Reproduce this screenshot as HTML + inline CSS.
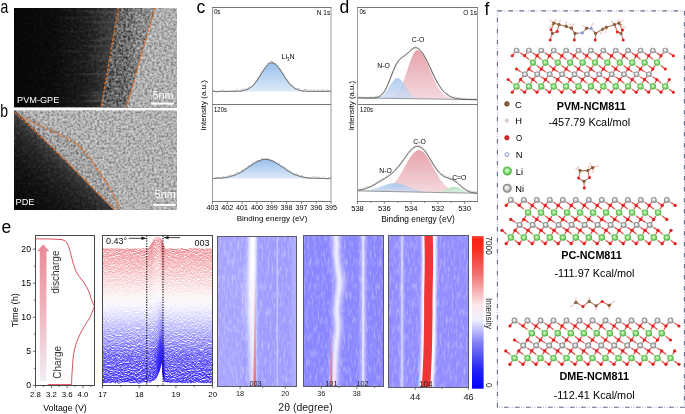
<!DOCTYPE html>
<html><head><meta charset="utf-8"><style>
html,body{margin:0;padding:0;background:#fff;width:685px;height:414px;overflow:hidden;}
svg{display:block;filter:grayscale(0.001);}
text{font-family:"Liberation Sans",sans-serif;}
</style></head><body>
<svg width="685" height="414" viewBox="0 0 685 414">
<defs>
<filter id="noiseA" x="0" y="0" width="100%" height="100%">
 <feTurbulence type="fractalNoise" baseFrequency="0.55" numOctaves="2" seed="4" result="t"/>
 <feColorMatrix type="matrix" values="0 0 0 0 0  0 0 0 0 0  0 0 0 0 0  1.6 0 0 0 -0.55" />
</filter>
<filter id="noiseB" x="0" y="0" width="100%" height="100%">
 <feTurbulence type="fractalNoise" baseFrequency="0.6" numOctaves="2" seed="9" result="t"/>
 <feColorMatrix type="matrix" values="0 0 0 0 1  0 0 0 0 1  0 0 0 0 1  1.6 0 0 0 -0.6" />
</filter>
<linearGradient id="gA" x1="0" x2="1" y1="0" y2="0">
 <stop offset="0" stop-color="#070707"/><stop offset="0.45" stop-color="#101010"/>
 <stop offset="0.8" stop-color="#222"/><stop offset="1" stop-color="#383838"/>
</linearGradient>
<linearGradient id="gB" x1="0" x2="1" y1="0" y2="1">
 <stop offset="0" stop-color="#151515"/><stop offset="0.6" stop-color="#202020"/>
 <stop offset="1" stop-color="#3a3a3a"/>
</linearGradient>
<clipPath id="cpA"><rect x="14" y="8" width="163" height="99.5"/></clipPath>
<clipPath id="cpB"><rect x="14" y="110.5" width="163" height="99"/></clipPath>
<linearGradient id="gN" x1="0" x2="0" y1="0" y2="1">
 <stop offset="0" stop-color="#98c0ec"/><stop offset="1" stop-color="#dde9f8"/>
</linearGradient>
<linearGradient id="gR" x1="0" x2="0" y1="0" y2="1">
 <stop offset="0" stop-color="#e3939e"/><stop offset="1" stop-color="#f2d3d9"/>
</linearGradient>
<linearGradient id="gBl" x1="0" x2="0" y1="0" y2="1">
 <stop offset="0" stop-color="#a0c4ee"/><stop offset="1" stop-color="#cfdaf2"/>
</linearGradient>
<linearGradient id="gG" x1="0" x2="0" y1="0" y2="1">
 <stop offset="0" stop-color="#a8e0b8"/><stop offset="1" stop-color="#d8f0e0"/>
</linearGradient>
<linearGradient id="gArrow" x1="0" x2="0" y1="0" y2="1">
 <stop offset="0" stop-color="#e98a95"/><stop offset="0.5" stop-color="#efb6be"/><stop offset="1" stop-color="#f1eef6"/>
</linearGradient>
<linearGradient id="gCB" x1="0" x2="0" y1="0" y2="1">
 <stop offset="0" stop-color="#f25050"/><stop offset="0.02" stop-color="#fa2414"/><stop offset="0.08" stop-color="#f82a1c"/><stop offset="0.25" stop-color="#f07070"/>
 <stop offset="0.45" stop-color="#fbe8e8"/><stop offset="0.55" stop-color="#f0f0ff"/><stop offset="0.7" stop-color="#8080f4"/>
 <stop offset="0.88" stop-color="#2020f4"/><stop offset="1" stop-color="#0000ff"/>
</linearGradient>
<linearGradient id="gWB" x1="0" x2="1" y1="0" y2="0">
 <stop offset="0" stop-color="#fff" stop-opacity="0"/><stop offset="0.5" stop-color="#fff" stop-opacity="1"/><stop offset="1" stop-color="#fff" stop-opacity="0"/>
</linearGradient>
</defs>
<text x="196.5" y="12.5" font-size="17.5" text-anchor="start" font-weight="normal" fill="#000" >c</text>
<text x="339.5" y="12.5" font-size="17.5" text-anchor="start" font-weight="normal" fill="#000" >d</text>
<text x="1.5" y="233" font-size="17.5" text-anchor="start" font-weight="normal" fill="#000" >e</text>
<text x="484.5" y="14.5" font-size="17.5" text-anchor="start" font-weight="normal" fill="#000" >f</text>
<text transform="translate(0.4,12.5) scale(0.8,1)" font-size="17.5">a</text>
<text transform="translate(0.2,116.5) scale(0.8,1)" font-size="17.5">b</text>
<filter id="grainA" x="0" y="0" width="1" height="1" color-interpolation-filters="sRGB">
 <feTurbulence type="fractalNoise" baseFrequency="0.42" numOctaves="2" seed="3" result="n0"/>
 <feGaussianBlur in="n0" stdDeviation="0.6" result="n"/>
 <feColorMatrix in="n" type="matrix" values="1.7 0 0 0 -0.35  1.7 0 0 0 -0.35  1.7 0 0 0 -0.35  0 0 0 0 1" result="g"/>
 <feBlend in="g" in2="SourceGraphic" mode="soft-light" result="b"/>
 <feComposite in="b" in2="SourceGraphic" operator="in"/>
</filter>
<filter id="grainDark" x="0" y="0" width="1" height="1" color-interpolation-filters="sRGB">
 <feTurbulence type="fractalNoise" baseFrequency="0.35" numOctaves="2" seed="5" result="n"/>
 <feColorMatrix in="n" type="matrix" values="0.5 0 0 0 0.25  0.5 0 0 0 0.25  0.5 0 0 0 0.25  0 0 0 0 1" result="g"/>
 <feBlend in="g" in2="SourceGraphic" mode="soft-light" result="b"/>
 <feComposite in="b" in2="SourceGraphic" operator="in"/>
</filter>
<filter id="grainB" x="0" y="0" width="1" height="1" color-interpolation-filters="sRGB">
 <feTurbulence type="fractalNoise" baseFrequency="0.42" numOctaves="2" seed="8" result="n0"/>
 <feGaussianBlur in="n0" stdDeviation="0.6" result="n"/>
 <feColorMatrix in="n" type="matrix" values="1.7 0 0 0 -0.35  1.7 0 0 0 -0.35  1.7 0 0 0 -0.35  0 0 0 0 1" result="g"/>
 <feBlend in="g" in2="SourceGraphic" mode="soft-light" result="b"/>
 <feComposite in="b" in2="SourceGraphic" operator="in"/>
</filter>
<linearGradient id="gA2" gradientUnits="userSpaceOnUse" x1="14" y1="0" x2="118" y2="0">
 <stop offset="0" stop-color="#060606"/><stop offset="0.4" stop-color="#0c0c0c"/>
 <stop offset="0.7" stop-color="#1c1c1c"/><stop offset="1" stop-color="#464646"/>
</linearGradient>
<linearGradient id="gB2" gradientUnits="userSpaceOnUse" x1="14" y1="209" x2="61.7" y2="158.8">
 <stop offset="0" stop-color="#060606"/><stop offset="0.5" stop-color="#131313"/>
 <stop offset="0.8" stop-color="#252525"/><stop offset="0.95" stop-color="#363636"/><stop offset="1" stop-color="#444"/>
</linearGradient>

<rect x="14" y="8" width="163" height="99.5" fill="url(#gA2)" filter="url(#grainDark)"/>
<filter id="streak" x="0" y="0" width="1" height="1" color-interpolation-filters="sRGB"><feTurbulence type="fractalNoise" baseFrequency="0.025 0.3" numOctaves="2" seed="2"/><feColorMatrix type="matrix" values="0 0 0 0 1  0 0 0 0 1  0 0 0 0 1  2.2 0 0 0 -1.05"/></filter>
<linearGradient id="streakFade" gradientUnits="userSpaceOnUse" x1="45" y1="0" x2="112" y2="0"><stop offset="0" stop-color="#fff" stop-opacity="0"/><stop offset="1" stop-color="#fff" stop-opacity="1"/></linearGradient>
<mask id="streakMask"><rect x="14" y="8" width="110" height="100" fill="url(#streakFade)"/></mask>
<filter id="cloud" x="0" y="0" width="1" height="1" color-interpolation-filters="sRGB"><feTurbulence type="fractalNoise" baseFrequency="0.12" numOctaves="2" seed="6"/><feColorMatrix type="matrix" values="0 0 0 0 1  0 0 0 0 1  0 0 0 0 1  1.6 0 0 0 -0.75"/></filter>
<clipPath id="cpMid"><polygon points="118.4,8 154.8,8 126.3,107.5 101.1,107.5"/></clipPath>
<clipPath id="cpLeftA"><polygon points="14,8 118.4,8 101.1,107.5 14,107.5"/></clipPath>
<g clip-path="url(#cpLeftA)"><rect x="14" y="8" width="110" height="99.5" filter="url(#streak)" mask="url(#streakMask)" opacity="0.18"/></g>
<g filter="url(#grainA)">
<linearGradient id="gMid" gradientUnits="userSpaceOnUse" x1="110" y1="0" x2="142" y2="0"><stop offset="0" stop-color="#5a5a5a"/><stop offset="0.6" stop-color="#6c6c6c"/><stop offset="1" stop-color="#8a8a8a"/></linearGradient>
<polygon points="118.4,8 154.8,8 126.3,107.5 101.1,107.5" fill="url(#gMid)"/>
<polygon points="154.8,8 177,8 177,107.5 126.3,107.5" fill="#b0b0b0"/>
</g>
<g clip-path="url(#cpMid)"><rect x="100" y="8" width="56" height="99.5" filter="url(#cloud)" opacity="0.3"/></g>
<g fill="none" stroke="#e06c1e" stroke-width="1.3" stroke-dasharray="2.8 1.6"><line x1="118.4" y1="8" x2="101.1" y2="107.5"/><line x1="154.8" y1="8" x2="126.3" y2="107.5"/></g>
<text x="17" y="102.5" font-size="9.2" text-anchor="start" font-weight="normal" fill="#fff" >PVM-GPE</text>
<text x="152.4" y="98.9" font-size="10.9" text-anchor="start" font-weight="normal" fill="#fff" >5nm</text>
<rect x="150.9" y="102.6" width="22.9" height="2" fill="#fff"/>
<g filter="url(#grainB)">
<rect x="14" y="110.5" width="163" height="99.5" fill="#b2b2b2"/>
<path d="M14,110.5 L20,110.5 C35,121 60,132 74,140 C88,150 96,166 108,183 C114,194 117,202 119,210 L14,210 Z" fill="#a4a4a4"/>
</g>
<path d="M14,110.5 L15.5,110.5 C40,135 70,165 114,210 L14,210 Z" fill="url(#gB2)" filter="url(#grainDark)"/>
<g fill="none" stroke="#e06c1e" stroke-width="1.3" stroke-dasharray="2.8 1.6"><path d="M14.8,112.4 C40,135 70,165 114,209"/><path d="M22,117 C35,124 60,134 74,142 C88,152 96,168 108,185 C114,195 117,202 119,209"/></g>
<text x="15.5" y="205.4" font-size="9.2" text-anchor="start" font-weight="normal" fill="#fff" >PDE</text>
<text x="154.6" y="198.1" font-size="10.9" text-anchor="start" font-weight="normal" fill="#fff" >5nm</text>
<rect x="153.1" y="204" width="22.7" height="1.9" fill="#fff"/>
<rect x="212.5" y="7.5" width="118.5" height="194.0" fill="#fff"/>
<path d="M240.5,91.5 L240.5,91.1 L241,91 L241.5,91 L242,90.9 L242.5,90.8 L243,90.7 L243.5,90.6 L244,90.5 L244.5,90.4 L245,90.2 L245.5,90.1 L246,89.9 L246.5,89.7 L247,89.5 L247.5,89.3 L248,89.1 L248.5,88.8 L249,88.5 L249.5,88.2 L250,87.9 L250.5,87.5 L251,87.2 L251.5,86.7 L252,86.3 L252.5,85.9 L253,85.4 L253.5,84.9 L254,84.3 L254.5,83.8 L255,83.2 L255.5,82.5 L256,81.9 L256.5,81.2 L257,80.5 L257.5,79.8 L258,79.1 L258.5,78.3 L259,77.5 L259.5,76.8 L260,76 L260.5,75.2 L261,74.4 L261.5,73.5 L262,72.7 L262.5,71.9 L263,71.1 L263.5,70.4 L264,69.6 L264.5,68.9 L265,68.2 L265.5,67.5 L266,66.8 L266.5,66.2 L267,65.6 L267.5,65.1 L268,64.6 L268.5,64.2 L269,63.8 L269.5,63.5 L270,63.2 L270.5,63 L271,62.8 L271.5,62.7 L272,62.7 L272.5,62.7 L273,62.8 L273.5,63 L274,63.2 L274.5,63.5 L275,63.8 L275.5,64.2 L276,64.6 L276.5,65.1 L277,65.6 L277.5,66.2 L278,66.8 L278.5,67.5 L279,68.2 L279.5,68.9 L280,69.6 L280.5,70.4 L281,71.1 L281.5,71.9 L282,72.7 L282.5,73.5 L283,74.4 L283.5,75.2 L284,76 L284.5,76.8 L285,77.5 L285.5,78.3 L286,79.1 L286.5,79.8 L287,80.5 L287.5,81.2 L288,81.9 L288.5,82.5 L289,83.2 L289.5,83.8 L290,84.3 L290.5,84.9 L291,85.4 L291.5,85.9 L292,86.3 L292.5,86.7 L293,87.2 L293.5,87.5 L294,87.9 L294.5,88.2 L295,88.5 L295.5,88.8 L296,89.1 L296.5,89.3 L297,89.5 L297.5,89.7 L298,89.9 L298.5,90.1 L299,90.2 L299.5,90.4 L300,90.5 L300.5,90.6 L301,90.7 L301.5,90.8 L302,90.9 L302.5,91 L303,91 L303.5,91.1 L303.5,91.5 Z" fill="url(#gN)"/>
<path d="M212.5,91.2 L213.5,90.4 L214.5,90.7 L215.5,91.9 L216.5,91.9 L217.5,91.8 L218.5,91 L219.5,91.7 L220.5,90.5 L221.5,90.6 L222.5,89.7 L223.5,89.9 L224.5,91.7 L225.5,91.3 L226.5,91.6 L227.5,90.5 L228.5,90.7 L229.5,91.8 L230.5,90.3 L231.5,91.2 L232.5,90.9 L233.5,90 L234.5,91.3 L235.5,90.6 L236.5,90.1 L237.5,89.5 L238.5,90.8 L239.5,91.3 L240.5,91.5 L241.5,89.6 L242.5,89.2 L243.5,89.4 L244.5,89.5 L245.5,88.6 L246.5,89.1 L247.5,89.7 L248.5,87.7 L249.5,86.7 L250.5,87.1 L251.5,87.2 L252.5,86 L253.5,85.2 L254.5,83.9 L255.5,82.1 L256.5,81.5 L257.5,79 L258.5,76.8 L259.5,76.6 L260.5,74.8 L261.5,71.7 L262.5,72 L263.5,70.3 L264.5,68 L265.5,68 L266.5,65.8 L267.5,63.3 L268.5,63.4 L269.5,62.3 L270.5,61.3 L271.5,61.1 L272.5,62.3 L273.5,63.2 L274.5,63.8 L275.5,64.2 L276.5,64.8 L277.5,66.7 L278.5,67.7 L279.5,69.3 L280.5,69.4 L281.5,71.8 L282.5,73.2 L283.5,73.6 L284.5,76.1 L285.5,78.6 L286.5,79.5 L287.5,79.7 L288.5,83 L289.5,83 L290.5,84.1 L291.5,85.1 L292.5,85.2 L293.5,87.4 L294.5,88.3 L295.5,88 L296.5,89 L297.5,88.3 L298.5,88.5 L299.5,88.9 L300.5,90.6 L301.5,90.5 L302.5,91.4 L303.5,91 L304.5,89.4 L305.5,89.5 L306.5,89.5 L307.5,91.3 L308.5,91.4 L309.5,90.4 L310.5,89.9 L311.5,90.4 L312.5,91.8 L313.5,89.8 L314.5,90.2 L315.5,91.6 L316.5,91.2 L317.5,89.7 L318.5,91 L319.5,90.3 L320.5,91.7 L321.5,89.8 L322.5,91.6 L323.5,89.6 L324.5,91.2 L325.5,91.7 L326.5,89.7 L327.5,90.7 L328.5,91 L329.5,90 L330.5,91.4" fill="none" stroke="#8c8c8c" stroke-width="0.6"/>
<path d="M212.5,91.5 L213,91.5 L213.5,91.5 L214,91.5 L214.5,91.5 L215,91.5 L215.5,91.5 L216,91.5 L216.5,91.5 L217,91.5 L217.5,91.5 L218,91.5 L218.5,91.5 L219,91.5 L219.5,91.5 L220,91.5 L220.5,91.5 L221,91.5 L221.5,91.5 L222,91.5 L222.5,91.5 L223,91.5 L223.5,91.5 L224,91.5 L224.5,91.5 L225,91.5 L225.5,91.5 L226,91.5 L226.5,91.5 L227,91.5 L227.5,91.5 L228,91.5 L228.5,91.5 L229,91.5 L229.5,91.5 L230,91.5 L230.5,91.5 L231,91.5 L231.5,91.5 L232,91.5 L232.5,91.5 L233,91.5 L233.5,91.4 L234,91.4 L234.5,91.4 L235,91.4 L235.5,91.4 L236,91.4 L236.5,91.4 L237,91.3 L237.5,91.3 L238,91.3 L238.5,91.3 L239,91.2 L239.5,91.2 L240,91.1 L240.5,91.1 L241,91 L241.5,91 L242,90.9 L242.5,90.8 L243,90.7 L243.5,90.6 L244,90.5 L244.5,90.4 L245,90.2 L245.5,90.1 L246,89.9 L246.5,89.7 L247,89.5 L247.5,89.3 L248,89.1 L248.5,88.8 L249,88.5 L249.5,88.2 L250,87.9 L250.5,87.5 L251,87.2 L251.5,86.7 L252,86.3 L252.5,85.9 L253,85.4 L253.5,84.9 L254,84.3 L254.5,83.8 L255,83.2 L255.5,82.5 L256,81.9 L256.5,81.2 L257,80.5 L257.5,79.8 L258,79.1 L258.5,78.3 L259,77.5 L259.5,76.8 L260,76 L260.5,75.2 L261,74.4 L261.5,73.5 L262,72.7 L262.5,71.9 L263,71.1 L263.5,70.4 L264,69.6 L264.5,68.9 L265,68.2 L265.5,67.5 L266,66.8 L266.5,66.2 L267,65.6 L267.5,65.1 L268,64.6 L268.5,64.2 L269,63.8 L269.5,63.5 L270,63.2 L270.5,63 L271,62.8 L271.5,62.7 L272,62.7 L272.5,62.7 L273,62.8 L273.5,63 L274,63.2 L274.5,63.5 L275,63.8 L275.5,64.2 L276,64.6 L276.5,65.1 L277,65.6 L277.5,66.2 L278,66.8 L278.5,67.5 L279,68.2 L279.5,68.9 L280,69.6 L280.5,70.4 L281,71.1 L281.5,71.9 L282,72.7 L282.5,73.5 L283,74.4 L283.5,75.2 L284,76 L284.5,76.8 L285,77.5 L285.5,78.3 L286,79.1 L286.5,79.8 L287,80.5 L287.5,81.2 L288,81.9 L288.5,82.5 L289,83.2 L289.5,83.8 L290,84.3 L290.5,84.9 L291,85.4 L291.5,85.9 L292,86.3 L292.5,86.7 L293,87.2 L293.5,87.5 L294,87.9 L294.5,88.2 L295,88.5 L295.5,88.8 L296,89.1 L296.5,89.3 L297,89.5 L297.5,89.7 L298,89.9 L298.5,90.1 L299,90.2 L299.5,90.4 L300,90.5 L300.5,90.6 L301,90.7 L301.5,90.8 L302,90.9 L302.5,91 L303,91 L303.5,91.1 L304,91.1 L304.5,91.2 L305,91.2 L305.5,91.3 L306,91.3 L306.5,91.3 L307,91.3 L307.5,91.4 L308,91.4 L308.5,91.4 L309,91.4 L309.5,91.4 L310,91.4 L310.5,91.4 L311,91.5 L311.5,91.5 L312,91.5 L312.5,91.5 L313,91.5 L313.5,91.5 L314,91.5 L314.5,91.5 L315,91.5 L315.5,91.5 L316,91.5 L316.5,91.5 L317,91.5 L317.5,91.5 L318,91.5 L318.5,91.5 L319,91.5 L319.5,91.5 L320,91.5 L320.5,91.5 L321,91.5 L321.5,91.5 L322,91.5 L322.5,91.5 L323,91.5 L323.5,91.5 L324,91.5 L324.5,91.5 L325,91.5 L325.5,91.5 L326,91.5 L326.5,91.5 L327,91.5 L327.5,91.5 L328,91.5 L328.5,91.5 L329,91.5 L329.5,91.5 L330,91.5 L330.5,91.5 L331,91.5" fill="none" stroke="#4a4a4a" stroke-width="0.8"/>
<path d="M219.5,178.6 L219.5,178.2 L220,178.2 L220.5,178.1 L221,178.1 L221.5,178 L222,178 L222.5,177.9 L223,177.9 L223.5,177.8 L224,177.8 L224.5,177.7 L225,177.6 L225.5,177.5 L226,177.5 L226.5,177.4 L227,177.3 L227.5,177.2 L228,177.1 L228.5,177 L229,176.9 L229.5,176.8 L230,176.6 L230.5,176.5 L231,176.4 L231.5,176.2 L232,176.1 L232.5,175.9 L233,175.8 L233.5,175.6 L234,175.4 L234.5,175.2 L235,175 L235.5,174.8 L236,174.6 L236.5,174.4 L237,174.2 L237.5,174 L238,173.7 L238.5,173.5 L239,173.2 L239.5,173 L240,172.7 L240.5,172.4 L241,172.1 L241.5,171.8 L242,171.6 L242.5,171.2 L243,170.9 L243.5,170.6 L244,170.3 L244.5,170 L245,169.6 L245.5,169.3 L246,169 L246.5,168.6 L247,168.3 L247.5,167.9 L248,167.6 L248.5,167.2 L249,166.9 L249.5,166.5 L250,166.2 L250.5,165.8 L251,165.5 L251.5,165.1 L252,164.8 L252.5,164.5 L253,164.1 L253.5,163.8 L254,163.5 L254.5,163.2 L255,162.9 L255.5,162.6 L256,162.3 L256.5,162 L257,161.8 L257.5,161.5 L258,161.3 L258.5,161 L259,160.8 L259.5,160.6 L260,160.4 L260.5,160.3 L261,160.1 L261.5,159.9 L262,159.8 L262.5,159.7 L263,159.6 L263.5,159.5 L264,159.5 L264.5,159.4 L265,159.4 L265.5,159.4 L266,159.4 L266.5,159.4 L267,159.5 L267.5,159.5 L268,159.6 L268.5,159.7 L269,159.8 L269.5,159.9 L270,160.1 L270.5,160.3 L271,160.4 L271.5,160.6 L272,160.8 L272.5,161 L273,161.3 L273.5,161.5 L274,161.8 L274.5,162 L275,162.3 L275.5,162.6 L276,162.9 L276.5,163.2 L277,163.5 L277.5,163.8 L278,164.1 L278.5,164.5 L279,164.8 L279.5,165.1 L280,165.5 L280.5,165.8 L281,166.2 L281.5,166.5 L282,166.9 L282.5,167.2 L283,167.6 L283.5,167.9 L284,168.3 L284.5,168.6 L285,169 L285.5,169.3 L286,169.6 L286.5,170 L287,170.3 L287.5,170.6 L288,170.9 L288.5,171.2 L289,171.6 L289.5,171.8 L290,172.1 L290.5,172.4 L291,172.7 L291.5,173 L292,173.2 L292.5,173.5 L293,173.7 L293.5,174 L294,174.2 L294.5,174.4 L295,174.6 L295.5,174.8 L296,175 L296.5,175.2 L297,175.4 L297.5,175.6 L298,175.8 L298.5,175.9 L299,176.1 L299.5,176.2 L300,176.4 L300.5,176.5 L301,176.6 L301.5,176.8 L302,176.9 L302.5,177 L303,177.1 L303.5,177.2 L304,177.3 L304.5,177.4 L305,177.5 L305.5,177.5 L306,177.6 L306.5,177.7 L307,177.8 L307.5,177.8 L308,177.9 L308.5,177.9 L309,178 L309.5,178 L310,178.1 L310.5,178.1 L311,178.2 L311.5,178.2 L311.5,178.6 Z" fill="url(#gN)"/>
<path d="M212.5,178.4 L213.5,178.3 L214.5,178.6 L215.5,178 L216.5,177.5 L217.5,177.8 L218.5,177.5 L219.5,177.4 L220.5,177.6 L221.5,178.5 L222.5,178 L223.5,176.6 L224.5,177.4 L225.5,176.7 L226.5,177.6 L227.5,177.1 L228.5,175.6 L229.5,175.9 L230.5,174.8 L231.5,175.3 L232.5,175.2 L233.5,175 L234.5,174.6 L235.5,173.7 L236.5,172.7 L237.5,173.1 L238.5,172 L239.5,173.2 L240.5,172.7 L241.5,172.2 L242.5,169.9 L243.5,170.8 L244.5,168.9 L245.5,167.7 L246.5,168.6 L247.5,167.5 L248.5,165.4 L249.5,166.6 L250.5,165.1 L251.5,165.2 L252.5,163.2 L253.5,163 L254.5,163.6 L255.5,161.6 L256.5,162.4 L257.5,160.1 L258.5,161.3 L259.5,161 L260.5,160.1 L261.5,159.4 L262.5,158.2 L263.5,159.7 L264.5,158.6 L265.5,159.7 L266.5,158.3 L267.5,159.9 L268.5,158.7 L269.5,160.2 L270.5,160.6 L271.5,160 L272.5,160.2 L273.5,161.4 L274.5,161.3 L275.5,162.8 L276.5,163.6 L277.5,163.6 L278.5,163.1 L279.5,164.4 L280.5,165.5 L281.5,166.4 L282.5,166 L283.5,168 L284.5,166.9 L285.5,167.8 L286.5,169.3 L287.5,170.2 L288.5,170.1 L289.5,171.5 L290.5,171.2 L291.5,172.5 L292.5,173.9 L293.5,174.3 L294.5,174.3 L295.5,175.1 L296.5,173.7 L297.5,175.4 L298.5,175.7 L299.5,176.4 L300.5,176.4 L301.5,174.9 L302.5,176.9 L303.5,177 L304.5,177.9 L305.5,176.9 L306.5,177.7 L307.5,178.3 L308.5,178.2 L309.5,178.4 L310.5,177.9 L311.5,177.3 L312.5,176.9 L313.5,177.1 L314.5,177.9 L315.5,176.5 L316.5,177.2 L317.5,178.9 L318.5,176.8 L319.5,177.2 L320.5,178.7 L321.5,177.8 L322.5,177.1 L323.5,177.7 L324.5,177.4 L325.5,178.5 L326.5,178.8 L327.5,178.8 L328.5,177.7 L329.5,177.6 L330.5,177.9" fill="none" stroke="#8c8c8c" stroke-width="0.6"/>
<path d="M212.5,178.5 L213,178.5 L213.5,178.5 L214,178.4 L214.5,178.4 L215,178.4 L215.5,178.4 L216,178.4 L216.5,178.4 L217,178.3 L217.5,178.3 L218,178.3 L218.5,178.3 L219,178.2 L219.5,178.2 L220,178.2 L220.5,178.1 L221,178.1 L221.5,178 L222,178 L222.5,177.9 L223,177.9 L223.5,177.8 L224,177.8 L224.5,177.7 L225,177.6 L225.5,177.5 L226,177.5 L226.5,177.4 L227,177.3 L227.5,177.2 L228,177.1 L228.5,177 L229,176.9 L229.5,176.8 L230,176.6 L230.5,176.5 L231,176.4 L231.5,176.2 L232,176.1 L232.5,175.9 L233,175.8 L233.5,175.6 L234,175.4 L234.5,175.2 L235,175 L235.5,174.8 L236,174.6 L236.5,174.4 L237,174.2 L237.5,174 L238,173.7 L238.5,173.5 L239,173.2 L239.5,173 L240,172.7 L240.5,172.4 L241,172.1 L241.5,171.8 L242,171.6 L242.5,171.2 L243,170.9 L243.5,170.6 L244,170.3 L244.5,170 L245,169.6 L245.5,169.3 L246,169 L246.5,168.6 L247,168.3 L247.5,167.9 L248,167.6 L248.5,167.2 L249,166.9 L249.5,166.5 L250,166.2 L250.5,165.8 L251,165.5 L251.5,165.1 L252,164.8 L252.5,164.5 L253,164.1 L253.5,163.8 L254,163.5 L254.5,163.2 L255,162.9 L255.5,162.6 L256,162.3 L256.5,162 L257,161.8 L257.5,161.5 L258,161.3 L258.5,161 L259,160.8 L259.5,160.6 L260,160.4 L260.5,160.3 L261,160.1 L261.5,159.9 L262,159.8 L262.5,159.7 L263,159.6 L263.5,159.5 L264,159.5 L264.5,159.4 L265,159.4 L265.5,159.4 L266,159.4 L266.5,159.4 L267,159.5 L267.5,159.5 L268,159.6 L268.5,159.7 L269,159.8 L269.5,159.9 L270,160.1 L270.5,160.3 L271,160.4 L271.5,160.6 L272,160.8 L272.5,161 L273,161.3 L273.5,161.5 L274,161.8 L274.5,162 L275,162.3 L275.5,162.6 L276,162.9 L276.5,163.2 L277,163.5 L277.5,163.8 L278,164.1 L278.5,164.5 L279,164.8 L279.5,165.1 L280,165.5 L280.5,165.8 L281,166.2 L281.5,166.5 L282,166.9 L282.5,167.2 L283,167.6 L283.5,167.9 L284,168.3 L284.5,168.6 L285,169 L285.5,169.3 L286,169.6 L286.5,170 L287,170.3 L287.5,170.6 L288,170.9 L288.5,171.2 L289,171.6 L289.5,171.8 L290,172.1 L290.5,172.4 L291,172.7 L291.5,173 L292,173.2 L292.5,173.5 L293,173.7 L293.5,174 L294,174.2 L294.5,174.4 L295,174.6 L295.5,174.8 L296,175 L296.5,175.2 L297,175.4 L297.5,175.6 L298,175.8 L298.5,175.9 L299,176.1 L299.5,176.2 L300,176.4 L300.5,176.5 L301,176.6 L301.5,176.8 L302,176.9 L302.5,177 L303,177.1 L303.5,177.2 L304,177.3 L304.5,177.4 L305,177.5 L305.5,177.5 L306,177.6 L306.5,177.7 L307,177.8 L307.5,177.8 L308,177.9 L308.5,177.9 L309,178 L309.5,178 L310,178.1 L310.5,178.1 L311,178.2 L311.5,178.2 L312,178.2 L312.5,178.3 L313,178.3 L313.5,178.3 L314,178.3 L314.5,178.4 L315,178.4 L315.5,178.4 L316,178.4 L316.5,178.4 L317,178.4 L317.5,178.5 L318,178.5 L318.5,178.5 L319,178.5 L319.5,178.5 L320,178.5 L320.5,178.5 L321,178.5 L321.5,178.5 L322,178.5 L322.5,178.5 L323,178.6 L323.5,178.6 L324,178.6 L324.5,178.6 L325,178.6 L325.5,178.6 L326,178.6 L326.5,178.6 L327,178.6 L327.5,178.6 L328,178.6 L328.5,178.6 L329,178.6 L329.5,178.6 L330,178.6 L330.5,178.6 L331,178.6" fill="none" stroke="#4a4a4a" stroke-width="0.8"/>
<path d="M212.5,7.5 V201.5 M331,7.5 V201.5" stroke="#9a9a9a" stroke-width="1" fill="none"/>
<path d="M212.0,7.5 H331.5 M212.0,201.5 H331.5 M212.5,104.5 H331" stroke="#767676" stroke-width="1" fill="none"/>
<text transform="translate(213.9,13.9) scale(0.93,1)" font-size="6.7" text-anchor="start" fill="#000">0s</text>
<text transform="translate(330.2,14.6) scale(0.93,1)" font-size="7.0" text-anchor="end" fill="#000">N 1s</text>
<text x="281.6" y="59" font-size="7" text-anchor="start" font-weight="normal" fill="#000" >Li<tspan font-size="4.5" dy="1.5">3</tspan><tspan dy="-1.5">N</tspan></text>
<text transform="translate(214,111.5) scale(0.88,1)" font-size="6.8" text-anchor="start" fill="#000">120s</text>
<line x1="212.5" y1="201.5" x2="212.5" y2="204.0" stroke="#707070" stroke-width="0.8"/>
<text x="212.5" y="210" font-size="7.2" text-anchor="middle" font-weight="normal" fill="#000" >403</text>
<line x1="227.3" y1="201.5" x2="227.3" y2="204.0" stroke="#707070" stroke-width="0.8"/>
<text x="227.3" y="210" font-size="7.2" text-anchor="middle" font-weight="normal" fill="#000" >402</text>
<line x1="242.1" y1="201.5" x2="242.1" y2="204.0" stroke="#707070" stroke-width="0.8"/>
<text x="242.1" y="210" font-size="7.2" text-anchor="middle" font-weight="normal" fill="#000" >401</text>
<line x1="256.9" y1="201.5" x2="256.9" y2="204.0" stroke="#707070" stroke-width="0.8"/>
<text x="256.9" y="210" font-size="7.2" text-anchor="middle" font-weight="normal" fill="#000" >400</text>
<line x1="271.8" y1="201.5" x2="271.8" y2="204.0" stroke="#707070" stroke-width="0.8"/>
<text x="271.8" y="210" font-size="7.2" text-anchor="middle" font-weight="normal" fill="#000" >399</text>
<line x1="286.6" y1="201.5" x2="286.6" y2="204.0" stroke="#707070" stroke-width="0.8"/>
<text x="286.6" y="210" font-size="7.2" text-anchor="middle" font-weight="normal" fill="#000" >398</text>
<line x1="301.4" y1="201.5" x2="301.4" y2="204.0" stroke="#707070" stroke-width="0.8"/>
<text x="301.4" y="210" font-size="7.2" text-anchor="middle" font-weight="normal" fill="#000" >397</text>
<line x1="316.2" y1="201.5" x2="316.2" y2="204.0" stroke="#707070" stroke-width="0.8"/>
<text x="316.2" y="210" font-size="7.2" text-anchor="middle" font-weight="normal" fill="#000" >396</text>
<line x1="331" y1="201.5" x2="331" y2="204.0" stroke="#707070" stroke-width="0.8"/>
<text x="331" y="210" font-size="7.2" text-anchor="middle" font-weight="normal" fill="#000" >395</text>
<text x="272" y="221.2" font-size="8" text-anchor="middle" font-weight="normal" fill="#000" >Binding energy (eV)</text>
<text transform="translate(205.6,105.4) rotate(-90)" font-size="8" text-anchor="middle">Intensity (a.u.)</text>
<path d="M386.5,98.3 L386.5,98 L387,97.9 L387.5,97.9 L388,97.8 L388.5,97.7 L389,97.6 L389.5,97.5 L390,97.4 L390.5,97.3 L391,97.1 L391.5,96.9 L392,96.7 L392.5,96.5 L393,96.2 L393.5,95.9 L394,95.6 L394.5,95.3 L395,94.9 L395.5,94.5 L396,94 L396.5,93.5 L397,92.9 L397.5,92.3 L398,91.6 L398.5,90.9 L399,90.1 L399.5,89.3 L400,88.4 L400.5,87.5 L401,86.5 L401.5,85.5 L402,84.4 L402.5,83.2 L403,82 L403.5,80.7 L404,79.4 L404.5,78.1 L405,76.7 L405.5,75.3 L406,73.8 L406.5,72.3 L407,70.9 L407.5,69.4 L408,67.9 L408.5,66.4 L409,64.9 L409.5,63.4 L410,62 L410.5,60.6 L411,59.3 L411.5,58 L412,56.8 L412.5,55.7 L413,54.6 L413.5,53.7 L414,52.8 L414.5,52 L415,51.4 L415.5,50.9 L416,50.5 L416.5,50.2 L417,50 L417.5,50 L418,50.1 L418.5,50.2 L419,50.4 L419.5,50.7 L420,51.1 L420.5,51.6 L421,52.1 L421.5,52.7 L422,53.4 L422.5,54.1 L423,54.9 L423.5,55.7 L424,56.6 L424.5,57.6 L425,58.6 L425.5,59.6 L426,60.7 L426.5,61.8 L427,63 L427.5,64.1 L428,65.3 L428.5,66.5 L429,67.7 L429.5,68.9 L430,70.1 L430.5,71.3 L431,72.5 L431.5,73.7 L432,74.9 L432.5,76.1 L433,77.2 L433.5,78.3 L434,79.4 L434.5,80.5 L435,81.5 L435.5,82.5 L436,83.5 L436.5,84.5 L437,85.4 L437.5,86.3 L438,87.1 L438.5,87.9 L439,88.7 L439.5,89.4 L440,90.1 L440.5,90.8 L441,91.4 L441.5,92 L442,92.6 L442.5,93.1 L443,93.6 L443.5,94.1 L444,94.5 L444.5,94.9 L445,95.3 L445.5,95.6 L446,96 L446.5,96.3 L447,96.5 L447.5,96.8 L448,97 L448.5,97.3 L449,97.5 L449.5,97.7 L450,97.8 L450.5,98 L451,98.1 L451.5,98.3 L452,98.4 L452.5,98.5 L453,98.6 L453.5,98.7 L454,98.8 L454.5,98.8 L455,98.9 L455.5,99 L456,99 L456.5,99.1 L456.5,99.4 Z" fill="url(#gR)" opacity="0.85"/>
<path d="M375.5,98.2 L375.5,97.8 L376,97.8 L376.5,97.7 L377,97.6 L377.5,97.5 L378,97.4 L378.5,97.3 L379,97.1 L379.5,96.9 L380,96.7 L380.5,96.5 L381,96.2 L381.5,96 L382,95.6 L382.5,95.3 L383,94.9 L383.5,94.4 L384,93.9 L384.5,93.4 L385,92.9 L385.5,92.3 L386,91.6 L386.5,91 L387,90.3 L387.5,89.5 L388,88.8 L388.5,88 L389,87.2 L389.5,86.4 L390,85.6 L390.5,84.8 L391,84 L391.5,83.2 L392,82.4 L392.5,81.7 L393,81 L393.5,80.4 L394,79.8 L394.5,79.3 L395,78.9 L395.5,78.5 L396,78.2 L396.5,78 L397,77.9 L397.5,77.9 L398,78 L398.5,78.1 L399,78.4 L399.5,78.7 L400,79.1 L400.5,79.6 L401,80.1 L401.5,80.7 L402,81.4 L402.5,82.1 L403,82.9 L403.5,83.7 L404,84.5 L404.5,85.3 L405,86.1 L405.5,86.9 L406,87.8 L406.5,88.6 L407,89.4 L407.5,90.1 L408,90.9 L408.5,91.6 L409,92.2 L409.5,92.9 L410,93.5 L410.5,94 L411,94.5 L411.5,95 L412,95.5 L412.5,95.9 L413,96.2 L413.5,96.6 L414,96.9 L414.5,97.1 L415,97.4 L415.5,97.6 L416,97.7 L416.5,97.9 L417,98.1 L417.5,98.2 L418,98.3 L418.5,98.4 L419,98.5 L419.5,98.5 L419.5,98.8 Z" fill="url(#gBl)" opacity="0.8"/>
<line x1="357.5" y1="97.9" x2="477.5" y2="99.7" stroke="#777" stroke-width="0.7"/>
<path d="M357.5,96.8 L358.5,96.9 L359.5,97.2 L360.5,97.2 L361.5,97.1 L362.5,97.8 L363.5,97 L364.5,97.6 L365.5,97.8 L366.5,97.6 L367.5,97.1 L368.5,97.7 L369.5,97.1 L370.5,96.8 L371.5,97.3 L372.5,97.4 L373.5,97.3 L374.5,96.9 L375.5,96.7 L376.5,96.7 L377.5,96.4 L378.5,96.7 L379.5,96.1 L380.5,95.4 L381.5,94 L382.5,93.5 L383.5,92 L384.5,91.2 L385.5,89.5 L386.5,87.3 L387.5,84.7 L388.5,82.3 L389.5,79.8 L390.5,77.7 L391.5,74.8 L392.5,72.3 L393.5,69.7 L394.5,67.8 L395.5,64.7 L396.5,63.6 L397.5,61 L398.5,59.7 L399.5,59.6 L400.5,58.1 L401.5,56.9 L402.5,56 L403.5,55.9 L404.5,55.4 L405.5,54.8 L406.5,53.1 L407.5,53.1 L408.5,51.8 L409.5,51.3 L410.5,49.9 L411.5,48.5 L412.5,48.7 L413.5,47.3 L414.5,47.2 L415.5,46.6 L416.5,47 L417.5,48 L418.5,47.7 L419.5,49 L420.5,50.5 L421.5,51.7 L422.5,52.5 L423.5,54.1 L424.5,55.9 L425.5,58 L426.5,59.7 L427.5,61.7 L428.5,63.2 L429.5,66.4 L430.5,67.7 L431.5,69.7 L432.5,72.8 L433.5,73.9 L434.5,76.2 L435.5,78 L436.5,80.6 L437.5,82.3 L438.5,84 L439.5,84.9 L440.5,86.8 L441.5,88.5 L442.5,89.6 L443.5,91 L444.5,92.3 L445.5,93.1 L446.5,93.1 L447.5,94.5 L448.5,94.4 L449.5,95.8 L450.5,96.3 L451.5,96.4 L452.5,97.2 L453.5,97.3 L454.5,96.9 L455.5,97.2 L456.5,97.5 L457.5,97.9 L458.5,97.7 L459.5,97.8 L460.5,98.3 L461.5,98.2 L462.5,99.1 L463.5,98.3 L464.5,98.7 L465.5,98.4 L466.5,98.6 L467.5,99 L468.5,99.4 L469.5,98.3 L470.5,99.3 L471.5,98.9 L472.5,99.1 L473.5,99.2 L474.5,98.7 L475.5,98.4 L476.5,99.3 L477.5,98.8" fill="none" stroke="#aaa" stroke-width="0.6"/>
<path d="M357.5,97.9 L358,97.9 L358.5,97.9 L359,97.9 L359.5,97.9 L360,97.9 L360.5,97.9 L361,98 L361.5,98 L362,98 L362.5,98 L363,98 L363.5,98 L364,98 L364.5,98 L365,98 L365.5,98 L366,98 L366.5,98 L367,98 L367.5,98 L368,98 L368.5,98 L369,98 L369.5,98 L370,98 L370.5,98 L371,98 L371.5,98 L372,98 L372.5,98 L373,98 L373.5,97.9 L374,97.9 L374.5,97.8 L375,97.8 L375.5,97.7 L376,97.6 L376.5,97.5 L377,97.4 L377.5,97.3 L378,97.1 L378.5,96.9 L379,96.7 L379.5,96.4 L380,96.1 L380.5,95.8 L381,95.4 L381.5,95 L382,94.5 L382.5,94 L383,93.4 L383.5,92.8 L384,92.1 L384.5,91.3 L385,90.5 L385.5,89.7 L386,88.7 L386.5,87.7 L387,86.7 L387.5,85.6 L388,84.4 L388.5,83.3 L389,82 L389.5,80.8 L390,79.5 L390.5,78.2 L391,76.8 L391.5,75.5 L392,74.2 L392.5,72.9 L393,71.6 L393.5,70.4 L394,69.2 L394.5,68 L395,66.9 L395.5,65.9 L396,64.9 L396.5,64 L397,63.1 L397.5,62.3 L398,61.6 L398.5,60.9 L399,60.3 L399.5,59.7 L400,59.2 L400.5,58.8 L401,58.3 L401.5,57.9 L402,57.6 L402.5,57.2 L403,56.9 L403.5,56.5 L404,56.2 L404.5,55.9 L405,55.5 L405.5,55.1 L406,54.8 L406.5,54.4 L407,53.9 L407.5,53.5 L408,53 L408.5,52.6 L409,52.1 L409.5,51.6 L410,51.1 L410.5,50.7 L411,50.2 L411.5,49.8 L412,49.3 L412.5,49 L413,48.6 L413.5,48.3 L414,48.1 L414.5,47.9 L415,47.8 L415.5,47.8 L416,47.8 L416.5,47.9 L417,48.1 L417.5,48.3 L418,48.6 L418.5,48.9 L419,49.3 L419.5,49.7 L420,50.1 L420.5,50.7 L421,51.2 L421.5,51.8 L422,52.5 L422.5,53.2 L423,53.9 L423.5,54.7 L424,55.5 L424.5,56.4 L425,57.3 L425.5,58.2 L426,59.2 L426.5,60.2 L427,61.2 L427.5,62.2 L428,63.3 L428.5,64.3 L429,65.4 L429.5,66.5 L430,67.6 L430.5,68.7 L431,69.8 L431.5,70.8 L432,71.9 L432.5,73 L433,74.1 L433.5,75.1 L434,76.2 L434.5,77.2 L435,78.2 L435.5,79.2 L436,80.1 L436.5,81.1 L437,82 L437.5,82.9 L438,83.7 L438.5,84.6 L439,85.4 L439.5,86.2 L440,86.9 L440.5,87.6 L441,88.3 L441.5,89 L442,89.6 L442.5,90.3 L443,90.8 L443.5,91.4 L444,91.9 L444.5,92.4 L445,92.9 L445.5,93.4 L446,93.8 L446.5,94.2 L447,94.6 L447.5,94.9 L448,95.3 L448.5,95.6 L449,95.9 L449.5,96.2 L450,96.4 L450.5,96.7 L451,96.9 L451.5,97.1 L452,97.3 L452.5,97.5 L453,97.7 L453.5,97.8 L454,98 L454.5,98.1 L455,98.2 L455.5,98.3 L456,98.4 L456.5,98.5 L457,98.6 L457.5,98.7 L458,98.8 L458.5,98.9 L459,98.9 L459.5,99 L460,99 L460.5,99.1 L461,99.1 L461.5,99.2 L462,99.2 L462.5,99.2 L463,99.3 L463.5,99.3 L464,99.3 L464.5,99.4 L465,99.4 L465.5,99.4 L466,99.4 L466.5,99.5 L467,99.5 L467.5,99.5 L468,99.5 L468.5,99.5 L469,99.5 L469.5,99.5 L470,99.6 L470.5,99.6 L471,99.6 L471.5,99.6 L472,99.6 L472.5,99.6 L473,99.6 L473.5,99.6 L474,99.6 L474.5,99.6 L475,99.7 L475.5,99.7 L476,99.7 L476.5,99.7 L477,99.7 L477.5,99.7" fill="none" stroke="#3a3a3a" stroke-width="0.8"/>
<path d="M375,191.2 L375,190.9 L375.5,190.9 L376,190.9 L376.5,190.9 L377,190.8 L377.5,190.8 L378,190.7 L378.5,190.7 L379,190.6 L379.5,190.6 L380,190.5 L380.5,190.4 L381,190.3 L381.5,190.2 L382,190.1 L382.5,190 L383,189.9 L383.5,189.7 L384,189.6 L384.5,189.4 L385,189.2 L385.5,189.1 L386,188.9 L386.5,188.6 L387,188.4 L387.5,188.2 L388,187.9 L388.5,187.6 L389,187.3 L389.5,187 L390,186.6 L390.5,186.3 L391,185.9 L391.5,185.5 L392,185 L392.5,184.6 L393,184.1 L393.5,183.6 L394,183.1 L394.5,182.6 L395,182 L395.5,181.4 L396,180.8 L396.5,180.1 L397,179.5 L397.5,178.8 L398,178.1 L398.5,177.3 L399,176.6 L399.5,175.8 L400,175 L400.5,174.2 L401,173.4 L401.5,172.6 L402,171.7 L402.5,170.8 L403,170 L403.5,169.1 L404,168.2 L404.5,167.3 L405,166.4 L405.5,165.5 L406,164.6 L406.5,163.7 L407,162.8 L407.5,161.9 L408,161.1 L408.5,160.2 L409,159.4 L409.5,158.6 L410,157.8 L410.5,157 L411,156.3 L411.5,155.6 L412,154.9 L412.5,154.3 L413,153.7 L413.5,153.1 L414,152.6 L414.5,152.2 L415,151.7 L415.5,151.4 L416,151 L416.5,150.7 L417,150.5 L417.5,150.3 L418,150.2 L418.5,150.1 L419,150.1 L419.5,150.2 L420,150.3 L420.5,150.4 L421,150.6 L421.5,150.8 L422,151.1 L422.5,151.5 L423,151.9 L423.5,152.3 L424,152.8 L424.5,153.4 L425,153.9 L425.5,154.6 L426,155.2 L426.5,155.9 L427,156.6 L427.5,157.4 L428,158.2 L428.5,159 L429,159.8 L429.5,160.6 L430,161.5 L430.5,162.4 L431,163.3 L431.5,164.2 L432,165.1 L432.5,166 L433,166.9 L433.5,167.9 L434,168.8 L434.5,169.7 L435,170.6 L435.5,171.5 L436,172.4 L436.5,173.3 L437,174.1 L437.5,175 L438,175.8 L438.5,176.6 L439,177.4 L439.5,178.2 L440,178.9 L440.5,179.6 L441,180.4 L441.5,181 L442,181.7 L442.5,182.3 L443,182.9 L443.5,183.5 L444,184.1 L444.5,184.6 L445,185.2 L445.5,185.7 L446,186.1 L446.5,186.6 L447,187 L447.5,187.4 L448,187.8 L448.5,188.2 L449,188.5 L449.5,188.8 L450,189.1 L450.5,189.4 L451,189.7 L451.5,189.9 L452,190.2 L452.5,190.4 L453,190.6 L453.5,190.8 L454,191 L454.5,191.2 L455,191.3 L455.5,191.5 L456,191.6 L456.5,191.7 L457,191.8 L457.5,191.9 L458,192 L458.5,192.1 L459,192.2 L459.5,192.3 L460,192.4 L460.5,192.4 L461,192.5 L461.5,192.6 L462,192.6 L462.5,192.7 L463,192.7 L463,193 Z" fill="url(#gR)" opacity="0.85"/>
<path d="M361.5,191 L361.5,190.7 L362,190.7 L362.5,190.6 L363,190.6 L363.5,190.6 L364,190.5 L364.5,190.5 L365,190.5 L365.5,190.4 L366,190.4 L366.5,190.3 L367,190.3 L367.5,190.2 L368,190.1 L368.5,190.1 L369,190 L369.5,189.9 L370,189.8 L370.5,189.7 L371,189.6 L371.5,189.5 L372,189.4 L372.5,189.3 L373,189.2 L373.5,189.1 L374,188.9 L374.5,188.8 L375,188.6 L375.5,188.5 L376,188.3 L376.5,188.2 L377,188 L377.5,187.9 L378,187.7 L378.5,187.5 L379,187.3 L379.5,187.2 L380,187 L380.5,186.8 L381,186.6 L381.5,186.4 L382,186.2 L382.5,186 L383,185.9 L383.5,185.7 L384,185.5 L384.5,185.3 L385,185.1 L385.5,185 L386,184.8 L386.5,184.6 L387,184.5 L387.5,184.3 L388,184.2 L388.5,184 L389,183.9 L389.5,183.8 L390,183.7 L390.5,183.6 L391,183.5 L391.5,183.4 L392,183.3 L392.5,183.3 L393,183.2 L393.5,183.2 L394,183.2 L394.5,183.1 L395,183.2 L395.5,183.2 L396,183.2 L396.5,183.2 L397,183.3 L397.5,183.4 L398,183.4 L398.5,183.5 L399,183.6 L399.5,183.7 L400,183.9 L400.5,184 L401,184.1 L401.5,184.3 L402,184.4 L402.5,184.6 L403,184.8 L403.5,185 L404,185.1 L404.5,185.3 L405,185.5 L405.5,185.7 L406,185.9 L406.5,186.1 L407,186.3 L407.5,186.5 L408,186.8 L408.5,187 L409,187.2 L409.5,187.4 L410,187.6 L410.5,187.8 L411,188 L411.5,188.2 L412,188.4 L412.5,188.6 L413,188.8 L413.5,188.9 L414,189.1 L414.5,189.3 L415,189.4 L415.5,189.6 L416,189.8 L416.5,189.9 L417,190.1 L417.5,190.2 L418,190.3 L418.5,190.5 L419,190.6 L419.5,190.7 L420,190.8 L420.5,190.9 L421,191 L421.5,191.1 L422,191.2 L422.5,191.3 L423,191.4 L423.5,191.5 L424,191.5 L424.5,191.6 L425,191.7 L425.5,191.7 L426,191.8 L426.5,191.8 L427,191.9 L427.5,191.9 L428,192 L428.5,192 L428.5,192.3 Z" fill="url(#gBl)" opacity="0.85"/>
<path d="M436,192.5 L436,192.1 L436.5,192.1 L437,192 L437.5,192 L438,191.9 L438.5,191.8 L439,191.7 L439.5,191.6 L440,191.5 L440.5,191.4 L441,191.2 L441.5,191.1 L442,190.9 L442.5,190.7 L443,190.6 L443.5,190.4 L444,190.2 L444.5,190 L445,189.7 L445.5,189.5 L446,189.3 L446.5,189 L447,188.8 L447.5,188.6 L448,188.4 L448.5,188.1 L449,187.9 L449.5,187.7 L450,187.5 L450.5,187.4 L451,187.2 L451.5,187.1 L452,187 L452.5,186.9 L453,186.9 L453.5,186.8 L454,186.8 L454.5,186.9 L455,186.9 L455.5,187 L456,187.1 L456.5,187.2 L457,187.4 L457.5,187.5 L458,187.7 L458.5,187.9 L459,188.1 L459.5,188.4 L460,188.6 L460.5,188.8 L461,189.1 L461.5,189.3 L462,189.6 L462.5,189.8 L463,190.1 L463.5,190.3 L464,190.6 L464.5,190.8 L465,191 L465.5,191.2 L466,191.4 L466.5,191.6 L467,191.8 L467.5,191.9 L468,192.1 L468.5,192.2 L469,192.3 L469.5,192.4 L470,192.5 L470.5,192.6 L471,192.7 L471.5,192.8 L472,192.9 L472,193.2 Z" fill="url(#gG)" opacity="0.85"/>
<line x1="357.5" y1="190.9" x2="477.5" y2="193.3" stroke="#777" stroke-width="0.7"/>
<path d="M357.5,189.6 L358.5,189.2 L359.5,189.3 L360.5,189.4 L361.5,189.2 L362.5,189 L363.5,187.9 L364.5,188.1 L365.5,188.2 L366.5,187 L367.5,186.5 L368.5,186.8 L369.5,186.7 L370.5,186.2 L371.5,185.8 L372.5,185 L373.5,184.7 L374.5,184 L375.5,183.4 L376.5,182.4 L377.5,181.5 L378.5,181 L379.5,180.9 L380.5,180.3 L381.5,179.6 L382.5,179.1 L383.5,178.6 L384.5,178.3 L385.5,177.4 L386.5,176 L387.5,176.3 L388.5,175.2 L389.5,174.3 L390.5,173.3 L391.5,173.3 L392.5,172.3 L393.5,171.5 L394.5,170.3 L395.5,169.2 L396.5,167.5 L397.5,166.5 L398.5,165.3 L399.5,165 L400.5,163.7 L401.5,161.6 L402.5,160 L403.5,159.1 L404.5,157.5 L405.5,156.8 L406.5,155 L407.5,153 L408.5,151.8 L409.5,150.5 L410.5,149.2 L411.5,149.1 L412.5,148.3 L413.5,147.5 L414.5,146.4 L415.5,145.7 L416.5,145.1 L417.5,145.3 L418.5,145.4 L419.5,145.5 L420.5,146.4 L421.5,146.9 L422.5,148.3 L423.5,148.4 L424.5,150.2 L425.5,150.6 L426.5,152.3 L427.5,154.2 L428.5,156 L429.5,157.5 L430.5,158.7 L431.5,160.3 L432.5,162.7 L433.5,164.4 L434.5,165.4 L435.5,166.9 L436.5,168.5 L437.5,170.1 L438.5,170.8 L439.5,172.6 L440.5,173.3 L441.5,173.9 L442.5,174.1 L443.5,175.1 L444.5,175.3 L445.5,176.3 L446.5,176.9 L447.5,177.3 L448.5,176.7 L449.5,177.3 L450.5,178.2 L451.5,178.9 L452.5,178.8 L453.5,179.1 L454.5,180 L455.5,180.9 L456.5,181.2 L457.5,181.7 L458.5,183.5 L459.5,184.6 L460.5,185.1 L461.5,185.9 L462.5,186.5 L463.5,187.9 L464.5,187.9 L465.5,188.6 L466.5,189.5 L467.5,190.4 L468.5,189.9 L469.5,191.1 L470.5,190.8 L471.5,191.7 L472.5,192 L473.5,191.5 L474.5,192.2 L475.5,191.5 L476.5,192.1 L477.5,192.6" fill="none" stroke="#999" stroke-width="0.6"/>
<path d="M357.5,190.4 L358,190.3 L358.5,190.3 L359,190.2 L359.5,190.2 L360,190.1 L360.5,190 L361,189.9 L361.5,189.8 L362,189.7 L362.5,189.6 L363,189.5 L363.5,189.4 L364,189.3 L364.5,189.1 L365,189 L365.5,188.8 L366,188.7 L366.5,188.5 L367,188.3 L367.5,188.1 L368,187.9 L368.5,187.7 L369,187.5 L369.5,187.3 L370,187 L370.5,186.8 L371,186.5 L371.5,186.3 L372,186 L372.5,185.8 L373,185.5 L373.5,185.2 L374,184.9 L374.5,184.7 L375,184.4 L375.5,184.1 L376,183.8 L376.5,183.5 L377,183.2 L377.5,182.9 L378,182.6 L378.5,182.3 L379,182.1 L379.5,181.8 L380,181.5 L380.5,181.2 L381,180.9 L381.5,180.6 L382,180.3 L382.5,180 L383,179.7 L383.5,179.4 L384,179.1 L384.5,178.8 L385,178.5 L385.5,178.2 L386,177.9 L386.5,177.5 L387,177.2 L387.5,176.9 L388,176.5 L388.5,176.2 L389,175.8 L389.5,175.5 L390,175.1 L390.5,174.7 L391,174.3 L391.5,173.9 L392,173.5 L392.5,173.1 L393,172.6 L393.5,172.1 L394,171.7 L394.5,171.2 L395,170.7 L395.5,170.2 L396,169.6 L396.5,169.1 L397,168.5 L397.5,167.9 L398,167.3 L398.5,166.7 L399,166.1 L399.5,165.5 L400,164.8 L400.5,164.2 L401,163.5 L401.5,162.8 L402,162.1 L402.5,161.4 L403,160.8 L403.5,160.1 L404,159.3 L404.5,158.6 L405,157.9 L405.5,157.2 L406,156.5 L406.5,155.8 L407,155.2 L407.5,154.5 L408,153.8 L408.5,153.2 L409,152.6 L409.5,152 L410,151.4 L410.5,150.8 L411,150.3 L411.5,149.8 L412,149.3 L412.5,148.8 L413,148.4 L413.5,148.1 L414,147.7 L414.5,147.4 L415,147.2 L415.5,146.9 L416,146.8 L416.5,146.6 L417,146.6 L417.5,146.5 L418,146.5 L418.5,146.6 L419,146.7 L419.5,146.9 L420,147.1 L420.5,147.3 L421,147.6 L421.5,147.9 L422,148.3 L422.5,148.7 L423,149.2 L423.5,149.7 L424,150.3 L424.5,150.9 L425,151.5 L425.5,152.1 L426,152.8 L426.5,153.5 L427,154.3 L427.5,155 L428,155.8 L428.5,156.6 L429,157.4 L429.5,158.2 L430,159 L430.5,159.9 L431,160.7 L431.5,161.6 L432,162.4 L432.5,163.2 L433,164 L433.5,164.9 L434,165.7 L434.5,166.4 L435,167.2 L435.5,168 L436,168.7 L436.5,169.4 L437,170.1 L437.5,170.7 L438,171.4 L438.5,171.9 L439,172.5 L439.5,173.1 L440,173.6 L440.5,174 L441,174.5 L441.5,174.9 L442,175.3 L442.5,175.6 L443,176 L443.5,176.3 L444,176.5 L444.5,176.8 L445,177 L445.5,177.2 L446,177.4 L446.5,177.6 L447,177.8 L447.5,177.9 L448,178.1 L448.5,178.3 L449,178.4 L449.5,178.6 L450,178.8 L450.5,178.9 L451,179.1 L451.5,179.3 L452,179.6 L452.5,179.8 L453,180.1 L453.5,180.3 L454,180.6 L454.5,181 L455,181.3 L455.5,181.7 L456,182 L456.5,182.4 L457,182.8 L457.5,183.3 L458,183.7 L458.5,184.1 L459,184.6 L459.5,185 L460,185.5 L460.5,185.9 L461,186.4 L461.5,186.8 L462,187.3 L462.5,187.7 L463,188.1 L463.5,188.5 L464,188.9 L464.5,189.2 L465,189.6 L465.5,189.9 L466,190.2 L466.5,190.5 L467,190.8 L467.5,191 L468,191.3 L468.5,191.5 L469,191.7 L469.5,191.8 L470,192 L470.5,192.2 L471,192.3 L471.5,192.4 L472,192.5 L472.5,192.6 L473,192.7 L473.5,192.8 L474,192.9 L474.5,192.9 L475,193 L475.5,193 L476,193.1 L476.5,193.1 L477,193.1 L477.5,193.2" fill="none" stroke="#3a3a3a" stroke-width="0.8"/>
<path d="M357.5,7.5 V201.5 M477.5,7.5 V201.5" stroke="#9a9a9a" stroke-width="1" fill="none"/>
<path d="M357.0,7.5 H478.0 M357.0,201.5 H478.0 M357.5,104.5 H477.5" stroke="#767676" stroke-width="1" fill="none"/>
<text transform="translate(359.4,13.9) scale(0.93,1)" font-size="6.7" text-anchor="start" fill="#000">0s</text>
<text transform="translate(476.9,14.6) scale(0.93,1)" font-size="7.0" text-anchor="end" fill="#000">O 1s</text>
<text x="418" y="42" font-size="6.8" text-anchor="middle" font-weight="normal" fill="#000" >C-O</text>
<text x="383.5" y="68" font-size="6.8" text-anchor="middle" font-weight="normal" fill="#000" >N-O</text>
<text transform="translate(360.1,111.5) scale(0.88,1)" font-size="6.8" text-anchor="start" fill="#000">120s</text>
<text x="419.5" y="144.3" font-size="6.8" text-anchor="middle" font-weight="normal" fill="#000" >C-O</text>
<text x="385.5" y="173.2" font-size="6.8" text-anchor="middle" font-weight="normal" fill="#000" >N-O</text>
<text x="459.3" y="180" font-size="6.8" text-anchor="middle" font-weight="normal" fill="#000" >C=O</text>
<line x1="357.5" y1="201.5" x2="357.5" y2="204" stroke="#707070" stroke-width="0.8"/>
<text x="357.5" y="210.8" font-size="7.6" text-anchor="middle" font-weight="normal" fill="#000" >538</text>
<line x1="370.9" y1="201.5" x2="370.9" y2="203" stroke="#707070" stroke-width="0.8"/>
<line x1="384.3" y1="201.5" x2="384.3" y2="204" stroke="#707070" stroke-width="0.8"/>
<text x="384.3" y="210.8" font-size="7.6" text-anchor="middle" font-weight="normal" fill="#000" >536</text>
<line x1="397.7" y1="201.5" x2="397.7" y2="203" stroke="#707070" stroke-width="0.8"/>
<line x1="411.1" y1="201.5" x2="411.1" y2="204" stroke="#707070" stroke-width="0.8"/>
<text x="411.1" y="210.8" font-size="7.6" text-anchor="middle" font-weight="normal" fill="#000" >534</text>
<line x1="424.5" y1="201.5" x2="424.5" y2="203" stroke="#707070" stroke-width="0.8"/>
<line x1="437.9" y1="201.5" x2="437.9" y2="204" stroke="#707070" stroke-width="0.8"/>
<text x="437.9" y="210.8" font-size="7.6" text-anchor="middle" font-weight="normal" fill="#000" >532</text>
<line x1="451.3" y1="201.5" x2="451.3" y2="203" stroke="#707070" stroke-width="0.8"/>
<line x1="464.7" y1="201.5" x2="464.7" y2="204" stroke="#707070" stroke-width="0.8"/>
<text x="464.7" y="210.8" font-size="7.6" text-anchor="middle" font-weight="normal" fill="#000" >530</text>
<text x="418" y="222.2" font-size="8.35" text-anchor="middle" font-weight="normal" fill="#000" >Binding energy (eV)</text>
<text transform="translate(353.6,105.6) rotate(-90)" font-size="7.8" text-anchor="middle">Intensity (a.u.)</text>
<path d="M39.8,381.3 L39.8,251.3 L36.9,251.3 L43.2,244.6 L49.5,251.3 L46.5,251.3 L46.5,381.3 Z" fill="url(#gArrow)"/>
<path d="M35.6,238.8 L50,239 L62,239.6 L65.5,241 L67.5,244 L69.5,249 L71.5,257 L73.5,264.5 L76,271.5 L79.4,276.8 L83.5,282 L87.2,288 L89.5,293 L91,298.5 L92.8,303 L94.4,306.2 L93.2,309.5 L91.5,313.5 L89.8,317.8 L87,322 L84.2,326.7 L80.5,333 L77.5,340.1 L75.5,345.5 L74.2,351.2 L73.2,357 L72.6,364.6 L72.1,372 L71.7,379 L71.6,384.6 L47.8,384.6" fill="none" stroke="#e0505e" stroke-width="1" stroke-linejoin="round"/>
<rect x="35.5" y="235.5" width="59.0" height="150.0" fill="none" stroke="#484848" stroke-width="1"/>
<line x1="32.9" y1="385.3" x2="35.5" y2="385.3" stroke="#484848" stroke-width="0.8"/>
<text x="31" y="388.3" font-size="8.7" text-anchor="end" font-weight="normal" fill="#000" >0</text>
<line x1="33.9" y1="368.29" x2="35.5" y2="368.29" stroke="#484848" stroke-width="0.8"/>
<line x1="32.9" y1="351.28" x2="35.5" y2="351.28" stroke="#484848" stroke-width="0.8"/>
<text x="31" y="354.28" font-size="8.7" text-anchor="end" font-weight="normal" fill="#000" >5</text>
<line x1="33.9" y1="334.26" x2="35.5" y2="334.26" stroke="#484848" stroke-width="0.8"/>
<line x1="32.9" y1="317.25" x2="35.5" y2="317.25" stroke="#484848" stroke-width="0.8"/>
<text x="31" y="320.25" font-size="8.7" text-anchor="end" font-weight="normal" fill="#000" >10</text>
<line x1="33.9" y1="300.24" x2="35.5" y2="300.24" stroke="#484848" stroke-width="0.8"/>
<line x1="32.9" y1="283.23" x2="35.5" y2="283.23" stroke="#484848" stroke-width="0.8"/>
<text x="31" y="286.23" font-size="8.7" text-anchor="end" font-weight="normal" fill="#000" >15</text>
<line x1="33.9" y1="266.21" x2="35.5" y2="266.21" stroke="#484848" stroke-width="0.8"/>
<line x1="32.9" y1="249.2" x2="35.5" y2="249.2" stroke="#484848" stroke-width="0.8"/>
<text x="31" y="252.2" font-size="8.7" text-anchor="end" font-weight="normal" fill="#000" >20</text>
<line x1="35.5" y1="385.5" x2="35.5" y2="388.1" stroke="#484848" stroke-width="0.8"/>
<text x="35.5" y="396.6" font-size="7.8" text-anchor="middle" font-weight="normal" fill="#000" >2.8</text>
<line x1="43.42" y1="385.5" x2="43.42" y2="387.1" stroke="#484848" stroke-width="0.8"/>
<line x1="51.33" y1="385.5" x2="51.33" y2="388.1" stroke="#484848" stroke-width="0.8"/>
<text x="51.33" y="396.6" font-size="7.8" text-anchor="middle" font-weight="normal" fill="#000" >3.2</text>
<line x1="59.25" y1="385.5" x2="59.25" y2="387.1" stroke="#484848" stroke-width="0.8"/>
<line x1="67.16" y1="385.5" x2="67.16" y2="388.1" stroke="#484848" stroke-width="0.8"/>
<text x="67.16" y="396.6" font-size="7.8" text-anchor="middle" font-weight="normal" fill="#000" >3.6</text>
<line x1="75.08" y1="385.5" x2="75.08" y2="387.1" stroke="#484848" stroke-width="0.8"/>
<line x1="82.99" y1="385.5" x2="82.99" y2="388.1" stroke="#484848" stroke-width="0.8"/>
<text x="82.99" y="396.6" font-size="7.8" text-anchor="middle" font-weight="normal" fill="#000" >4.0</text>
<line x1="90.91" y1="385.5" x2="90.91" y2="387.1" stroke="#484848" stroke-width="0.8"/>
<text x="65" y="411.2" font-size="8.8" text-anchor="middle" font-weight="normal" fill="#000" >Voltage (V)</text>
<text transform="translate(17.9,310.2) rotate(-90)" font-size="9.3" text-anchor="middle">Time (h)</text>
<text transform="translate(58.6,272.2) rotate(-90)" font-size="10" text-anchor="middle" fill="#333">discharge</text>
<text transform="translate(61.3,362.3) rotate(-90)" font-size="10" text-anchor="middle" fill="#333">Charge</text>
<clipPath id="cpW"><rect x="102.5" y="235.5" width="110.0" height="150.0"/></clipPath>
<g clip-path="url(#cpW)" fill="none" stroke-width="0.65">
<path d="M102,382.2 L103,382.4 L104,383.1 L105,382.2 L106,382.3 L107,382.5 L108,381.7 L109,382.3 L110,382.5 L111,382.8 L112,381.6 L113,381.9 L114,381.6 L115,382.9 L116,382.6 L117,381.5 L118,383.2 L119,383.1 L120,382.6 L121,382.5 L122,381.7 L123,381.4 L124,382.4 L125,381.5 L126,381.7 L127,381.8 L128,381.5 L129,382.2 L130,382.2 L131,382.9 L132,382.3 L133,382.5 L134,382.3 L135,382.6 L136,382.2 L137,381.9 L138,383.2 L139,383.2 L140,382.9 L141,382.6 L142,381.9 L143,381.7 L144,381.8 L145,381.3 L146,382.5 L147,381.8 L148,382.5 L149,381.5 L150,382.3 L151,381.8 L152,379.9 L153,379.8 L154,380.4 L155,378.8 L156,378.5 L157,376.0 L158,373.3 L159,371.6 L160,368.3 L161,362.6 L162,359.2 L163,374.6 L164,380.7 L165,382.0 L166,381.3 L167,381.8 L168,381.6 L169,381.5 L170,382.8 L171,381.7 L172,382.4 L173,382.2 L174,381.7 L175,382.7 L176,381.6 L177,382.6 L178,381.6 L179,382.2 L180,381.8 L181,381.9 L182,383.1 L183,382.8 L184,381.9 L185,383.0 L186,381.8 L187,382.1 L188,382.9 L189,382.6 L190,381.6 L191,383.2 L192,381.8 L193,381.9 L194,382.8 L195,382.0 L196,381.9 L197,381.5 L198,381.6 L199,382.4 L200,381.8 L201,382.5 L202,382.1 L203,382.2 L204,383.1 L205,382.3 L206,382.4 L207,383.0 L208,381.7 L209,381.7 L210,383.0 L211,382.9 L212,381.8 L213,381.7" stroke="#2816ff" stroke-width="0.85"/>
<path d="M102,381.7 L103,382.1 L104,380.7 L105,382.1 L106,382.0 L107,381.5 L108,381.1 L109,380.6 L110,380.4 L111,382.1 L112,380.8 L113,381.6 L114,380.8 L115,381.8 L116,381.4 L117,380.9 L118,380.7 L119,381.7 L120,380.5 L121,380.8 L122,381.4 L123,381.9 L124,381.5 L125,380.9 L126,382.0 L127,380.7 L128,380.4 L129,380.8 L130,381.2 L131,380.5 L132,380.7 L133,381.0 L134,381.4 L135,380.6 L136,381.0 L137,382.0 L138,382.1 L139,381.5 L140,381.6 L141,381.4 L142,380.5 L143,380.3 L144,380.3 L145,381.8 L146,381.4 L147,381.8 L148,379.9 L149,380.9 L150,380.4 L151,380.6 L152,379.5 L153,380.2 L154,377.9 L155,377.9 L156,377.1 L157,375.9 L158,373.6 L159,370.8 L160,367.4 L161,362.9 L162,359.2 L163,374.4 L164,379.6 L165,381.2 L166,380.9 L167,381.7 L168,381.9 L169,381.4 L170,381.5 L171,381.1 L172,381.4 L173,381.5 L174,380.5 L175,381.5 L176,382.2 L177,382.0 L178,381.7 L179,381.1 L180,381.7 L181,381.4 L182,381.2 L183,381.9 L184,380.5 L185,381.7 L186,380.4 L187,381.4 L188,381.2 L189,380.8 L190,381.6 L191,381.3 L192,381.5 L193,382.0 L194,380.8 L195,380.4 L196,380.9 L197,381.6 L198,380.7 L199,380.7 L200,382.0 L201,381.6 L202,381.2 L203,382.0 L204,381.0 L205,381.6 L206,380.7 L207,381.1 L208,381.8 L209,382.0 L210,382.0 L211,381.1 L212,381.4 L213,380.9" stroke="#2817fe" stroke-width="0.85"/>
<path d="M102,379.6 L103,380.2 L104,380.8 L105,380.9 L106,380.6 L107,381.0 L108,379.8 L109,379.6 L110,380.1 L111,379.8 L112,379.7 L113,380.1 L114,380.5 L115,380.2 L116,379.9 L117,380.8 L118,381.1 L119,380.1 L120,379.5 L121,379.4 L122,380.9 L123,379.4 L124,380.6 L125,380.4 L126,379.9 L127,380.8 L128,379.4 L129,379.6 L130,380.1 L131,379.4 L132,380.8 L133,379.8 L134,379.6 L135,379.4 L136,380.5 L137,380.1 L138,380.4 L139,380.5 L140,380.7 L141,381.0 L142,380.5 L143,379.6 L144,380.0 L145,379.5 L146,379.1 L147,379.8 L148,380.2 L149,379.1 L150,379.0 L151,378.9 L152,379.2 L153,378.4 L154,377.9 L155,377.3 L156,375.5 L157,374.7 L158,372.9 L159,368.8 L160,366.7 L161,361.7 L162,358.3 L163,373.0 L164,378.1 L165,380.2 L166,379.8 L167,380.3 L168,380.9 L169,380.8 L170,381.0 L171,380.2 L172,380.5 L173,379.7 L174,380.6 L175,380.8 L176,380.5 L177,380.6 L178,379.7 L179,381.0 L180,381.1 L181,381.1 L182,380.3 L183,380.8 L184,379.9 L185,381.0 L186,380.9 L187,380.0 L188,379.5 L189,380.1 L190,380.3 L191,380.7 L192,380.2 L193,379.4 L194,380.8 L195,379.4 L196,380.8 L197,379.6 L198,379.9 L199,380.8 L200,379.6 L201,379.6 L202,380.3 L203,380.6 L204,380.8 L205,380.6 L206,381.0 L207,380.2 L208,381.0 L209,379.5 L210,379.7 L211,380.3 L212,379.9 L213,380.6" stroke="#2918fe" stroke-width="0.84"/>
<path d="M102,379.4 L103,379.2 L104,379.8 L105,379.3 L106,378.9 L107,379.0 L108,379.8 L109,379.9 L110,378.7 L111,379.8 L112,380.0 L113,379.2 L114,379.3 L115,378.7 L116,379.3 L117,379.2 L118,379.4 L119,378.3 L120,380.0 L121,379.2 L122,379.0 L123,379.7 L124,379.3 L125,379.2 L126,379.5 L127,378.4 L128,379.3 L129,379.0 L130,380.0 L131,380.0 L132,378.8 L133,379.1 L134,378.5 L135,379.1 L136,379.8 L137,379.9 L138,379.1 L139,378.8 L140,378.6 L141,379.4 L142,379.9 L143,378.4 L144,379.6 L145,378.2 L146,378.4 L147,378.4 L148,379.1 L149,378.3 L150,378.2 L151,378.4 L152,377.1 L153,377.7 L154,376.0 L155,375.9 L156,374.3 L157,372.7 L158,371.3 L159,368.5 L160,364.8 L161,360.3 L162,358.5 L163,371.6 L164,376.4 L165,378.7 L166,379.2 L167,379.2 L168,379.8 L169,379.4 L170,379.8 L171,378.7 L172,379.6 L173,379.8 L174,379.9 L175,378.9 L176,378.9 L177,380.0 L178,378.7 L179,380.1 L180,379.9 L181,378.5 L182,378.7 L183,379.6 L184,378.8 L185,378.5 L186,379.8 L187,379.1 L188,379.7 L189,378.5 L190,379.0 L191,379.5 L192,378.3 L193,378.7 L194,379.5 L195,379.9 L196,380.0 L197,378.5 L198,379.2 L199,379.7 L200,379.2 L201,379.5 L202,378.6 L203,378.4 L204,378.5 L205,378.4 L206,379.3 L207,379.2 L208,379.3 L209,378.6 L210,378.6 L211,378.7 L212,379.8 L213,380.1" stroke="#2a19fe" stroke-width="0.84"/>
<path d="M102,378.9 L103,377.4 L104,377.4 L105,379.0 L106,378.1 L107,378.6 L108,377.9 L109,378.1 L110,378.2 L111,378.0 L112,378.3 L113,377.3 L114,378.5 L115,378.8 L116,377.6 L117,378.1 L118,378.6 L119,378.0 L120,377.6 L121,377.6 L122,378.2 L123,377.3 L124,378.9 L125,378.7 L126,378.5 L127,378.8 L128,378.4 L129,378.0 L130,378.3 L131,378.2 L132,379.0 L133,378.7 L134,377.7 L135,378.9 L136,378.6 L137,378.7 L138,378.7 L139,378.0 L140,378.8 L141,378.8 L142,378.4 L143,378.6 L144,378.5 L145,377.8 L146,378.3 L147,377.1 L148,377.5 L149,377.5 L150,376.5 L151,376.9 L152,377.0 L153,376.5 L154,375.2 L155,375.7 L156,374.0 L157,372.0 L158,370.6 L159,367.8 L160,364.2 L161,359.4 L162,358.8 L163,371.6 L164,376.3 L165,377.9 L166,378.8 L167,377.2 L168,378.3 L169,378.6 L170,377.7 L171,378.0 L172,377.4 L173,377.6 L174,377.9 L175,377.4 L176,377.7 L177,378.9 L178,378.3 L179,378.2 L180,379.0 L181,378.3 L182,379.1 L183,378.4 L184,378.7 L185,377.4 L186,378.3 L187,378.6 L188,377.3 L189,378.9 L190,377.6 L191,378.1 L192,377.6 L193,378.2 L194,378.4 L195,377.4 L196,379.0 L197,378.0 L198,378.2 L199,378.3 L200,377.9 L201,377.8 L202,378.4 L203,378.3 L204,377.8 L205,378.6 L206,377.8 L207,377.3 L208,377.7 L209,377.3 L210,377.5 L211,378.6 L212,378.0 L213,378.9" stroke="#2b1afe" stroke-width="0.83"/>
<path d="M102,377.6 L103,376.3 L104,378.0 L105,377.9 L106,376.4 L107,377.9 L108,377.0 L109,377.1 L110,378.0 L111,376.7 L112,377.2 L113,377.9 L114,377.5 L115,377.1 L116,378.0 L117,377.7 L118,377.3 L119,376.4 L120,377.4 L121,377.1 L122,376.6 L123,376.3 L124,377.2 L125,376.5 L126,377.0 L127,377.4 L128,377.1 L129,376.7 L130,377.3 L131,377.0 L132,377.6 L133,377.2 L134,378.0 L135,377.9 L136,377.5 L137,376.6 L138,376.4 L139,377.8 L140,377.6 L141,377.3 L142,376.8 L143,376.6 L144,377.3 L145,377.1 L146,377.1 L147,377.1 L148,377.2 L149,376.0 L150,375.9 L151,377.0 L152,376.5 L153,376.0 L154,373.9 L155,373.1 L156,372.3 L157,371.1 L158,369.5 L159,366.0 L160,363.4 L161,358.0 L162,356.6 L163,370.7 L164,375.0 L165,376.6 L166,376.7 L167,377.0 L168,376.6 L169,376.8 L170,377.6 L171,377.7 L172,376.4 L173,376.4 L174,377.7 L175,377.4 L176,377.6 L177,376.6 L178,377.0 L179,376.7 L180,377.7 L181,376.9 L182,377.4 L183,378.0 L184,376.8 L185,377.2 L186,377.6 L187,377.9 L188,377.0 L189,376.9 L190,376.4 L191,377.8 L192,376.4 L193,376.4 L194,377.2 L195,377.1 L196,377.5 L197,376.8 L198,377.6 L199,376.4 L200,376.6 L201,377.4 L202,376.4 L203,376.8 L204,377.5 L205,377.5 L206,376.7 L207,376.5 L208,376.9 L209,377.5 L210,376.9 L211,376.4 L212,377.5 L213,377.3" stroke="#2c1bfe" stroke-width="0.83"/>
<path d="M102,376.9 L103,376.9 L104,376.8 L105,376.0 L106,376.6 L107,375.7 L108,375.8 L109,375.9 L110,376.9 L111,376.8 L112,375.6 L113,375.9 L114,375.9 L115,375.9 L116,375.9 L117,375.9 L118,375.6 L119,376.2 L120,376.6 L121,376.2 L122,376.7 L123,376.2 L124,375.5 L125,376.6 L126,376.8 L127,375.7 L128,375.2 L129,376.1 L130,376.2 L131,376.2 L132,376.9 L133,376.4 L134,376.6 L135,375.3 L136,376.2 L137,376.6 L138,375.3 L139,375.3 L140,376.5 L141,376.8 L142,375.3 L143,376.3 L144,375.3 L145,376.4 L146,376.1 L147,375.3 L148,375.2 L149,376.0 L150,375.4 L151,375.6 L152,374.6 L153,374.0 L154,374.5 L155,373.2 L156,371.8 L157,370.4 L158,368.8 L159,366.2 L160,363.1 L161,357.8 L162,357.4 L163,369.8 L164,374.6 L165,375.9 L166,376.5 L167,376.7 L168,376.9 L169,376.3 L170,376.1 L171,376.5 L172,376.6 L173,376.0 L174,376.0 L175,375.5 L176,376.5 L177,377.0 L178,375.9 L179,375.5 L180,375.6 L181,376.0 L182,375.7 L183,376.9 L184,375.3 L185,375.8 L186,375.4 L187,376.4 L188,376.6 L189,375.5 L190,375.3 L191,376.0 L192,376.3 L193,376.8 L194,375.3 L195,375.4 L196,375.5 L197,375.6 L198,375.6 L199,376.5 L200,376.3 L201,375.6 L202,375.5 L203,375.7 L204,375.5 L205,376.6 L206,375.8 L207,376.2 L208,376.7 L209,376.1 L210,375.7 L211,376.8 L212,376.8 L213,375.8" stroke="#2d1cfe" stroke-width="0.83"/>
<path d="M102,375.2 L103,375.9 L104,375.0 L105,374.6 L106,374.3 L107,375.9 L108,375.6 L109,374.9 L110,375.1 L111,375.1 L112,374.7 L113,375.9 L114,375.4 L115,374.6 L116,374.2 L117,375.0 L118,374.8 L119,375.6 L120,375.5 L121,375.3 L122,374.4 L123,374.4 L124,374.7 L125,374.6 L126,375.7 L127,375.1 L128,375.3 L129,376.0 L130,374.6 L131,375.1 L132,374.4 L133,375.5 L134,374.2 L135,375.6 L136,375.7 L137,375.6 L138,374.3 L139,374.6 L140,375.4 L141,374.3 L142,375.0 L143,374.9 L144,375.8 L145,375.1 L146,375.5 L147,374.4 L148,375.2 L149,374.4 L150,375.1 L151,373.4 L152,374.4 L153,372.8 L154,372.8 L155,371.9 L156,370.2 L157,369.9 L158,367.1 L159,364.5 L160,360.7 L161,356.8 L162,356.2 L163,369.0 L164,372.7 L165,374.7 L166,374.1 L167,374.8 L168,375.0 L169,375.9 L170,375.7 L171,375.3 L172,374.2 L173,374.8 L174,375.4 L175,374.6 L176,375.2 L177,375.0 L178,374.2 L179,376.0 L180,375.6 L181,374.5 L182,375.3 L183,374.7 L184,374.8 L185,375.1 L186,374.7 L187,374.8 L188,374.9 L189,375.4 L190,374.6 L191,374.5 L192,375.5 L193,374.8 L194,375.9 L195,375.2 L196,375.5 L197,374.8 L198,375.7 L199,374.3 L200,374.4 L201,374.3 L202,375.4 L203,375.4 L204,374.5 L205,374.9 L206,375.7 L207,375.2 L208,374.3 L209,374.6 L210,374.4 L211,374.4 L212,374.9 L213,374.3" stroke="#2d1dfe" stroke-width="0.82"/>
<path d="M102,374.8 L103,373.9 L104,374.1 L105,374.3 L106,374.5 L107,374.6 L108,373.8 L109,373.7 L110,373.9 L111,373.2 L112,373.9 L113,374.4 L114,374.9 L115,374.6 L116,374.3 L117,374.2 L118,373.2 L119,373.7 L120,373.7 L121,374.3 L122,373.3 L123,373.8 L124,374.0 L125,374.6 L126,374.6 L127,374.2 L128,373.4 L129,374.5 L130,374.8 L131,374.1 L132,373.8 L133,374.0 L134,373.4 L135,374.4 L136,374.9 L137,374.0 L138,374.4 L139,374.6 L140,373.5 L141,374.8 L142,374.2 L143,373.4 L144,373.2 L145,373.4 L146,374.0 L147,374.1 L148,373.3 L149,374.3 L150,373.1 L151,373.0 L152,372.1 L153,373.2 L154,371.0 L155,371.6 L156,369.9 L157,368.5 L158,366.6 L159,363.5 L160,361.4 L161,357.2 L162,356.3 L163,367.9 L164,371.3 L165,373.9 L166,373.4 L167,374.7 L168,373.5 L169,374.2 L170,374.6 L171,373.5 L172,374.1 L173,373.3 L174,373.2 L175,373.5 L176,374.9 L177,374.8 L178,374.3 L179,373.7 L180,374.3 L181,374.5 L182,373.8 L183,374.2 L184,374.6 L185,373.2 L186,373.5 L187,374.0 L188,373.4 L189,373.8 L190,374.2 L191,373.4 L192,374.1 L193,373.6 L194,374.2 L195,373.7 L196,374.3 L197,373.2 L198,374.3 L199,373.4 L200,374.9 L201,374.2 L202,374.0 L203,373.9 L204,374.3 L205,374.4 L206,374.5 L207,374.5 L208,374.0 L209,374.9 L210,374.6 L211,374.7 L212,373.9 L213,373.9" stroke="#2e1efe" stroke-width="0.82"/>
<path d="M102,373.1 L103,373.7 L104,373.0 L105,373.0 L106,372.9 L107,373.7 L108,372.7 L109,372.2 L110,373.4 L111,373.7 L112,373.4 L113,373.2 L114,373.5 L115,372.6 L116,373.2 L117,372.2 L118,372.3 L119,372.9 L120,373.0 L121,372.8 L122,372.2 L123,373.4 L124,373.0 L125,372.5 L126,372.7 L127,372.8 L128,372.5 L129,372.2 L130,373.7 L131,373.8 L132,373.3 L133,373.7 L134,372.9 L135,373.5 L136,372.5 L137,373.4 L138,373.1 L139,373.7 L140,372.2 L141,373.5 L142,372.3 L143,373.0 L144,373.7 L145,372.0 L146,372.3 L147,372.4 L148,372.3 L149,371.7 L150,373.0 L151,372.6 L152,371.6 L153,371.0 L154,370.9 L155,369.1 L156,368.0 L157,368.1 L158,365.2 L159,363.0 L160,360.5 L161,356.4 L162,355.1 L163,366.3 L164,370.6 L165,373.1 L166,373.5 L167,372.4 L168,373.6 L169,372.7 L170,372.9 L171,372.4 L172,373.7 L173,373.9 L174,372.5 L175,373.2 L176,372.4 L177,373.7 L178,372.2 L179,372.3 L180,373.4 L181,372.7 L182,373.7 L183,373.7 L184,373.4 L185,372.3 L186,373.4 L187,373.8 L188,372.9 L189,372.2 L190,372.5 L191,372.7 L192,373.4 L193,372.5 L194,372.4 L195,372.5 L196,373.3 L197,373.5 L198,372.8 L199,373.3 L200,373.7 L201,373.2 L202,372.5 L203,372.6 L204,373.8 L205,373.3 L206,372.6 L207,373.3 L208,372.3 L209,373.9 L210,372.9 L211,373.1 L212,373.1 L213,372.2" stroke="#2f1ffd" stroke-width="0.82"/>
<path d="M102,372.1 L103,371.6 L104,371.5 L105,372.5 L106,371.2 L107,371.6 L108,372.4 L109,371.5 L110,371.6 L111,372.1 L112,371.4 L113,372.7 L114,372.8 L115,371.1 L116,371.9 L117,372.4 L118,371.8 L119,372.7 L120,372.0 L121,371.4 L122,372.1 L123,372.2 L124,371.7 L125,372.3 L126,372.5 L127,372.0 L128,372.0 L129,372.6 L130,372.3 L131,372.0 L132,372.8 L133,371.4 L134,372.5 L135,371.4 L136,372.2 L137,371.5 L138,371.8 L139,372.4 L140,372.5 L141,372.5 L142,371.4 L143,371.9 L144,371.4 L145,372.0 L146,371.8 L147,370.9 L148,371.8 L149,371.9 L150,371.4 L151,371.7 L152,370.2 L153,369.7 L154,368.8 L155,368.9 L156,367.7 L157,366.3 L158,364.1 L159,362.6 L160,358.1 L161,355.5 L162,354.7 L163,366.0 L164,370.5 L165,370.8 L166,371.1 L167,371.6 L168,371.1 L169,371.6 L170,372.2 L171,372.0 L172,371.5 L173,372.1 L174,371.2 L175,372.5 L176,371.4 L177,371.5 L178,371.4 L179,372.3 L180,372.6 L181,372.5 L182,371.2 L183,371.8 L184,371.7 L185,371.5 L186,372.8 L187,371.1 L188,371.9 L189,372.4 L190,372.8 L191,371.3 L192,371.9 L193,372.4 L194,371.1 L195,371.5 L196,372.7 L197,371.3 L198,371.8 L199,371.6 L200,371.8 L201,371.2 L202,371.1 L203,372.9 L204,372.4 L205,372.4 L206,371.5 L207,371.5 L208,372.1 L209,371.5 L210,371.9 L211,372.7 L212,371.7 L213,371.7" stroke="#3020fd" stroke-width="0.81"/>
<path d="M102,371.8 L103,371.1 L104,370.1 L105,370.8 L106,371.2 L107,370.1 L108,370.7 L109,371.3 L110,371.6 L111,371.1 L112,371.6 L113,370.9 L114,370.7 L115,371.6 L116,370.7 L117,371.4 L118,370.4 L119,370.7 L120,370.4 L121,371.0 L122,370.3 L123,370.4 L124,370.4 L125,370.9 L126,370.6 L127,370.8 L128,371.8 L129,371.3 L130,371.6 L131,370.4 L132,370.7 L133,370.2 L134,371.3 L135,370.7 L136,370.5 L137,370.1 L138,370.3 L139,370.5 L140,370.7 L141,371.7 L142,371.3 L143,370.4 L144,370.6 L145,370.2 L146,371.5 L147,370.4 L148,371.1 L149,370.9 L150,371.0 L151,369.2 L152,369.4 L153,369.1 L154,368.0 L155,368.6 L156,366.6 L157,366.0 L158,363.7 L159,360.4 L160,357.8 L161,353.4 L162,353.1 L163,364.3 L164,369.1 L165,369.5 L166,370.4 L167,370.7 L168,371.0 L169,370.3 L170,371.3 L171,370.5 L172,371.3 L173,371.2 L174,370.3 L175,370.4 L176,370.5 L177,371.3 L178,370.8 L179,370.7 L180,371.6 L181,370.4 L182,370.6 L183,370.7 L184,370.4 L185,370.1 L186,370.1 L187,371.2 L188,371.1 L189,371.5 L190,371.8 L191,370.6 L192,371.2 L193,371.7 L194,370.4 L195,371.3 L196,371.2 L197,371.8 L198,371.6 L199,370.5 L200,371.2 L201,370.2 L202,370.8 L203,370.7 L204,370.1 L205,370.7 L206,370.6 L207,370.9 L208,370.5 L209,370.3 L210,370.8 L211,370.9 L212,370.3 L213,371.2" stroke="#3121fd" stroke-width="0.81"/>
<path d="M102,369.4 L103,369.2 L104,369.6 L105,369.8 L106,369.3 L107,370.0 L108,370.3 L109,370.0 L110,370.3 L111,369.0 L112,369.7 L113,369.7 L114,369.1 L115,369.7 L116,369.1 L117,369.9 L118,370.1 L119,369.8 L120,369.6 L121,369.5 L122,369.0 L123,369.6 L124,370.6 L125,370.0 L126,369.5 L127,370.2 L128,369.3 L129,369.8 L130,370.1 L131,370.7 L132,369.7 L133,370.0 L134,370.7 L135,370.4 L136,370.1 L137,370.1 L138,369.7 L139,369.7 L140,369.5 L141,370.5 L142,370.5 L143,369.6 L144,370.5 L145,368.9 L146,369.1 L147,369.7 L148,369.2 L149,369.2 L150,370.1 L151,368.4 L152,368.2 L153,367.8 L154,368.0 L155,366.5 L156,365.0 L157,364.6 L158,362.5 L159,359.8 L160,357.1 L161,353.4 L162,353.4 L163,364.3 L164,368.1 L165,369.9 L166,370.5 L167,369.5 L168,369.6 L169,370.6 L170,369.6 L171,370.3 L172,370.3 L173,370.2 L174,370.7 L175,370.5 L176,369.3 L177,370.1 L178,369.9 L179,370.0 L180,369.7 L181,369.5 L182,370.3 L183,370.0 L184,369.4 L185,369.4 L186,369.6 L187,369.3 L188,369.9 L189,369.2 L190,369.1 L191,369.1 L192,369.2 L193,370.3 L194,369.2 L195,369.8 L196,370.4 L197,369.9 L198,369.3 L199,370.6 L200,370.6 L201,369.1 L202,369.5 L203,369.9 L204,370.4 L205,369.7 L206,370.3 L207,369.5 L208,370.3 L209,369.6 L210,369.6 L211,370.4 L212,370.5 L213,370.5" stroke="#3222fd" stroke-width="0.80"/>
<path d="M102,369.0 L103,368.7 L104,369.2 L105,369.1 L106,369.5 L107,369.4 L108,368.2 L109,368.6 L110,369.2 L111,368.4 L112,368.3 L113,368.0 L114,369.0 L115,369.7 L116,369.7 L117,368.2 L118,369.2 L119,368.7 L120,369.1 L121,368.7 L122,369.6 L123,369.7 L124,368.1 L125,369.3 L126,368.2 L127,368.0 L128,368.5 L129,369.3 L130,369.8 L131,368.2 L132,368.6 L133,368.0 L134,368.9 L135,368.8 L136,368.6 L137,368.5 L138,369.4 L139,369.5 L140,368.5 L141,368.6 L142,369.0 L143,369.3 L144,369.6 L145,368.5 L146,369.0 L147,368.7 L148,369.1 L149,367.8 L150,367.7 L151,367.3 L152,368.5 L153,366.8 L154,366.7 L155,365.3 L156,364.6 L157,362.7 L158,361.8 L159,358.7 L160,356.5 L161,351.9 L162,352.2 L163,363.1 L164,366.7 L165,367.8 L166,367.9 L167,368.0 L168,369.6 L169,368.5 L170,368.1 L171,368.3 L172,368.8 L173,369.8 L174,368.3 L175,369.5 L176,368.8 L177,368.7 L178,369.4 L179,368.7 L180,368.1 L181,369.0 L182,369.1 L183,369.1 L184,368.5 L185,369.7 L186,369.5 L187,369.8 L188,368.8 L189,369.5 L190,369.3 L191,368.3 L192,368.0 L193,368.3 L194,368.2 L195,368.1 L196,368.6 L197,369.3 L198,368.5 L199,368.9 L200,368.0 L201,368.3 L202,369.7 L203,368.0 L204,368.9 L205,369.4 L206,369.4 L207,369.3 L208,368.7 L209,369.4 L210,369.5 L211,369.3 L212,369.7 L213,368.1" stroke="#3323fd" stroke-width="0.80"/>
<path d="M102,368.6 L103,367.7 L104,368.2 L105,367.4 L106,368.6 L107,367.0 L108,368.0 L109,367.3 L110,367.6 L111,367.6 L112,368.1 L113,368.4 L114,367.6 L115,368.1 L116,367.6 L117,367.4 L118,368.6 L119,367.5 L120,367.1 L121,367.5 L122,368.3 L123,367.3 L124,368.3 L125,367.9 L126,368.2 L127,367.3 L128,367.1 L129,367.2 L130,367.6 L131,367.7 L132,366.9 L133,367.8 L134,367.7 L135,367.5 L136,367.9 L137,368.6 L138,367.3 L139,368.5 L140,367.5 L141,368.3 L142,367.1 L143,368.6 L144,367.6 L145,368.5 L146,367.2 L147,367.4 L148,367.9 L149,366.8 L150,366.8 L151,367.3 L152,367.5 L153,366.0 L154,365.1 L155,364.7 L156,364.8 L157,362.0 L158,361.0 L159,358.2 L160,355.6 L161,351.0 L162,352.3 L163,362.9 L164,366.6 L165,367.5 L166,367.7 L167,367.9 L168,367.1 L169,368.4 L170,368.2 L171,367.7 L172,368.1 L173,367.7 L174,367.6 L175,367.3 L176,368.0 L177,368.0 L178,367.9 L179,367.0 L180,368.1 L181,367.7 L182,368.0 L183,368.0 L184,368.6 L185,367.2 L186,367.8 L187,368.7 L188,368.3 L189,367.5 L190,368.3 L191,368.7 L192,367.7 L193,368.5 L194,367.2 L195,368.7 L196,367.8 L197,367.4 L198,368.4 L199,368.1 L200,368.6 L201,368.4 L202,368.4 L203,367.9 L204,368.7 L205,367.1 L206,368.5 L207,368.2 L208,367.4 L209,368.4 L210,367.8 L211,367.9 L212,368.5 L213,367.3" stroke="#3324fd" stroke-width="0.80"/>
<path d="M102,366.4 L103,367.1 L104,366.0 L105,366.9 L106,367.3 L107,366.8 L108,366.3 L109,367.3 L110,367.4 L111,367.3 L112,366.9 L113,367.5 L114,367.3 L115,366.2 L116,366.6 L117,366.1 L118,366.0 L119,366.5 L120,367.5 L121,367.4 L122,366.1 L123,366.2 L124,366.6 L125,367.4 L126,367.0 L127,367.5 L128,366.0 L129,367.7 L130,366.3 L131,367.0 L132,367.5 L133,367.2 L134,366.3 L135,367.1 L136,366.7 L137,365.9 L138,366.5 L139,366.5 L140,367.0 L141,366.4 L142,366.9 L143,367.1 L144,366.1 L145,366.0 L146,367.0 L147,366.5 L148,365.8 L149,365.7 L150,367.0 L151,366.2 L152,365.4 L153,364.7 L154,365.6 L155,364.3 L156,363.4 L157,361.4 L158,359.5 L159,357.4 L160,353.9 L161,351.0 L162,351.4 L163,361.9 L164,364.8 L165,366.1 L166,366.6 L167,367.5 L168,366.5 L169,367.2 L170,366.3 L171,366.9 L172,366.4 L173,367.5 L174,366.4 L175,367.4 L176,367.1 L177,366.7 L178,367.6 L179,366.6 L180,367.2 L181,367.0 L182,366.7 L183,366.0 L184,366.7 L185,366.4 L186,366.7 L187,367.6 L188,366.4 L189,367.2 L190,367.1 L191,366.3 L192,366.6 L193,366.1 L194,367.5 L195,366.4 L196,366.7 L197,366.5 L198,367.4 L199,367.4 L200,367.0 L201,366.9 L202,366.1 L203,367.5 L204,366.1 L205,366.6 L206,366.6 L207,367.2 L208,367.1 L209,366.5 L210,367.5 L211,367.6 L212,365.9 L213,367.0" stroke="#3425fd" stroke-width="0.79"/>
<path d="M102,365.7 L103,365.5 L104,365.7 L105,365.4 L106,366.1 L107,366.0 L108,366.6 L109,366.6 L110,366.7 L111,365.6 L112,366.4 L113,366.0 L114,366.1 L115,366.7 L116,365.0 L117,365.7 L118,365.6 L119,366.0 L120,365.3 L121,366.6 L122,365.2 L123,365.5 L124,365.1 L125,365.6 L126,366.2 L127,365.0 L128,365.2 L129,366.0 L130,366.0 L131,366.2 L132,365.3 L133,366.3 L134,366.2 L135,366.3 L136,365.1 L137,365.7 L138,364.9 L139,366.4 L140,366.5 L141,366.4 L142,364.9 L143,365.4 L144,365.8 L145,365.7 L146,364.9 L147,366.1 L148,365.1 L149,365.4 L150,364.5 L151,365.1 L152,364.0 L153,363.5 L154,363.7 L155,362.6 L156,362.5 L157,360.2 L158,358.8 L159,355.8 L160,353.1 L161,349.9 L162,351.0 L163,360.3 L164,364.6 L165,364.5 L166,366.2 L167,365.1 L168,366.6 L169,365.8 L170,365.6 L171,366.0 L172,366.4 L173,366.6 L174,365.6 L175,364.9 L176,365.1 L177,366.3 L178,366.2 L179,366.1 L180,365.1 L181,365.8 L182,364.9 L183,365.1 L184,365.4 L185,366.6 L186,366.0 L187,366.4 L188,364.9 L189,365.6 L190,365.0 L191,365.3 L192,365.1 L193,366.5 L194,365.5 L195,365.7 L196,366.0 L197,366.5 L198,366.6 L199,365.9 L200,365.8 L201,366.5 L202,365.6 L203,365.4 L204,366.2 L205,365.3 L206,365.5 L207,365.6 L208,365.7 L209,365.5 L210,365.6 L211,365.7 L212,365.0 L213,366.4" stroke="#3526fd" stroke-width="0.79"/>
<path d="M102,363.9 L103,364.8 L104,364.8 L105,364.6 L106,364.2 L107,364.0 L108,364.5 L109,364.4 L110,364.7 L111,364.2 L112,365.2 L113,364.7 L114,363.8 L115,364.6 L116,365.6 L117,363.8 L118,364.9 L119,365.6 L120,364.5 L121,364.9 L122,364.5 L123,364.4 L124,364.9 L125,364.9 L126,364.4 L127,364.7 L128,364.8 L129,365.2 L130,363.9 L131,364.0 L132,364.3 L133,364.3 L134,365.3 L135,364.6 L136,365.4 L137,364.6 L138,364.3 L139,365.0 L140,364.0 L141,365.6 L142,365.3 L143,364.4 L144,364.3 L145,365.2 L146,365.1 L147,364.8 L148,363.6 L149,364.8 L150,363.4 L151,364.2 L152,363.8 L153,364.0 L154,363.0 L155,361.1 L156,361.8 L157,360.2 L158,358.1 L159,354.8 L160,353.2 L161,349.0 L162,350.5 L163,360.4 L164,363.8 L165,363.4 L166,365.1 L167,364.6 L168,365.2 L169,364.5 L170,364.6 L171,364.6 L172,364.0 L173,364.4 L174,365.2 L175,364.0 L176,364.0 L177,365.3 L178,365.0 L179,364.8 L180,364.0 L181,364.0 L182,364.4 L183,365.6 L184,364.8 L185,365.5 L186,364.2 L187,364.6 L188,364.8 L189,365.3 L190,364.1 L191,365.4 L192,364.7 L193,363.9 L194,364.6 L195,364.5 L196,365.0 L197,365.5 L198,364.7 L199,365.1 L200,364.5 L201,365.2 L202,364.0 L203,365.2 L204,364.1 L205,364.9 L206,364.2 L207,364.5 L208,364.1 L209,364.5 L210,364.9 L211,364.8 L212,364.5 L213,364.9" stroke="#3627fd" stroke-width="0.78"/>
<path d="M102,364.3 L103,363.4 L104,363.9 L105,363.7 L106,364.6 L107,363.4 L108,364.1 L109,363.2 L110,363.3 L111,364.1 L112,363.8 L113,363.3 L114,362.9 L115,364.3 L116,363.5 L117,364.1 L118,363.6 L119,363.9 L120,363.8 L121,364.6 L122,364.4 L123,363.6 L124,363.7 L125,363.2 L126,364.2 L127,363.0 L128,363.4 L129,364.3 L130,362.9 L131,364.1 L132,363.8 L133,363.8 L134,363.4 L135,363.1 L136,364.5 L137,364.2 L138,364.2 L139,363.0 L140,364.2 L141,363.2 L142,363.1 L143,363.7 L144,363.8 L145,362.9 L146,364.0 L147,363.6 L148,364.1 L149,364.1 L150,363.5 L151,362.7 L152,363.5 L153,362.7 L154,361.3 L155,361.6 L156,360.4 L157,358.3 L158,356.6 L159,353.9 L160,352.0 L161,348.0 L162,349.2 L163,358.2 L164,361.3 L165,363.1 L166,363.1 L167,363.3 L168,363.3 L169,363.7 L170,364.4 L171,363.1 L172,364.3 L173,364.3 L174,363.9 L175,363.8 L176,364.1 L177,363.8 L178,364.0 L179,364.5 L180,364.2 L181,363.3 L182,362.9 L183,364.5 L184,363.5 L185,364.2 L186,363.2 L187,363.6 L188,363.5 L189,364.1 L190,364.5 L191,363.7 L192,363.8 L193,363.4 L194,363.2 L195,364.5 L196,363.0 L197,364.5 L198,364.0 L199,362.9 L200,364.4 L201,363.0 L202,363.8 L203,363.0 L204,364.6 L205,363.4 L206,364.4 L207,362.9 L208,364.0 L209,362.9 L210,362.9 L211,363.8 L212,364.6 L213,364.0" stroke="#3728fc" stroke-width="0.78"/>
<path d="M102,363.3 L103,363.2 L104,362.7 L105,361.9 L106,362.7 L107,362.1 L108,362.7 L109,362.4 L110,362.7 L111,362.1 L112,363.0 L113,362.5 L114,362.6 L115,361.9 L116,362.6 L117,362.8 L118,363.5 L119,362.8 L120,362.0 L121,362.3 L122,362.4 L123,363.0 L124,363.5 L125,363.5 L126,363.5 L127,363.4 L128,363.3 L129,363.4 L130,361.8 L131,362.6 L132,362.8 L133,363.0 L134,362.9 L135,362.9 L136,363.4 L137,361.9 L138,362.7 L139,363.5 L140,361.8 L141,361.9 L142,363.3 L143,363.4 L144,361.7 L145,361.7 L146,363.1 L147,362.8 L148,362.4 L149,362.4 L150,362.6 L151,362.5 L152,360.7 L153,360.5 L154,361.3 L155,360.9 L156,359.7 L157,357.6 L158,355.8 L159,353.6 L160,350.2 L161,348.1 L162,348.5 L163,357.8 L164,361.1 L165,361.8 L166,362.8 L167,362.5 L168,362.2 L169,363.4 L170,362.1 L171,362.0 L172,362.2 L173,362.6 L174,363.2 L175,362.4 L176,362.2 L177,362.9 L178,362.2 L179,362.7 L180,362.2 L181,363.3 L182,362.1 L183,362.2 L184,362.3 L185,362.4 L186,363.1 L187,363.0 L188,363.2 L189,362.7 L190,361.9 L191,363.1 L192,362.2 L193,362.2 L194,362.5 L195,363.5 L196,362.4 L197,362.4 L198,363.4 L199,363.5 L200,362.5 L201,362.0 L202,363.2 L203,363.2 L204,362.4 L205,363.2 L206,362.4 L207,362.3 L208,362.8 L209,363.1 L210,362.6 L211,363.2 L212,361.8 L213,362.7" stroke="#3829fc" stroke-width="0.78"/>
<path d="M102,361.4 L103,360.9 L104,362.4 L105,361.0 L106,361.1 L107,362.3 L108,362.5 L109,362.4 L110,361.3 L111,362.4 L112,361.0 L113,362.0 L114,362.4 L115,361.1 L116,361.0 L117,362.0 L118,362.3 L119,362.0 L120,362.4 L121,361.6 L122,361.4 L123,360.9 L124,361.2 L125,362.4 L126,360.9 L127,361.1 L128,361.4 L129,360.8 L130,361.3 L131,361.1 L132,361.0 L133,361.7 L134,361.7 L135,361.8 L136,362.1 L137,361.7 L138,362.4 L139,360.9 L140,361.1 L141,360.8 L142,361.3 L143,362.1 L144,362.3 L145,361.5 L146,360.9 L147,361.1 L148,361.5 L149,360.9 L150,361.6 L151,361.8 L152,360.6 L153,360.4 L154,360.4 L155,359.0 L156,357.5 L157,357.6 L158,356.0 L159,352.1 L160,350.7 L161,346.7 L162,347.5 L163,356.2 L164,359.4 L165,361.6 L166,361.0 L167,360.7 L168,361.1 L169,362.2 L170,361.6 L171,361.9 L172,361.6 L173,361.1 L174,360.8 L175,361.3 L176,360.8 L177,361.2 L178,361.8 L179,361.4 L180,361.6 L181,361.9 L182,361.3 L183,361.4 L184,362.3 L185,361.8 L186,361.5 L187,361.7 L188,361.6 L189,361.3 L190,362.4 L191,361.2 L192,362.4 L193,362.3 L194,362.3 L195,361.0 L196,361.6 L197,362.5 L198,361.3 L199,361.0 L200,362.0 L201,361.2 L202,361.8 L203,361.0 L204,362.4 L205,361.2 L206,360.9 L207,362.0 L208,361.4 L209,361.7 L210,361.6 L211,362.4 L212,361.7 L213,361.4" stroke="#392afc" stroke-width="0.77"/>
<path d="M102,359.7 L103,360.6 L104,360.2 L105,360.7 L106,360.8 L107,360.5 L108,359.9 L109,360.6 L110,360.6 L111,360.9 L112,361.4 L113,360.2 L114,360.5 L115,359.9 L116,361.1 L117,360.1 L118,361.2 L119,361.1 L120,360.2 L121,361.3 L122,360.6 L123,360.5 L124,360.7 L125,361.4 L126,360.6 L127,360.6 L128,360.2 L129,361.2 L130,360.6 L131,360.3 L132,360.1 L133,360.1 L134,361.2 L135,361.1 L136,361.5 L137,361.3 L138,360.9 L139,361.1 L140,361.0 L141,361.1 L142,361.1 L143,360.0 L144,361.1 L145,360.2 L146,360.0 L147,361.2 L148,359.5 L149,360.3 L150,359.8 L151,360.4 L152,359.8 L153,360.0 L154,359.5 L155,358.3 L156,356.3 L157,356.2 L158,353.5 L159,353.0 L160,350.1 L161,345.8 L162,347.1 L163,356.2 L164,359.5 L165,361.0 L166,360.7 L167,359.9 L168,361.0 L169,359.8 L170,361.3 L171,361.1 L172,361.1 L173,361.3 L174,360.7 L175,361.4 L176,360.9 L177,360.6 L178,360.4 L179,360.3 L180,359.7 L181,360.0 L182,361.1 L183,360.1 L184,360.9 L185,361.1 L186,361.0 L187,360.6 L188,360.3 L189,360.2 L190,360.0 L191,360.9 L192,360.9 L193,361.4 L194,360.3 L195,361.4 L196,361.3 L197,360.2 L198,361.4 L199,360.8 L200,361.4 L201,361.1 L202,360.3 L203,360.2 L204,360.6 L205,360.6 L206,359.8 L207,361.3 L208,360.7 L209,360.6 L210,361.0 L211,360.1 L212,360.1 L213,360.7" stroke="#392bfc" stroke-width="0.77"/>
<path d="M102,359.1 L103,359.3 L104,358.8 L105,358.8 L106,359.3 L107,359.6 L108,360.4 L109,359.8 L110,359.4 L111,359.4 L112,359.1 L113,359.5 L114,360.4 L115,358.9 L116,359.4 L117,359.9 L118,360.0 L119,359.7 L120,359.8 L121,360.4 L122,360.3 L123,359.1 L124,359.6 L125,360.5 L126,359.6 L127,359.0 L128,360.0 L129,358.8 L130,358.9 L131,359.7 L132,359.2 L133,360.0 L134,360.0 L135,359.2 L136,360.0 L137,359.8 L138,359.9 L139,359.5 L140,359.4 L141,358.8 L142,359.5 L143,360.3 L144,360.2 L145,358.7 L146,358.7 L147,359.0 L148,359.7 L149,359.1 L150,358.4 L151,358.7 L152,358.7 L153,358.7 L154,357.6 L155,357.3 L156,356.5 L157,355.1 L158,352.5 L159,351.6 L160,347.9 L161,344.5 L162,346.9 L163,354.1 L164,357.3 L165,358.9 L166,359.4 L167,358.8 L168,360.4 L169,360.2 L170,359.5 L171,359.7 L172,359.2 L173,360.4 L174,358.9 L175,359.2 L176,359.1 L177,360.2 L178,359.6 L179,359.4 L180,359.4 L181,360.3 L182,359.1 L183,360.1 L184,359.9 L185,359.5 L186,359.3 L187,359.5 L188,359.5 L189,359.2 L190,359.8 L191,359.4 L192,359.2 L193,360.1 L194,359.5 L195,359.5 L196,360.2 L197,359.5 L198,359.3 L199,360.3 L200,360.4 L201,360.1 L202,359.4 L203,359.9 L204,360.0 L205,359.2 L206,360.0 L207,360.4 L208,359.8 L209,359.9 L210,359.4 L211,359.8 L212,359.1 L213,360.1" stroke="#3a2cfc" stroke-width="0.76"/>
<path d="M102,358.6 L103,359.4 L104,358.2 L105,358.9 L106,357.7 L107,358.4 L108,359.0 L109,358.1 L110,358.7 L111,358.0 L112,358.4 L113,359.4 L114,358.0 L115,359.3 L116,357.7 L117,358.7 L118,359.1 L119,359.1 L120,358.3 L121,358.7 L122,358.9 L123,359.0 L124,359.0 L125,358.7 L126,358.1 L127,358.9 L128,358.6 L129,358.6 L130,359.4 L131,357.9 L132,359.0 L133,358.2 L134,358.9 L135,359.3 L136,358.1 L137,358.6 L138,358.6 L139,358.5 L140,357.9 L141,358.7 L142,359.2 L143,358.8 L144,358.1 L145,359.0 L146,358.3 L147,357.7 L148,358.5 L149,358.1 L150,358.1 L151,358.7 L152,357.7 L153,358.1 L154,356.5 L155,356.5 L156,354.4 L157,353.6 L158,352.7 L159,350.7 L160,348.3 L161,344.4 L162,345.9 L163,353.8 L164,357.1 L165,357.2 L166,358.2 L167,358.8 L168,357.9 L169,358.2 L170,359.2 L171,359.3 L172,358.1 L173,358.0 L174,357.8 L175,357.8 L176,359.1 L177,359.0 L178,358.1 L179,358.5 L180,358.9 L181,357.7 L182,359.1 L183,359.2 L184,358.0 L185,358.9 L186,358.9 L187,358.2 L188,359.2 L189,358.0 L190,358.5 L191,358.2 L192,358.4 L193,359.1 L194,358.7 L195,358.7 L196,359.4 L197,358.0 L198,358.0 L199,358.7 L200,357.9 L201,359.4 L202,358.2 L203,358.4 L204,358.4 L205,359.1 L206,359.3 L207,358.9 L208,357.9 L209,358.3 L210,358.9 L211,358.0 L212,359.2 L213,359.2" stroke="#3b2dfc" stroke-width="0.76"/>
<path d="M102,357.0 L103,357.3 L104,357.0 L105,357.9 L106,356.7 L107,357.9 L108,356.7 L109,358.1 L110,357.6 L111,357.6 L112,356.8 L113,356.7 L114,357.2 L115,358.4 L116,357.7 L117,358.2 L118,356.7 L119,356.8 L120,356.6 L121,357.9 L122,356.9 L123,357.1 L124,357.8 L125,357.9 L126,357.2 L127,357.4 L128,357.1 L129,357.6 L130,357.2 L131,357.2 L132,357.0 L133,357.1 L134,357.1 L135,356.6 L136,357.2 L137,357.7 L138,357.1 L139,356.8 L140,358.1 L141,357.4 L142,357.5 L143,357.1 L144,358.1 L145,357.9 L146,357.6 L147,357.6 L148,357.6 L149,357.2 L150,356.9 L151,356.6 L152,356.6 L153,356.2 L154,355.8 L155,355.1 L156,354.7 L157,353.7 L158,351.0 L159,348.6 L160,346.5 L161,343.0 L162,346.1 L163,353.3 L164,355.7 L165,356.5 L166,358.0 L167,358.1 L168,357.8 L169,357.8 L170,357.9 L171,357.4 L172,357.3 L173,357.6 L174,358.2 L175,358.4 L176,358.3 L177,358.1 L178,356.7 L179,357.0 L180,358.3 L181,357.6 L182,357.5 L183,357.2 L184,358.2 L185,357.5 L186,358.4 L187,356.7 L188,358.4 L189,356.6 L190,356.9 L191,357.3 L192,357.8 L193,356.8 L194,357.6 L195,358.3 L196,357.4 L197,358.0 L198,357.7 L199,357.6 L200,356.9 L201,357.4 L202,358.2 L203,357.8 L204,357.0 L205,357.4 L206,357.6 L207,357.2 L208,357.6 L209,357.7 L210,356.6 L211,357.0 L212,357.8 L213,357.0" stroke="#3c2efc" stroke-width="0.76"/>
<path d="M102,355.7 L103,356.9 L104,356.2 L105,357.3 L106,356.6 L107,355.7 L108,356.7 L109,356.0 L110,357.0 L111,356.9 L112,356.9 L113,355.7 L114,355.6 L115,357.0 L116,355.8 L117,355.9 L118,355.6 L119,355.9 L120,356.4 L121,357.3 L122,356.1 L123,356.0 L124,357.1 L125,355.9 L126,356.7 L127,356.7 L128,357.3 L129,355.6 L130,356.6 L131,356.3 L132,357.0 L133,356.0 L134,356.9 L135,355.9 L136,356.5 L137,357.3 L138,356.0 L139,356.1 L140,357.2 L141,356.8 L142,355.7 L143,355.9 L144,355.9 L145,356.0 L146,357.0 L147,356.7 L148,357.1 L149,356.4 L150,356.2 L151,355.6 L152,356.0 L153,355.2 L154,354.0 L155,354.1 L156,353.0 L157,352.1 L158,349.7 L159,347.7 L160,346.9 L161,342.8 L162,344.6 L163,351.6 L164,355.2 L165,356.8 L166,355.8 L167,356.4 L168,356.5 L169,356.9 L170,356.6 L171,356.0 L172,355.9 L173,356.9 L174,355.7 L175,357.1 L176,355.6 L177,355.9 L178,356.4 L179,357.1 L180,356.7 L181,356.9 L182,356.9 L183,356.9 L184,355.7 L185,357.1 L186,355.8 L187,355.9 L188,355.6 L189,355.6 L190,357.1 L191,356.3 L192,355.7 L193,355.7 L194,357.1 L195,356.6 L196,357.2 L197,355.6 L198,355.8 L199,356.1 L200,355.9 L201,355.8 L202,355.9 L203,356.7 L204,355.9 L205,355.9 L206,356.5 L207,356.2 L208,355.8 L209,356.6 L210,356.5 L211,356.3 L212,356.4 L213,355.6" stroke="#3d2ffc" stroke-width="0.75"/>
<path d="M102,355.6 L103,354.9 L104,355.1 L105,354.6 L106,356.1 L107,355.6 L108,355.2 L109,355.5 L110,356.2 L111,354.8 L112,355.2 L113,355.8 L114,355.2 L115,355.8 L116,356.2 L117,354.6 L118,355.0 L119,355.1 L120,355.9 L121,355.9 L122,355.8 L123,356.2 L124,354.9 L125,355.2 L126,356.1 L127,355.9 L128,354.7 L129,356.3 L130,355.9 L131,356.1 L132,355.2 L133,355.6 L134,356.3 L135,356.1 L136,355.6 L137,356.1 L138,356.3 L139,356.0 L140,355.7 L141,356.2 L142,354.8 L143,355.2 L144,355.5 L145,354.7 L146,355.8 L147,354.5 L148,355.4 L149,354.7 L150,354.7 L151,355.0 L152,354.0 L153,354.1 L154,354.4 L155,354.0 L156,351.8 L157,350.9 L158,350.0 L159,347.1 L160,345.8 L161,341.8 L162,344.4 L163,351.0 L164,353.2 L165,354.1 L166,354.4 L167,355.1 L168,355.0 L169,356.3 L170,355.7 L171,354.7 L172,355.8 L173,355.0 L174,355.4 L175,355.8 L176,356.1 L177,356.2 L178,355.3 L179,355.1 L180,355.2 L181,355.1 L182,355.9 L183,355.4 L184,355.8 L185,354.8 L186,355.9 L187,356.3 L188,354.9 L189,355.6 L190,354.8 L191,354.6 L192,355.3 L193,354.9 L194,355.8 L195,355.6 L196,355.7 L197,356.3 L198,354.6 L199,354.7 L200,354.6 L201,355.4 L202,356.0 L203,355.8 L204,355.5 L205,356.1 L206,355.2 L207,354.7 L208,355.7 L209,354.6 L210,354.9 L211,354.6 L212,354.8 L213,354.6" stroke="#3e30fb" stroke-width="0.75"/>
<path d="M102,354.5 L103,353.7 L104,354.6 L105,355.0 L106,354.1 L107,353.7 L108,354.7 L109,354.8 L110,355.1 L111,354.5 L112,354.5 L113,355.1 L114,354.7 L115,355.3 L116,354.0 L117,354.9 L118,354.6 L119,354.3 L120,353.5 L121,354.4 L122,354.0 L123,354.6 L124,354.4 L125,354.4 L126,353.6 L127,353.7 L128,354.6 L129,354.7 L130,355.3 L131,354.9 L132,354.0 L133,354.3 L134,354.4 L135,354.9 L136,354.2 L137,355.2 L138,354.4 L139,354.2 L140,354.4 L141,354.1 L142,355.3 L143,353.5 L144,354.2 L145,353.6 L146,354.6 L147,353.6 L148,353.6 L149,354.0 L150,354.2 L151,354.3 L152,353.5 L153,352.8 L154,352.5 L155,352.8 L156,350.8 L157,349.3 L158,349.4 L159,346.7 L160,343.7 L161,340.9 L162,344.3 L163,350.8 L164,352.3 L165,354.3 L166,353.8 L167,354.3 L168,354.6 L169,353.6 L170,355.2 L171,354.1 L172,353.8 L173,354.9 L174,353.7 L175,353.6 L176,354.7 L177,354.3 L178,355.1 L179,354.9 L180,353.9 L181,353.6 L182,354.6 L183,354.3 L184,354.0 L185,355.2 L186,353.9 L187,354.7 L188,353.6 L189,355.2 L190,355.2 L191,354.6 L192,354.1 L193,354.8 L194,355.1 L195,354.9 L196,353.6 L197,354.4 L198,353.8 L199,354.5 L200,355.2 L201,355.1 L202,353.9 L203,354.5 L204,354.1 L205,353.8 L206,354.8 L207,354.9 L208,354.1 L209,354.3 L210,354.8 L211,354.8 L212,354.3 L213,353.7" stroke="#4234fb" stroke-width="0.75"/>
<path d="M102,352.6 L103,352.8 L104,354.0 L105,353.4 L106,353.6 L107,353.1 L108,353.1 L109,352.8 L110,354.2 L111,353.6 L112,352.7 L113,353.7 L114,353.5 L115,353.6 L116,353.9 L117,353.6 L118,354.0 L119,354.2 L120,353.2 L121,353.6 L122,353.1 L123,353.2 L124,353.1 L125,353.6 L126,353.1 L127,353.1 L128,354.0 L129,353.9 L130,353.7 L131,354.0 L132,353.2 L133,353.6 L134,352.9 L135,353.0 L136,352.6 L137,353.9 L138,354.1 L139,353.0 L140,353.1 L141,352.7 L142,352.7 L143,353.6 L144,354.0 L145,352.5 L146,352.8 L147,353.7 L148,352.7 L149,353.8 L150,352.7 L151,352.7 L152,352.0 L153,351.8 L154,351.6 L155,350.7 L156,350.7 L157,348.4 L158,348.0 L159,346.4 L160,343.3 L161,340.3 L162,342.2 L163,348.7 L164,352.6 L165,353.2 L166,352.4 L167,353.2 L168,353.5 L169,353.0 L170,352.5 L171,353.2 L172,353.1 L173,354.2 L174,353.1 L175,354.1 L176,354.0 L177,353.5 L178,352.7 L179,353.9 L180,352.6 L181,353.5 L182,352.6 L183,352.6 L184,353.2 L185,352.7 L186,354.3 L187,353.5 L188,354.1 L189,354.2 L190,353.8 L191,353.6 L192,353.3 L193,353.9 L194,353.7 L195,352.8 L196,353.4 L197,353.2 L198,353.4 L199,353.8 L200,353.7 L201,353.5 L202,353.9 L203,354.0 L204,352.6 L205,352.7 L206,352.6 L207,352.8 L208,354.2 L209,353.0 L210,353.3 L211,353.3 L212,353.5 L213,353.0" stroke="#4538fb" stroke-width="0.74"/>
<path d="M102,352.8 L103,352.0 L104,353.0 L105,352.9 L106,351.4 L107,352.4 L108,351.6 L109,353.0 L110,351.6 L111,351.9 L112,352.8 L113,352.5 L114,352.6 L115,352.2 L116,352.4 L117,351.8 L118,352.3 L119,351.9 L120,352.6 L121,351.6 L122,351.7 L123,351.8 L124,352.4 L125,352.5 L126,351.4 L127,353.2 L128,352.9 L129,352.1 L130,351.7 L131,352.9 L132,353.2 L133,351.8 L134,352.8 L135,352.9 L136,353.1 L137,351.8 L138,351.6 L139,351.7 L140,351.8 L141,353.0 L142,353.0 L143,352.3 L144,351.6 L145,352.0 L146,351.8 L147,352.5 L148,352.5 L149,352.5 L150,351.8 L151,351.7 L152,351.5 L153,351.0 L154,350.7 L155,350.5 L156,349.7 L157,348.0 L158,347.0 L159,344.4 L160,341.9 L161,339.9 L162,341.9 L163,347.7 L164,350.3 L165,351.8 L166,353.0 L167,352.9 L168,351.5 L169,352.0 L170,352.1 L171,352.0 L172,351.7 L173,352.5 L174,352.9 L175,352.1 L176,351.8 L177,351.6 L178,351.5 L179,352.8 L180,351.8 L181,352.7 L182,352.9 L183,351.6 L184,351.8 L185,352.0 L186,352.8 L187,352.8 L188,352.0 L189,352.2 L190,352.1 L191,352.3 L192,352.9 L193,351.9 L194,352.9 L195,353.1 L196,352.5 L197,353.2 L198,353.1 L199,351.7 L200,353.2 L201,351.8 L202,352.9 L203,351.7 L204,352.0 L205,352.2 L206,352.9 L207,352.7 L208,351.8 L209,353.0 L210,353.0 L211,352.4 L212,351.5 L213,351.9" stroke="#483cfb" stroke-width="0.74"/>
<path d="M102,350.9 L103,351.2 L104,352.1 L105,351.5 L106,351.9 L107,350.5 L108,350.8 L109,351.7 L110,351.0 L111,350.8 L112,350.5 L113,350.5 L114,351.1 L115,351.4 L116,351.1 L117,351.4 L118,350.9 L119,350.4 L120,351.6 L121,351.0 L122,351.3 L123,351.1 L124,350.9 L125,350.5 L126,350.9 L127,350.9 L128,350.6 L129,350.5 L130,351.3 L131,350.4 L132,352.0 L133,351.0 L134,351.2 L135,351.3 L136,350.4 L137,350.6 L138,351.8 L139,351.4 L140,351.3 L141,351.0 L142,351.7 L143,351.3 L144,351.8 L145,351.8 L146,351.9 L147,351.6 L148,351.4 L149,351.0 L150,351.0 L151,350.9 L152,350.6 L153,350.8 L154,350.4 L155,348.4 L156,348.8 L157,347.5 L158,346.1 L159,344.9 L160,341.1 L161,339.3 L162,341.3 L163,348.4 L164,349.5 L165,351.0 L166,350.6 L167,351.7 L168,351.3 L169,351.7 L170,351.0 L171,352.0 L172,350.4 L173,350.8 L174,351.7 L175,352.0 L176,351.8 L177,350.9 L178,350.5 L179,351.7 L180,351.7 L181,350.5 L182,352.1 L183,351.4 L184,350.5 L185,351.3 L186,351.0 L187,350.6 L188,352.0 L189,352.1 L190,350.6 L191,351.2 L192,350.9 L193,351.6 L194,350.6 L195,351.0 L196,351.1 L197,351.3 L198,351.2 L199,351.5 L200,352.1 L201,352.1 L202,352.0 L203,351.9 L204,350.8 L205,350.8 L206,351.2 L207,351.6 L208,351.5 L209,351.0 L210,352.2 L211,351.0 L212,350.4 L213,350.6" stroke="#4c3ffb" stroke-width="0.73"/>
<path d="M102,349.7 L103,350.7 L104,350.9 L105,349.4 L106,349.8 L107,349.8 L108,350.8 L109,351.0 L110,349.8 L111,349.6 L112,351.1 L113,351.1 L114,350.7 L115,350.2 L116,350.7 L117,350.7 L118,350.3 L119,349.9 L120,350.3 L121,350.6 L122,350.0 L123,350.5 L124,349.6 L125,351.1 L126,349.7 L127,349.8 L128,351.1 L129,351.1 L130,351.0 L131,350.9 L132,350.9 L133,350.8 L134,350.4 L135,349.5 L136,350.7 L137,350.9 L138,350.9 L139,349.4 L140,349.5 L141,350.7 L142,350.2 L143,350.9 L144,351.1 L145,350.1 L146,350.5 L147,350.4 L148,350.4 L149,349.8 L150,350.1 L151,349.0 L152,350.2 L153,349.6 L154,349.3 L155,348.1 L156,346.9 L157,346.3 L158,345.3 L159,343.4 L160,340.4 L161,337.7 L162,340.6 L163,346.2 L164,348.6 L165,349.4 L166,350.0 L167,350.6 L168,351.0 L169,350.6 L170,349.4 L171,350.9 L172,350.5 L173,350.7 L174,350.5 L175,350.0 L176,350.0 L177,349.5 L178,350.6 L179,349.5 L180,350.6 L181,351.0 L182,350.6 L183,350.5 L184,350.8 L185,351.1 L186,350.8 L187,351.1 L188,350.2 L189,349.4 L190,350.5 L191,350.5 L192,350.9 L193,350.5 L194,350.0 L195,349.4 L196,350.9 L197,350.5 L198,351.1 L199,350.4 L200,350.9 L201,350.8 L202,351.2 L203,350.2 L204,351.0 L205,350.1 L206,349.4 L207,350.0 L208,350.0 L209,351.2 L210,350.1 L211,349.9 L212,350.6 L213,349.5" stroke="#4f43fb" stroke-width="0.73"/>
<path d="M102,348.9 L103,349.0 L104,348.6 L105,349.4 L106,349.1 L107,349.8 L108,348.9 L109,350.1 L110,348.7 L111,349.3 L112,348.7 L113,348.4 L114,348.9 L115,349.9 L116,348.9 L117,349.2 L118,349.3 L119,348.8 L120,349.3 L121,348.5 L122,349.0 L123,348.8 L124,349.8 L125,349.7 L126,349.6 L127,349.4 L128,349.9 L129,349.7 L130,348.4 L131,348.6 L132,349.7 L133,349.8 L134,350.1 L135,349.7 L136,348.6 L137,349.4 L138,349.5 L139,349.4 L140,348.6 L141,350.1 L142,349.2 L143,348.8 L144,350.1 L145,349.0 L146,348.4 L147,349.4 L148,348.6 L149,348.5 L150,348.5 L151,348.9 L152,348.2 L153,348.5 L154,348.5 L155,348.1 L156,347.1 L157,346.2 L158,343.7 L159,343.0 L160,339.6 L161,338.0 L162,339.3 L163,345.1 L164,348.9 L165,348.2 L166,349.5 L167,349.3 L168,348.3 L169,349.8 L170,348.4 L171,349.9 L172,349.8 L173,349.2 L174,349.1 L175,348.4 L176,349.6 L177,348.4 L178,349.3 L179,350.0 L180,349.6 L181,348.5 L182,349.6 L183,349.6 L184,348.9 L185,349.7 L186,349.4 L187,349.1 L188,349.3 L189,348.8 L190,348.9 L191,349.9 L192,349.0 L193,349.7 L194,349.0 L195,348.7 L196,348.3 L197,350.1 L198,349.7 L199,350.1 L200,349.4 L201,348.4 L202,348.6 L203,348.4 L204,349.4 L205,349.5 L206,350.1 L207,348.9 L208,348.8 L209,348.7 L210,348.6 L211,348.4 L212,349.2 L213,349.1" stroke="#5347fb" stroke-width="0.73"/>
<path d="M102,348.0 L103,349.0 L104,347.9 L105,348.8 L106,348.3 L107,347.5 L108,347.4 L109,348.4 L110,348.9 L111,347.4 L112,348.6 L113,347.7 L114,348.5 L115,348.8 L116,348.6 L117,347.7 L118,347.6 L119,349.0 L120,348.9 L121,349.0 L122,348.3 L123,347.4 L124,348.0 L125,348.9 L126,347.4 L127,347.8 L128,347.4 L129,348.9 L130,347.9 L131,347.4 L132,347.9 L133,347.7 L134,348.1 L135,348.4 L136,348.5 L137,347.5 L138,348.3 L139,347.4 L140,348.1 L141,348.7 L142,347.8 L143,348.8 L144,347.7 L145,348.0 L146,348.6 L147,347.2 L148,348.1 L149,348.0 L150,348.2 L151,348.5 L152,347.8 L153,346.7 L154,346.2 L155,346.2 L156,345.1 L157,344.6 L158,342.5 L159,341.9 L160,339.4 L161,336.4 L162,338.7 L163,345.6 L164,347.7 L165,348.5 L166,347.9 L167,349.0 L168,347.6 L169,348.6 L170,349.0 L171,347.7 L172,347.3 L173,347.5 L174,347.5 L175,348.7 L176,348.4 L177,348.2 L178,347.5 L179,348.5 L180,347.5 L181,347.5 L182,348.4 L183,348.5 L184,348.7 L185,348.8 L186,347.5 L187,347.8 L188,347.6 L189,348.2 L190,347.4 L191,348.9 L192,348.5 L193,348.8 L194,348.2 L195,348.9 L196,348.8 L197,348.8 L198,348.8 L199,347.7 L200,347.9 L201,347.4 L202,348.7 L203,348.2 L204,349.1 L205,347.8 L206,348.1 L207,348.9 L208,349.0 L209,348.7 L210,348.9 L211,349.0 L212,347.8 L213,348.4" stroke="#564bfb" stroke-width="0.72"/>
<path d="M102,346.4 L103,347.5 L104,348.0 L105,347.2 L106,346.5 L107,347.3 L108,346.4 L109,347.1 L110,346.4 L111,347.0 L112,347.7 L113,347.6 L114,347.8 L115,347.1 L116,347.1 L117,346.4 L118,347.7 L119,347.3 L120,347.0 L121,346.5 L122,347.1 L123,346.4 L124,346.5 L125,346.4 L126,347.0 L127,346.5 L128,347.8 L129,347.4 L130,347.8 L131,347.3 L132,346.6 L133,346.8 L134,347.8 L135,347.3 L136,347.4 L137,347.4 L138,346.3 L139,346.6 L140,347.0 L141,347.8 L142,347.9 L143,347.3 L144,346.7 L145,346.3 L146,347.2 L147,346.9 L148,347.8 L149,346.4 L150,346.3 L151,345.8 L152,345.6 L153,346.7 L154,346.5 L155,344.6 L156,343.6 L157,343.7 L158,341.8 L159,340.9 L160,339.4 L161,336.9 L162,338.3 L163,344.1 L164,345.7 L165,347.3 L166,346.6 L167,347.8 L168,347.5 L169,347.9 L170,346.9 L171,348.0 L172,347.3 L173,346.7 L174,347.4 L175,346.8 L176,346.5 L177,346.3 L178,347.4 L179,346.7 L180,346.4 L181,347.7 L182,346.5 L183,347.6 L184,346.8 L185,346.9 L186,347.9 L187,347.8 L188,347.8 L189,348.0 L190,347.4 L191,348.0 L192,347.4 L193,347.3 L194,346.8 L195,346.9 L196,347.3 L197,346.7 L198,347.4 L199,347.8 L200,347.6 L201,346.7 L202,346.3 L203,346.9 L204,347.0 L205,347.8 L206,347.3 L207,347.2 L208,347.4 L209,347.3 L210,347.5 L211,347.3 L212,347.3 L213,346.7" stroke="#594efb" stroke-width="0.72"/>
<path d="M102,345.5 L103,346.0 L104,346.8 L105,346.9 L106,345.8 L107,346.3 L108,346.2 L109,346.1 L110,345.6 L111,346.7 L112,345.4 L113,345.6 L114,345.7 L115,345.6 L116,345.6 L117,345.4 L118,346.2 L119,345.5 L120,346.4 L121,346.3 L122,346.4 L123,346.1 L124,346.3 L125,345.8 L126,346.1 L127,346.5 L128,345.6 L129,346.6 L130,346.3 L131,347.0 L132,346.3 L133,346.2 L134,346.6 L135,345.8 L136,345.9 L137,346.0 L138,346.6 L139,346.5 L140,345.6 L141,346.9 L142,347.0 L143,346.1 L144,347.0 L145,346.3 L146,345.9 L147,345.3 L148,345.1 L149,346.1 L150,346.2 L151,345.9 L152,346.0 L153,345.1 L154,345.2 L155,344.5 L156,343.8 L157,342.7 L158,341.7 L159,339.9 L160,337.2 L161,336.0 L162,338.3 L163,342.9 L164,345.9 L165,345.8 L166,345.4 L167,346.1 L168,345.9 L169,345.5 L170,346.8 L171,345.6 L172,346.5 L173,345.5 L174,346.2 L175,347.0 L176,345.4 L177,346.8 L178,345.2 L179,347.0 L180,346.9 L181,346.0 L182,346.4 L183,346.1 L184,345.5 L185,345.9 L186,346.0 L187,346.8 L188,345.4 L189,346.2 L190,346.1 L191,346.2 L192,346.7 L193,346.3 L194,345.8 L195,347.0 L196,346.3 L197,345.7 L198,346.2 L199,346.8 L200,345.3 L201,346.4 L202,346.1 L203,345.8 L204,345.5 L205,345.7 L206,346.0 L207,346.0 L208,346.3 L209,345.7 L210,346.3 L211,346.1 L212,346.7 L213,346.7" stroke="#5d52fb" stroke-width="0.71"/>
<path d="M102,344.6 L103,346.0 L104,345.2 L105,344.8 L106,344.7 L107,345.5 L108,345.0 L109,345.4 L110,344.7 L111,345.7 L112,344.7 L113,345.8 L114,345.0 L115,344.9 L116,345.2 L117,345.1 L118,345.2 L119,345.2 L120,345.9 L121,345.5 L122,344.4 L123,346.0 L124,344.2 L125,344.3 L126,345.7 L127,344.7 L128,344.3 L129,344.5 L130,345.1 L131,345.7 L132,344.2 L133,344.5 L134,344.2 L135,344.3 L136,344.8 L137,345.1 L138,345.9 L139,345.4 L140,345.7 L141,345.3 L142,345.8 L143,345.4 L144,344.6 L145,344.8 L146,345.0 L147,344.3 L148,345.7 L149,344.8 L150,344.2 L151,344.6 L152,345.0 L153,343.8 L154,344.0 L155,342.6 L156,342.1 L157,341.1 L158,340.5 L159,339.3 L160,336.6 L161,335.4 L162,337.4 L163,342.5 L164,345.0 L165,344.5 L166,345.9 L167,345.0 L168,345.1 L169,344.5 L170,344.4 L171,345.4 L172,344.4 L173,344.3 L174,344.4 L175,345.2 L176,344.6 L177,344.7 L178,345.6 L179,345.0 L180,344.5 L181,345.4 L182,346.0 L183,345.3 L184,345.0 L185,345.2 L186,345.5 L187,345.7 L188,345.6 L189,344.6 L190,345.6 L191,344.4 L192,344.4 L193,345.1 L194,344.5 L195,345.2 L196,344.7 L197,345.9 L198,345.0 L199,345.7 L200,345.9 L201,345.0 L202,345.6 L203,345.1 L204,344.9 L205,344.4 L206,345.4 L207,345.9 L208,345.4 L209,344.8 L210,345.1 L211,344.8 L212,344.9 L213,345.6" stroke="#6056fb" stroke-width="0.71"/>
<path d="M102,343.2 L103,344.0 L104,344.1 L105,343.4 L106,344.5 L107,343.6 L108,343.9 L109,343.6 L110,344.2 L111,343.9 L112,344.4 L113,343.9 L114,344.6 L115,344.2 L116,343.4 L117,344.1 L118,343.6 L119,343.7 L120,344.9 L121,344.0 L122,344.5 L123,343.4 L124,344.3 L125,343.4 L126,343.6 L127,343.4 L128,343.2 L129,344.8 L130,344.9 L131,343.8 L132,343.2 L133,344.5 L134,344.4 L135,343.2 L136,344.5 L137,343.3 L138,343.6 L139,344.6 L140,344.5 L141,343.6 L142,344.1 L143,344.6 L144,344.2 L145,344.1 L146,343.4 L147,343.2 L148,343.4 L149,343.9 L150,343.9 L151,343.6 L152,343.7 L153,343.3 L154,343.1 L155,342.1 L156,342.2 L157,340.8 L158,340.3 L159,339.0 L160,336.9 L161,334.8 L162,336.8 L163,341.3 L164,342.7 L165,343.1 L166,344.3 L167,343.6 L168,344.3 L169,344.2 L170,344.3 L171,343.9 L172,343.6 L173,343.7 L174,344.4 L175,344.8 L176,343.7 L177,343.7 L178,344.0 L179,343.9 L180,344.3 L181,344.5 L182,344.5 L183,344.6 L184,344.5 L185,344.9 L186,344.0 L187,344.0 L188,344.3 L189,343.7 L190,344.7 L191,343.9 L192,344.2 L193,344.1 L194,343.8 L195,343.2 L196,343.7 L197,344.0 L198,344.9 L199,343.4 L200,344.8 L201,344.9 L202,344.6 L203,343.7 L204,343.2 L205,344.8 L206,343.3 L207,343.7 L208,344.9 L209,344.4 L210,344.6 L211,344.7 L212,343.5 L213,344.1" stroke="#645afb" stroke-width="0.71"/>
<path d="M102,342.3 L103,342.8 L104,343.0 L105,343.6 L106,342.7 L107,343.3 L108,342.4 L109,342.6 L110,342.2 L111,343.2 L112,343.2 L113,343.4 L114,342.9 L115,343.8 L116,343.4 L117,343.2 L118,343.7 L119,342.5 L120,342.7 L121,343.1 L122,343.2 L123,343.9 L124,343.4 L125,342.2 L126,343.8 L127,343.0 L128,342.5 L129,343.5 L130,343.3 L131,343.7 L132,343.1 L133,342.6 L134,343.0 L135,343.0 L136,342.8 L137,343.2 L138,342.4 L139,342.6 L140,342.3 L141,342.2 L142,343.1 L143,343.4 L144,342.8 L145,343.7 L146,343.2 L147,343.2 L148,342.5 L149,343.5 L150,342.5 L151,343.2 L152,342.0 L153,343.0 L154,342.1 L155,340.7 L156,341.1 L157,339.2 L158,338.5 L159,337.0 L160,335.2 L161,333.3 L162,335.2 L163,340.1 L164,341.4 L165,343.3 L166,342.7 L167,343.4 L168,342.9 L169,343.9 L170,343.7 L171,343.4 L172,343.6 L173,343.8 L174,343.8 L175,342.9 L176,343.2 L177,342.3 L178,342.8 L179,342.7 L180,343.3 L181,342.1 L182,343.5 L183,342.3 L184,342.9 L185,343.0 L186,343.6 L187,343.3 L188,342.4 L189,343.3 L190,342.6 L191,343.2 L192,342.9 L193,343.9 L194,342.9 L195,342.6 L196,342.7 L197,343.9 L198,342.8 L199,342.6 L200,343.1 L201,343.3 L202,343.8 L203,342.3 L204,342.7 L205,343.4 L206,343.0 L207,343.4 L208,343.3 L209,342.3 L210,342.2 L211,342.5 L212,342.7 L213,342.5" stroke="#675dfb" stroke-width="0.70"/>
<path d="M102,341.6 L103,341.3 L104,341.1 L105,342.0 L106,342.5 L107,341.4 L108,341.3 L109,342.4 L110,341.2 L111,341.4 L112,342.0 L113,341.6 L114,342.5 L115,342.0 L116,342.0 L117,341.8 L118,341.1 L119,342.6 L120,341.8 L121,342.6 L122,341.3 L123,341.9 L124,342.1 L125,341.4 L126,341.2 L127,342.8 L128,342.8 L129,342.9 L130,342.1 L131,342.4 L132,342.2 L133,342.0 L134,341.4 L135,342.3 L136,341.9 L137,342.3 L138,341.2 L139,341.6 L140,341.3 L141,342.5 L142,342.0 L143,341.6 L144,342.5 L145,342.0 L146,341.6 L147,341.7 L148,341.0 L149,341.0 L150,340.9 L151,342.4 L152,342.1 L153,341.2 L154,341.6 L155,340.4 L156,340.0 L157,338.1 L158,337.6 L159,336.5 L160,334.5 L161,333.1 L162,334.7 L163,339.6 L164,340.6 L165,341.7 L166,341.8 L167,342.0 L168,341.2 L169,341.5 L170,342.4 L171,341.4 L172,342.0 L173,342.9 L174,342.2 L175,342.4 L176,342.5 L177,342.8 L178,341.8 L179,341.8 L180,342.5 L181,341.1 L182,341.9 L183,341.6 L184,342.1 L185,342.4 L186,342.7 L187,342.0 L188,342.3 L189,341.2 L190,342.3 L191,342.8 L192,342.2 L193,342.0 L194,342.0 L195,341.8 L196,341.4 L197,341.5 L198,342.5 L199,342.0 L200,341.2 L201,342.2 L202,342.6 L203,342.3 L204,341.4 L205,342.8 L206,341.4 L207,342.0 L208,341.9 L209,341.4 L210,341.6 L211,341.4 L212,341.4 L213,341.2" stroke="#6b61fa" stroke-width="0.70"/>
<path d="M102,341.2 L103,341.3 L104,340.5 L105,341.8 L106,340.8 L107,340.9 L108,341.7 L109,341.2 L110,340.9 L111,341.4 L112,341.4 L113,340.6 L114,340.2 L115,341.4 L116,341.4 L117,341.1 L118,340.3 L119,341.4 L120,340.4 L121,341.5 L122,341.2 L123,341.2 L124,340.2 L125,340.7 L126,341.4 L127,340.3 L128,340.1 L129,340.8 L130,341.6 L131,341.2 L132,340.5 L133,340.2 L134,341.6 L135,341.6 L136,341.3 L137,340.4 L138,341.4 L139,340.1 L140,340.4 L141,340.6 L142,341.8 L143,340.1 L144,340.3 L145,341.3 L146,341.4 L147,340.5 L148,340.1 L149,341.4 L150,341.5 L151,341.3 L152,340.5 L153,339.4 L154,340.2 L155,339.6 L156,339.3 L157,338.3 L158,336.7 L159,336.2 L160,333.6 L161,331.7 L162,334.3 L163,338.8 L164,340.2 L165,341.5 L166,340.5 L167,341.7 L168,341.6 L169,340.7 L170,340.1 L171,341.1 L172,341.2 L173,341.8 L174,341.1 L175,341.4 L176,341.4 L177,340.4 L178,341.3 L179,340.9 L180,340.5 L181,340.6 L182,340.7 L183,341.4 L184,341.1 L185,340.6 L186,340.2 L187,341.5 L188,341.4 L189,341.6 L190,341.5 L191,340.2 L192,340.6 L193,340.9 L194,340.6 L195,341.5 L196,340.4 L197,340.1 L198,340.9 L199,340.2 L200,340.1 L201,341.2 L202,341.2 L203,341.0 L204,340.2 L205,341.1 L206,341.0 L207,340.6 L208,340.5 L209,340.3 L210,340.9 L211,340.7 L212,341.1 L213,341.3" stroke="#6e65fa" stroke-width="0.69"/>
<path d="M102,339.5 L103,340.1 L104,339.5 L105,340.4 L106,339.4 L107,340.1 L108,340.4 L109,340.5 L110,340.0 L111,340.7 L112,340.8 L113,340.5 L114,339.7 L115,339.5 L116,340.2 L117,339.3 L118,339.4 L119,339.2 L120,340.2 L121,339.7 L122,340.7 L123,340.5 L124,340.0 L125,339.6 L126,339.6 L127,339.1 L128,339.2 L129,340.6 L130,339.6 L131,339.0 L132,340.8 L133,339.7 L134,340.4 L135,339.8 L136,340.8 L137,339.2 L138,339.9 L139,340.2 L140,339.1 L141,340.7 L142,339.6 L143,340.2 L144,339.2 L145,339.1 L146,339.1 L147,340.4 L148,340.6 L149,340.5 L150,339.7 L151,338.8 L152,339.9 L153,339.1 L154,339.3 L155,338.5 L156,337.8 L157,336.2 L158,335.0 L159,333.5 L160,332.5 L161,330.4 L162,333.9 L163,336.5 L164,339.5 L165,339.0 L166,339.1 L167,340.7 L168,339.4 L169,340.1 L170,340.1 L171,339.8 L172,339.7 L173,339.3 L174,340.3 L175,339.7 L176,340.1 L177,340.5 L178,339.2 L179,339.8 L180,339.7 L181,340.7 L182,340.2 L183,339.4 L184,339.9 L185,339.1 L186,340.0 L187,339.2 L188,339.3 L189,339.9 L190,340.0 L191,339.4 L192,340.1 L193,339.6 L194,340.3 L195,339.1 L196,340.5 L197,339.8 L198,339.3 L199,339.6 L200,340.2 L201,339.2 L202,340.7 L203,339.4 L204,339.8 L205,339.2 L206,339.9 L207,340.8 L208,339.4 L209,339.4 L210,340.0 L211,340.2 L212,339.3 L213,339.4" stroke="#7169fa" stroke-width="0.69"/>
<path d="M102,339.1 L103,338.4 L104,338.0 L105,339.3 L106,339.6 L107,339.5 L108,339.5 L109,338.4 L110,338.6 L111,339.1 L112,339.1 L113,339.1 L114,339.0 L115,338.4 L116,338.4 L117,338.2 L118,338.1 L119,339.0 L120,338.2 L121,339.6 L122,339.7 L123,338.3 L124,339.7 L125,339.1 L126,338.0 L127,338.7 L128,338.6 L129,338.6 L130,338.1 L131,338.4 L132,338.0 L133,338.8 L134,338.9 L135,338.4 L136,339.7 L137,339.6 L138,338.9 L139,339.4 L140,338.6 L141,339.3 L142,339.4 L143,338.6 L144,339.3 L145,338.6 L146,338.3 L147,338.7 L148,338.1 L149,339.1 L150,338.2 L151,338.5 L152,338.9 L153,338.3 L154,338.5 L155,337.7 L156,337.0 L157,336.2 L158,335.0 L159,334.0 L160,331.8 L161,330.1 L162,332.2 L163,336.3 L164,338.8 L165,338.3 L166,338.3 L167,338.9 L168,338.6 L169,339.3 L170,339.1 L171,338.0 L172,338.4 L173,339.1 L174,338.7 L175,339.2 L176,338.8 L177,338.2 L178,339.2 L179,339.8 L180,338.2 L181,339.1 L182,339.1 L183,339.1 L184,338.9 L185,338.9 L186,339.8 L187,339.6 L188,338.8 L189,339.5 L190,339.2 L191,339.4 L192,339.8 L193,338.1 L194,338.4 L195,338.4 L196,339.5 L197,339.7 L198,338.4 L199,338.9 L200,339.6 L201,339.3 L202,339.1 L203,339.6 L204,339.7 L205,338.2 L206,339.7 L207,338.5 L208,339.1 L209,339.4 L210,338.5 L211,338.6 L212,339.6 L213,339.4" stroke="#756cfa" stroke-width="0.69"/>
<path d="M102,338.7 L103,337.1 L104,338.1 L105,338.3 L106,338.7 L107,338.3 L108,337.5 L109,337.1 L110,337.3 L111,337.4 L112,338.0 L113,337.5 L114,337.2 L115,337.1 L116,338.2 L117,338.4 L118,337.2 L119,337.9 L120,338.7 L121,337.6 L122,337.9 L123,338.4 L124,337.0 L125,338.5 L126,338.4 L127,338.3 L128,337.6 L129,337.9 L130,338.7 L131,337.1 L132,337.1 L133,338.1 L134,338.7 L135,337.2 L136,337.3 L137,337.8 L138,338.4 L139,338.0 L140,338.2 L141,337.1 L142,337.3 L143,338.0 L144,338.3 L145,337.1 L146,337.1 L147,337.5 L148,337.6 L149,337.4 L150,337.0 L151,336.7 L152,337.6 L153,337.9 L154,337.0 L155,337.0 L156,334.9 L157,334.9 L158,333.4 L159,332.8 L160,330.7 L161,329.0 L162,332.0 L163,336.1 L164,336.3 L165,337.5 L166,337.1 L167,338.0 L168,337.4 L169,338.2 L170,337.6 L171,337.0 L172,338.6 L173,337.2 L174,337.4 L175,337.9 L176,337.1 L177,338.4 L178,338.3 L179,337.2 L180,338.1 L181,337.2 L182,337.9 L183,337.1 L184,337.5 L185,337.8 L186,337.9 L187,338.1 L188,338.6 L189,337.6 L190,337.6 L191,337.3 L192,338.3 L193,337.6 L194,337.3 L195,337.3 L196,337.7 L197,338.5 L198,337.8 L199,338.4 L200,337.8 L201,338.0 L202,337.4 L203,337.7 L204,338.3 L205,337.1 L206,337.8 L207,337.4 L208,337.5 L209,337.6 L210,337.3 L211,338.0 L212,337.0 L213,337.4" stroke="#7870fa" stroke-width="0.68"/>
<path d="M102,336.4 L103,336.3 L104,337.4 L105,337.2 L106,337.5 L107,336.2 L108,336.3 L109,336.5 L110,336.8 L111,337.4 L112,337.4 L113,337.5 L114,336.0 L115,336.0 L116,336.5 L117,336.7 L118,335.9 L119,336.6 L120,336.2 L121,337.5 L122,336.3 L123,336.5 L124,336.2 L125,337.5 L126,336.1 L127,336.7 L128,336.3 L129,336.4 L130,337.7 L131,337.2 L132,337.3 L133,336.6 L134,337.7 L135,337.7 L136,337.1 L137,336.3 L138,336.0 L139,336.9 L140,336.8 L141,337.5 L142,337.7 L143,337.4 L144,336.3 L145,337.7 L146,337.0 L147,335.9 L148,336.2 L149,337.5 L150,337.1 L151,336.9 L152,336.6 L153,335.2 L154,336.5 L155,334.9 L156,335.0 L157,333.8 L158,332.5 L159,331.2 L160,330.3 L161,328.4 L162,330.1 L163,334.9 L164,335.4 L165,336.3 L166,336.4 L167,336.0 L168,336.7 L169,335.9 L170,337.7 L171,337.4 L172,336.8 L173,336.0 L174,336.4 L175,337.3 L176,336.5 L177,336.1 L178,336.7 L179,337.0 L180,336.2 L181,336.6 L182,336.9 L183,337.3 L184,336.7 L185,337.7 L186,336.4 L187,337.3 L188,336.1 L189,337.6 L190,336.9 L191,336.2 L192,337.4 L193,337.5 L194,336.2 L195,337.5 L196,337.7 L197,336.6 L198,337.4 L199,337.2 L200,337.0 L201,336.6 L202,336.5 L203,337.4 L204,337.3 L205,337.6 L206,336.1 L207,337.0 L208,337.2 L209,336.3 L210,336.0 L211,337.5 L212,337.3 L213,337.2" stroke="#7c74fa" stroke-width="0.68"/>
<path d="M102,335.5 L103,335.7 L104,336.4 L105,335.1 L106,336.2 L107,336.2 L108,335.7 L109,336.6 L110,336.0 L111,336.5 L112,335.2 L113,335.6 L114,335.4 L115,335.8 L116,336.3 L117,336.7 L118,336.5 L119,336.4 L120,336.7 L121,336.2 L122,336.2 L123,335.1 L124,335.6 L125,335.8 L126,335.1 L127,336.5 L128,335.6 L129,335.3 L130,335.0 L131,335.9 L132,335.5 L133,336.6 L134,336.0 L135,335.7 L136,335.2 L137,335.0 L138,336.1 L139,336.0 L140,335.8 L141,335.8 L142,335.6 L143,336.5 L144,335.0 L145,335.3 L146,336.3 L147,335.4 L148,335.4 L149,335.5 L150,335.2 L151,335.9 L152,334.5 L153,335.1 L154,335.1 L155,333.9 L156,333.9 L157,332.4 L158,331.8 L159,329.4 L160,328.2 L161,327.0 L162,329.5 L163,333.2 L164,334.1 L165,335.6 L166,336.4 L167,335.4 L168,335.3 L169,336.0 L170,335.3 L171,335.1 L172,335.0 L173,336.0 L174,336.5 L175,336.3 L176,336.0 L177,336.5 L178,336.4 L179,335.4 L180,335.6 L181,336.7 L182,336.6 L183,336.1 L184,336.0 L185,335.5 L186,335.1 L187,335.5 L188,335.3 L189,336.0 L190,336.1 L191,336.0 L192,336.5 L193,334.9 L194,335.3 L195,335.1 L196,335.6 L197,336.5 L198,335.7 L199,336.3 L200,335.2 L201,335.5 L202,336.3 L203,335.4 L204,336.2 L205,336.0 L206,336.1 L207,335.0 L208,335.5 L209,336.7 L210,335.6 L211,335.4 L212,336.7 L213,336.0" stroke="#7f78fa" stroke-width="0.68"/>
<path d="M102,335.1 L103,334.7 L104,335.0 L105,334.6 L106,334.4 L107,334.4 L108,334.3 L109,335.1 L110,334.0 L111,334.1 L112,334.8 L113,335.6 L114,335.3 L115,335.1 L116,335.2 L117,334.2 L118,334.8 L119,333.9 L120,334.8 L121,333.9 L122,334.1 L123,334.1 L124,334.5 L125,334.7 L126,334.3 L127,334.0 L128,334.1 L129,335.6 L130,335.6 L131,335.5 L132,334.1 L133,334.2 L134,335.4 L135,333.9 L136,334.1 L137,335.0 L138,335.6 L139,335.5 L140,335.4 L141,334.4 L142,335.2 L143,335.5 L144,335.5 L145,335.6 L146,335.2 L147,335.2 L148,335.0 L149,334.5 L150,334.7 L151,335.2 L152,334.4 L153,333.1 L154,333.6 L155,333.8 L156,332.9 L157,331.6 L158,331.3 L159,329.6 L160,327.0 L161,326.2 L162,329.0 L163,331.3 L164,334.7 L165,334.4 L166,335.3 L167,333.9 L168,334.4 L169,334.4 L170,334.3 L171,335.1 L172,335.3 L173,335.0 L174,335.5 L175,334.1 L176,334.4 L177,334.6 L178,335.3 L179,335.2 L180,335.7 L181,335.4 L182,334.8 L183,335.2 L184,335.3 L185,334.8 L186,335.1 L187,335.4 L188,335.4 L189,334.1 L190,333.9 L191,335.1 L192,335.3 L193,334.2 L194,335.4 L195,335.2 L196,334.2 L197,334.1 L198,335.1 L199,335.0 L200,334.2 L201,335.5 L202,334.3 L203,335.4 L204,335.6 L205,334.1 L206,335.1 L207,334.9 L208,335.5 L209,334.7 L210,334.6 L211,334.3 L212,335.4 L213,334.4" stroke="#827bfa" stroke-width="0.67"/>
<path d="M102,334.5 L103,332.9 L104,334.4 L105,332.9 L106,334.1 L107,334.5 L108,333.4 L109,333.9 L110,333.6 L111,333.0 L112,334.3 L113,333.7 L114,334.3 L115,332.9 L116,333.1 L117,333.2 L118,334.3 L119,332.9 L120,332.9 L121,333.5 L122,333.5 L123,334.4 L124,334.4 L125,333.3 L126,334.2 L127,333.5 L128,334.2 L129,334.0 L130,333.0 L131,333.7 L132,333.6 L133,333.7 L134,333.8 L135,334.1 L136,333.6 L137,333.8 L138,334.3 L139,334.1 L140,333.2 L141,333.1 L142,333.3 L143,334.5 L144,333.5 L145,334.4 L146,334.5 L147,334.0 L148,333.4 L149,334.0 L150,333.5 L151,334.2 L152,333.2 L153,333.2 L154,333.0 L155,332.4 L156,330.9 L157,330.7 L158,329.3 L159,328.4 L160,327.0 L161,324.4 L162,327.2 L163,330.8 L164,333.7 L165,333.5 L166,333.6 L167,334.6 L168,334.2 L169,334.4 L170,333.7 L171,333.1 L172,333.5 L173,333.0 L174,333.6 L175,333.6 L176,333.7 L177,334.6 L178,333.8 L179,333.1 L180,333.2 L181,334.1 L182,333.8 L183,333.6 L184,333.7 L185,333.6 L186,334.1 L187,333.9 L188,332.9 L189,333.7 L190,333.3 L191,333.9 L192,333.7 L193,334.2 L194,334.6 L195,334.2 L196,333.9 L197,333.7 L198,333.0 L199,334.1 L200,333.2 L201,333.5 L202,333.9 L203,333.3 L204,334.4 L205,333.8 L206,334.6 L207,332.9 L208,333.7 L209,333.4 L210,333.9 L211,334.0 L212,333.9 L213,334.5" stroke="#867ffa" stroke-width="0.67"/>
<path d="M102,332.6 L103,332.5 L104,333.1 L105,332.8 L106,332.3 L107,333.5 L108,332.2 L109,331.9 L110,332.8 L111,333.4 L112,333.3 L113,333.3 L114,332.9 L115,332.7 L116,332.3 L117,332.1 L118,332.6 L119,333.3 L120,332.8 L121,333.6 L122,333.2 L123,332.8 L124,332.9 L125,332.6 L126,333.4 L127,333.3 L128,332.1 L129,333.4 L130,333.0 L131,332.4 L132,333.1 L133,332.6 L134,333.0 L135,332.7 L136,332.9 L137,333.5 L138,333.4 L139,332.7 L140,332.5 L141,333.1 L142,333.0 L143,332.0 L144,332.7 L145,332.3 L146,332.9 L147,332.0 L148,332.2 L149,332.1 L150,332.1 L151,332.5 L152,332.8 L153,332.2 L154,331.9 L155,331.6 L156,330.3 L157,329.4 L158,328.7 L159,326.5 L160,325.9 L161,324.7 L162,327.2 L163,329.4 L164,332.6 L165,332.0 L166,332.0 L167,332.9 L168,332.4 L169,332.1 L170,332.9 L171,332.8 L172,332.8 L173,332.7 L174,332.9 L175,333.2 L176,333.1 L177,333.1 L178,333.3 L179,332.6 L180,333.0 L181,332.0 L182,331.9 L183,332.6 L184,333.0 L185,332.2 L186,333.5 L187,332.3 L188,332.7 L189,332.6 L190,333.5 L191,332.1 L192,332.3 L193,332.9 L194,332.5 L195,332.4 L196,332.0 L197,333.5 L198,332.6 L199,332.8 L200,332.2 L201,333.5 L202,332.0 L203,333.1 L204,331.9 L205,332.8 L206,332.4 L207,333.5 L208,332.6 L209,333.3 L210,331.9 L211,332.2 L212,333.6 L213,332.5" stroke="#8983fa" stroke-width="0.66"/>
<path d="M102,330.8 L103,331.2 L104,331.4 L105,331.7 L106,331.5 L107,331.3 L108,331.6 L109,331.6 L110,331.1 L111,331.7 L112,331.8 L113,331.8 L114,332.1 L115,331.6 L116,331.2 L117,332.5 L118,331.0 L119,331.3 L120,331.5 L121,331.5 L122,331.1 L123,332.3 L124,331.3 L125,331.8 L126,331.9 L127,331.0 L128,331.5 L129,331.0 L130,331.7 L131,332.1 L132,332.3 L133,332.5 L134,331.0 L135,331.6 L136,332.0 L137,331.4 L138,332.5 L139,331.7 L140,332.3 L141,330.9 L142,331.5 L143,332.0 L144,332.3 L145,331.6 L146,332.3 L147,332.1 L148,331.4 L149,331.9 L150,331.5 L151,330.6 L152,331.9 L153,331.5 L154,331.3 L155,329.6 L156,329.9 L157,327.7 L158,327.4 L159,325.7 L160,324.5 L161,322.7 L162,325.6 L163,329.1 L164,331.3 L165,331.7 L166,331.2 L167,331.1 L168,331.2 L169,331.4 L170,331.5 L171,331.7 L172,332.1 L173,332.5 L174,331.2 L175,331.3 L176,331.7 L177,330.8 L178,331.9 L179,330.8 L180,331.8 L181,331.8 L182,331.5 L183,332.5 L184,331.3 L185,330.8 L186,331.0 L187,331.2 L188,332.1 L189,332.1 L190,331.4 L191,332.4 L192,331.1 L193,331.2 L194,331.8 L195,331.7 L196,332.2 L197,331.3 L198,332.4 L199,331.9 L200,332.0 L201,331.8 L202,331.1 L203,331.8 L204,332.5 L205,330.8 L206,331.4 L207,331.3 L208,331.2 L209,332.2 L210,331.9 L211,331.0 L212,332.0 L213,332.3" stroke="#8d87fa" stroke-width="0.66"/>
<path d="M102,329.9 L103,329.8 L104,330.8 L105,331.3 L106,330.7 L107,330.6 L108,330.5 L109,330.8 L110,331.4 L111,330.8 L112,331.1 L113,330.6 L114,331.3 L115,331.1 L116,330.6 L117,330.3 L118,330.3 L119,331.5 L120,330.9 L121,329.9 L122,330.7 L123,330.5 L124,330.8 L125,330.2 L126,331.4 L127,330.6 L128,331.2 L129,330.2 L130,331.3 L131,330.7 L132,330.7 L133,330.5 L134,331.4 L135,330.7 L136,330.7 L137,330.4 L138,330.6 L139,330.2 L140,330.5 L141,330.2 L142,329.9 L143,330.4 L144,329.8 L145,330.9 L146,329.9 L147,331.3 L148,330.2 L149,330.1 L150,330.5 L151,329.9 L152,330.5 L153,329.5 L154,330.3 L155,328.2 L156,327.6 L157,328.2 L158,326.7 L159,324.6 L160,323.7 L161,321.7 L162,324.6 L163,327.8 L164,329.9 L165,330.7 L166,331.2 L167,330.2 L168,330.8 L169,330.8 L170,331.3 L171,330.6 L172,331.3 L173,331.4 L174,330.5 L175,330.5 L176,331.5 L177,330.8 L178,330.7 L179,331.1 L180,330.8 L181,330.7 L182,330.9 L183,330.2 L184,330.4 L185,329.7 L186,331.0 L187,331.2 L188,331.1 L189,331.5 L190,331.1 L191,329.9 L192,330.3 L193,331.4 L194,329.9 L195,331.3 L196,331.2 L197,330.0 L198,330.1 L199,331.1 L200,330.9 L201,329.8 L202,330.7 L203,330.1 L204,331.3 L205,330.7 L206,329.8 L207,330.4 L208,329.8 L209,331.4 L210,331.3 L211,331.0 L212,329.7 L213,331.4" stroke="#908afa" stroke-width="0.66"/>
<path d="M102,329.2 L103,329.9 L104,330.1 L105,329.7 L106,328.9 L107,329.1 L108,330.0 L109,328.9 L110,329.4 L111,330.4 L112,329.4 L113,329.0 L114,329.9 L115,329.3 L116,330.1 L117,329.4 L118,330.2 L119,330.2 L120,329.0 L121,329.7 L122,329.5 L123,328.9 L124,330.3 L125,329.3 L126,329.8 L127,328.8 L128,330.4 L129,330.5 L130,329.9 L131,328.9 L132,329.9 L133,329.5 L134,329.6 L135,329.1 L136,329.0 L137,330.2 L138,329.8 L139,330.0 L140,330.0 L141,329.4 L142,329.7 L143,329.2 L144,329.9 L145,329.5 L146,330.1 L147,329.2 L148,329.3 L149,328.7 L150,328.6 L151,328.8 L152,328.2 L153,328.7 L154,328.3 L155,328.7 L156,326.5 L157,327.4 L158,324.6 L159,324.6 L160,322.2 L161,320.5 L162,323.8 L163,326.9 L164,327.9 L165,328.7 L166,329.9 L167,330.0 L168,330.5 L169,329.2 L170,330.1 L171,329.3 L172,329.6 L173,329.2 L174,329.4 L175,330.3 L176,329.2 L177,329.5 L178,330.3 L179,329.5 L180,330.2 L181,329.7 L182,329.3 L183,330.0 L184,329.9 L185,329.4 L186,330.5 L187,328.9 L188,330.2 L189,330.0 L190,330.0 L191,329.6 L192,330.0 L193,328.8 L194,329.9 L195,330.3 L196,329.4 L197,330.0 L198,330.0 L199,329.6 L200,330.1 L201,329.6 L202,328.9 L203,329.6 L204,330.1 L205,329.0 L206,329.5 L207,330.2 L208,328.7 L209,330.3 L210,329.3 L211,329.4 L212,330.0 L213,329.7" stroke="#938efa" stroke-width="0.65"/>
<path d="M102,328.2 L103,327.9 L104,328.4 L105,329.3 L106,329.5 L107,329.0 L108,328.9 L109,328.9 L110,329.3 L111,328.0 L112,327.9 L113,329.2 L114,327.7 L115,328.6 L116,328.4 L117,329.3 L118,328.8 L119,328.1 L120,327.8 L121,328.5 L122,328.7 L123,328.5 L124,328.7 L125,327.8 L126,328.3 L127,329.2 L128,328.2 L129,328.0 L130,328.0 L131,329.4 L132,329.2 L133,328.4 L134,328.3 L135,328.3 L136,329.3 L137,329.3 L138,329.4 L139,329.2 L140,328.9 L141,327.9 L142,329.4 L143,328.0 L144,329.0 L145,328.3 L146,327.7 L147,328.8 L148,328.0 L149,329.1 L150,327.8 L151,328.6 L152,328.0 L153,327.0 L154,327.1 L155,326.7 L156,326.8 L157,325.9 L158,325.1 L159,322.3 L160,320.9 L161,319.8 L162,322.3 L163,325.6 L164,328.2 L165,327.4 L166,328.6 L167,327.9 L168,328.2 L169,328.2 L170,328.5 L171,329.4 L172,329.0 L173,328.4 L174,329.4 L175,328.1 L176,328.0 L177,328.8 L178,329.1 L179,329.0 L180,328.6 L181,329.0 L182,328.3 L183,329.4 L184,329.0 L185,329.1 L186,328.6 L187,329.3 L188,328.5 L189,329.4 L190,328.5 L191,329.4 L192,328.2 L193,328.6 L194,328.7 L195,328.7 L196,329.2 L197,329.2 L198,328.0 L199,328.9 L200,328.6 L201,328.4 L202,327.9 L203,329.3 L204,329.4 L205,329.0 L206,328.7 L207,327.8 L208,328.2 L209,328.3 L210,327.8 L211,328.3 L212,328.3 L213,328.4" stroke="#9792fa" stroke-width="0.65"/>
<path d="M102,326.8 L103,326.9 L104,328.3 L105,327.6 L106,327.1 L107,327.4 L108,327.3 L109,327.5 L110,327.0 L111,328.0 L112,328.3 L113,327.8 L114,328.4 L115,328.1 L116,327.6 L117,327.6 L118,327.9 L119,327.3 L120,326.8 L121,327.4 L122,328.1 L123,327.8 L124,326.7 L125,328.1 L126,326.7 L127,327.6 L128,327.0 L129,327.2 L130,327.0 L131,327.7 L132,327.9 L133,328.2 L134,327.5 L135,326.7 L136,326.7 L137,326.8 L138,326.9 L139,326.9 L140,327.2 L141,326.9 L142,328.2 L143,327.3 L144,327.5 L145,328.0 L146,326.9 L147,327.5 L148,326.6 L149,327.4 L150,328.1 L151,327.3 L152,326.7 L153,327.0 L154,326.4 L155,325.9 L156,325.5 L157,324.8 L158,324.0 L159,322.8 L160,321.2 L161,319.6 L162,322.0 L163,325.7 L164,326.2 L165,326.8 L166,328.1 L167,327.4 L168,326.7 L169,328.0 L170,326.9 L171,327.1 L172,328.3 L173,327.0 L174,328.1 L175,327.1 L176,328.1 L177,327.3 L178,327.6 L179,327.9 L180,327.9 L181,327.0 L182,327.8 L183,326.9 L184,327.1 L185,328.0 L186,326.9 L187,327.4 L188,326.8 L189,327.7 L190,326.9 L191,327.3 L192,328.4 L193,327.4 L194,327.5 L195,326.7 L196,327.1 L197,326.8 L198,327.7 L199,326.9 L200,327.0 L201,326.9 L202,328.0 L203,327.8 L204,327.2 L205,327.2 L206,327.1 L207,327.6 L208,327.7 L209,326.9 L210,326.9 L211,327.8 L212,327.1 L213,327.8" stroke="#9b96fa" stroke-width="0.64"/>
<path d="M102,325.9 L103,325.8 L104,325.7 L105,327.1 L106,326.6 L107,325.6 L108,326.2 L109,326.7 L110,326.0 L111,327.1 L112,325.6 L113,326.5 L114,326.6 L115,325.9 L116,327.4 L117,326.6 L118,325.8 L119,327.0 L120,325.7 L121,326.8 L122,327.1 L123,326.7 L124,325.6 L125,325.7 L126,327.1 L127,327.1 L128,326.1 L129,327.3 L130,327.1 L131,325.8 L132,327.2 L133,325.6 L134,326.2 L135,326.0 L136,326.0 L137,326.5 L138,325.7 L139,327.3 L140,326.0 L141,326.8 L142,326.2 L143,327.2 L144,326.6 L145,326.5 L146,326.9 L147,326.6 L148,326.3 L149,325.8 L150,326.8 L151,326.4 L152,325.9 L153,326.6 L154,325.3 L155,325.3 L156,323.6 L157,323.1 L158,322.4 L159,320.4 L160,320.3 L161,318.9 L162,321.0 L163,324.5 L164,325.3 L165,326.8 L166,327.1 L167,326.4 L168,326.6 L169,326.8 L170,326.0 L171,325.7 L172,325.9 L173,326.5 L174,326.7 L175,327.1 L176,326.1 L177,325.9 L178,326.4 L179,325.9 L180,326.1 L181,326.5 L182,326.8 L183,325.8 L184,325.9 L185,326.4 L186,326.5 L187,325.9 L188,326.8 L189,326.6 L190,327.3 L191,327.3 L192,326.7 L193,325.8 L194,326.5 L195,326.1 L196,326.1 L197,325.7 L198,326.8 L199,326.8 L200,326.1 L201,326.0 L202,327.4 L203,326.6 L204,326.9 L205,326.0 L206,327.3 L207,326.9 L208,326.5 L209,325.8 L210,326.4 L211,325.6 L212,326.0 L213,327.0" stroke="#9f9afa" stroke-width="0.64"/>
<path d="M102,324.8 L103,324.9 L104,325.2 L105,326.3 L106,324.9 L107,325.3 L108,325.5 L109,324.6 L110,325.6 L111,324.7 L112,325.1 L113,325.1 L114,326.4 L115,325.4 L116,325.1 L117,325.2 L118,325.1 L119,324.9 L120,325.1 L121,325.8 L122,325.2 L123,325.0 L124,324.6 L125,326.0 L126,325.1 L127,325.1 L128,326.1 L129,326.3 L130,325.6 L131,324.7 L132,326.1 L133,325.9 L134,324.6 L135,325.1 L136,326.1 L137,325.4 L138,324.9 L139,326.3 L140,324.9 L141,324.9 L142,325.8 L143,326.3 L144,325.8 L145,324.6 L146,324.6 L147,324.9 L148,325.7 L149,326.2 L150,324.5 L151,325.4 L152,325.2 L153,323.8 L154,325.0 L155,323.4 L156,322.9 L157,322.8 L158,321.2 L159,320.0 L160,317.6 L161,317.3 L162,319.1 L163,323.7 L164,325.2 L165,325.5 L166,325.7 L167,326.3 L168,326.1 L169,325.9 L170,325.2 L171,324.6 L172,326.4 L173,324.7 L174,324.6 L175,325.6 L176,326.4 L177,325.4 L178,324.9 L179,324.6 L180,324.9 L181,325.2 L182,325.2 L183,325.1 L184,326.1 L185,326.4 L186,326.3 L187,324.9 L188,325.8 L189,324.9 L190,325.4 L191,325.5 L192,325.1 L193,326.0 L194,325.0 L195,326.0 L196,325.9 L197,325.7 L198,324.7 L199,324.8 L200,326.0 L201,326.3 L202,325.0 L203,325.8 L204,325.9 L205,326.1 L206,324.8 L207,324.9 L208,324.7 L209,325.8 L210,325.2 L211,325.8 L212,324.9 L213,325.7" stroke="#a39efa" stroke-width="0.64"/>
<path d="M102,324.0 L103,324.3 L104,324.6 L105,325.2 L106,323.9 L107,324.9 L108,323.6 L109,323.9 L110,324.8 L111,323.7 L112,325.0 L113,325.1 L114,323.9 L115,324.8 L116,324.7 L117,325.3 L118,324.4 L119,324.2 L120,325.1 L121,324.0 L122,325.2 L123,324.2 L124,324.3 L125,325.0 L126,324.9 L127,323.9 L128,324.7 L129,325.3 L130,324.3 L131,324.5 L132,324.7 L133,324.8 L134,324.2 L135,324.2 L136,323.9 L137,324.7 L138,324.1 L139,324.9 L140,323.6 L141,324.9 L142,323.8 L143,325.1 L144,325.0 L145,324.2 L146,323.7 L147,323.9 L148,323.8 L149,325.2 L150,324.7 L151,323.2 L152,323.0 L153,323.7 L154,323.1 L155,322.8 L156,322.6 L157,321.8 L158,319.4 L159,319.6 L160,317.3 L161,316.1 L162,318.2 L163,321.6 L164,323.1 L165,323.8 L166,324.5 L167,324.0 L168,324.0 L169,323.7 L170,323.7 L171,325.2 L172,324.3 L173,324.3 L174,323.8 L175,325.3 L176,323.6 L177,324.9 L178,323.6 L179,324.1 L180,324.4 L181,324.4 L182,324.8 L183,324.6 L184,324.8 L185,323.7 L186,324.1 L187,324.0 L188,324.4 L189,324.3 L190,323.7 L191,323.8 L192,323.6 L193,323.6 L194,324.7 L195,325.3 L196,324.6 L197,323.9 L198,324.6 L199,324.4 L200,324.0 L201,325.0 L202,324.0 L203,324.1 L204,323.6 L205,324.0 L206,325.2 L207,324.4 L208,324.8 L209,324.4 L210,324.0 L211,324.2 L212,324.4 L213,324.1" stroke="#a7a3fa" stroke-width="0.63"/>
<path d="M102,323.4 L103,322.5 L104,323.2 L105,322.7 L106,323.4 L107,323.5 L108,324.1 L109,324.1 L110,324.1 L111,323.3 L112,323.0 L113,324.0 L114,322.7 L115,323.2 L116,322.6 L117,324.0 L118,323.8 L119,324.2 L120,322.8 L121,324.0 L122,323.8 L123,323.5 L124,323.3 L125,323.9 L126,323.4 L127,324.2 L128,324.2 L129,323.2 L130,323.5 L131,323.3 L132,324.1 L133,324.0 L134,323.2 L135,323.2 L136,323.1 L137,323.7 L138,323.7 L139,323.6 L140,323.4 L141,323.7 L142,322.5 L143,323.4 L144,323.7 L145,323.8 L146,323.9 L147,322.9 L148,324.1 L149,324.1 L150,323.4 L151,323.6 L152,322.2 L153,321.9 L154,321.6 L155,321.6 L156,321.6 L157,319.8 L158,319.8 L159,318.3 L160,315.5 L161,314.3 L162,318.7 L163,321.1 L164,323.1 L165,323.8 L166,323.0 L167,322.5 L168,324.1 L169,324.2 L170,323.2 L171,323.7 L172,322.5 L173,324.2 L174,323.6 L175,324.3 L176,323.7 L177,323.1 L178,322.8 L179,323.4 L180,324.1 L181,323.5 L182,323.5 L183,322.9 L184,322.8 L185,322.9 L186,323.0 L187,323.3 L188,324.2 L189,323.0 L190,322.9 L191,323.8 L192,324.2 L193,322.9 L194,323.0 L195,323.2 L196,322.6 L197,322.7 L198,323.5 L199,322.9 L200,322.9 L201,323.9 L202,323.4 L203,323.5 L204,323.7 L205,323.8 L206,324.2 L207,324.2 L208,322.7 L209,323.8 L210,322.5 L211,322.7 L212,323.0 L213,322.7" stroke="#aba7fa" stroke-width="0.63"/>
<path d="M102,321.7 L103,321.9 L104,322.9 L105,322.9 L106,322.4 L107,322.5 L108,322.8 L109,322.5 L110,321.6 L111,322.3 L112,321.8 L113,322.3 L114,323.2 L115,321.8 L116,322.0 L117,322.5 L118,322.7 L119,322.0 L120,322.2 L121,322.4 L122,323.1 L123,321.6 L124,323.1 L125,322.5 L126,323.1 L127,322.2 L128,322.6 L129,321.5 L130,321.9 L131,322.6 L132,322.1 L133,322.4 L134,323.2 L135,322.5 L136,322.7 L137,322.5 L138,321.9 L139,323.2 L140,322.2 L141,321.5 L142,322.2 L143,322.2 L144,321.8 L145,322.2 L146,321.6 L147,323.1 L148,322.3 L149,321.8 L150,322.2 L151,322.1 L152,321.5 L153,322.0 L154,320.9 L155,321.2 L156,320.3 L157,319.3 L158,317.3 L159,317.0 L160,316.2 L161,314.7 L162,316.1 L163,319.7 L164,320.7 L165,322.5 L166,323.0 L167,322.7 L168,322.7 L169,322.4 L170,322.8 L171,322.5 L172,322.9 L173,321.7 L174,322.3 L175,322.6 L176,321.6 L177,322.5 L178,323.1 L179,321.6 L180,322.8 L181,322.8 L182,323.1 L183,323.2 L184,322.6 L185,322.5 L186,322.3 L187,322.3 L188,322.5 L189,322.1 L190,322.9 L191,322.5 L192,322.2 L193,322.4 L194,322.7 L195,323.0 L196,322.9 L197,322.7 L198,321.9 L199,321.5 L200,321.7 L201,321.6 L202,322.4 L203,321.6 L204,322.3 L205,322.8 L206,322.3 L207,323.0 L208,322.1 L209,322.3 L210,321.9 L211,321.7 L212,322.5 L213,321.7" stroke="#afabfa" stroke-width="0.63"/>
<path d="M102,320.7 L103,321.0 L104,321.7 L105,322.2 L106,320.8 L107,320.9 L108,322.2 L109,321.5 L110,321.9 L111,322.2 L112,321.6 L113,320.9 L114,322.2 L115,322.0 L116,320.4 L117,322.2 L118,321.6 L119,320.9 L120,321.3 L121,321.0 L122,321.8 L123,321.2 L124,320.6 L125,322.0 L126,321.0 L127,320.7 L128,321.7 L129,320.7 L130,321.5 L131,321.2 L132,320.7 L133,322.2 L134,321.7 L135,320.5 L136,322.1 L137,321.6 L138,321.9 L139,321.8 L140,320.7 L141,321.0 L142,320.7 L143,321.9 L144,322.1 L145,321.5 L146,321.6 L147,322.1 L148,321.3 L149,321.1 L150,320.7 L151,321.8 L152,320.0 L153,319.8 L154,320.5 L155,318.5 L156,318.2 L157,317.9 L158,316.4 L159,315.4 L160,313.4 L161,313.5 L162,315.1 L163,318.7 L164,319.9 L165,321.5 L166,320.8 L167,321.4 L168,320.5 L169,321.5 L170,321.0 L171,322.1 L172,320.8 L173,321.0 L174,322.0 L175,320.5 L176,321.3 L177,321.3 L178,321.0 L179,320.7 L180,321.3 L181,320.5 L182,320.5 L183,320.9 L184,321.1 L185,320.9 L186,321.7 L187,321.2 L188,321.5 L189,321.5 L190,321.7 L191,322.1 L192,321.4 L193,321.7 L194,321.4 L195,320.6 L196,321.9 L197,321.4 L198,320.5 L199,321.8 L200,321.3 L201,322.1 L202,321.2 L203,321.3 L204,322.0 L205,322.1 L206,321.8 L207,321.2 L208,321.2 L209,321.8 L210,322.0 L211,321.3 L212,321.7 L213,321.4" stroke="#b3affa" stroke-width="0.62"/>
<path d="M102,320.4 L103,319.8 L104,319.9 L105,319.9 L106,321.2 L107,319.4 L108,319.8 L109,319.8 L110,320.9 L111,320.6 L112,320.0 L113,319.6 L114,320.6 L115,320.7 L116,320.6 L117,320.7 L118,320.5 L119,319.5 L120,320.8 L121,321.0 L122,319.7 L123,320.1 L124,321.2 L125,321.2 L126,320.9 L127,320.9 L128,319.7 L129,321.0 L130,320.9 L131,319.8 L132,321.0 L133,320.9 L134,321.0 L135,321.0 L136,319.6 L137,319.7 L138,320.9 L139,319.7 L140,320.0 L141,320.8 L142,320.9 L143,320.1 L144,320.1 L145,320.6 L146,321.2 L147,320.5 L148,319.9 L149,319.7 L150,319.4 L151,320.0 L152,320.0 L153,318.7 L154,319.2 L155,318.5 L156,317.7 L157,316.8 L158,315.6 L159,313.7 L160,313.3 L161,312.5 L162,315.6 L163,318.9 L164,319.8 L165,319.5 L166,320.9 L167,320.1 L168,321.1 L169,321.1 L170,319.6 L171,319.5 L172,319.5 L173,320.6 L174,320.3 L175,320.5 L176,320.0 L177,320.5 L178,319.6 L179,319.8 L180,320.7 L181,319.8 L182,319.6 L183,320.6 L184,321.2 L185,321.1 L186,321.0 L187,320.7 L188,319.4 L189,319.7 L190,320.4 L191,320.4 L192,320.9 L193,319.5 L194,320.5 L195,319.5 L196,320.8 L197,319.6 L198,320.3 L199,320.8 L200,321.2 L201,320.8 L202,320.8 L203,319.9 L204,320.5 L205,320.4 L206,320.3 L207,320.5 L208,320.2 L209,320.1 L210,320.8 L211,320.6 L212,321.2 L213,321.1" stroke="#b7b3fa" stroke-width="0.62"/>
<path d="M102,319.8 L103,318.6 L104,319.3 L105,319.3 L106,319.8 L107,320.0 L108,318.7 L109,318.4 L110,319.9 L111,320.1 L112,319.0 L113,319.4 L114,319.1 L115,319.1 L116,319.5 L117,319.6 L118,320.0 L119,319.0 L120,319.3 L121,319.2 L122,320.1 L123,319.3 L124,320.0 L125,320.1 L126,318.4 L127,319.8 L128,318.6 L129,319.3 L130,319.5 L131,318.5 L132,319.4 L133,319.6 L134,319.0 L135,319.3 L136,319.1 L137,318.6 L138,318.8 L139,320.1 L140,319.5 L141,319.3 L142,319.8 L143,319.9 L144,319.7 L145,319.1 L146,319.3 L147,318.9 L148,318.4 L149,319.8 L150,318.2 L151,318.5 L152,319.1 L153,317.8 L154,318.4 L155,316.3 L156,315.9 L157,315.6 L158,314.9 L159,314.0 L160,313.0 L161,311.8 L162,313.4 L163,317.9 L164,317.7 L165,319.0 L166,318.9 L167,318.4 L168,318.7 L169,320.2 L170,320.1 L171,319.0 L172,320.2 L173,319.7 L174,318.4 L175,319.5 L176,318.7 L177,318.9 L178,319.7 L179,318.7 L180,319.0 L181,318.4 L182,318.9 L183,318.9 L184,318.6 L185,318.5 L186,319.1 L187,318.5 L188,320.1 L189,318.8 L190,319.0 L191,318.5 L192,319.8 L193,318.7 L194,318.5 L195,319.0 L196,320.0 L197,320.0 L198,319.2 L199,319.4 L200,318.5 L201,320.0 L202,319.7 L203,318.8 L204,319.9 L205,318.7 L206,319.2 L207,318.9 L208,319.4 L209,318.8 L210,319.3 L211,318.8 L212,318.4 L213,318.6" stroke="#bbb7fa" stroke-width="0.61"/>
<path d="M102,318.8 L103,318.1 L104,318.3 L105,318.5 L106,317.8 L107,317.7 L108,318.1 L109,318.7 L110,318.7 L111,318.2 L112,318.4 L113,317.8 L114,319.0 L115,318.5 L116,318.8 L117,318.0 L118,318.4 L119,318.6 L120,318.3 L121,318.7 L122,317.8 L123,318.7 L124,317.9 L125,318.3 L126,317.6 L127,318.1 L128,318.9 L129,317.4 L130,317.7 L131,318.3 L132,318.5 L133,318.6 L134,318.6 L135,318.6 L136,318.4 L137,317.6 L138,318.3 L139,317.8 L140,317.3 L141,318.2 L142,319.1 L143,318.2 L144,318.7 L145,318.4 L146,317.4 L147,318.3 L148,319.0 L149,318.3 L150,317.5 L151,318.4 L152,317.7 L153,317.8 L154,317.2 L155,316.2 L156,315.3 L157,314.6 L158,313.3 L159,313.1 L160,310.5 L161,311.2 L162,312.7 L163,315.9 L164,317.7 L165,317.7 L166,318.4 L167,317.4 L168,318.9 L169,317.5 L170,318.9 L171,318.9 L172,318.7 L173,318.7 L174,317.7 L175,318.4 L176,317.4 L177,318.7 L178,318.8 L179,317.7 L180,318.1 L181,317.5 L182,318.5 L183,318.6 L184,317.4 L185,318.4 L186,318.9 L187,317.7 L188,319.0 L189,317.8 L190,317.4 L191,317.5 L192,318.7 L193,317.7 L194,318.9 L195,318.1 L196,317.5 L197,318.8 L198,317.9 L199,317.6 L200,317.3 L201,317.9 L202,318.2 L203,318.2 L204,318.4 L205,317.5 L206,317.3 L207,318.9 L208,318.1 L209,318.6 L210,318.9 L211,318.4 L212,318.7 L213,317.7" stroke="#bfbbfa" stroke-width="0.61"/>
<path d="M102,316.7 L103,317.2 L104,318.1 L105,318.0 L106,316.7 L107,317.4 L108,316.8 L109,316.9 L110,316.8 L111,318.1 L112,317.0 L113,317.1 L114,316.5 L115,317.8 L116,316.5 L117,317.8 L118,316.7 L119,316.7 L120,316.4 L121,316.9 L122,318.0 L123,317.0 L124,316.9 L125,317.6 L126,316.7 L127,317.7 L128,318.0 L129,317.8 L130,316.4 L131,317.7 L132,317.7 L133,317.7 L134,317.3 L135,316.5 L136,317.5 L137,317.3 L138,317.2 L139,317.7 L140,316.6 L141,317.0 L142,317.4 L143,317.9 L144,318.1 L145,317.9 L146,316.7 L147,317.0 L148,317.1 L149,316.9 L150,316.1 L151,316.4 L152,317.1 L153,315.7 L154,316.2 L155,315.6 L156,314.3 L157,314.2 L158,313.4 L159,310.5 L160,310.4 L161,310.1 L162,311.7 L163,314.8 L164,315.8 L165,317.7 L166,317.3 L167,317.4 L168,317.4 L169,317.9 L170,317.2 L171,317.3 L172,317.1 L173,316.9 L174,318.0 L175,317.5 L176,317.2 L177,316.5 L178,317.5 L179,316.4 L180,317.1 L181,316.7 L182,317.0 L183,316.7 L184,316.7 L185,317.1 L186,316.5 L187,316.8 L188,317.6 L189,316.5 L190,317.8 L191,317.0 L192,316.7 L193,317.7 L194,317.0 L195,317.0 L196,316.3 L197,316.6 L198,318.0 L199,317.2 L200,317.1 L201,317.4 L202,316.5 L203,316.6 L204,317.9 L205,317.4 L206,316.9 L207,317.9 L208,316.8 L209,317.1 L210,317.7 L211,317.8 L212,316.8 L213,318.1" stroke="#c3bffa" stroke-width="0.61"/>
<path d="M102,315.6 L103,315.7 L104,316.2 L105,316.3 L106,316.2 L107,316.1 L108,316.7 L109,315.7 L110,316.0 L111,316.5 L112,316.9 L113,315.7 L114,315.9 L115,316.1 L116,315.7 L117,316.2 L118,317.0 L119,315.7 L120,316.8 L121,316.9 L122,316.1 L123,315.9 L124,315.5 L125,316.3 L126,316.8 L127,316.0 L128,315.7 L129,316.8 L130,315.5 L131,316.3 L132,316.6 L133,316.2 L134,315.8 L135,316.3 L136,315.9 L137,316.5 L138,316.7 L139,316.7 L140,316.7 L141,315.5 L142,315.8 L143,316.5 L144,316.4 L145,316.9 L146,316.0 L147,315.3 L148,315.3 L149,315.1 L150,315.9 L151,315.2 L152,314.4 L153,315.6 L154,313.6 L155,313.5 L156,313.7 L157,312.7 L158,310.9 L159,311.2 L160,309.1 L161,308.9 L162,310.9 L163,314.3 L164,316.3 L165,315.2 L166,316.2 L167,316.3 L168,317.0 L169,316.3 L170,315.7 L171,315.5 L172,316.3 L173,315.6 L174,315.9 L175,317.0 L176,315.6 L177,315.6 L178,316.5 L179,316.2 L180,316.9 L181,315.9 L182,316.6 L183,316.0 L184,317.1 L185,316.9 L186,315.6 L187,315.9 L188,316.1 L189,316.1 L190,316.3 L191,316.5 L192,315.5 L193,316.4 L194,316.7 L195,316.0 L196,315.8 L197,315.7 L198,316.4 L199,315.5 L200,315.6 L201,315.8 L202,316.5 L203,316.6 L204,316.2 L205,315.5 L206,315.9 L207,315.4 L208,317.1 L209,316.1 L210,316.8 L211,315.7 L212,315.8 L213,315.5" stroke="#c7c3fb" stroke-width="0.60"/>
<path d="M102,314.9 L103,315.5 L104,315.2 L105,314.8 L106,314.5 L107,314.7 L108,315.6 L109,314.6 L110,316.0 L111,315.7 L112,314.5 L113,314.2 L114,315.7 L115,314.3 L116,315.4 L117,315.1 L118,315.0 L119,315.3 L120,314.3 L121,315.6 L122,315.7 L123,314.3 L124,314.7 L125,315.7 L126,314.6 L127,314.5 L128,315.7 L129,316.0 L130,316.0 L131,314.6 L132,314.5 L133,314.3 L134,314.4 L135,314.8 L136,316.0 L137,315.6 L138,314.6 L139,314.9 L140,315.2 L141,314.5 L142,314.3 L143,314.6 L144,314.8 L145,314.3 L146,316.0 L147,315.9 L148,315.0 L149,314.8 L150,314.8 L151,315.1 L152,314.0 L153,314.5 L154,314.1 L155,312.3 L156,312.2 L157,312.1 L158,310.0 L159,310.2 L160,308.2 L161,307.7 L162,309.4 L163,312.8 L164,314.7 L165,314.4 L166,315.9 L167,314.9 L168,315.3 L169,315.6 L170,314.8 L171,315.5 L172,315.6 L173,315.6 L174,314.8 L175,314.8 L176,315.3 L177,315.0 L178,315.1 L179,315.3 L180,315.6 L181,314.5 L182,314.6 L183,314.5 L184,315.2 L185,314.6 L186,315.9 L187,314.6 L188,315.0 L189,315.6 L190,314.7 L191,314.4 L192,314.6 L193,315.5 L194,314.9 L195,315.9 L196,314.5 L197,314.8 L198,315.1 L199,314.8 L200,314.8 L201,314.4 L202,315.1 L203,315.6 L204,314.9 L205,316.0 L206,315.4 L207,314.9 L208,314.9 L209,314.7 L210,314.4 L211,315.1 L212,315.2 L213,315.7" stroke="#cbc7fb" stroke-width="0.60"/>
<path d="M102,313.3 L103,313.3 L104,314.8 L105,313.8 L106,314.5 L107,314.8 L108,313.7 L109,313.5 L110,314.6 L111,313.7 L112,314.1 L113,313.2 L114,314.2 L115,314.0 L116,313.6 L117,313.5 L118,314.9 L119,314.8 L120,313.8 L121,313.8 L122,313.8 L123,313.8 L124,313.9 L125,314.9 L126,313.2 L127,313.9 L128,314.2 L129,314.3 L130,313.8 L131,314.5 L132,314.0 L133,313.5 L134,314.8 L135,313.6 L136,314.5 L137,314.9 L138,313.5 L139,314.6 L140,314.6 L141,313.8 L142,314.8 L143,313.4 L144,314.1 L145,314.9 L146,314.1 L147,314.7 L148,313.8 L149,314.1 L150,313.7 L151,313.8 L152,313.5 L153,313.0 L154,312.6 L155,311.1 L156,311.2 L157,310.7 L158,309.7 L159,307.6 L160,307.2 L161,305.5 L162,310.0 L163,312.2 L164,312.9 L165,314.1 L166,313.7 L167,314.2 L168,314.6 L169,314.7 L170,315.0 L171,314.4 L172,314.2 L173,314.1 L174,313.5 L175,313.3 L176,314.8 L177,315.0 L178,314.7 L179,313.5 L180,314.3 L181,313.6 L182,313.8 L183,314.6 L184,314.9 L185,313.2 L186,314.6 L187,314.5 L188,314.5 L189,313.5 L190,313.8 L191,314.5 L192,313.6 L193,313.5 L194,314.1 L195,313.5 L196,313.7 L197,313.5 L198,313.6 L199,313.4 L200,313.9 L201,313.8 L202,313.5 L203,313.5 L204,313.9 L205,313.3 L206,313.7 L207,313.3 L208,314.5 L209,313.4 L210,314.0 L211,313.4 L212,314.4 L213,315.0" stroke="#cfcbfb" stroke-width="0.60"/>
<path d="M102,313.4 L103,312.3 L104,312.5 L105,312.5 L106,313.8 L107,312.3 L108,313.5 L109,313.6 L110,313.7 L111,312.9 L112,312.9 L113,312.8 L114,313.3 L115,313.0 L116,313.4 L117,313.0 L118,313.7 L119,313.2 L120,312.7 L121,312.9 L122,312.6 L123,313.8 L124,312.3 L125,312.9 L126,312.9 L127,313.3 L128,312.4 L129,313.4 L130,312.4 L131,312.7 L132,312.7 L133,312.3 L134,314.0 L135,312.3 L136,313.8 L137,313.4 L138,313.8 L139,313.2 L140,313.2 L141,313.0 L142,313.2 L143,312.8 L144,312.5 L145,313.2 L146,313.6 L147,313.9 L148,313.7 L149,313.0 L150,312.1 L151,312.5 L152,311.4 L153,312.2 L154,311.5 L155,310.2 L156,309.5 L157,309.8 L158,308.1 L159,306.4 L160,306.4 L161,305.3 L162,307.5 L163,311.6 L164,311.8 L165,312.3 L166,313.1 L167,312.6 L168,312.8 L169,313.0 L170,313.8 L171,313.2 L172,312.9 L173,313.7 L174,313.8 L175,313.8 L176,312.2 L177,313.6 L178,313.6 L179,313.4 L180,313.5 L181,313.4 L182,312.5 L183,313.8 L184,313.6 L185,312.6 L186,313.1 L187,312.5 L188,312.6 L189,313.3 L190,312.4 L191,312.2 L192,313.3 L193,313.3 L194,313.8 L195,312.2 L196,312.7 L197,312.4 L198,313.8 L199,313.6 L200,312.4 L201,313.0 L202,313.4 L203,313.3 L204,313.0 L205,313.1 L206,312.5 L207,312.3 L208,312.5 L209,313.1 L210,312.4 L211,313.8 L212,312.7 L213,312.2" stroke="#d3d0fb" stroke-width="0.60"/>
<path d="M102,312.3 L103,312.3 L104,312.5 L105,311.9 L106,312.8 L107,312.4 L108,312.8 L109,312.6 L110,311.6 L111,311.9 L112,311.5 L113,312.3 L114,311.8 L115,312.0 L116,311.8 L117,311.5 L118,312.2 L119,312.4 L120,311.8 L121,311.4 L122,312.2 L123,312.3 L124,312.1 L125,312.6 L126,312.8 L127,312.5 L128,312.2 L129,312.8 L130,312.1 L131,312.1 L132,311.5 L133,311.7 L134,311.8 L135,311.6 L136,311.6 L137,311.5 L138,311.3 L139,312.1 L140,311.9 L141,312.6 L142,312.4 L143,312.8 L144,312.8 L145,311.3 L146,312.3 L147,312.7 L148,311.1 L149,311.1 L150,310.7 L151,310.7 L152,311.7 L153,311.1 L154,309.3 L155,308.4 L156,308.0 L157,308.6 L158,306.8 L159,306.2 L160,304.9 L161,304.3 L162,307.4 L163,310.7 L164,310.6 L165,311.7 L166,312.4 L167,312.5 L168,312.3 L169,311.6 L170,311.2 L171,311.5 L172,312.1 L173,312.7 L174,312.2 L175,312.2 L176,311.8 L177,312.5 L178,312.9 L179,312.0 L180,312.3 L181,312.1 L182,311.6 L183,312.8 L184,311.3 L185,311.9 L186,312.8 L187,312.2 L188,311.8 L189,311.5 L190,311.8 L191,312.5 L192,312.4 L193,312.3 L194,312.8 L195,311.8 L196,311.6 L197,312.3 L198,312.8 L199,312.4 L200,312.7 L201,312.6 L202,311.2 L203,312.3 L204,311.6 L205,312.4 L206,312.6 L207,312.6 L208,311.5 L209,311.8 L210,311.4 L211,312.6 L212,312.4 L213,312.1" stroke="#d6d4fb" stroke-width="0.60"/>
<path d="M102,311.1 L103,311.4 L104,310.9 L105,310.4 L106,311.8 L107,311.5 L108,311.0 L109,311.1 L110,310.5 L111,310.5 L112,310.2 L113,311.3 L114,311.6 L115,310.6 L116,310.5 L117,310.9 L118,310.6 L119,311.5 L120,310.5 L121,310.6 L122,310.8 L123,311.6 L124,311.4 L125,310.3 L126,310.4 L127,310.2 L128,311.3 L129,311.3 L130,310.4 L131,310.6 L132,311.6 L133,310.2 L134,311.4 L135,311.6 L136,311.3 L137,310.7 L138,311.4 L139,311.8 L140,311.1 L141,311.2 L142,311.2 L143,311.8 L144,311.8 L145,311.3 L146,310.9 L147,310.3 L148,310.8 L149,310.6 L150,310.8 L151,310.2 L152,309.3 L153,308.8 L154,309.2 L155,308.3 L156,308.1 L157,306.3 L158,305.9 L159,304.4 L160,303.5 L161,303.2 L162,305.8 L163,309.8 L164,309.6 L165,310.8 L166,310.2 L167,311.7 L168,310.3 L169,311.6 L170,310.7 L171,310.7 L172,310.3 L173,311.2 L174,310.2 L175,311.3 L176,311.1 L177,310.6 L178,311.3 L179,311.4 L180,310.2 L181,311.7 L182,311.7 L183,311.5 L184,311.8 L185,310.7 L186,310.3 L187,310.9 L188,311.8 L189,311.3 L190,310.3 L191,311.5 L192,311.6 L193,310.9 L194,311.3 L195,311.7 L196,310.9 L197,311.5 L198,311.1 L199,311.5 L200,311.6 L201,310.4 L202,310.4 L203,311.2 L204,310.7 L205,310.6 L206,310.1 L207,310.9 L208,311.9 L209,310.8 L210,310.5 L211,310.8 L212,311.2 L213,310.1" stroke="#dad8fb" stroke-width="0.60"/>
<path d="M102,309.4 L103,310.0 L104,309.7 L105,310.3 L106,309.3 L107,309.2 L108,310.7 L109,310.4 L110,310.2 L111,310.2 L112,309.4 L113,309.3 L114,309.9 L115,310.3 L116,309.9 L117,310.0 L118,309.2 L119,310.8 L120,309.5 L121,309.8 L122,310.5 L123,310.8 L124,309.7 L125,309.9 L126,310.6 L127,309.9 L128,309.3 L129,309.5 L130,309.7 L131,309.1 L132,309.2 L133,310.7 L134,310.6 L135,310.6 L136,309.6 L137,309.7 L138,310.8 L139,309.2 L140,309.8 L141,309.7 L142,310.4 L143,310.3 L144,310.9 L145,310.8 L146,310.1 L147,310.6 L148,310.0 L149,309.2 L150,309.5 L151,308.7 L152,309.4 L153,308.7 L154,306.9 L155,307.3 L156,306.7 L157,306.2 L158,304.3 L159,304.2 L160,302.4 L161,302.4 L162,305.0 L163,307.7 L164,309.1 L165,309.8 L166,309.2 L167,310.0 L168,309.2 L169,310.3 L170,309.1 L171,309.9 L172,309.1 L173,310.5 L174,310.8 L175,310.4 L176,309.9 L177,309.9 L178,310.4 L179,309.2 L180,309.7 L181,309.9 L182,309.4 L183,309.9 L184,309.7 L185,309.3 L186,310.1 L187,309.9 L188,309.3 L189,310.0 L190,309.5 L191,310.1 L192,309.6 L193,310.4 L194,310.1 L195,309.1 L196,309.7 L197,310.4 L198,309.7 L199,310.5 L200,310.6 L201,310.7 L202,310.4 L203,309.8 L204,309.9 L205,309.2 L206,309.6 L207,309.5 L208,310.5 L209,310.5 L210,310.2 L211,310.4 L212,309.8 L213,310.2" stroke="#dedcfb" stroke-width="0.60"/>
<path d="M102,308.7 L103,308.1 L104,309.0 L105,309.6 L106,308.9 L107,309.7 L108,308.7 L109,308.5 L110,308.3 L111,308.8 L112,308.6 L113,308.2 L114,308.6 L115,309.7 L116,309.4 L117,308.8 L118,308.5 L119,308.9 L120,308.6 L121,309.1 L122,308.5 L123,309.2 L124,309.4 L125,308.5 L126,308.4 L127,309.1 L128,309.1 L129,309.6 L130,309.5 L131,308.9 L132,308.9 L133,309.5 L134,309.1 L135,308.3 L136,308.7 L137,308.2 L138,309.2 L139,309.4 L140,309.2 L141,308.1 L142,308.8 L143,308.1 L144,309.3 L145,309.4 L146,308.4 L147,309.2 L148,308.0 L149,308.0 L150,309.2 L151,307.5 L152,307.9 L153,307.9 L154,307.0 L155,305.9 L156,305.2 L157,304.5 L158,303.2 L159,303.5 L160,302.1 L161,302.1 L162,304.2 L163,306.4 L164,307.8 L165,308.1 L166,309.3 L167,308.9 L168,308.7 L169,309.8 L170,308.7 L171,308.7 L172,308.4 L173,308.5 L174,308.5 L175,309.0 L176,308.8 L177,308.9 L178,309.5 L179,308.7 L180,309.1 L181,309.0 L182,309.7 L183,309.1 L184,309.7 L185,308.7 L186,308.4 L187,308.4 L188,309.5 L189,308.2 L190,308.6 L191,309.6 L192,308.1 L193,309.3 L194,308.7 L195,308.4 L196,309.7 L197,309.6 L198,308.4 L199,308.3 L200,309.0 L201,308.2 L202,309.7 L203,308.6 L204,308.6 L205,308.1 L206,308.9 L207,309.0 L208,308.3 L209,309.3 L210,309.0 L211,309.5 L212,309.7 L213,309.6" stroke="#e2e0fb" stroke-width="0.60"/>
<path d="M102,307.8 L103,307.6 L104,308.1 L105,307.7 L106,307.8 L107,307.4 L108,307.3 L109,307.2 L110,308.1 L111,308.6 L112,308.8 L113,307.5 L114,307.4 L115,307.2 L116,307.2 L117,308.5 L118,307.6 L119,307.7 L120,307.4 L121,308.3 L122,307.3 L123,308.7 L124,307.0 L125,308.7 L126,307.7 L127,307.8 L128,307.9 L129,307.4 L130,308.6 L131,307.9 L132,308.0 L133,308.6 L134,308.2 L135,308.5 L136,307.2 L137,307.5 L138,307.4 L139,307.9 L140,307.5 L141,308.6 L142,307.4 L143,307.7 L144,307.7 L145,307.6 L146,308.2 L147,307.8 L148,308.3 L149,307.3 L150,307.9 L151,307.6 L152,306.3 L153,306.8 L154,306.2 L155,304.3 L156,304.3 L157,304.2 L158,302.3 L159,302.6 L160,300.7 L161,301.2 L162,303.1 L163,306.7 L164,307.9 L165,307.5 L166,307.0 L167,308.1 L168,308.0 L169,307.5 L170,308.6 L171,307.8 L172,308.0 L173,307.4 L174,308.3 L175,308.0 L176,307.3 L177,308.7 L178,307.5 L179,307.2 L180,308.3 L181,307.8 L182,308.4 L183,307.8 L184,308.0 L185,308.3 L186,308.6 L187,307.3 L188,307.2 L189,307.9 L190,307.3 L191,308.4 L192,307.6 L193,307.6 L194,307.2 L195,307.5 L196,307.7 L197,307.5 L198,307.4 L199,307.5 L200,308.3 L201,307.2 L202,307.9 L203,308.2 L204,307.0 L205,308.5 L206,308.4 L207,307.4 L208,307.1 L209,307.1 L210,308.6 L211,307.1 L212,308.1 L213,308.1" stroke="#e6e4fb" stroke-width="0.60"/>
<path d="M102,307.2 L103,306.8 L104,306.8 L105,306.8 L106,307.3 L107,306.1 L108,306.5 L109,306.9 L110,306.7 L111,307.1 L112,306.7 L113,307.7 L114,306.4 L115,307.6 L116,306.0 L117,307.4 L118,306.2 L119,306.5 L120,306.7 L121,307.6 L122,306.2 L123,306.9 L124,307.4 L125,306.8 L126,307.3 L127,307.8 L128,307.4 L129,306.4 L130,306.6 L131,307.0 L132,307.3 L133,307.7 L134,307.5 L135,307.4 L136,307.1 L137,307.2 L138,307.5 L139,307.4 L140,306.3 L141,306.4 L142,306.7 L143,307.7 L144,306.5 L145,307.4 L146,306.5 L147,307.2 L148,307.4 L149,307.4 L150,306.4 L151,306.1 L152,304.8 L153,305.5 L154,303.7 L155,303.0 L156,303.7 L157,302.4 L158,301.6 L159,300.3 L160,300.8 L161,300.0 L162,303.0 L163,304.7 L164,306.2 L165,306.7 L166,306.1 L167,306.0 L168,307.0 L169,306.6 L170,307.5 L171,307.3 L172,307.2 L173,307.0 L174,306.4 L175,307.0 L176,307.2 L177,306.4 L178,306.8 L179,306.1 L180,307.2 L181,306.7 L182,306.4 L183,307.2 L184,307.4 L185,306.4 L186,306.0 L187,307.0 L188,307.7 L189,306.1 L190,307.4 L191,307.1 L192,307.2 L193,306.0 L194,306.7 L195,306.0 L196,307.7 L197,307.7 L198,307.2 L199,307.0 L200,307.4 L201,306.2 L202,307.7 L203,306.7 L204,306.7 L205,306.0 L206,306.1 L207,307.6 L208,306.3 L209,306.9 L210,307.3 L211,307.3 L212,306.8 L213,307.2" stroke="#eae8fb" stroke-width="0.60"/>
<path d="M102,306.4 L103,305.3 L104,305.6 L105,306.0 L106,306.2 L107,306.0 L108,305.0 L109,305.4 L110,305.6 L111,306.5 L112,306.0 L113,305.4 L114,306.0 L115,305.5 L116,306.7 L117,306.2 L118,306.5 L119,305.6 L120,305.2 L121,306.4 L122,305.3 L123,306.5 L124,306.3 L125,306.5 L126,306.0 L127,306.1 L128,305.0 L129,305.4 L130,305.1 L131,305.0 L132,305.9 L133,305.0 L134,305.8 L135,305.2 L136,305.3 L137,306.4 L138,306.7 L139,306.1 L140,306.0 L141,305.3 L142,305.7 L143,306.5 L144,305.1 L145,305.6 L146,305.3 L147,305.3 L148,305.0 L149,305.9 L150,304.9 L151,305.7 L152,304.0 L153,304.1 L154,302.9 L155,303.0 L156,301.1 L157,302.2 L158,300.1 L159,300.2 L160,298.7 L161,297.9 L162,301.4 L163,303.2 L164,305.7 L165,305.1 L166,305.0 L167,305.9 L168,306.0 L169,306.1 L170,306.2 L171,305.0 L172,306.6 L173,306.4 L174,306.3 L175,304.9 L176,305.5 L177,305.3 L178,306.5 L179,305.4 L180,305.6 L181,305.3 L182,306.2 L183,305.2 L184,305.8 L185,306.3 L186,305.6 L187,305.3 L188,305.9 L189,305.3 L190,306.2 L191,306.4 L192,305.4 L193,305.0 L194,305.6 L195,305.0 L196,306.5 L197,306.6 L198,306.0 L199,305.9 L200,306.0 L201,305.6 L202,305.9 L203,306.0 L204,306.5 L205,305.5 L206,305.2 L207,305.7 L208,305.0 L209,305.5 L210,305.9 L211,306.5 L212,306.0 L213,306.7" stroke="#eeecfb" stroke-width="0.60"/>
<path d="M102,305.3 L103,305.7 L104,305.5 L105,304.5 L106,304.2 L107,305.2 L108,305.2 L109,304.6 L110,305.4 L111,305.1 L112,305.4 L113,303.9 L114,305.4 L115,305.5 L116,304.3 L117,305.4 L118,304.4 L119,305.4 L120,305.4 L121,305.4 L122,304.1 L123,304.3 L124,304.9 L125,304.3 L126,304.6 L127,305.6 L128,305.5 L129,304.2 L130,304.2 L131,305.3 L132,304.9 L133,303.9 L134,305.6 L135,304.2 L136,304.1 L137,305.5 L138,305.4 L139,304.1 L140,304.9 L141,305.6 L142,305.7 L143,305.5 L144,305.4 L145,305.6 L146,304.6 L147,305.1 L148,305.3 L149,305.0 L150,304.3 L151,304.4 L152,303.7 L153,303.4 L154,302.7 L155,302.1 L156,300.2 L157,299.9 L158,299.5 L159,297.9 L160,297.7 L161,298.5 L162,301.2 L163,302.8 L164,304.2 L165,303.9 L166,304.8 L167,305.6 L168,304.5 L169,305.1 L170,305.4 L171,304.7 L172,304.7 L173,305.2 L174,304.2 L175,304.5 L176,304.3 L177,304.0 L178,304.3 L179,305.4 L180,305.2 L181,304.6 L182,304.1 L183,304.8 L184,304.4 L185,305.0 L186,305.4 L187,304.5 L188,304.5 L189,305.4 L190,305.4 L191,305.1 L192,304.5 L193,305.6 L194,304.0 L195,305.7 L196,305.2 L197,304.0 L198,304.2 L199,305.3 L200,305.6 L201,304.1 L202,305.0 L203,305.4 L204,305.1 L205,305.6 L206,305.5 L207,304.2 L208,304.1 L209,305.5 L210,304.3 L211,305.5 L212,305.6 L213,304.6" stroke="#f2effb" stroke-width="0.60"/>
<path d="M102,304.2 L103,303.2 L104,303.8 L105,303.1 L106,304.0 L107,303.1 L108,303.6 L109,302.9 L110,304.6 L111,304.0 L112,303.5 L113,303.3 L114,304.3 L115,303.8 L116,303.9 L117,302.9 L118,303.5 L119,303.7 L120,304.4 L121,303.2 L122,303.0 L123,303.8 L124,303.3 L125,302.9 L126,303.1 L127,303.7 L128,303.6 L129,303.3 L130,304.1 L131,303.0 L132,303.4 L133,303.8 L134,303.3 L135,304.6 L136,303.5 L137,303.7 L138,304.6 L139,303.8 L140,303.3 L141,303.7 L142,304.7 L143,304.4 L144,303.4 L145,303.0 L146,304.5 L147,303.3 L148,302.8 L149,303.3 L150,303.6 L151,302.5 L152,302.7 L153,302.3 L154,301.2 L155,300.9 L156,299.8 L157,298.3 L158,298.7 L159,297.3 L160,297.6 L161,297.6 L162,299.3 L163,302.2 L164,302.3 L165,303.7 L166,304.0 L167,304.5 L168,303.0 L169,303.2 L170,304.2 L171,304.0 L172,303.7 L173,304.6 L174,303.0 L175,304.4 L176,303.1 L177,303.3 L178,304.1 L179,303.0 L180,304.2 L181,303.4 L182,304.3 L183,303.9 L184,303.3 L185,304.3 L186,304.5 L187,304.3 L188,303.0 L189,303.7 L190,303.0 L191,303.7 L192,303.4 L193,303.8 L194,304.4 L195,304.2 L196,304.3 L197,303.0 L198,303.7 L199,303.6 L200,304.2 L201,304.5 L202,302.9 L203,304.4 L204,303.5 L205,302.9 L206,304.0 L207,303.8 L208,304.6 L209,304.3 L210,303.7 L211,304.3 L212,304.5 L213,303.8" stroke="#f3effa" stroke-width="0.60"/>
<path d="M102,302.4 L103,303.0 L104,303.4 L105,303.1 L106,302.9 L107,302.1 L108,303.1 L109,302.9 L110,303.1 L111,302.7 L112,301.9 L113,302.3 L114,302.9 L115,302.1 L116,302.4 L117,302.6 L118,302.1 L119,302.3 L120,302.6 L121,303.5 L122,303.1 L123,302.0 L124,302.5 L125,303.3 L126,301.8 L127,303.1 L128,303.1 L129,302.3 L130,301.9 L131,302.4 L132,302.4 L133,303.0 L134,302.0 L135,302.1 L136,303.1 L137,301.9 L138,302.9 L139,302.5 L140,302.4 L141,302.6 L142,302.4 L143,303.3 L144,303.5 L145,302.8 L146,303.0 L147,303.3 L148,301.8 L149,302.3 L150,301.2 L151,302.1 L152,301.8 L153,299.7 L154,299.6 L155,299.3 L156,298.6 L157,297.1 L158,297.2 L159,296.4 L160,296.2 L161,296.6 L162,297.6 L163,300.9 L164,302.0 L165,302.4 L166,302.1 L167,302.6 L168,302.0 L169,303.0 L170,302.4 L171,303.4 L172,302.3 L173,302.2 L174,302.2 L175,303.1 L176,303.3 L177,303.4 L178,302.8 L179,303.0 L180,302.5 L181,302.8 L182,302.0 L183,303.4 L184,302.6 L185,302.7 L186,302.0 L187,302.8 L188,302.2 L189,303.6 L190,302.0 L191,302.5 L192,302.0 L193,302.2 L194,302.7 L195,302.0 L196,303.0 L197,302.9 L198,303.2 L199,302.4 L200,303.0 L201,302.4 L202,303.1 L203,303.6 L204,302.2 L205,303.1 L206,303.3 L207,302.3 L208,301.9 L209,302.8 L210,302.8 L211,302.9 L212,303.2 L213,302.4" stroke="#f4eff8" stroke-width="0.60"/>
<path d="M102,302.3 L103,302.1 L104,301.2 L105,301.2 L106,301.6 L107,302.3 L108,302.4 L109,301.8 L110,301.8 L111,301.7 L112,302.1 L113,300.8 L114,302.1 L115,301.7 L116,301.8 L117,302.3 L118,301.0 L119,301.7 L120,302.5 L121,301.2 L122,301.9 L123,301.3 L124,302.2 L125,302.0 L126,301.1 L127,301.1 L128,301.4 L129,301.6 L130,302.2 L131,302.5 L132,301.8 L133,301.0 L134,301.6 L135,302.5 L136,300.9 L137,301.6 L138,301.3 L139,302.0 L140,301.2 L141,300.9 L142,301.1 L143,301.7 L144,301.6 L145,302.3 L146,301.1 L147,301.9 L148,302.3 L149,300.4 L150,301.0 L151,300.0 L152,299.7 L153,298.8 L154,299.1 L155,297.5 L156,298.3 L157,296.3 L158,295.8 L159,295.8 L160,294.3 L161,294.3 L162,297.0 L163,300.1 L164,301.6 L165,301.7 L166,301.3 L167,301.8 L168,302.6 L169,301.5 L170,301.0 L171,300.9 L172,301.6 L173,302.5 L174,302.5 L175,302.1 L176,301.2 L177,301.5 L178,301.2 L179,301.6 L180,302.2 L181,300.9 L182,301.7 L183,301.2 L184,301.9 L185,302.2 L186,302.2 L187,301.4 L188,302.4 L189,300.8 L190,301.3 L191,301.1 L192,302.0 L193,301.7 L194,301.9 L195,300.9 L196,301.0 L197,302.1 L198,302.0 L199,302.5 L200,301.6 L201,301.9 L202,301.6 L203,302.4 L204,301.3 L205,301.7 L206,302.2 L207,301.5 L208,301.6 L209,301.0 L210,302.5 L211,301.7 L212,301.6 L213,301.1" stroke="#f5eff7" stroke-width="0.60"/>
<path d="M102,300.5 L103,300.4 L104,300.1 L105,300.4 L106,300.4 L107,300.9 L108,299.9 L109,301.6 L110,301.3 L111,299.8 L112,300.6 L113,301.1 L114,299.8 L115,301.4 L116,301.5 L117,299.9 L118,300.3 L119,301.5 L120,300.3 L121,301.1 L122,301.2 L123,299.8 L124,300.6 L125,300.4 L126,301.3 L127,299.9 L128,301.0 L129,299.8 L130,300.9 L131,300.6 L132,301.4 L133,301.5 L134,301.2 L135,301.0 L136,300.4 L137,300.8 L138,300.5 L139,301.1 L140,301.5 L141,301.0 L142,300.0 L143,300.8 L144,300.7 L145,301.4 L146,300.3 L147,300.4 L148,300.8 L149,300.4 L150,299.9 L151,299.6 L152,298.4 L153,297.4 L154,297.4 L155,296.9 L156,296.7 L157,295.5 L158,294.8 L159,295.3 L160,294.6 L161,293.2 L162,296.9 L163,298.4 L164,299.2 L165,301.0 L166,300.7 L167,301.4 L168,300.5 L169,299.8 L170,300.5 L171,301.0 L172,300.2 L173,301.0 L174,300.2 L175,301.0 L176,299.8 L177,301.0 L178,300.1 L179,300.5 L180,301.5 L181,300.0 L182,299.9 L183,301.5 L184,301.2 L185,300.8 L186,300.7 L187,300.6 L188,300.9 L189,301.2 L190,300.0 L191,300.4 L192,300.7 L193,300.1 L194,300.0 L195,300.9 L196,301.5 L197,301.2 L198,300.3 L199,300.4 L200,301.5 L201,301.2 L202,300.8 L203,299.9 L204,300.0 L205,301.1 L206,300.4 L207,301.0 L208,300.1 L209,301.0 L210,300.7 L211,300.0 L212,300.0 L213,300.2" stroke="#f6eef5" stroke-width="0.60"/>
<path d="M102,299.4 L103,299.7 L104,300.4 L105,299.1 L106,299.1 L107,299.7 L108,299.1 L109,298.7 L110,299.6 L111,299.5 L112,299.9 L113,299.7 L114,298.9 L115,299.5 L116,298.9 L117,298.9 L118,300.3 L119,300.4 L120,300.5 L121,300.1 L122,299.8 L123,299.6 L124,299.7 L125,299.3 L126,300.3 L127,299.6 L128,300.4 L129,299.4 L130,299.2 L131,299.9 L132,300.0 L133,299.6 L134,299.1 L135,298.9 L136,299.9 L137,299.0 L138,300.3 L139,299.6 L140,300.0 L141,299.2 L142,300.4 L143,299.2 L144,300.5 L145,298.8 L146,300.0 L147,299.2 L148,300.2 L149,299.4 L150,299.3 L151,298.5 L152,298.2 L153,296.7 L154,296.1 L155,296.0 L156,294.3 L157,294.1 L158,293.4 L159,292.7 L160,292.3 L161,291.8 L162,295.3 L163,297.5 L164,299.4 L165,300.3 L166,299.8 L167,299.9 L168,300.3 L169,300.5 L170,299.5 L171,300.3 L172,299.5 L173,299.6 L174,299.2 L175,300.1 L176,299.2 L177,299.3 L178,299.5 L179,298.8 L180,300.2 L181,298.7 L182,299.0 L183,300.3 L184,300.1 L185,298.8 L186,299.1 L187,299.5 L188,298.8 L189,299.2 L190,299.4 L191,300.5 L192,298.8 L193,300.0 L194,299.1 L195,299.9 L196,298.8 L197,300.1 L198,300.4 L199,298.8 L200,300.5 L201,300.3 L202,299.3 L203,299.6 L204,298.7 L205,299.1 L206,298.8 L207,299.4 L208,299.2 L209,298.9 L210,298.8 L211,299.1 L212,298.8 L213,299.0" stroke="#f7eef3" stroke-width="0.60"/>
<path d="M102,299.2 L103,298.5 L104,297.9 L105,299.3 L106,298.0 L107,298.1 L108,297.8 L109,299.2 L110,298.5 L111,298.7 L112,298.6 L113,299.2 L114,299.3 L115,299.1 L116,298.7 L117,299.0 L118,298.1 L119,299.3 L120,298.6 L121,297.7 L122,298.3 L123,299.4 L124,298.2 L125,297.9 L126,299.5 L127,298.5 L128,298.7 L129,298.4 L130,298.2 L131,298.3 L132,299.4 L133,298.6 L134,299.0 L135,298.8 L136,298.1 L137,299.3 L138,299.4 L139,298.0 L140,297.8 L141,299.0 L142,298.0 L143,299.3 L144,298.6 L145,298.6 L146,298.2 L147,298.6 L148,298.0 L149,297.3 L150,297.9 L151,298.0 L152,297.0 L153,295.9 L154,295.8 L155,293.7 L156,293.4 L157,293.2 L158,291.9 L159,291.5 L160,292.2 L161,291.5 L162,294.3 L163,296.0 L164,298.6 L165,299.2 L166,298.3 L167,298.0 L168,298.3 L169,298.2 L170,298.4 L171,298.9 L172,299.1 L173,299.3 L174,298.8 L175,299.2 L176,298.9 L177,297.8 L178,298.0 L179,298.1 L180,297.9 L181,298.2 L182,298.9 L183,299.0 L184,298.5 L185,298.7 L186,298.9 L187,298.9 L188,298.5 L189,298.4 L190,298.6 L191,298.7 L192,297.9 L193,298.5 L194,298.6 L195,299.1 L196,298.2 L197,299.4 L198,299.0 L199,298.8 L200,298.6 L201,298.0 L202,298.3 L203,298.3 L204,298.6 L205,297.8 L206,297.7 L207,299.5 L208,297.7 L209,298.2 L210,298.4 L211,299.5 L212,298.3 L213,298.2" stroke="#f8eef2" stroke-width="0.60"/>
<path d="M102,297.5 L103,297.8 L104,298.2 L105,297.9 L106,296.8 L107,298.3 L108,298.3 L109,296.9 L110,298.1 L111,298.3 L112,298.2 L113,298.3 L114,297.2 L115,297.8 L116,298.1 L117,298.2 L118,297.8 L119,298.3 L120,297.9 L121,297.4 L122,298.4 L123,297.4 L124,296.9 L125,298.3 L126,297.3 L127,298.1 L128,298.3 L129,298.1 L130,297.9 L131,297.3 L132,297.6 L133,297.4 L134,298.1 L135,297.2 L136,297.5 L137,298.1 L138,296.9 L139,298.1 L140,297.7 L141,297.9 L142,297.9 L143,297.1 L144,298.3 L145,297.8 L146,297.3 L147,296.8 L148,296.8 L149,296.3 L150,296.4 L151,295.6 L152,294.7 L153,294.0 L154,293.3 L155,292.9 L156,292.1 L157,291.9 L158,291.0 L159,290.5 L160,290.7 L161,290.3 L162,293.3 L163,295.0 L164,297.1 L165,297.0 L166,297.4 L167,297.1 L168,296.8 L169,298.5 L170,297.1 L171,296.7 L172,297.8 L173,296.8 L174,296.9 L175,297.1 L176,297.0 L177,297.3 L178,297.3 L179,297.2 L180,298.1 L181,297.4 L182,298.3 L183,297.9 L184,298.3 L185,297.4 L186,297.3 L187,297.7 L188,298.5 L189,296.8 L190,297.9 L191,298.2 L192,297.7 L193,296.9 L194,298.5 L195,297.3 L196,298.3 L197,297.5 L198,296.9 L199,297.6 L200,297.2 L201,297.2 L202,298.3 L203,298.3 L204,297.7 L205,297.8 L206,297.9 L207,297.5 L208,298.0 L209,297.8 L210,298.5 L211,298.1 L212,298.3 L213,296.7" stroke="#f9eef0" stroke-width="0.60"/>
<path d="M102,296.5 L103,295.9 L104,296.2 L105,295.8 L106,297.2 L107,296.5 L108,296.6 L109,297.1 L110,297.0 L111,297.2 L112,295.7 L113,295.8 L114,296.5 L115,296.7 L116,297.4 L117,296.3 L118,295.9 L119,296.1 L120,295.9 L121,297.0 L122,296.6 L123,296.1 L124,297.0 L125,296.3 L126,296.0 L127,295.8 L128,297.0 L129,297.1 L130,296.9 L131,297.4 L132,297.4 L133,295.6 L134,295.9 L135,296.5 L136,296.6 L137,296.3 L138,296.0 L139,296.1 L140,297.4 L141,296.5 L142,296.4 L143,297.0 L144,296.9 L145,297.1 L146,297.0 L147,296.1 L148,295.8 L149,296.1 L150,296.1 L151,294.7 L152,295.2 L153,293.0 L154,292.4 L155,292.0 L156,291.1 L157,290.4 L158,290.2 L159,289.1 L160,289.6 L161,289.5 L162,291.2 L163,294.8 L164,295.6 L165,296.4 L166,297.2 L167,296.5 L168,295.8 L169,296.2 L170,295.9 L171,297.2 L172,296.1 L173,295.8 L174,296.4 L175,296.2 L176,297.0 L177,295.7 L178,296.0 L179,296.2 L180,295.8 L181,296.6 L182,297.2 L183,297.3 L184,296.7 L185,295.7 L186,296.8 L187,295.9 L188,296.6 L189,296.8 L190,297.3 L191,296.7 L192,296.1 L193,295.8 L194,297.0 L195,296.3 L196,296.2 L197,296.6 L198,296.8 L199,296.7 L200,295.7 L201,297.1 L202,296.8 L203,297.2 L204,296.8 L205,296.8 L206,296.1 L207,296.3 L208,297.3 L209,296.2 L210,297.3 L211,296.1 L212,296.5 L213,297.4" stroke="#f9ecee" stroke-width="0.60"/>
<path d="M102,295.8 L103,295.5 L104,294.6 L105,295.3 L106,294.8 L107,295.6 L108,296.4 L109,295.1 L110,296.3 L111,296.3 L112,294.9 L113,296.2 L114,295.9 L115,294.9 L116,294.9 L117,295.7 L118,296.2 L119,295.1 L120,296.0 L121,295.8 L122,294.8 L123,295.9 L124,295.1 L125,294.9 L126,295.4 L127,294.7 L128,296.2 L129,294.7 L130,296.4 L131,296.4 L132,296.2 L133,295.7 L134,296.4 L135,294.7 L136,295.3 L137,295.5 L138,294.9 L139,295.8 L140,296.1 L141,295.4 L142,294.7 L143,295.2 L144,296.1 L145,296.4 L146,295.2 L147,294.5 L148,295.9 L149,295.4 L150,293.8 L151,294.1 L152,293.1 L153,293.4 L154,291.9 L155,291.9 L156,290.3 L157,289.7 L158,289.5 L159,288.1 L160,288.1 L161,288.0 L162,290.2 L163,293.9 L164,294.9 L165,295.7 L166,295.6 L167,295.0 L168,295.1 L169,294.9 L170,295.7 L171,295.2 L172,294.8 L173,296.1 L174,294.8 L175,296.4 L176,295.2 L177,295.8 L178,296.4 L179,295.0 L180,296.2 L181,295.2 L182,295.6 L183,295.4 L184,295.6 L185,295.8 L186,296.0 L187,295.3 L188,295.8 L189,296.2 L190,295.5 L191,295.4 L192,295.4 L193,294.9 L194,295.7 L195,295.1 L196,295.3 L197,296.3 L198,295.1 L199,295.2 L200,295.8 L201,295.7 L202,296.1 L203,294.8 L204,295.1 L205,294.9 L206,294.9 L207,295.3 L208,296.0 L209,296.1 L210,295.0 L211,295.9 L212,294.9 L213,295.4" stroke="#f9e9eb" stroke-width="0.60"/>
<path d="M102,293.8 L103,294.0 L104,295.0 L105,294.9 L106,294.5 L107,295.2 L108,293.8 L109,294.1 L110,294.8 L111,293.8 L112,294.4 L113,294.3 L114,293.9 L115,294.1 L116,294.0 L117,294.5 L118,294.2 L119,294.6 L120,294.2 L121,294.9 L122,295.1 L123,294.7 L124,295.1 L125,294.4 L126,293.7 L127,295.2 L128,293.9 L129,293.7 L130,294.9 L131,293.7 L132,294.5 L133,294.3 L134,293.7 L135,294.4 L136,293.8 L137,294.8 L138,295.1 L139,294.3 L140,294.6 L141,294.3 L142,294.6 L143,295.3 L144,294.0 L145,294.6 L146,293.5 L147,295.1 L148,293.4 L149,293.8 L150,293.3 L151,293.1 L152,291.8 L153,290.9 L154,290.7 L155,290.5 L156,290.2 L157,288.7 L158,287.8 L159,287.4 L160,286.5 L161,287.9 L162,290.2 L163,291.6 L164,294.4 L165,294.2 L166,294.6 L167,294.7 L168,294.9 L169,293.9 L170,294.2 L171,294.6 L172,294.7 L173,294.9 L174,294.0 L175,293.9 L176,294.8 L177,294.3 L178,295.3 L179,295.3 L180,295.3 L181,295.3 L182,295.2 L183,295.0 L184,293.7 L185,295.0 L186,295.1 L187,293.9 L188,293.8 L189,295.2 L190,293.9 L191,293.7 L192,294.2 L193,294.2 L194,294.1 L195,293.9 L196,294.4 L197,295.1 L198,293.6 L199,294.4 L200,295.3 L201,295.0 L202,293.6 L203,294.6 L204,293.9 L205,293.8 L206,295.1 L207,295.2 L208,295.4 L209,293.6 L210,293.6 L211,294.2 L212,294.2 L213,293.8" stroke="#f9e6e8" stroke-width="0.60"/>
<path d="M102,294.2 L103,293.4 L104,294.3 L105,292.6 L106,293.4 L107,292.7 L108,294.3 L109,294.1 L110,292.7 L111,293.2 L112,294.3 L113,293.6 L114,293.3 L115,293.6 L116,293.4 L117,294.1 L118,292.7 L119,293.6 L120,294.2 L121,292.6 L122,293.1 L123,293.3 L124,293.6 L125,294.0 L126,293.5 L127,292.7 L128,294.3 L129,292.9 L130,294.0 L131,292.7 L132,292.7 L133,293.7 L134,293.3 L135,294.1 L136,292.6 L137,292.7 L138,292.7 L139,293.3 L140,292.8 L141,292.8 L142,293.4 L143,293.9 L144,294.0 L145,293.2 L146,293.1 L147,292.9 L148,293.5 L149,292.7 L150,292.9 L151,291.2 L152,290.7 L153,290.4 L154,288.6 L155,289.5 L156,288.8 L157,287.6 L158,286.4 L159,286.4 L160,285.8 L161,285.9 L162,288.5 L163,290.5 L164,291.8 L165,292.4 L166,292.7 L167,292.9 L168,293.3 L169,292.8 L170,292.8 L171,293.6 L172,293.6 L173,293.0 L174,293.8 L175,293.5 L176,292.9 L177,294.1 L178,293.6 L179,292.8 L180,293.4 L181,292.6 L182,293.1 L183,294.1 L184,293.2 L185,293.4 L186,292.6 L187,293.3 L188,294.1 L189,294.2 L190,293.4 L191,294.3 L192,294.3 L193,292.7 L194,294.0 L195,293.0 L196,293.6 L197,293.4 L198,292.9 L199,292.9 L200,294.3 L201,294.1 L202,293.3 L203,294.0 L204,293.8 L205,293.2 L206,294.0 L207,294.0 L208,293.1 L209,294.2 L210,293.2 L211,292.9 L212,294.1 L213,294.0" stroke="#f8e3e6" stroke-width="0.60"/>
<path d="M102,291.9 L103,292.4 L104,291.8 L105,292.9 L106,291.7 L107,293.3 L108,293.1 L109,292.2 L110,293.1 L111,292.3 L112,292.6 L113,293.1 L114,291.5 L115,291.5 L116,292.1 L117,292.5 L118,292.8 L119,291.9 L120,291.6 L121,291.5 L122,291.5 L123,291.9 L124,293.2 L125,292.3 L126,292.0 L127,291.8 L128,292.3 L129,291.9 L130,291.9 L131,292.3 L132,292.3 L133,293.3 L134,292.3 L135,291.6 L136,291.6 L137,292.8 L138,292.4 L139,292.6 L140,293.2 L141,292.0 L142,291.8 L143,292.2 L144,293.2 L145,293.1 L146,292.5 L147,292.7 L148,291.8 L149,291.8 L150,290.9 L151,291.0 L152,290.6 L153,289.3 L154,289.0 L155,287.2 L156,287.6 L157,286.9 L158,286.7 L159,285.5 L160,284.6 L161,284.8 L162,287.9 L163,289.7 L164,292.4 L165,292.5 L166,293.2 L167,292.2 L168,292.4 L169,292.9 L170,293.2 L171,291.7 L172,293.1 L173,293.2 L174,292.2 L175,292.2 L176,291.7 L177,292.7 L178,292.3 L179,292.2 L180,291.9 L181,293.0 L182,291.6 L183,293.2 L184,291.7 L185,292.3 L186,292.0 L187,291.6 L188,291.6 L189,291.7 L190,291.5 L191,291.9 L192,292.1 L193,292.5 L194,293.1 L195,292.4 L196,293.1 L197,292.2 L198,293.0 L199,291.9 L200,292.2 L201,291.9 L202,292.2 L203,292.4 L204,293.3 L205,292.9 L206,292.2 L207,292.0 L208,292.8 L209,292.6 L210,293.2 L211,293.2 L212,291.6 L213,293.1" stroke="#f8e0e3" stroke-width="0.60"/>
<path d="M102,290.6 L103,291.0 L104,291.0 L105,290.9 L106,291.2 L107,290.8 L108,291.3 L109,291.0 L110,291.4 L111,292.2 L112,290.6 L113,290.7 L114,290.8 L115,290.8 L116,292.2 L117,291.9 L118,291.3 L119,292.3 L120,290.5 L121,290.5 L122,290.8 L123,291.9 L124,291.9 L125,291.1 L126,292.1 L127,291.2 L128,291.5 L129,291.9 L130,291.8 L131,291.5 L132,291.1 L133,290.8 L134,291.2 L135,292.2 L136,292.3 L137,292.0 L138,291.8 L139,290.5 L140,291.3 L141,292.2 L142,291.4 L143,291.6 L144,291.6 L145,291.5 L146,291.6 L147,291.2 L148,290.9 L149,291.6 L150,290.2 L151,290.0 L152,289.8 L153,287.7 L154,286.6 L155,285.6 L156,285.2 L157,284.9 L158,284.8 L159,283.5 L160,284.6 L161,284.1 L162,286.6 L163,289.8 L164,290.2 L165,291.0 L166,292.1 L167,292.1 L168,291.9 L169,291.0 L170,292.1 L171,290.5 L172,290.7 L173,291.4 L174,290.5 L175,290.7 L176,292.2 L177,291.1 L178,290.7 L179,292.0 L180,290.8 L181,292.0 L182,291.1 L183,290.9 L184,291.9 L185,290.9 L186,292.2 L187,290.6 L188,290.6 L189,290.7 L190,292.2 L191,290.9 L192,290.9 L193,291.1 L194,290.5 L195,291.5 L196,291.2 L197,292.0 L198,292.0 L199,291.4 L200,291.6 L201,292.2 L202,291.1 L203,292.2 L204,291.4 L205,290.6 L206,290.8 L207,291.8 L208,292.3 L209,290.5 L210,290.7 L211,291.9 L212,292.0 L213,290.7" stroke="#f7dde0" stroke-width="0.60"/>
<path d="M102,290.1 L103,290.5 L104,290.5 L105,290.2 L106,290.5 L107,291.1 L108,291.0 L109,290.0 L110,291.2 L111,289.9 L112,290.0 L113,290.2 L114,291.0 L115,289.5 L116,291.1 L117,290.9 L118,290.3 L119,290.2 L120,290.8 L121,290.9 L122,290.5 L123,289.5 L124,290.2 L125,290.0 L126,290.3 L127,291.0 L128,289.8 L129,291.2 L130,290.1 L131,290.7 L132,290.7 L133,290.8 L134,290.8 L135,289.9 L136,290.6 L137,290.1 L138,291.2 L139,289.7 L140,289.6 L141,289.7 L142,289.5 L143,289.6 L144,290.2 L145,290.5 L146,290.2 L147,289.4 L148,289.4 L149,288.9 L150,289.5 L151,288.3 L152,287.9 L153,286.7 L154,286.7 L155,285.3 L156,284.2 L157,284.8 L158,283.7 L159,283.4 L160,283.5 L161,282.1 L162,285.0 L163,287.7 L164,289.1 L165,289.3 L166,290.0 L167,290.8 L168,291.2 L169,291.0 L170,291.0 L171,289.8 L172,289.5 L173,290.5 L174,291.2 L175,289.5 L176,290.3 L177,290.1 L178,290.8 L179,290.9 L180,290.8 L181,290.9 L182,289.5 L183,290.7 L184,291.0 L185,290.0 L186,289.5 L187,290.9 L188,291.0 L189,289.5 L190,290.4 L191,290.0 L192,290.7 L193,290.3 L194,291.0 L195,290.9 L196,289.8 L197,290.5 L198,289.7 L199,289.6 L200,290.7 L201,290.2 L202,291.0 L203,291.1 L204,290.9 L205,290.3 L206,289.7 L207,290.0 L208,289.5 L209,290.4 L210,290.9 L211,289.5 L212,291.2 L213,289.4" stroke="#f7dadd" stroke-width="0.60"/>
<path d="M102,290.2 L103,289.0 L104,288.9 L105,290.1 L106,289.3 L107,289.2 L108,290.1 L109,290.2 L110,288.4 L111,289.6 L112,288.6 L113,289.4 L114,289.1 L115,289.8 L116,289.7 L117,289.6 L118,289.9 L119,289.2 L120,289.0 L121,288.5 L122,289.1 L123,289.7 L124,288.5 L125,288.9 L126,290.2 L127,289.0 L128,290.1 L129,289.7 L130,288.8 L131,288.9 L132,289.8 L133,289.7 L134,288.9 L135,289.3 L136,289.7 L137,289.6 L138,289.9 L139,289.1 L140,290.1 L141,289.5 L142,289.4 L143,290.1 L144,289.5 L145,289.3 L146,288.4 L147,288.4 L148,289.7 L149,288.7 L150,288.0 L151,287.0 L152,286.1 L153,285.6 L154,284.9 L155,284.5 L156,282.9 L157,282.6 L158,282.4 L159,281.3 L160,281.8 L161,282.4 L162,284.9 L163,287.1 L164,287.9 L165,289.8 L166,289.4 L167,289.9 L168,288.7 L169,288.5 L170,288.6 L171,288.5 L172,289.4 L173,289.3 L174,290.0 L175,289.6 L176,289.3 L177,288.4 L178,290.0 L179,289.2 L180,288.5 L181,289.5 L182,290.0 L183,288.5 L184,289.6 L185,289.4 L186,288.4 L187,288.9 L188,288.6 L189,289.2 L190,289.3 L191,288.9 L192,289.7 L193,289.9 L194,288.4 L195,289.1 L196,288.8 L197,289.3 L198,289.1 L199,289.7 L200,289.1 L201,288.7 L202,289.8 L203,288.9 L204,289.1 L205,289.8 L206,289.1 L207,288.7 L208,289.2 L209,288.6 L210,289.4 L211,288.4 L212,288.7 L213,289.9" stroke="#f7d7da" stroke-width="0.60"/>
<path d="M102,288.4 L103,288.2 L104,289.0 L105,287.6 L106,287.8 L107,287.8 L108,288.7 L109,288.1 L110,287.4 L111,288.0 L112,287.5 L113,287.6 L114,288.1 L115,289.0 L116,288.0 L117,288.4 L118,288.2 L119,288.3 L120,288.9 L121,287.7 L122,287.6 L123,287.8 L124,288.0 L125,287.9 L126,287.8 L127,287.7 L128,288.5 L129,288.0 L130,288.5 L131,287.7 L132,288.0 L133,287.7 L134,288.9 L135,287.9 L136,287.9 L137,287.6 L138,288.4 L139,287.9 L140,288.6 L141,288.1 L142,288.4 L143,288.3 L144,289.0 L145,287.8 L146,288.8 L147,287.6 L148,288.1 L149,288.0 L150,286.3 L151,286.1 L152,285.5 L153,284.1 L154,284.2 L155,282.3 L156,282.3 L157,281.4 L158,281.8 L159,281.3 L160,281.1 L161,280.7 L162,283.3 L163,286.5 L164,287.2 L165,288.8 L166,287.8 L167,288.1 L168,289.0 L169,287.5 L170,288.2 L171,288.7 L172,288.4 L173,287.4 L174,288.0 L175,288.9 L176,288.2 L177,288.0 L178,287.8 L179,288.7 L180,287.4 L181,288.7 L182,287.9 L183,288.2 L184,288.9 L185,288.8 L186,288.8 L187,287.7 L188,287.6 L189,288.9 L190,288.4 L191,287.9 L192,288.1 L193,288.1 L194,288.9 L195,288.7 L196,288.2 L197,288.7 L198,288.8 L199,287.9 L200,287.7 L201,288.3 L202,287.5 L203,288.7 L204,288.0 L205,288.1 L206,289.0 L207,287.8 L208,287.6 L209,289.0 L210,287.4 L211,289.0 L212,288.4 L213,287.5" stroke="#f6d4d7" stroke-width="0.60"/>
<path d="M102,287.7 L103,286.8 L104,287.0 L105,288.0 L106,286.5 L107,286.9 L108,288.0 L109,287.2 L110,287.4 L111,286.4 L112,288.1 L113,287.5 L114,287.9 L115,286.5 L116,286.6 L117,286.8 L118,287.7 L119,286.4 L120,288.0 L121,287.9 L122,287.0 L123,287.0 L124,287.5 L125,287.4 L126,286.6 L127,287.1 L128,286.5 L129,288.1 L130,286.7 L131,287.9 L132,287.3 L133,287.2 L134,287.0 L135,287.9 L136,287.1 L137,286.6 L138,287.0 L139,286.5 L140,286.9 L141,286.8 L142,288.1 L143,287.2 L144,287.7 L145,286.4 L146,286.8 L147,287.6 L148,287.1 L149,287.4 L150,285.9 L151,286.1 L152,283.9 L153,283.6 L154,282.7 L155,281.8 L156,282.0 L157,281.6 L158,280.5 L159,280.6 L160,279.1 L161,279.3 L162,282.8 L163,284.4 L164,287.2 L165,286.2 L166,286.8 L167,287.5 L168,287.9 L169,286.4 L170,286.7 L171,286.4 L172,286.7 L173,287.3 L174,286.8 L175,286.5 L176,287.5 L177,286.6 L178,288.1 L179,287.9 L180,287.9 L181,288.0 L182,288.0 L183,287.9 L184,286.8 L185,286.3 L186,286.5 L187,286.3 L188,287.0 L189,287.1 L190,287.6 L191,287.1 L192,286.5 L193,287.1 L194,287.6 L195,287.4 L196,286.4 L197,287.1 L198,287.6 L199,286.6 L200,287.0 L201,287.8 L202,287.9 L203,286.8 L204,286.5 L205,286.8 L206,287.7 L207,287.7 L208,286.6 L209,286.9 L210,287.1 L211,287.2 L212,287.0 L213,286.4" stroke="#f6d1d4" stroke-width="0.60"/>
<path d="M102,286.0 L103,286.3 L104,287.0 L105,285.3 L106,286.7 L107,286.0 L108,285.7 L109,286.7 L110,285.3 L111,285.7 L112,286.1 L113,285.9 L114,286.7 L115,285.4 L116,286.2 L117,285.5 L118,285.3 L119,285.7 L120,285.5 L121,285.5 L122,286.0 L123,287.1 L124,287.1 L125,285.8 L126,285.7 L127,286.0 L128,285.6 L129,286.6 L130,286.2 L131,286.4 L132,286.1 L133,285.7 L134,285.5 L135,285.6 L136,286.0 L137,286.2 L138,285.4 L139,286.1 L140,285.7 L141,286.5 L142,287.0 L143,286.1 L144,285.4 L145,286.3 L146,286.3 L147,285.9 L148,286.0 L149,286.2 L150,284.6 L151,284.1 L152,283.9 L153,281.7 L154,281.8 L155,280.1 L156,279.7 L157,280.2 L158,279.7 L159,278.5 L160,278.8 L161,277.9 L162,281.1 L163,283.7 L164,286.0 L165,286.6 L166,286.2 L167,285.7 L168,285.6 L169,287.0 L170,285.5 L171,285.8 L172,286.3 L173,285.4 L174,287.0 L175,286.5 L176,286.8 L177,286.1 L178,286.5 L179,285.3 L180,286.8 L181,286.8 L182,286.2 L183,286.5 L184,285.7 L185,285.8 L186,286.0 L187,286.7 L188,287.0 L189,285.6 L190,287.0 L191,286.5 L192,285.6 L193,286.7 L194,285.8 L195,285.4 L196,286.0 L197,285.5 L198,286.9 L199,285.6 L200,285.7 L201,285.4 L202,286.2 L203,286.2 L204,285.7 L205,286.6 L206,287.0 L207,285.6 L208,285.8 L209,285.7 L210,286.1 L211,286.1 L212,285.9 L213,286.3" stroke="#f5ced1" stroke-width="0.60"/>
<path d="M102,285.9 L103,285.3 L104,284.5 L105,285.2 L106,285.2 L107,285.2 L108,284.7 L109,285.0 L110,284.9 L111,285.3 L112,286.0 L113,285.1 L114,284.9 L115,284.4 L116,284.5 L117,284.7 L118,285.3 L119,285.4 L120,285.0 L121,285.7 L122,286.0 L123,284.9 L124,285.8 L125,285.2 L126,284.7 L127,284.5 L128,285.1 L129,285.5 L130,285.0 L131,285.5 L132,285.6 L133,284.3 L134,284.9 L135,285.4 L136,285.7 L137,284.5 L138,285.4 L139,284.9 L140,286.0 L141,285.2 L142,286.0 L143,285.7 L144,285.2 L145,284.8 L146,284.7 L147,284.6 L148,284.1 L149,285.4 L150,284.6 L151,283.5 L152,281.7 L153,282.1 L154,280.4 L155,279.8 L156,278.4 L157,279.2 L158,277.2 L159,277.4 L160,277.1 L161,278.2 L162,279.9 L163,282.6 L164,284.1 L165,285.2 L166,284.2 L167,285.8 L168,285.9 L169,285.1 L170,285.1 L171,285.2 L172,285.3 L173,285.7 L174,285.7 L175,284.9 L176,284.7 L177,286.0 L178,284.6 L179,285.6 L180,285.2 L181,284.7 L182,284.7 L183,284.5 L184,285.3 L185,285.2 L186,284.4 L187,285.3 L188,284.5 L189,286.0 L190,285.8 L191,284.7 L192,285.4 L193,285.0 L194,284.5 L195,285.4 L196,286.0 L197,285.5 L198,286.0 L199,285.4 L200,285.7 L201,284.5 L202,284.4 L203,284.5 L204,285.6 L205,285.9 L206,284.6 L207,285.1 L208,285.8 L209,285.5 L210,285.0 L211,286.0 L212,285.7 L213,284.4" stroke="#f5cbce" stroke-width="0.60"/>
<path d="M102,284.3 L103,284.2 L104,284.3 L105,284.2 L106,284.7 L107,284.6 L108,283.4 L109,284.9 L110,284.1 L111,284.6 L112,283.6 L113,283.9 L114,284.0 L115,285.0 L116,284.9 L117,284.5 L118,283.8 L119,284.0 L120,283.6 L121,284.7 L122,284.4 L123,284.6 L124,284.0 L125,283.3 L126,283.9 L127,283.7 L128,283.9 L129,283.8 L130,283.9 L131,284.8 L132,283.3 L133,283.8 L134,284.2 L135,283.8 L136,284.4 L137,284.6 L138,283.9 L139,284.5 L140,283.8 L141,284.0 L142,284.7 L143,283.4 L144,284.2 L145,284.1 L146,284.5 L147,283.5 L148,284.1 L149,283.5 L150,283.6 L151,282.8 L152,281.8 L153,280.2 L154,278.8 L155,279.0 L156,277.6 L157,277.0 L158,276.6 L159,277.1 L160,275.4 L161,276.9 L162,279.0 L163,281.9 L164,283.4 L165,284.5 L166,283.2 L167,284.1 L168,284.5 L169,283.8 L170,284.9 L171,283.4 L172,284.0 L173,283.5 L174,284.4 L175,284.7 L176,283.5 L177,284.8 L178,284.1 L179,284.8 L180,284.2 L181,284.6 L182,283.8 L183,284.0 L184,283.9 L185,284.9 L186,283.7 L187,284.6 L188,284.5 L189,284.9 L190,284.8 L191,284.3 L192,283.3 L193,285.0 L194,284.8 L195,284.4 L196,283.8 L197,283.3 L198,284.3 L199,284.9 L200,283.6 L201,283.5 L202,283.8 L203,284.8 L204,284.8 L205,284.9 L206,284.4 L207,284.3 L208,284.3 L209,284.2 L210,284.1 L211,284.8 L212,283.5 L213,284.7" stroke="#f5c8cb" stroke-width="0.60"/>
<path d="M102,283.1 L103,283.6 L104,283.8 L105,282.6 L106,282.3 L107,283.7 L108,282.2 L109,283.2 L110,282.5 L111,282.9 L112,283.4 L113,283.8 L114,283.6 L115,282.9 L116,283.8 L117,283.4 L118,283.6 L119,283.3 L120,282.2 L121,283.8 L122,283.1 L123,283.2 L124,283.6 L125,283.9 L126,283.0 L127,283.1 L128,283.2 L129,282.9 L130,282.4 L131,283.7 L132,282.6 L133,282.4 L134,282.3 L135,283.5 L136,283.1 L137,283.5 L138,283.3 L139,283.4 L140,283.7 L141,282.2 L142,282.7 L143,282.7 L144,282.9 L145,282.3 L146,283.8 L147,282.6 L148,283.0 L149,281.7 L150,282.0 L151,281.3 L152,279.3 L153,278.3 L154,277.9 L155,277.7 L156,276.0 L157,276.2 L158,274.9 L159,275.4 L160,275.8 L161,274.6 L162,277.6 L163,280.2 L164,281.3 L165,282.1 L166,283.3 L167,282.9 L168,283.3 L169,282.7 L170,282.8 L171,282.5 L172,283.5 L173,283.8 L174,283.8 L175,282.8 L176,282.4 L177,284.0 L178,283.9 L179,282.9 L180,283.5 L181,283.4 L182,283.9 L183,283.4 L184,282.3 L185,283.0 L186,282.2 L187,283.7 L188,283.6 L189,282.4 L190,283.0 L191,283.6 L192,282.8 L193,283.2 L194,282.3 L195,283.2 L196,282.2 L197,283.9 L198,283.8 L199,283.0 L200,284.0 L201,282.6 L202,284.0 L203,283.4 L204,283.0 L205,283.9 L206,283.8 L207,283.5 L208,282.7 L209,282.3 L210,283.8 L211,283.1 L212,283.3 L213,282.9" stroke="#f4c4c8" stroke-width="0.60"/>
<path d="M102,282.3 L103,281.6 L104,282.6 L105,282.3 L106,282.6 L107,281.9 L108,282.3 L109,281.7 L110,281.2 L111,281.7 L112,281.9 L113,281.5 L114,282.0 L115,281.9 L116,281.3 L117,281.2 L118,282.0 L119,282.3 L120,281.3 L121,281.5 L122,281.7 L123,282.0 L124,281.3 L125,282.8 L126,281.6 L127,282.5 L128,282.4 L129,282.7 L130,282.3 L131,282.0 L132,282.1 L133,281.5 L134,282.7 L135,281.3 L136,282.2 L137,282.0 L138,282.6 L139,282.0 L140,282.2 L141,282.4 L142,281.6 L143,283.0 L144,282.6 L145,281.5 L146,282.3 L147,281.4 L148,281.2 L149,282.1 L150,281.4 L151,279.5 L152,278.5 L153,278.8 L154,277.1 L155,276.0 L156,275.7 L157,274.5 L158,274.7 L159,275.0 L160,273.5 L161,273.7 L162,276.7 L163,279.6 L164,281.4 L165,282.0 L166,282.0 L167,282.7 L168,282.7 L169,281.4 L170,281.4 L171,281.5 L172,282.9 L173,281.7 L174,282.7 L175,281.6 L176,281.6 L177,281.7 L178,281.2 L179,282.6 L180,282.3 L181,281.6 L182,281.9 L183,282.3 L184,282.8 L185,282.3 L186,282.2 L187,281.4 L188,282.3 L189,282.7 L190,282.7 L191,281.7 L192,281.3 L193,281.5 L194,282.8 L195,282.4 L196,282.9 L197,282.4 L198,281.6 L199,282.2 L200,282.4 L201,282.1 L202,282.8 L203,281.6 L204,281.9 L205,282.7 L206,281.8 L207,281.9 L208,282.5 L209,281.6 L210,282.5 L211,282.3 L212,282.8 L213,282.4" stroke="#f4c1c6" stroke-width="0.60"/>
<path d="M102,280.6 L103,281.8 L104,281.0 L105,280.2 L106,280.8 L107,281.7 L108,280.4 L109,280.2 L110,281.1 L111,281.4 L112,281.4 L113,280.3 L114,281.4 L115,281.8 L116,280.7 L117,281.8 L118,280.5 L119,280.7 L120,280.8 L121,281.6 L122,281.2 L123,280.5 L124,281.7 L125,280.2 L126,281.6 L127,281.1 L128,281.5 L129,281.0 L130,281.8 L131,281.9 L132,280.3 L133,281.6 L134,281.2 L135,280.2 L136,280.7 L137,280.3 L138,280.3 L139,280.5 L140,280.3 L141,280.6 L142,280.9 L143,280.9 L144,281.3 L145,281.0 L146,281.7 L147,280.1 L148,280.6 L149,281.2 L150,279.3 L151,278.2 L152,277.9 L153,276.9 L154,275.8 L155,274.4 L156,275.0 L157,274.1 L158,273.7 L159,272.4 L160,273.3 L161,273.4 L162,276.1 L163,277.9 L164,279.3 L165,281.3 L166,281.3 L167,280.5 L168,281.3 L169,280.7 L170,280.5 L171,281.8 L172,281.2 L173,281.4 L174,280.4 L175,280.2 L176,281.6 L177,281.2 L178,281.8 L179,280.7 L180,281.8 L181,280.5 L182,280.9 L183,281.5 L184,281.4 L185,280.5 L186,281.1 L187,281.3 L188,280.4 L189,281.5 L190,281.7 L191,280.7 L192,280.4 L193,280.2 L194,281.2 L195,280.5 L196,281.5 L197,280.8 L198,281.4 L199,281.0 L200,281.2 L201,280.7 L202,280.4 L203,280.5 L204,281.0 L205,280.6 L206,281.7 L207,281.9 L208,281.5 L209,281.3 L210,280.2 L211,281.2 L212,280.3 L213,280.4" stroke="#f4bec3" stroke-width="0.60"/>
<path d="M102,279.8 L103,280.7 L104,280.1 L105,279.2 L106,280.0 L107,280.3 L108,280.2 L109,280.8 L110,280.9 L111,280.8 L112,279.3 L113,280.9 L114,280.6 L115,280.8 L116,279.1 L117,280.4 L118,279.6 L119,280.7 L120,279.3 L121,280.0 L122,280.1 L123,280.0 L124,280.9 L125,279.4 L126,280.0 L127,280.6 L128,280.4 L129,279.2 L130,280.6 L131,279.4 L132,280.6 L133,280.7 L134,279.8 L135,279.7 L136,279.4 L137,280.6 L138,280.7 L139,280.4 L140,280.8 L141,279.8 L142,279.3 L143,280.5 L144,280.1 L145,279.7 L146,280.4 L147,279.9 L148,279.7 L149,279.6 L150,278.1 L151,278.2 L152,276.0 L153,275.0 L154,274.2 L155,274.0 L156,273.1 L157,273.0 L158,271.7 L159,272.4 L160,271.9 L161,272.0 L162,274.0 L163,276.8 L164,279.8 L165,279.0 L166,280.8 L167,279.7 L168,279.6 L169,280.5 L170,279.8 L171,279.3 L172,279.8 L173,279.7 L174,279.8 L175,279.7 L176,280.0 L177,279.2 L178,279.2 L179,280.8 L180,280.8 L181,279.8 L182,279.7 L183,279.7 L184,279.2 L185,279.7 L186,280.6 L187,280.8 L188,279.5 L189,280.0 L190,279.4 L191,280.2 L192,279.9 L193,279.9 L194,280.3 L195,280.5 L196,279.2 L197,280.6 L198,280.8 L199,280.5 L200,280.4 L201,279.5 L202,280.8 L203,280.2 L204,280.2 L205,279.5 L206,280.3 L207,279.6 L208,280.7 L209,280.7 L210,280.3 L211,280.4 L212,280.7 L213,280.3" stroke="#f3bbc0" stroke-width="0.60"/>
<path d="M102,278.4 L103,279.4 L104,278.5 L105,279.6 L106,278.6 L107,279.8 L108,279.6 L109,279.4 L110,279.7 L111,278.5 L112,279.7 L113,279.6 L114,279.6 L115,279.5 L116,279.5 L117,279.5 L118,278.9 L119,279.8 L120,278.7 L121,279.4 L122,279.5 L123,278.4 L124,278.4 L125,279.7 L126,279.3 L127,278.6 L128,279.4 L129,279.0 L130,279.3 L131,278.9 L132,279.7 L133,279.6 L134,278.3 L135,279.5 L136,279.0 L137,278.2 L138,278.7 L139,279.5 L140,278.9 L141,278.4 L142,279.0 L143,278.3 L144,278.3 L145,278.5 L146,278.0 L147,278.7 L148,279.1 L149,278.7 L150,278.0 L151,277.3 L152,276.6 L153,274.2 L154,273.6 L155,272.9 L156,271.5 L157,271.9 L158,271.0 L159,270.2 L160,270.2 L161,271.6 L162,273.0 L163,276.3 L164,278.2 L165,278.2 L166,278.3 L167,279.7 L168,278.1 L169,278.8 L170,279.7 L171,279.0 L172,279.3 L173,279.0 L174,279.1 L175,278.3 L176,279.5 L177,278.5 L178,279.4 L179,279.8 L180,278.2 L181,279.5 L182,278.2 L183,278.3 L184,279.2 L185,279.5 L186,279.2 L187,278.4 L188,279.6 L189,278.5 L190,278.9 L191,279.8 L192,278.8 L193,278.5 L194,278.6 L195,278.5 L196,279.7 L197,278.6 L198,278.1 L199,278.1 L200,279.4 L201,279.1 L202,279.0 L203,278.4 L204,279.4 L205,279.7 L206,279.9 L207,278.5 L208,279.3 L209,278.7 L210,279.0 L211,278.6 L212,278.3 L213,279.5" stroke="#f3b8bd" stroke-width="0.60"/>
<path d="M102,277.5 L103,277.0 L104,277.4 L105,277.5 L106,277.2 L107,278.1 L108,277.5 L109,277.8 L110,278.1 L111,278.7 L112,277.3 L113,277.6 L114,277.7 L115,278.0 L116,278.1 L117,277.1 L118,278.3 L119,277.2 L120,278.7 L121,277.9 L122,277.7 L123,277.8 L124,277.9 L125,277.9 L126,278.0 L127,277.6 L128,278.0 L129,278.4 L130,277.9 L131,278.4 L132,278.4 L133,277.8 L134,278.1 L135,278.4 L136,277.6 L137,278.4 L138,278.6 L139,277.8 L140,277.1 L141,277.5 L142,278.2 L143,278.6 L144,278.2 L145,278.2 L146,278.0 L147,277.6 L148,278.0 L149,277.7 L150,277.3 L151,276.3 L152,274.7 L153,273.6 L154,272.1 L155,271.8 L156,271.2 L157,271.3 L158,269.9 L159,269.4 L160,269.4 L161,269.7 L162,271.4 L163,275.3 L164,276.6 L165,277.8 L166,278.3 L167,277.2 L168,278.7 L169,278.6 L170,278.7 L171,277.5 L172,278.2 L173,278.4 L174,277.2 L175,277.3 L176,278.7 L177,278.5 L178,278.7 L179,278.1 L180,277.9 L181,278.1 L182,278.7 L183,277.6 L184,277.3 L185,278.6 L186,277.1 L187,278.3 L188,277.6 L189,278.5 L190,278.5 L191,277.3 L192,277.8 L193,278.0 L194,277.1 L195,278.5 L196,277.9 L197,277.7 L198,277.7 L199,277.3 L200,278.6 L201,278.7 L202,278.6 L203,277.2 L204,278.6 L205,277.2 L206,277.7 L207,278.4 L208,278.2 L209,277.3 L210,277.2 L211,278.1 L212,278.7 L213,278.0" stroke="#f2b5ba" stroke-width="0.60"/>
<path d="M102,276.6 L103,276.5 L104,277.2 L105,277.0 L106,277.1 L107,276.9 L108,277.0 L109,277.3 L110,276.6 L111,276.7 L112,277.0 L113,276.8 L114,277.2 L115,276.7 L116,276.9 L117,276.9 L118,277.8 L119,276.3 L120,276.7 L121,277.4 L122,277.4 L123,276.0 L124,277.0 L125,277.3 L126,276.0 L127,277.5 L128,276.5 L129,277.6 L130,277.7 L131,276.9 L132,277.1 L133,277.1 L134,277.3 L135,276.4 L136,277.5 L137,276.8 L138,277.5 L139,277.3 L140,276.7 L141,277.6 L142,276.8 L143,276.7 L144,276.0 L145,276.2 L146,276.1 L147,276.9 L148,277.0 L149,275.2 L150,276.3 L151,274.7 L152,272.7 L153,272.2 L154,270.9 L155,269.9 L156,270.5 L157,270.1 L158,269.5 L159,269.3 L160,268.6 L161,267.9 L162,270.2 L163,273.2 L164,275.9 L165,277.1 L166,277.2 L167,276.4 L168,276.8 L169,276.1 L170,276.5 L171,277.1 L172,276.2 L173,276.2 L174,276.6 L175,277.3 L176,276.0 L177,276.8 L178,276.6 L179,276.2 L180,276.2 L181,277.2 L182,276.6 L183,276.8 L184,277.3 L185,276.4 L186,276.6 L187,276.5 L188,277.7 L189,277.5 L190,276.9 L191,276.2 L192,277.3 L193,277.1 L194,277.6 L195,277.3 L196,276.9 L197,276.1 L198,276.5 L199,276.5 L200,277.2 L201,277.4 L202,277.7 L203,276.1 L204,276.7 L205,277.1 L206,277.4 L207,277.3 L208,276.3 L209,276.2 L210,277.6 L211,276.7 L212,277.1 L213,276.1" stroke="#f2b2b7" stroke-width="0.60"/>
<path d="M102,276.5 L103,275.6 L104,276.2 L105,275.1 L106,276.3 L107,275.5 L108,275.3 L109,275.7 L110,276.7 L111,276.0 L112,275.0 L113,275.1 L114,276.4 L115,275.8 L116,275.7 L117,276.6 L118,276.7 L119,276.7 L120,275.0 L121,275.6 L122,276.6 L123,276.3 L124,275.4 L125,276.5 L126,276.6 L127,276.7 L128,276.4 L129,275.1 L130,275.1 L131,276.6 L132,275.7 L133,275.6 L134,276.3 L135,276.0 L136,275.6 L137,275.7 L138,275.7 L139,276.7 L140,275.2 L141,275.8 L142,275.8 L143,276.5 L144,276.2 L145,276.4 L146,275.7 L147,275.3 L148,275.0 L149,275.9 L150,273.7 L151,274.0 L152,271.5 L153,270.6 L154,269.5 L155,269.9 L156,268.9 L157,268.1 L158,268.6 L159,266.7 L160,267.6 L161,267.6 L162,270.0 L163,272.4 L164,274.5 L165,274.8 L166,275.0 L167,276.1 L168,276.6 L169,275.2 L170,275.8 L171,276.1 L172,276.3 L173,275.4 L174,275.6 L175,275.8 L176,276.7 L177,275.3 L178,276.5 L179,276.4 L180,275.4 L181,276.1 L182,275.7 L183,275.1 L184,275.6 L185,275.1 L186,276.1 L187,276.4 L188,275.1 L189,275.7 L190,276.5 L191,276.0 L192,276.6 L193,275.0 L194,276.0 L195,276.7 L196,275.3 L197,276.3 L198,275.5 L199,276.4 L200,275.7 L201,275.9 L202,276.2 L203,275.9 L204,276.6 L205,275.8 L206,275.3 L207,275.7 L208,276.1 L209,275.7 L210,276.1 L211,275.0 L212,275.1 L213,276.5" stroke="#f2afb4" stroke-width="0.60"/>
<path d="M102,274.8 L103,274.3 L104,275.0 L105,274.0 L106,274.1 L107,274.7 L108,274.5 L109,274.5 L110,274.1 L111,274.8 L112,274.5 L113,275.2 L114,275.6 L115,275.3 L116,274.1 L117,274.8 L118,274.2 L119,274.5 L120,275.1 L121,274.0 L122,274.1 L123,275.7 L124,274.5 L125,275.7 L126,274.0 L127,274.4 L128,274.2 L129,275.3 L130,274.3 L131,274.1 L132,275.6 L133,275.3 L134,274.7 L135,275.2 L136,275.7 L137,275.2 L138,275.5 L139,274.2 L140,275.2 L141,273.9 L142,275.5 L143,275.7 L144,275.1 L145,275.1 L146,274.3 L147,275.3 L148,274.7 L149,274.9 L150,274.2 L151,271.8 L152,271.1 L153,269.1 L154,269.3 L155,267.1 L156,267.3 L157,266.2 L158,266.8 L159,265.7 L160,265.4 L161,266.2 L162,268.1 L163,272.0 L164,273.1 L165,275.1 L166,274.0 L167,274.2 L168,274.7 L169,275.6 L170,275.6 L171,274.1 L172,274.9 L173,275.2 L174,274.9 L175,274.7 L176,275.6 L177,274.0 L178,275.1 L179,274.0 L180,275.6 L181,275.6 L182,275.5 L183,274.7 L184,274.5 L185,274.8 L186,274.9 L187,274.7 L188,274.6 L189,275.4 L190,274.3 L191,274.4 L192,274.4 L193,274.7 L194,274.7 L195,275.1 L196,274.7 L197,275.7 L198,275.0 L199,274.4 L200,275.7 L201,275.0 L202,275.5 L203,274.4 L204,274.5 L205,274.7 L206,275.0 L207,274.5 L208,275.6 L209,274.3 L210,274.9 L211,275.2 L212,275.6 L213,275.4" stroke="#f1acb1" stroke-width="0.60"/>
<path d="M102,273.7 L103,274.3 L104,274.0 L105,273.3 L106,272.9 L107,274.5 L108,273.7 L109,273.9 L110,273.4 L111,274.7 L112,274.5 L113,273.1 L114,273.9 L115,273.1 L116,273.6 L117,273.6 L118,274.5 L119,274.7 L120,273.4 L121,273.2 L122,273.4 L123,273.6 L124,272.9 L125,273.6 L126,273.5 L127,273.8 L128,274.0 L129,273.5 L130,273.6 L131,273.0 L132,273.9 L133,273.2 L134,273.3 L135,273.8 L136,274.1 L137,273.8 L138,273.9 L139,274.0 L140,273.3 L141,273.2 L142,274.2 L143,273.9 L144,273.6 L145,274.2 L146,273.1 L147,273.4 L148,272.5 L149,272.7 L150,272.6 L151,271.3 L152,270.6 L153,268.0 L154,267.8 L155,266.9 L156,266.1 L157,266.0 L158,265.0 L159,265.3 L160,265.5 L161,264.5 L162,266.9 L163,270.2 L164,272.5 L165,274.1 L166,273.9 L167,274.4 L168,273.6 L169,274.2 L170,274.6 L171,274.3 L172,273.2 L173,273.6 L174,273.3 L175,274.4 L176,274.2 L177,273.2 L178,274.0 L179,274.2 L180,274.2 L181,274.4 L182,274.4 L183,274.5 L184,273.9 L185,274.1 L186,274.0 L187,273.2 L188,273.4 L189,274.3 L190,273.5 L191,273.4 L192,273.5 L193,274.4 L194,273.6 L195,273.0 L196,274.0 L197,274.1 L198,274.2 L199,274.0 L200,273.0 L201,273.1 L202,273.8 L203,274.7 L204,274.5 L205,273.9 L206,273.3 L207,274.3 L208,274.1 L209,272.9 L210,273.0 L211,274.2 L212,274.5 L213,274.3" stroke="#f1a9ae" stroke-width="0.60"/>
<path d="M102,272.4 L103,272.1 L104,272.2 L105,272.7 L106,273.6 L107,272.5 L108,273.0 L109,272.1 L110,272.1 L111,272.7 L112,272.6 L113,272.4 L114,273.1 L115,272.2 L116,272.3 L117,272.5 L118,273.1 L119,272.5 L120,272.1 L121,273.6 L122,272.9 L123,272.5 L124,272.5 L125,271.9 L126,272.9 L127,272.0 L128,273.3 L129,273.1 L130,272.4 L131,273.2 L132,272.4 L133,272.7 L134,273.1 L135,272.2 L136,272.7 L137,272.9 L138,273.2 L139,273.6 L140,272.4 L141,273.1 L142,272.0 L143,272.7 L144,272.7 L145,272.5 L146,272.7 L147,272.2 L148,271.7 L149,272.1 L150,271.0 L151,270.8 L152,269.7 L153,268.3 L154,266.1 L155,265.4 L156,264.6 L157,264.3 L158,263.8 L159,263.5 L160,263.1 L161,265.1 L162,267.0 L163,269.1 L164,272.0 L165,272.3 L166,272.8 L167,273.0 L168,273.3 L169,272.0 L170,273.3 L171,272.6 L172,271.9 L173,272.6 L174,273.2 L175,272.5 L176,273.1 L177,272.0 L178,273.2 L179,273.0 L180,271.9 L181,272.2 L182,272.0 L183,273.4 L184,272.9 L185,273.1 L186,272.0 L187,272.1 L188,273.5 L189,271.9 L190,272.2 L191,273.0 L192,272.8 L193,272.8 L194,273.0 L195,273.3 L196,272.5 L197,272.9 L198,272.1 L199,273.5 L200,273.4 L201,272.0 L202,272.4 L203,272.0 L204,272.8 L205,272.1 L206,272.9 L207,272.5 L208,272.1 L209,271.9 L210,272.2 L211,272.9 L212,272.1 L213,272.5" stroke="#f0a6ab" stroke-width="0.60"/>
<path d="M102,271.5 L103,271.8 L104,272.6 L105,272.5 L106,271.9 L107,272.6 L108,271.0 L109,272.0 L110,272.3 L111,270.9 L112,272.5 L113,272.1 L114,272.5 L115,271.3 L116,271.1 L117,272.1 L118,271.1 L119,271.9 L120,271.4 L121,271.1 L122,271.2 L123,272.4 L124,271.1 L125,271.0 L126,271.6 L127,271.2 L128,271.8 L129,272.2 L130,272.5 L131,272.0 L132,271.4 L133,271.3 L134,271.6 L135,271.4 L136,271.8 L137,271.6 L138,272.4 L139,272.2 L140,271.9 L141,272.6 L142,272.4 L143,271.3 L144,272.4 L145,272.4 L146,272.1 L147,272.3 L148,270.5 L149,271.6 L150,270.4 L151,268.5 L152,268.3 L153,267.2 L154,265.5 L155,265.3 L156,264.2 L157,263.6 L158,263.8 L159,263.7 L160,263.3 L161,263.2 L162,265.9 L163,268.0 L164,269.9 L165,270.6 L166,271.4 L167,272.2 L168,272.0 L169,272.3 L170,271.3 L171,271.4 L172,272.4 L173,271.1 L174,272.4 L175,272.3 L176,271.4 L177,272.3 L178,272.5 L179,271.9 L180,272.2 L181,271.1 L182,272.5 L183,270.9 L184,272.0 L185,272.2 L186,272.1 L187,271.3 L188,271.9 L189,271.2 L190,271.3 L191,272.2 L192,272.3 L193,271.2 L194,272.3 L195,271.9 L196,271.7 L197,271.5 L198,272.0 L199,271.9 L200,271.1 L201,272.5 L202,272.4 L203,272.0 L204,271.9 L205,272.4 L206,271.9 L207,272.1 L208,271.6 L209,271.1 L210,272.5 L211,272.5 L212,272.1 L213,272.1" stroke="#f0a3a8" stroke-width="0.60"/>
<path d="M102,270.0 L103,271.2 L104,271.3 L105,270.4 L106,270.4 L107,269.9 L108,270.7 L109,271.5 L110,271.3 L111,270.7 L112,271.5 L113,270.9 L114,270.1 L115,270.5 L116,271.3 L117,270.9 L118,270.1 L119,270.2 L120,271.0 L121,270.8 L122,270.2 L123,270.2 L124,270.0 L125,271.4 L126,271.2 L127,271.3 L128,271.1 L129,269.9 L130,269.9 L131,271.1 L132,270.9 L133,271.3 L134,271.2 L135,270.6 L136,270.9 L137,271.5 L138,269.9 L139,270.9 L140,270.8 L141,270.7 L142,271.0 L143,270.5 L144,270.0 L145,271.1 L146,271.4 L147,270.5 L148,270.9 L149,270.4 L150,269.1 L151,268.7 L152,266.5 L153,265.2 L154,264.2 L155,263.2 L156,262.1 L157,261.6 L158,262.2 L159,261.2 L160,261.6 L161,261.7 L162,264.3 L163,267.1 L164,270.1 L165,269.5 L166,269.9 L167,269.8 L168,270.1 L169,270.9 L170,270.5 L171,271.5 L172,270.1 L173,270.4 L174,271.5 L175,270.7 L176,270.5 L177,270.8 L178,271.5 L179,271.3 L180,270.6 L181,271.3 L182,271.6 L183,270.4 L184,270.4 L185,271.4 L186,270.5 L187,269.9 L188,270.4 L189,271.1 L190,270.2 L191,270.8 L192,270.0 L193,270.6 L194,271.0 L195,269.9 L196,270.8 L197,270.2 L198,270.6 L199,271.0 L200,269.8 L201,270.6 L202,270.8 L203,271.6 L204,270.7 L205,271.4 L206,271.4 L207,271.4 L208,270.7 L209,270.1 L210,270.3 L211,270.0 L212,269.9 L213,270.6" stroke="#f0a0a5" stroke-width="0.60"/>
<path d="M102,270.1 L103,270.0 L104,270.2 L105,269.1 L106,269.0 L107,268.8 L108,269.7 L109,269.3 L110,270.1 L111,270.1 L112,269.4 L113,269.2 L114,269.7 L115,270.3 L116,270.4 L117,270.1 L118,270.0 L119,270.0 L120,268.8 L121,270.0 L122,268.8 L123,268.8 L124,269.2 L125,269.3 L126,270.1 L127,270.0 L128,269.2 L129,270.5 L130,268.8 L131,269.7 L132,270.3 L133,269.0 L134,269.9 L135,269.3 L136,269.8 L137,268.8 L138,270.1 L139,269.8 L140,269.5 L141,269.1 L142,269.0 L143,269.4 L144,269.4 L145,269.4 L146,269.1 L147,269.4 L148,268.8 L149,269.0 L150,267.8 L151,266.1 L152,265.0 L153,263.4 L154,262.9 L155,262.1 L156,261.2 L157,261.3 L158,261.3 L159,260.5 L160,260.6 L161,261.7 L162,262.4 L163,265.8 L164,267.6 L165,269.3 L166,270.1 L167,269.8 L168,270.1 L169,269.5 L170,270.5 L171,270.0 L172,270.3 L173,269.0 L174,269.1 L175,270.0 L176,269.2 L177,270.1 L178,269.8 L179,270.5 L180,269.6 L181,269.7 L182,269.4 L183,270.4 L184,269.1 L185,268.9 L186,270.5 L187,270.5 L188,269.3 L189,269.1 L190,269.5 L191,269.2 L192,269.6 L193,269.9 L194,269.6 L195,269.8 L196,269.4 L197,270.0 L198,269.5 L199,269.3 L200,269.5 L201,269.7 L202,270.0 L203,270.6 L204,269.4 L205,269.8 L206,269.1 L207,270.2 L208,270.2 L209,269.7 L210,269.2 L211,269.0 L212,269.5 L213,269.2" stroke="#ef9da2" stroke-width="0.60"/>
<path d="M102,269.3 L103,268.5 L104,269.4 L105,269.2 L106,268.7 L107,267.9 L108,269.0 L109,268.4 L110,269.5 L111,268.9 L112,268.9 L113,268.5 L114,267.9 L115,268.0 L116,268.5 L117,268.1 L118,267.7 L119,269.2 L120,268.5 L121,269.0 L122,269.5 L123,269.0 L124,268.4 L125,268.3 L126,268.3 L127,268.4 L128,267.9 L129,267.9 L130,268.3 L131,268.3 L132,269.2 L133,268.0 L134,269.3 L135,268.1 L136,267.8 L137,268.8 L138,268.2 L139,268.1 L140,268.8 L141,268.1 L142,268.0 L143,269.1 L144,269.2 L145,269.3 L146,268.1 L147,268.2 L148,268.1 L149,267.3 L150,266.5 L151,265.8 L152,263.8 L153,263.2 L154,261.7 L155,261.8 L156,260.1 L157,259.2 L158,259.9 L159,259.7 L160,260.1 L161,260.1 L162,261.7 L163,264.9 L164,266.8 L165,268.6 L166,268.6 L167,268.5 L168,269.2 L169,269.1 L170,268.5 L171,268.0 L172,268.1 L173,268.4 L174,268.3 L175,268.1 L176,267.8 L177,268.8 L178,268.6 L179,268.7 L180,269.5 L181,269.4 L182,268.4 L183,268.4 L184,269.0 L185,268.3 L186,268.1 L187,268.8 L188,268.1 L189,268.7 L190,269.1 L191,268.2 L192,267.7 L193,268.5 L194,267.9 L195,269.0 L196,267.8 L197,267.9 L198,269.0 L199,269.4 L200,268.9 L201,267.9 L202,268.3 L203,268.3 L204,269.0 L205,268.4 L206,269.3 L207,268.8 L208,267.8 L209,268.4 L210,268.0 L211,269.2 L212,267.8 L213,269.0" stroke="#ef999f" stroke-width="0.60"/>
<path d="M102,267.2 L103,268.3 L104,266.9 L105,266.8 L106,267.9 L107,267.0 L108,266.9 L109,268.2 L110,268.2 L111,268.2 L112,268.2 L113,268.0 L114,267.4 L115,268.3 L116,267.1 L117,268.3 L118,268.3 L119,268.4 L120,267.4 L121,268.4 L122,267.7 L123,267.4 L124,267.0 L125,267.8 L126,268.2 L127,267.9 L128,266.9 L129,266.7 L130,268.4 L131,267.9 L132,266.9 L133,268.1 L134,268.1 L135,266.8 L136,267.0 L137,268.3 L138,267.9 L139,268.3 L140,267.2 L141,267.0 L142,268.0 L143,268.0 L144,267.4 L145,267.4 L146,267.3 L147,267.7 L148,267.9 L149,265.8 L150,266.0 L151,265.6 L152,262.9 L153,261.3 L154,260.1 L155,260.3 L156,259.8 L157,258.0 L158,258.0 L159,258.7 L160,257.9 L161,259.0 L162,261.7 L163,265.0 L164,265.6 L165,267.8 L166,267.0 L167,267.7 L168,267.1 L169,266.9 L170,267.4 L171,266.8 L172,267.8 L173,268.1 L174,267.3 L175,267.9 L176,266.8 L177,267.5 L178,268.2 L179,267.7 L180,267.3 L181,267.2 L182,267.9 L183,268.3 L184,267.4 L185,268.4 L186,267.4 L187,266.7 L188,267.1 L189,267.9 L190,267.8 L191,268.0 L192,267.2 L193,268.3 L194,267.8 L195,268.2 L196,268.0 L197,267.0 L198,266.8 L199,267.6 L200,267.2 L201,267.9 L202,267.8 L203,268.4 L204,268.2 L205,268.2 L206,267.8 L207,267.0 L208,266.7 L209,268.2 L210,267.0 L211,267.5 L212,267.3 L213,267.8" stroke="#ee969d" stroke-width="0.60"/>
<path d="M102,267.1 L103,267.4 L104,266.8 L105,266.9 L106,265.8 L107,266.2 L108,265.8 L109,266.9 L110,266.8 L111,267.4 L112,266.6 L113,266.4 L114,266.7 L115,267.3 L116,267.0 L117,266.6 L118,266.1 L119,265.7 L120,266.5 L121,267.1 L122,267.4 L123,266.4 L124,265.8 L125,265.7 L126,267.1 L127,267.1 L128,267.0 L129,266.3 L130,266.9 L131,266.9 L132,266.9 L133,266.7 L134,267.3 L135,267.1 L136,266.4 L137,266.7 L138,267.4 L139,266.7 L140,267.4 L141,265.9 L142,266.4 L143,265.7 L144,265.7 L145,266.1 L146,266.9 L147,265.6 L148,265.4 L149,266.1 L150,264.7 L151,263.4 L152,263.1 L153,260.5 L154,259.1 L155,259.2 L156,258.6 L157,257.7 L158,257.7 L159,257.0 L160,256.9 L161,256.8 L162,260.7 L163,262.2 L164,265.3 L165,266.5 L166,267.4 L167,266.0 L168,266.9 L169,265.7 L170,267.4 L171,267.0 L172,267.3 L173,266.0 L174,267.2 L175,266.7 L176,265.9 L177,266.1 L178,266.8 L179,265.8 L180,266.0 L181,267.3 L182,267.5 L183,266.9 L184,267.3 L185,267.2 L186,266.1 L187,266.7 L188,266.2 L189,266.0 L190,267.4 L191,266.4 L192,267.1 L193,267.4 L194,266.2 L195,265.8 L196,266.8 L197,266.6 L198,266.4 L199,265.7 L200,266.1 L201,265.7 L202,266.6 L203,267.5 L204,265.9 L205,266.0 L206,265.9 L207,266.7 L208,267.5 L209,267.3 L210,265.7 L211,267.5 L212,267.0 L213,266.6" stroke="#ee939a" stroke-width="0.60"/>
<path d="M102,265.1 L103,265.6 L104,264.7 L105,266.1 L106,265.3 L107,265.4 L108,265.8 L109,266.0 L110,266.3 L111,266.1 L112,266.3 L113,266.0 L114,266.1 L115,265.5 L116,264.9 L117,266.1 L118,266.0 L119,264.7 L120,265.8 L121,266.1 L122,266.3 L123,265.8 L124,265.3 L125,265.7 L126,265.2 L127,264.8 L128,265.4 L129,265.6 L130,265.5 L131,266.0 L132,265.1 L133,265.0 L134,265.5 L135,265.4 L136,264.7 L137,266.4 L138,265.7 L139,266.3 L140,266.3 L141,265.6 L142,265.2 L143,264.7 L144,265.1 L145,265.0 L146,265.3 L147,265.4 L148,265.7 L149,265.1 L150,263.9 L151,262.5 L152,261.9 L153,260.5 L154,258.8 L155,257.7 L156,256.3 L157,256.1 L158,257.0 L159,256.4 L160,255.7 L161,257.0 L162,258.2 L163,261.1 L164,264.1 L165,265.8 L166,265.4 L167,266.4 L168,264.9 L169,265.0 L170,265.1 L171,265.4 L172,266.4 L173,265.6 L174,265.0 L175,266.0 L176,266.3 L177,266.4 L178,264.9 L179,266.0 L180,266.2 L181,265.8 L182,264.6 L183,264.7 L184,266.4 L185,264.7 L186,265.6 L187,265.6 L188,265.0 L189,265.2 L190,264.7 L191,265.5 L192,266.1 L193,265.0 L194,265.1 L195,264.6 L196,265.3 L197,266.0 L198,265.2 L199,266.2 L200,264.6 L201,265.8 L202,264.7 L203,264.9 L204,266.0 L205,266.2 L206,266.0 L207,265.5 L208,266.4 L209,265.0 L210,265.4 L211,265.5 L212,266.4 L213,265.6" stroke="#ee9097" stroke-width="0.60"/>
<path d="M102,264.4 L103,264.9 L104,263.7 L105,264.7 L106,265.3 L107,265.3 L108,264.4 L109,264.5 L110,264.4 L111,264.4 L112,264.1 L113,264.1 L114,263.6 L115,263.9 L116,264.7 L117,264.3 L118,263.7 L119,264.0 L120,264.8 L121,263.6 L122,264.2 L123,264.5 L124,264.2 L125,264.4 L126,263.6 L127,264.9 L128,264.2 L129,263.8 L130,264.8 L131,265.1 L132,263.7 L133,264.8 L134,264.1 L135,264.6 L136,265.0 L137,264.8 L138,264.9 L139,263.8 L140,265.2 L141,264.5 L142,264.1 L143,264.2 L144,264.6 L145,263.9 L146,263.6 L147,264.2 L148,264.8 L149,262.8 L150,262.6 L151,261.5 L152,260.7 L153,259.1 L154,256.8 L155,255.7 L156,254.9 L157,254.6 L158,254.6 L159,255.4 L160,255.1 L161,255.1 L162,258.5 L163,260.9 L164,262.6 L165,264.8 L166,265.1 L167,264.9 L168,264.0 L169,264.1 L170,263.8 L171,264.9 L172,264.7 L173,264.3 L174,263.6 L175,264.3 L176,264.3 L177,264.2 L178,265.1 L179,264.3 L180,264.4 L181,263.9 L182,263.7 L183,264.1 L184,264.9 L185,265.2 L186,264.8 L187,264.8 L188,264.9 L189,264.4 L190,265.0 L191,264.8 L192,264.0 L193,264.7 L194,264.9 L195,264.3 L196,264.0 L197,265.1 L198,264.9 L199,264.6 L200,265.4 L201,264.6 L202,264.6 L203,264.9 L204,265.1 L205,265.0 L206,264.2 L207,264.8 L208,264.8 L209,264.7 L210,264.1 L211,264.4 L212,264.3 L213,265.2" stroke="#ed8d94" stroke-width="0.60"/>
<path d="M102,262.9 L103,262.8 L104,264.3 L105,262.9 L106,263.5 L107,264.1 L108,262.9 L109,264.2 L110,263.8 L111,263.5 L112,264.1 L113,263.7 L114,263.8 L115,263.1 L116,263.6 L117,263.0 L118,263.9 L119,263.9 L120,263.3 L121,263.3 L122,263.9 L123,263.3 L124,263.2 L125,263.2 L126,264.0 L127,264.3 L128,262.8 L129,263.6 L130,263.2 L131,262.9 L132,263.0 L133,264.3 L134,263.9 L135,264.3 L136,262.7 L137,262.6 L138,263.5 L139,264.3 L140,262.7 L141,263.0 L142,263.8 L143,262.9 L144,263.2 L145,263.0 L146,262.5 L147,263.1 L148,263.0 L149,261.9 L150,261.6 L151,260.3 L152,259.8 L153,257.2 L154,256.6 L155,255.8 L156,253.7 L157,255.0 L158,254.1 L159,253.4 L160,253.8 L161,254.4 L162,256.4 L163,260.2 L164,261.2 L165,262.7 L166,263.7 L167,263.2 L168,263.2 L169,263.9 L170,263.4 L171,263.6 L172,263.5 L173,262.7 L174,262.9 L175,263.3 L176,262.6 L177,263.1 L178,263.7 L179,263.5 L180,263.3 L181,262.9 L182,262.6 L183,263.2 L184,262.6 L185,263.2 L186,263.7 L187,263.5 L188,262.6 L189,263.7 L190,264.1 L191,262.7 L192,262.7 L193,262.8 L194,263.5 L195,262.8 L196,263.7 L197,263.1 L198,263.9 L199,263.3 L200,264.2 L201,263.1 L202,264.1 L203,263.7 L204,263.1 L205,264.2 L206,262.6 L207,263.8 L208,262.7 L209,263.9 L210,262.7 L211,262.8 L212,262.7 L213,264.1" stroke="#ed8a91" stroke-width="0.60"/>
<path d="M102,262.4 L103,262.4 L104,262.5 L105,262.9 L106,262.1 L107,262.0 L108,263.2 L109,262.2 L110,262.0 L111,262.5 L112,262.9 L113,261.8 L114,262.0 L115,262.7 L116,261.8 L117,261.6 L118,262.0 L119,261.8 L120,262.0 L121,262.5 L122,261.6 L123,262.7 L124,262.2 L125,263.1 L126,261.6 L127,261.6 L128,262.3 L129,263.2 L130,262.9 L131,263.3 L132,261.9 L133,263.3 L134,261.6 L135,262.9 L136,262.8 L137,261.9 L138,261.7 L139,263.0 L140,262.8 L141,262.7 L142,263.2 L143,262.0 L144,261.7 L145,263.1 L146,261.8 L147,261.6 L148,262.4 L149,261.2 L150,259.9 L151,259.4 L152,258.0 L153,255.7 L154,255.7 L155,253.2 L156,252.6 L157,253.4 L158,252.0 L159,252.6 L160,252.2 L161,253.5 L162,254.9 L163,258.2 L164,261.6 L165,262.3 L166,262.4 L167,262.8 L168,261.9 L169,262.4 L170,262.8 L171,261.7 L172,262.5 L173,261.8 L174,262.1 L175,262.7 L176,263.3 L177,263.3 L178,263.0 L179,261.6 L180,263.0 L181,262.0 L182,262.8 L183,261.9 L184,262.8 L185,261.9 L186,263.1 L187,262.6 L188,261.6 L189,262.7 L190,262.7 L191,263.0 L192,262.8 L193,262.9 L194,262.0 L195,263.1 L196,262.0 L197,261.9 L198,263.1 L199,261.6 L200,261.6 L201,263.0 L202,262.4 L203,262.5 L204,262.5 L205,262.5 L206,261.9 L207,262.6 L208,263.0 L209,261.9 L210,261.8 L211,261.7 L212,262.5 L213,261.9" stroke="#ed878e" stroke-width="0.60"/>
<path d="M102,260.8 L103,262.3 L104,262.0 L105,261.1 L106,262.1 L107,261.4 L108,261.5 L109,260.9 L110,261.1 L111,262.3 L112,260.6 L113,260.6 L114,262.0 L115,261.6 L116,261.3 L117,262.3 L118,262.3 L119,260.9 L120,261.3 L121,261.0 L122,261.1 L123,261.6 L124,261.0 L125,260.9 L126,261.5 L127,262.0 L128,261.3 L129,261.0 L130,261.6 L131,261.3 L132,261.5 L133,261.5 L134,261.6 L135,262.1 L136,260.8 L137,261.1 L138,260.7 L139,262.1 L140,260.6 L141,261.7 L142,261.7 L143,261.3 L144,260.7 L145,261.5 L146,261.1 L147,261.3 L148,260.3 L149,259.6 L150,259.7 L151,258.9 L152,256.7 L153,255.3 L154,254.6 L155,252.4 L156,252.9 L157,252.4 L158,250.8 L159,252.0 L160,251.7 L161,251.7 L162,255.2 L163,257.8 L164,259.8 L165,260.9 L166,262.1 L167,260.8 L168,261.0 L169,261.4 L170,261.0 L171,260.5 L172,260.7 L173,262.2 L174,261.6 L175,261.6 L176,261.3 L177,261.5 L178,262.2 L179,260.9 L180,261.8 L181,260.9 L182,260.9 L183,261.2 L184,261.5 L185,261.7 L186,260.6 L187,261.0 L188,261.6 L189,260.6 L190,261.5 L191,262.3 L192,261.6 L193,260.6 L194,261.5 L195,261.0 L196,261.8 L197,261.4 L198,261.1 L199,260.5 L200,261.0 L201,260.6 L202,260.9 L203,262.1 L204,261.2 L205,262.3 L206,260.9 L207,260.9 L208,261.2 L209,260.7 L210,261.4 L211,260.6 L212,260.6 L213,262.1" stroke="#ec848b" stroke-width="0.60"/>
<path d="M102,260.1 L103,260.7 L104,260.8 L105,260.3 L106,260.2 L107,260.7 L108,259.9 L109,259.8 L110,260.6 L111,261.0 L112,260.0 L113,259.8 L114,260.0 L115,260.5 L116,260.8 L117,260.2 L118,259.7 L119,260.0 L120,259.6 L121,259.7 L122,260.3 L123,260.7 L124,260.8 L125,260.7 L126,260.8 L127,259.5 L128,260.2 L129,260.1 L130,260.6 L131,260.4 L132,259.5 L133,260.6 L134,259.7 L135,260.7 L136,259.9 L137,260.6 L138,260.4 L139,261.0 L140,261.1 L141,261.1 L142,260.4 L143,261.0 L144,260.6 L145,260.0 L146,260.6 L147,259.5 L148,260.5 L149,258.4 L150,259.1 L151,256.6 L152,255.4 L153,253.3 L154,252.7 L155,251.5 L156,251.7 L157,250.2 L158,251.4 L159,250.1 L160,250.0 L161,250.2 L162,252.6 L163,255.6 L164,258.7 L165,260.4 L166,261.0 L167,261.2 L168,260.6 L169,260.0 L170,260.9 L171,260.2 L172,260.6 L173,259.7 L174,260.4 L175,260.7 L176,259.5 L177,260.5 L178,260.7 L179,259.5 L180,260.7 L181,260.8 L182,259.9 L183,259.8 L184,260.6 L185,261.2 L186,259.9 L187,260.8 L188,259.5 L189,260.6 L190,260.1 L191,261.1 L192,260.8 L193,260.0 L194,260.1 L195,260.8 L196,259.9 L197,260.1 L198,260.2 L199,260.3 L200,260.1 L201,260.5 L202,260.2 L203,261.0 L204,260.5 L205,260.1 L206,260.1 L207,261.0 L208,260.3 L209,259.5 L210,260.5 L211,260.0 L212,260.7 L213,259.5" stroke="#ec8188" stroke-width="0.60"/>
<path d="M102,259.1 L103,258.6 L104,258.6 L105,259.4 L106,258.6 L107,258.5 L108,259.1 L109,259.4 L110,259.5 L111,259.5 L112,260.0 L113,260.1 L114,259.3 L115,258.5 L116,258.8 L117,259.2 L118,258.9 L119,260.2 L120,259.5 L121,259.1 L122,259.2 L123,259.1 L124,258.5 L125,259.6 L126,258.9 L127,258.8 L128,258.7 L129,259.7 L130,259.3 L131,259.8 L132,258.5 L133,259.3 L134,259.2 L135,259.5 L136,259.2 L137,258.7 L138,260.2 L139,260.1 L140,259.0 L141,258.9 L142,259.2 L143,259.0 L144,259.2 L145,259.2 L146,259.0 L147,259.9 L148,257.9 L149,258.1 L150,256.4 L151,256.6 L152,254.9 L153,252.4 L154,252.0 L155,249.8 L156,250.2 L157,250.5 L158,248.8 L159,248.6 L160,249.9 L161,250.2 L162,252.8 L163,255.9 L164,258.4 L165,258.5 L166,259.4 L167,259.4 L168,259.1 L169,259.2 L170,259.6 L171,259.6 L172,260.0 L173,260.0 L174,259.3 L175,258.5 L176,259.0 L177,259.0 L178,259.2 L179,258.7 L180,258.9 L181,259.8 L182,258.8 L183,259.5 L184,260.0 L185,259.1 L186,259.0 L187,258.5 L188,259.7 L189,259.8 L190,259.8 L191,258.6 L192,260.0 L193,258.6 L194,259.9 L195,259.3 L196,259.4 L197,259.3 L198,260.0 L199,259.1 L200,259.6 L201,259.4 L202,259.3 L203,260.2 L204,259.7 L205,259.9 L206,258.5 L207,258.6 L208,258.5 L209,260.0 L210,258.5 L211,259.2 L212,258.5 L213,259.9" stroke="#eb7e85" stroke-width="0.60"/>
<path d="M102,257.5 L103,257.9 L104,258.6 L105,258.6 L106,257.5 L107,258.5 L108,259.1 L109,258.9 L110,258.2 L111,259.1 L112,258.3 L113,259.1 L114,258.5 L115,258.5 L116,258.4 L117,259.0 L118,258.3 L119,258.6 L120,258.2 L121,257.9 L122,258.0 L123,259.2 L124,257.5 L125,258.7 L126,257.7 L127,258.7 L128,258.3 L129,258.1 L130,258.9 L131,259.2 L132,257.6 L133,257.8 L134,258.0 L135,257.8 L136,258.9 L137,257.7 L138,259.1 L139,257.7 L140,257.5 L141,258.2 L142,257.9 L143,259.0 L144,258.0 L145,257.6 L146,257.8 L147,258.1 L148,257.9 L149,257.0 L150,256.7 L151,255.3 L152,252.9 L153,251.2 L154,251.0 L155,250.0 L156,248.8 L157,248.9 L158,247.6 L159,247.9 L160,247.9 L161,249.0 L162,251.0 L163,253.9 L164,256.2 L165,258.3 L166,257.5 L167,258.8 L168,258.7 L169,258.8 L170,258.5 L171,257.8 L172,258.5 L173,258.1 L174,258.0 L175,257.7 L176,257.6 L177,258.7 L178,258.9 L179,259.1 L180,257.8 L181,259.1 L182,257.6 L183,258.5 L184,259.2 L185,258.1 L186,258.6 L187,257.7 L188,258.4 L189,257.6 L190,258.0 L191,258.8 L192,257.7 L193,258.3 L194,257.5 L195,258.8 L196,259.0 L197,258.3 L198,257.7 L199,258.0 L200,258.1 L201,258.5 L202,258.8 L203,257.6 L204,257.4 L205,258.6 L206,257.9 L207,258.0 L208,258.6 L209,258.6 L210,257.7 L211,258.6 L212,258.1 L213,257.7" stroke="#eb7a82" stroke-width="0.60"/>
<path d="M102,256.8 L103,256.5 L104,256.4 L105,257.2 L106,256.6 L107,257.3 L108,257.0 L109,256.6 L110,257.3 L111,256.5 L112,258.0 L113,257.6 L114,258.1 L115,256.9 L116,257.1 L117,256.6 L118,257.6 L119,257.7 L120,256.5 L121,257.5 L122,257.6 L123,257.4 L124,257.0 L125,257.9 L126,257.4 L127,257.2 L128,257.9 L129,258.1 L130,257.5 L131,257.5 L132,257.6 L133,258.0 L134,257.8 L135,257.4 L136,257.2 L137,257.5 L138,257.1 L139,257.1 L140,256.9 L141,257.9 L142,257.2 L143,257.3 L144,257.0 L145,257.8 L146,257.2 L147,257.6 L148,257.2 L149,255.3 L150,255.5 L151,253.1 L152,252.0 L153,249.9 L154,248.3 L155,248.8 L156,248.2 L157,246.8 L158,247.1 L159,246.6 L160,246.7 L161,248.3 L162,249.7 L163,253.7 L164,255.1 L165,256.8 L166,256.9 L167,258.0 L168,257.2 L169,257.3 L170,257.4 L171,256.4 L172,257.9 L173,257.3 L174,257.8 L175,257.7 L176,257.1 L177,257.7 L178,258.0 L179,257.8 L180,258.0 L181,256.7 L182,256.4 L183,257.8 L184,258.1 L185,257.9 L186,258.1 L187,257.9 L188,256.5 L189,257.9 L190,257.1 L191,257.8 L192,256.7 L193,257.1 L194,257.4 L195,257.0 L196,257.0 L197,258.0 L198,257.7 L199,258.1 L200,256.4 L201,257.0 L202,258.1 L203,258.1 L204,258.0 L205,256.7 L206,257.2 L207,258.2 L208,257.0 L209,257.0 L210,257.7 L211,258.0 L212,256.8 L213,257.1" stroke="#eb777f" stroke-width="0.60"/>
<path d="M102,255.6 L103,256.6 L104,256.6 L105,256.3 L106,256.8 L107,256.2 L108,257.1 L109,256.5 L110,255.5 L111,256.0 L112,255.5 L113,256.1 L114,255.5 L115,255.6 L116,256.6 L117,256.8 L118,256.0 L119,256.9 L120,256.1 L121,255.9 L122,256.3 L123,256.9 L124,255.5 L125,257.1 L126,255.5 L127,255.9 L128,255.7 L129,257.0 L130,256.2 L131,256.2 L132,256.6 L133,257.1 L134,255.7 L135,256.2 L136,256.5 L137,256.2 L138,257.0 L139,256.6 L140,256.6 L141,255.5 L142,256.0 L143,255.4 L144,255.5 L145,256.1 L146,256.9 L147,256.8 L148,256.4 L149,254.2 L150,254.8 L151,253.6 L152,250.6 L153,249.3 L154,247.9 L155,246.5 L156,245.8 L157,245.5 L158,246.5 L159,245.8 L160,246.5 L161,247.5 L162,249.2 L163,252.2 L164,254.1 L165,254.8 L166,255.3 L167,257.1 L168,255.8 L169,255.5 L170,255.5 L171,256.7 L172,256.7 L173,256.9 L174,256.2 L175,257.0 L176,257.1 L177,256.3 L178,255.4 L179,257.1 L180,256.1 L181,256.4 L182,256.0 L183,256.7 L184,256.5 L185,255.5 L186,255.8 L187,256.6 L188,256.0 L189,256.9 L190,255.5 L191,256.9 L192,255.8 L193,256.1 L194,256.5 L195,255.9 L196,256.9 L197,256.9 L198,256.9 L199,255.7 L200,256.2 L201,255.4 L202,255.9 L203,256.6 L204,256.5 L205,256.4 L206,256.2 L207,256.4 L208,255.4 L209,255.4 L210,256.7 L211,256.2 L212,255.7 L213,256.1" stroke="#ea747c" stroke-width="0.60"/>
<path d="M102,255.2 L103,255.5 L104,255.7 L105,254.4 L106,255.4 L107,255.0 L108,254.9 L109,255.9 L110,255.4 L111,255.6 L112,255.2 L113,255.6 L114,255.0 L115,255.2 L116,254.7 L117,254.5 L118,254.3 L119,254.8 L120,255.1 L121,254.5 L122,255.9 L123,255.4 L124,254.8 L125,255.7 L126,254.7 L127,255.5 L128,255.8 L129,255.8 L130,255.6 L131,255.4 L132,256.0 L133,254.4 L134,254.4 L135,254.9 L136,254.8 L137,255.3 L138,255.5 L139,255.9 L140,254.4 L141,255.1 L142,255.8 L143,255.2 L144,254.5 L145,255.0 L146,254.4 L147,254.0 L148,254.2 L149,253.3 L150,252.7 L151,252.3 L152,250.2 L153,248.4 L154,247.7 L155,245.9 L156,245.1 L157,245.4 L158,244.6 L159,244.2 L160,244.8 L161,245.6 L162,247.5 L163,251.6 L164,253.1 L165,254.9 L166,254.3 L167,255.1 L168,254.9 L169,254.7 L170,254.9 L171,255.4 L172,255.0 L173,256.0 L174,255.5 L175,254.7 L176,254.7 L177,255.8 L178,254.8 L179,255.9 L180,254.8 L181,254.5 L182,255.2 L183,255.4 L184,255.6 L185,254.6 L186,255.3 L187,255.5 L188,254.6 L189,254.9 L190,255.9 L191,256.1 L192,254.4 L193,255.9 L194,254.8 L195,255.4 L196,255.7 L197,255.6 L198,255.8 L199,255.6 L200,255.8 L201,255.5 L202,255.0 L203,255.9 L204,255.5 L205,254.8 L206,254.3 L207,255.8 L208,256.1 L209,255.7 L210,255.6 L211,255.9 L212,256.0 L213,255.4" stroke="#ea7179" stroke-width="0.60"/>
<path d="M102,254.9 L103,254.2 L104,254.1 L105,254.8 L106,254.7 L107,255.0 L108,253.9 L109,254.7 L110,255.0 L111,254.7 L112,253.6 L113,253.7 L114,254.7 L115,254.2 L116,253.6 L117,254.9 L118,253.5 L119,253.3 L120,253.9 L121,253.8 L122,254.9 L123,253.9 L124,254.4 L125,254.9 L126,253.4 L127,253.6 L128,254.6 L129,254.9 L130,253.9 L131,254.9 L132,254.4 L133,254.4 L134,253.5 L135,254.6 L136,254.1 L137,253.5 L138,253.5 L139,253.7 L140,254.1 L141,253.5 L142,253.6 L143,254.7 L144,254.7 L145,254.7 L146,254.3 L147,254.1 L148,252.9 L149,253.4 L150,252.5 L151,250.7 L152,248.9 L153,246.3 L154,244.8 L155,244.3 L156,244.8 L157,243.5 L158,244.4 L159,244.4 L160,243.3 L161,244.4 L162,247.4 L163,250.2 L164,252.5 L165,253.1 L166,253.3 L167,254.2 L168,254.2 L169,254.6 L170,253.7 L171,254.1 L172,253.6 L173,254.5 L174,254.5 L175,253.8 L176,253.6 L177,253.4 L178,253.3 L179,255.0 L180,254.6 L181,254.1 L182,254.8 L183,253.5 L184,255.0 L185,253.6 L186,254.4 L187,254.3 L188,254.2 L189,253.6 L190,254.2 L191,255.0 L192,254.6 L193,254.4 L194,254.9 L195,253.7 L196,253.4 L197,253.7 L198,253.8 L199,254.4 L200,254.8 L201,254.5 L202,254.6 L203,254.4 L204,254.2 L205,253.6 L206,254.3 L207,253.6 L208,253.6 L209,254.2 L210,253.6 L211,254.1 L212,254.3 L213,253.7" stroke="#e96e76" stroke-width="0.60"/>
<path d="M102,253.9 L103,253.1 L104,252.3 L105,252.5 L106,252.6 L107,253.3 L108,253.7 L109,252.5 L110,252.8 L111,253.8 L112,253.8 L113,253.5 L114,253.4 L115,254.0 L116,253.6 L117,252.6 L118,253.1 L119,254.0 L120,252.7 L121,253.8 L122,253.6 L123,253.4 L124,252.4 L125,252.2 L126,253.4 L127,253.7 L128,253.2 L129,252.6 L130,253.8 L131,253.3 L132,252.6 L133,253.6 L134,253.4 L135,253.5 L136,252.9 L137,252.8 L138,252.9 L139,253.4 L140,253.4 L141,252.9 L142,252.6 L143,252.9 L144,253.2 L145,252.4 L146,252.4 L147,253.5 L148,252.2 L149,251.7 L150,250.1 L151,249.4 L152,247.1 L153,245.1 L154,244.5 L155,243.3 L156,243.0 L157,242.4 L158,242.0 L159,243.1 L160,243.2 L161,242.7 L162,246.4 L163,249.2 L164,251.9 L165,252.6 L166,252.5 L167,253.8 L168,253.5 L169,252.6 L170,252.8 L171,252.5 L172,252.9 L173,254.0 L174,253.0 L175,253.1 L176,253.8 L177,253.0 L178,252.8 L179,253.1 L180,252.8 L181,252.7 L182,253.3 L183,252.2 L184,252.6 L185,252.3 L186,252.8 L187,253.1 L188,252.6 L189,252.2 L190,253.3 L191,254.0 L192,252.4 L193,253.0 L194,252.6 L195,253.2 L196,253.2 L197,253.7 L198,252.5 L199,253.1 L200,252.4 L201,253.3 L202,252.7 L203,253.4 L204,253.3 L205,252.7 L206,254.0 L207,253.6 L208,253.9 L209,253.6 L210,252.7 L211,252.9 L212,253.2 L213,253.6" stroke="#e96b73" stroke-width="0.60"/>
<path d="M102,252.2 L103,252.9 L104,252.2 L105,251.2 L106,252.8 L107,252.4 L108,252.9 L109,252.6 L110,252.0 L111,252.1 L112,251.5 L113,252.0 L114,252.7 L115,251.9 L116,251.9 L117,252.9 L118,251.5 L119,251.4 L120,251.4 L121,252.4 L122,252.4 L123,252.8 L124,252.3 L125,252.9 L126,251.2 L127,251.5 L128,252.5 L129,251.8 L130,252.6 L131,251.4 L132,251.7 L133,251.5 L134,251.6 L135,251.5 L136,251.7 L137,252.3 L138,253.0 L139,252.7 L140,252.7 L141,251.2 L142,251.8 L143,252.2 L144,252.6 L145,252.9 L146,251.2 L147,252.0 L148,251.4 L149,251.1 L150,249.6 L151,247.5 L152,246.1 L153,245.6 L154,242.7 L155,243.0 L156,242.5 L157,241.4 L158,240.7 L159,242.0 L160,241.2 L161,241.8 L162,243.9 L163,247.5 L164,250.8 L165,252.1 L166,251.3 L167,252.4 L168,251.7 L169,252.6 L170,251.6 L171,252.8 L172,251.5 L173,251.6 L174,251.4 L175,251.8 L176,252.9 L177,252.4 L178,252.3 L179,251.9 L180,252.9 L181,252.0 L182,252.8 L183,251.5 L184,252.2 L185,251.9 L186,252.5 L187,251.5 L188,251.3 L189,252.5 L190,251.3 L191,251.7 L192,252.5 L193,252.6 L194,252.5 L195,251.6 L196,253.0 L197,251.7 L198,252.6 L199,252.5 L200,251.3 L201,251.7 L202,252.2 L203,252.9 L204,252.0 L205,251.7 L206,252.9 L207,253.0 L208,251.4 L209,252.7 L210,252.5 L211,252.1 L212,252.0 L213,251.8" stroke="#e96870" stroke-width="0.60"/>
<path d="M102,250.7 L103,250.6 L104,250.2 L105,250.3 L106,250.6 L107,250.4 L108,251.1 L109,250.5 L110,250.9 L111,250.7 L112,250.4 L113,251.0 L114,251.5 L115,250.6 L116,250.8 L117,250.7 L118,250.9 L119,250.5 L120,250.5 L121,250.8 L122,250.8 L123,251.5 L124,250.9 L125,251.6 L126,250.5 L127,251.3 L128,250.8 L129,250.4 L130,251.2 L131,250.7 L132,251.0 L133,251.5 L134,250.7 L135,251.2 L136,251.8 L137,251.8 L138,250.3 L139,251.4 L140,251.4 L141,251.7 L142,251.6 L143,250.3 L144,251.8 L145,251.1 L146,251.6 L147,251.5 L148,249.9 L149,249.0 L150,247.9 L151,247.8 L152,245.1 L153,243.2 L154,241.4 L155,240.5 L156,240.7 L157,239.8 L158,240.4 L159,240.6 L160,239.8 L161,240.8 L162,243.2 L163,246.6 L164,249.2 L165,250.5 L166,251.2 L167,251.0 L168,251.0 L169,251.0 L170,251.1 L171,250.3 L172,251.5 L173,250.7 L174,251.9 L175,251.2 L176,250.4 L177,251.9 L178,251.9 L179,251.2 L180,250.2 L181,252.0 L182,251.7 L183,251.0 L184,251.1 L185,251.7 L186,250.2 L187,250.4 L188,250.3 L189,251.5 L190,250.5 L191,251.9 L192,250.7 L193,250.6 L194,251.9 L195,251.0 L196,250.5 L197,251.3 L198,251.0 L199,251.4 L200,250.5 L201,251.0 L202,250.5 L203,250.5 L204,250.5 L205,251.7 L206,250.6 L207,250.3 L208,250.7 L209,250.9 L210,251.4 L211,251.5 L212,251.2 L213,251.1" stroke="#e8656d" stroke-width="0.60"/>
<path d="M102,250.1 L103,249.9 L104,249.5 L105,249.2 L106,249.7 L107,250.3 L108,249.2 L109,249.7 L110,250.9 L111,249.9 L112,249.5 L113,250.1 L114,249.2 L115,249.4 L116,250.1 L117,250.3 L118,249.8 L119,249.9 L120,249.4 L121,249.3 L122,249.9 L123,250.5 L124,249.5 L125,250.4 L126,250.6 L127,250.8 L128,249.4 L129,250.9 L130,249.2 L131,250.1 L132,250.4 L133,249.9 L134,249.6 L135,250.3 L136,249.3 L137,249.5 L138,250.6 L139,249.8 L140,250.0 L141,250.7 L142,250.0 L143,250.0 L144,250.8 L145,250.0 L146,249.9 L147,249.6 L148,249.4 L149,248.0 L150,248.5 L151,245.3 L152,243.7 L153,243.1 L154,241.2 L155,240.7 L156,239.7 L157,239.8 L158,238.8 L159,239.5 L160,239.2 L161,239.2 L162,242.1 L163,245.5 L164,248.7 L165,250.1 L166,250.8 L167,250.0 L168,250.2 L169,250.7 L170,249.5 L171,249.3 L172,249.8 L173,250.2 L174,249.7 L175,249.4 L176,250.1 L177,250.1 L178,250.7 L179,250.8 L180,250.9 L181,249.2 L182,249.3 L183,249.9 L184,249.2 L185,249.9 L186,249.8 L187,250.8 L188,250.8 L189,250.8 L190,249.8 L191,249.5 L192,250.0 L193,250.3 L194,249.2 L195,249.2 L196,249.6 L197,249.8 L198,249.6 L199,250.3 L200,250.4 L201,249.6 L202,249.3 L203,250.1 L204,250.2 L205,250.6 L206,249.6 L207,249.7 L208,250.3 L209,249.3 L210,249.6 L211,250.2 L212,250.1 L213,250.7" stroke="#e8626a" stroke-width="0.60"/>
<path d="M102,248.8 L103,248.8 L104,248.3 L105,249.7 L106,249.7 L107,248.2 L108,249.8 L109,249.1 L110,248.8 L111,248.8 L112,248.4 L113,249.1 L114,249.1 L115,249.3 L116,248.8 L117,248.2 L118,249.5 L119,249.0 L120,249.2 L121,249.5 L122,248.7 L123,249.8 L124,249.5 L125,249.6 L126,249.0 L127,248.8 L128,248.4 L129,249.6 L130,249.7 L131,249.2 L132,249.6 L133,249.0 L134,249.8 L135,248.3 L136,249.8 L137,249.5 L138,248.3 L139,249.4 L140,249.2 L141,249.5 L142,248.4 L143,248.4 L144,248.9 L145,249.1 L146,248.7 L147,249.5 L148,248.2 L149,247.4 L150,246.2 L151,244.7 L152,243.8 L153,241.8 L154,238.9 L155,238.0 L156,237.9 L157,237.9 L158,237.3 L159,237.9 L160,238.1 L161,239.6 L162,241.3 L163,243.7 L164,246.2 L165,249.0 L166,249.6 L167,249.2 L168,249.3 L169,248.6 L170,249.2 L171,248.2 L172,249.8 L173,249.2 L174,249.8 L175,249.3 L176,249.8 L177,249.7 L178,248.8 L179,248.4 L180,249.4 L181,248.4 L182,248.3 L183,249.0 L184,249.7 L185,249.5 L186,249.6 L187,249.7 L188,249.7 L189,248.3 L190,248.8 L191,248.6 L192,249.1 L193,248.9 L194,248.7 L195,249.2 L196,248.1 L197,249.0 L198,249.6 L199,248.3 L200,248.3 L201,249.4 L202,249.3 L203,248.9 L204,249.7 L205,249.5 L206,248.4 L207,249.3 L208,248.9 L209,249.3 L210,248.4 L211,249.2 L212,249.8 L213,249.5" stroke="#e85f68" stroke-width="0.60"/>
</g>
<rect x="102.5" y="235.5" width="110.0" height="150.0" fill="none" stroke="#484848" stroke-width="1"/>
<line x1="146.7" y1="235.5" x2="146.7" y2="385.5" stroke="#111" stroke-width="1.2" stroke-dasharray="1.2 1.35"/>
<line x1="163" y1="235.5" x2="163" y2="385.5" stroke="#111" stroke-width="1.2" stroke-dasharray="1.2 1.35"/>
<text x="106" y="244.4" font-size="9" text-anchor="start" font-weight="normal" fill="#111" >0.43°</text>
<line x1="128.8" y1="238.3" x2="145.5" y2="238.3" stroke="#111" stroke-width="0.8"/><path d="M146.2,238.3 L141.5,236.6 L141.5,240 Z" fill="#111"/>
<line x1="164.5" y1="237.6" x2="180" y2="237.6" stroke="#111" stroke-width="0.8"/><path d="M163.8,237.6 L168.5,235.9 L168.5,239.3 Z" fill="#111"/>
<text x="209.5" y="245.7" font-size="9" text-anchor="end" font-weight="normal" fill="#111" >003</text>
<line x1="102.5" y1="385.5" x2="102.5" y2="388.1" stroke="#484848" stroke-width="0.8"/>
<text x="102.5" y="396.6" font-size="7.8" text-anchor="middle" font-weight="normal" fill="#000" >17</text>
<line x1="120.86" y1="385.5" x2="120.86" y2="387.1" stroke="#484848" stroke-width="0.8"/>
<line x1="139.23" y1="385.5" x2="139.23" y2="388.1" stroke="#484848" stroke-width="0.8"/>
<text x="139.23" y="396.6" font-size="7.8" text-anchor="middle" font-weight="normal" fill="#000" >18</text>
<line x1="157.59" y1="385.5" x2="157.59" y2="387.1" stroke="#484848" stroke-width="0.8"/>
<line x1="175.96" y1="385.5" x2="175.96" y2="388.1" stroke="#484848" stroke-width="0.8"/>
<text x="175.96" y="396.6" font-size="7.8" text-anchor="middle" font-weight="normal" fill="#000" >19</text>
<line x1="194.32" y1="385.5" x2="194.32" y2="387.1" stroke="#484848" stroke-width="0.8"/>
<line x1="212.69" y1="385.5" x2="212.69" y2="388.1" stroke="#484848" stroke-width="0.8"/>
<text x="212.69" y="396.6" font-size="7.8" text-anchor="middle" font-weight="normal" fill="#000" >20</text>
<filter id="hmNoise" x="0" y="0" width="1" height="1" color-interpolation-filters="sRGB"><feTurbulence type="fractalNoise" baseFrequency="0.5 0.12" numOctaves="2" seed="12"/><feColorMatrix type="matrix" values="0 0 0 0 1  0 0 0 0 1  0 0 0 0 1  0.8 0 0 0 -0.36"/></filter>
<filter id="bl2" x="-20%" y="-5%" width="140%" height="110%"><feGaussianBlur stdDeviation="2"/></filter>
<filter id="bl1" x="-20%" y="-5%" width="140%" height="110%"><feGaussianBlur stdDeviation="0.9"/></filter>
<filter id="bl05" x="-20%" y="-5%" width="140%" height="110%"><feGaussianBlur stdDeviation="0.5"/></filter>
<linearGradient id="redUp" x1="0" x2="0" y1="0" y2="1"><stop offset="0" stop-color="#f06a6a" stop-opacity="0"/><stop offset="0.35" stop-color="#f07070" stop-opacity="0.45"/><stop offset="1" stop-color="#ee5a5a" stop-opacity="1"/></linearGradient>
<linearGradient id="wFade1" gradientUnits="userSpaceOnUse" x1="0" y1="236" x2="0" y2="386"><stop offset="0" stop-color="#fff" stop-opacity="1"/><stop offset="0.3" stop-color="#fff" stop-opacity="0.9"/><stop offset="0.6" stop-color="#fff" stop-opacity="0.75"/><stop offset="1" stop-color="#fff" stop-opacity="0.45"/></linearGradient>
<clipPath id="cph217"><rect x="217.5" y="236.5" width="79.0" height="150.0"/></clipPath>
<g clip-path="url(#cph217)">
<rect x="217.5" y="236.5" width="79.0" height="150.0" fill="#9e9cff"/>
<rect x="217.5" y="236.5" width="79.0" height="150.0" filter="url(#hmNoise)"/>
<rect x="217.6" y="236" width="25" height="151" fill="#a6a4ff"/>
<rect x="217.5" y="236.5" width="26" height="150" filter="url(#hmNoise)"/>
<rect x="276.6" y="230" width="1.4" height="160" fill="#c4c3ff" filter="url(#bl05)"/>
<rect x="292" y="230" width="6" height="160" fill="#b0aeff" filter="url(#bl1)"/>
<path d="M246.95,230 L246.92,233 L246.89,236 L246.84,239 L246.78,242 L246.7,245 L246.59,248 L246.46,251 L246.3,254 L246.1,257 L245.87,260 L245.61,263 L245.32,266 L245.01,269 L244.68,272 L244.35,275 L244.03,278 L243.73,281 L243.47,284 L243.26,287 L243.1,290 L243.02,293 L243,296 L243.07,299 L243.2,302 L243.39,305 L243.64,308 L243.93,311 L244.25,314 L244.57,317 L244.9,320 L245.22,323 L245.52,326 L245.79,329 L246.1,332 L246.41,335 L246.69,338 L246.94,341 L247.17,344 L247.36,347 L247.54,350 L247.7,353 L247.84,356 L247.98,359 L248.1,362 L248.22,365 L248.34,368 L248.45,371 L248.57,374 L248.67,377 L248.78,380 L248.89,383 L249,386 L249.11,389 L249.21,392 L255.8,392 L255.8,389 L255.8,386 L255.8,383 L255.8,380 L255.8,377 L255.8,374 L255.8,371 L255.8,368 L255.8,365 L255.8,362 L255.8,359 L255.8,356 L255.8,353 L255.8,350 L255.8,347 L255.8,344 L255.8,341 L255.8,338 L255.8,335 L255.8,332 L255.8,329 L255.8,326 L255.8,323 L255.8,320 L255.8,317 L255.8,314 L255.8,311 L255.8,308 L255.8,305 L255.8,302 L255.8,299 L255.8,296 L255.8,293 L255.8,290 L255.8,287 L255.8,284 L255.8,281 L255.8,278 L255.8,275 L255.8,272 L255.8,269 L255.8,266 L255.8,263 L255.8,260 L255.8,257 L255.8,254 L255.8,251 L255.8,248 L255.8,245 L255.8,242 L255.8,239 L255.8,236 L255.8,233 L255.8,230 Z" fill="#ffffff" opacity="0.4" filter="url(#bl2)"/>
<path d="M249.44,230 L249.43,233 L249.4,236 L249.38,239 L249.34,242 L249.3,245 L249.26,248 L249.2,251 L249.15,254 L249.08,257 L249.01,260 L248.94,263 L248.87,266 L248.8,269 L248.73,272 L248.66,275 L248.61,278 L248.56,281 L248.53,284 L248.51,287 L248.5,290 L248.51,293 L248.53,296 L248.56,299 L248.61,302 L248.66,305 L248.73,308 L248.8,311 L248.87,314 L248.94,317 L249.01,320 L249.08,323 L249.15,326 L249.2,329 L249.29,332 L249.39,335 L249.48,338 L249.57,341 L249.65,344 L249.73,347 L249.8,350 L249.87,353 L249.93,356 L250,359 L250.06,362 L250.11,365 L250.17,368 L250.23,371 L250.28,374 L250.34,377 L250.39,380 L250.45,383 L250.5,386 L250.55,389 L250.61,392 L255.9,392 L255.9,389 L255.9,386 L255.9,383 L255.9,380 L255.9,377 L255.9,374 L255.9,371 L255.9,368 L255.9,365 L255.9,362 L255.9,359 L255.9,356 L255.9,353 L255.9,350 L255.9,347 L255.9,344 L255.9,341 L255.9,338 L255.9,335 L255.9,332 L255.9,329 L255.9,326 L255.9,323 L255.9,320 L255.9,317 L255.9,314 L255.9,311 L255.9,308 L255.9,305 L255.9,302 L255.9,299 L255.9,296 L255.9,293 L255.9,290 L255.9,287 L255.9,284 L255.9,281 L255.9,278 L255.9,275 L255.9,272 L255.9,269 L255.9,266 L255.9,263 L255.9,260 L255.9,257 L255.9,254 L255.9,251 L255.9,248 L255.9,245 L255.9,242 L255.9,239 L255.9,236 L255.9,233 L255.9,230 Z" fill="url(#wFade1)" opacity="1" filter="url(#bl1)"/>
<path d="M254.8,270 L254.8,273 L254.79,276 L254.75,279 L254.71,282 L254.67,285 L254.64,288 L254.6,291 L254.56,294 L254.52,297 L254.48,300 L254.45,303 L254.41,306 L254.37,309 L254.33,312 L254.3,315 L254.26,318 L254.22,321 L254.18,324 L254.14,327 L254.11,330 L254.07,333 L254.03,336 L253.99,339 L253.95,342 L253.92,345 L253.88,348 L253.84,351 L253.8,354 L253.77,357 L253.73,360 L253.69,363 L253.65,366 L253.61,369 L253.58,372 L253.54,375 L253.5,378 L253.46,381 L253.43,384 L253.39,387 L253.35,390 L253.32,392 L255.9,392 L255.9,390 L255.9,387 L255.9,384 L255.9,381 L255.9,378 L255.9,375 L255.9,372 L255.9,369 L255.9,366 L255.9,363 L255.9,360 L255.9,357 L255.9,354 L255.9,351 L255.9,348 L255.9,345 L255.9,342 L255.9,339 L255.9,336 L255.9,333 L255.9,330 L255.9,327 L255.9,324 L255.9,321 L255.9,318 L255.9,315 L255.9,312 L255.9,309 L255.9,306 L255.9,303 L255.9,300 L255.9,297 L255.9,294 L255.9,291 L255.9,288 L255.9,285 L255.9,282 L255.9,279 L255.9,276 L255.9,273 L255.9,270 Z" fill="url(#redUp)" opacity="0.9" filter="url(#bl05)"/>
</g>
<rect x="217.5" y="236.5" width="79.0" height="150.0" fill="none" stroke="#5a5a6a" stroke-width="1"/>
<line x1="240.07" y1="386.5" x2="240.07" y2="388.9" stroke="#555" stroke-width="0.8"/>
<text x="240.07" y="396.3" font-size="7.2" text-anchor="middle" font-weight="normal" fill="#222" >18</text>
<line x1="262.64" y1="386.5" x2="262.64" y2="388" stroke="#555" stroke-width="0.8"/>
<line x1="285.21" y1="386.5" x2="285.21" y2="388.9" stroke="#555" stroke-width="0.8"/>
<text x="285.21" y="396.3" font-size="7.2" text-anchor="middle" font-weight="normal" fill="#222" >20</text>
<text x="255.5" y="385.8" font-size="7.3" text-anchor="middle" font-weight="normal" fill="#222" >003</text>
<clipPath id="cph303"><rect x="303.5" y="235.5" width="80.0" height="151.0"/></clipPath>
<g clip-path="url(#cph303)">
<rect x="303.5" y="235.5" width="80.0" height="151.0" fill="#8a86ff"/>
<rect x="303.5" y="235.5" width="80.0" height="151.0" filter="url(#hmNoise)"/>
<path d="M331.8,230 L331.8,233 L331.8,236 L331.8,239 L331.81,242 L331.82,245 L331.84,248 L331.89,251 L331.96,254 L332.09,257 L332.28,260 L332.55,263 L332.9,266 L333.32,269 L333.77,272 L334.2,275 L334.55,278 L334.76,281 L334.79,284 L334.64,287 L334.33,290 L333.92,293 L333.47,296 L333.04,299 L332.67,302 L332.41,305 L332.26,308 L332.26,311 L332.39,314 L332.65,317 L332.96,320 L333.21,323 L333.3,326 L333.2,329 L332.93,332 L332.6,335 L332.14,338 L331.76,341 L331.48,344 L331.26,347 L331.08,350 L330.92,353 L330.77,356 L330.62,359 L330.48,362 L330.33,365 L330.18,368 L330.04,371 L329.89,374 L329.74,377 L329.59,380 L329.45,383 L329.3,386 L329.15,389 L329.01,392 L338.01,392 L338.15,389 L338.3,386 L338.45,383 L338.59,380 L338.74,377 L338.89,374 L339.04,371 L339.18,368 L339.33,365 L339.48,362 L339.62,359 L339.77,356 L339.92,353 L340.08,350 L340.26,347 L340.48,344 L340.76,341 L341.14,338 L341.6,335 L341.93,332 L342.2,329 L342.31,326 L342.22,323 L341.98,320 L341.69,317 L341.46,314 L341.39,311 L341.49,308 L341.78,305 L342.24,302 L342.86,299 L343.58,296 L344.33,293 L345.02,290 L345.53,287 L345.78,284 L345.73,281 L345.38,278 L344.8,275 L344.08,272 L343.33,269 L342.63,266 L342.05,263 L341.6,260 L341.28,257 L341.07,254 L340.94,251 L340.87,248 L340.83,245 L340.81,242 L340.81,239 L340.8,236 L340.8,233 L340.8,230 Z" fill="#ffffff" opacity="0.5" filter="url(#bl2)"/>
<path d="M334.3,230 L334.3,233 L334.3,236 L334.3,239 L334.31,242 L334.32,245 L334.34,248 L334.39,251 L334.46,254 L334.59,257 L334.78,260 L335.05,263 L335.4,266 L335.82,269 L336.27,272 L336.7,275 L337.05,278 L337.26,281 L337.29,284 L337.14,287 L336.83,290 L336.42,293 L335.97,296 L335.54,299 L335.17,302 L334.91,305 L334.76,308 L334.76,311 L334.89,314 L335.15,317 L335.46,320 L335.71,323 L335.8,326 L335.7,329 L335.43,332 L335.1,335 L334.64,338 L334.26,341 L333.98,344 L333.76,347 L333.58,350 L333.42,353 L333.27,356 L333.12,359 L332.98,362 L332.83,365 L332.68,368 L332.54,371 L332.39,374 L332.24,377 L332.09,380 L331.95,383 L331.8,386 L331.65,389 L331.51,392 L335.51,392 L335.65,389 L335.8,386 L335.95,383 L336.09,380 L336.24,377 L336.39,374 L336.54,371 L336.68,368 L336.83,365 L336.98,362 L337.12,359 L337.27,356 L337.42,353 L337.58,350 L337.76,347 L337.98,344 L338.26,341 L338.64,338 L339.1,335 L339.43,332 L339.7,329 L339.8,326 L339.71,323 L339.46,320 L339.15,317 L338.89,314 L338.76,311 L338.76,308 L338.91,305 L339.17,302 L339.54,299 L339.97,296 L340.42,293 L340.83,290 L341.14,287 L341.29,284 L341.26,281 L341.05,278 L340.7,275 L340.27,272 L339.82,269 L339.4,266 L339.05,263 L338.78,260 L338.59,257 L338.46,254 L338.39,251 L338.34,248 L338.32,245 L338.31,242 L338.3,239 L338.3,236 L338.3,233 L338.3,230 Z" fill="#ffffff" opacity="0.72" filter="url(#bl1)"/>
<path d="M330.9,325 L330.9,328 L330.89,331 L330.86,334 L330.84,337 L330.81,340 L330.78,343 L330.76,346 L330.73,349 L330.7,352 L330.68,355 L330.65,358 L330.62,361 L330.6,364 L330.57,367 L330.54,370 L330.52,373 L330.49,376 L330.46,379 L330.44,382 L330.41,385 L330.38,388 L330.36,391 L330.35,392 L332.45,392 L332.44,391 L332.42,388 L332.39,385 L332.36,382 L332.34,379 L332.31,376 L332.28,373 L332.26,370 L332.23,367 L332.2,364 L332.18,361 L332.15,358 L332.12,355 L332.1,352 L332.07,349 L332.04,346 L332.02,343 L331.99,340 L331.96,337 L331.94,334 L331.91,331 L331.9,328 L331.9,325 Z" fill="url(#redUp)" opacity="1" filter="url(#bl05)"/>
<path d="M359.8,230 L359.8,233 L359.8,236 L359.8,239 L359.8,242 L359.8,245 L359.8,248 L359.8,251 L359.8,254 L359.8,257 L359.8,260 L359.8,263 L359.8,266 L359.8,269 L359.8,272 L359.8,275 L359.8,278 L359.8,281 L359.8,284 L359.8,287 L359.8,290 L359.8,293 L359.8,296 L359.8,299 L359.8,302 L359.8,305 L359.8,308 L359.8,311 L359.8,314 L359.8,317 L359.8,320 L359.8,323 L359.8,326 L359.8,329 L359.8,332 L359.8,335 L359.8,338 L359.8,341 L359.8,344 L359.8,347 L359.8,350 L359.8,353 L359.8,356 L359.8,359 L359.8,362 L359.8,365 L359.8,368 L359.8,371 L359.8,374 L359.8,377 L359.8,380 L359.8,383 L359.8,386 L359.8,389 L359.8,392 L366.3,392 L366.3,389 L366.3,386 L366.3,383 L366.3,380 L366.3,377 L366.3,374 L366.3,371 L366.3,368 L366.3,365 L366.3,362 L366.3,359 L366.3,356 L366.3,353 L366.3,350 L366.3,347 L366.3,344 L366.3,341 L366.3,338 L366.3,335 L366.3,332 L366.3,329 L366.3,326 L366.3,323 L366.3,320 L366.3,317 L366.3,314 L366.3,311 L366.3,308 L366.3,305 L366.3,302 L366.3,299 L366.3,296 L366.3,293 L366.3,290 L366.3,287 L366.3,284 L366.3,281 L366.3,278 L366.3,275 L366.3,272 L366.3,269 L366.3,266 L366.3,263 L366.3,260 L366.3,257 L366.3,254 L366.3,251 L366.3,248 L366.3,245 L366.3,242 L366.3,239 L366.3,236 L366.3,233 L366.3,230 Z" fill="#ffffff" opacity="0.35" filter="url(#bl1)"/>
<path d="M362,230 L362,233 L362,236 L362,239 L362,242 L362,245 L362,248 L362,251 L362,254 L362,257 L362,260 L362,263 L362,266 L362,269 L362,272 L362,275 L362,278 L362,281 L362,284 L362,287 L362,290 L362,293 L362,296 L362,299 L362,302 L362,305 L362,308 L362,311 L362,314 L362,317 L362,320 L362,323 L362,326 L362,329 L362,332 L362,335 L362,338 L362,341 L362,344 L362,347 L362,350 L362,353 L362,356 L362,359 L362,362 L362,365 L362,368 L362,371 L362,374 L362,377 L362,380 L362,383 L362,386 L362,389 L362,392 L364.4,392 L364.4,389 L364.4,386 L364.4,383 L364.4,380 L364.4,377 L364.4,374 L364.4,371 L364.4,368 L364.4,365 L364.4,362 L364.4,359 L364.4,356 L364.4,353 L364.4,350 L364.4,347 L364.4,344 L364.4,341 L364.4,338 L364.4,335 L364.4,332 L364.4,329 L364.4,326 L364.4,323 L364.4,320 L364.4,317 L364.4,314 L364.4,311 L364.4,308 L364.4,305 L364.4,302 L364.4,299 L364.4,296 L364.4,293 L364.4,290 L364.4,287 L364.4,284 L364.4,281 L364.4,278 L364.4,275 L364.4,272 L364.4,269 L364.4,266 L364.4,263 L364.4,260 L364.4,257 L364.4,254 L364.4,251 L364.4,248 L364.4,245 L364.4,242 L364.4,239 L364.4,236 L364.4,233 L364.4,230 Z" fill="#ffffff" opacity="0.55" filter="url(#bl05)"/>
</g>
<rect x="303.5" y="235.5" width="80.0" height="151.0" fill="none" stroke="#5a5a6a" stroke-width="1"/>
<line x1="321.28" y1="386.5" x2="321.28" y2="388.9" stroke="#555" stroke-width="0.8"/>
<text x="321.28" y="396.3" font-size="7.2" text-anchor="middle" font-weight="normal" fill="#222" >36</text>
<line x1="339.06" y1="386.5" x2="339.06" y2="388" stroke="#555" stroke-width="0.8"/>
<line x1="356.83" y1="386.5" x2="356.83" y2="388.9" stroke="#555" stroke-width="0.8"/>
<text x="356.83" y="396.3" font-size="7.2" text-anchor="middle" font-weight="normal" fill="#222" >38</text>
<line x1="374.61" y1="386.5" x2="374.61" y2="388" stroke="#555" stroke-width="0.8"/>
<text x="331.4" y="385.8" font-size="7.3" text-anchor="middle" font-weight="normal" fill="#222" >101</text>
<text x="362.6" y="385.8" font-size="7.3" text-anchor="middle" font-weight="normal" fill="#222" >102</text>
<clipPath id="cph388"><rect x="388.5" y="235.5" width="80.0" height="152.0"/></clipPath>
<g clip-path="url(#cph388)">
<rect x="388.5" y="235.5" width="80.0" height="152.0" fill="#918cff"/>
<rect x="388.5" y="235.5" width="80.0" height="152.0" filter="url(#hmNoise)"/>
<path d="M400.2,230 L400.2,233 L400.2,236 L400.2,239 L400.2,242 L400.2,245 L400.2,248 L400.2,251 L400.2,254 L400.2,257 L400.2,260 L400.2,263 L400.2,266 L400.2,269 L400.2,272 L400.2,275 L400.2,278 L400.2,281 L400.2,284 L400.2,287 L400.2,290 L400.2,293 L400.2,296 L400.2,299 L400.2,302 L400.2,305 L400.2,308 L400.2,311 L400.2,314 L400.2,317 L400.2,320 L400.2,323 L400.2,326 L400.2,329 L400.2,332 L400.2,335 L400.2,338 L400.2,341 L400.2,344 L400.2,347 L400.2,350 L400.2,353 L400.2,356 L400.2,359 L400.2,362 L400.2,365 L400.2,368 L400.2,371 L400.2,374 L400.2,377 L400.2,380 L400.2,383 L400.2,386 L400.2,389 L400.2,392 L403.8,392 L403.8,389 L403.8,386 L403.8,383 L403.8,380 L403.8,377 L403.8,374 L403.8,371 L403.8,368 L403.8,365 L403.8,362 L403.8,359 L403.8,356 L403.8,353 L403.8,350 L403.8,347 L403.8,344 L403.8,341 L403.8,338 L403.8,335 L403.8,332 L403.8,329 L403.8,326 L403.8,323 L403.8,320 L403.8,317 L403.8,314 L403.8,311 L403.8,308 L403.8,305 L403.8,302 L403.8,299 L403.8,296 L403.8,293 L403.8,290 L403.8,287 L403.8,284 L403.8,281 L403.8,278 L403.8,275 L403.8,272 L403.8,269 L403.8,266 L403.8,263 L403.8,260 L403.8,257 L403.8,254 L403.8,251 L403.8,248 L403.8,245 L403.8,242 L403.8,239 L403.8,236 L403.8,233 L403.8,230 Z" fill="#ffffff" opacity="0.35" filter="url(#bl1)"/>
<path d="M401.3,230 L401.3,233 L401.3,236 L401.3,239 L401.3,242 L401.3,245 L401.3,248 L401.3,251 L401.3,254 L401.3,257 L401.3,260 L401.3,263 L401.3,266 L401.3,269 L401.3,272 L401.3,275 L401.3,278 L401.3,281 L401.3,284 L401.3,287 L401.3,290 L401.3,293 L401.3,296 L401.3,299 L401.3,302 L401.3,305 L401.3,308 L401.3,311 L401.3,314 L401.3,317 L401.3,320 L401.3,323 L401.3,326 L401.3,329 L401.3,332 L401.3,335 L401.3,338 L401.3,341 L401.3,344 L401.3,347 L401.3,350 L401.3,353 L401.3,356 L401.3,359 L401.3,362 L401.3,365 L401.3,368 L401.3,371 L401.3,374 L401.3,377 L401.3,380 L401.3,383 L401.3,386 L401.3,389 L401.3,392 L402.7,392 L402.7,389 L402.7,386 L402.7,383 L402.7,380 L402.7,377 L402.7,374 L402.7,371 L402.7,368 L402.7,365 L402.7,362 L402.7,359 L402.7,356 L402.7,353 L402.7,350 L402.7,347 L402.7,344 L402.7,341 L402.7,338 L402.7,335 L402.7,332 L402.7,329 L402.7,326 L402.7,323 L402.7,320 L402.7,317 L402.7,314 L402.7,311 L402.7,308 L402.7,305 L402.7,302 L402.7,299 L402.7,296 L402.7,293 L402.7,290 L402.7,287 L402.7,284 L402.7,281 L402.7,278 L402.7,275 L402.7,272 L402.7,269 L402.7,266 L402.7,263 L402.7,260 L402.7,257 L402.7,254 L402.7,251 L402.7,248 L402.7,245 L402.7,242 L402.7,239 L402.7,236 L402.7,233 L402.7,230 Z" fill="#ffffff" opacity="0.5" filter="url(#bl05)"/>
<path d="M421.48,230 L421.54,233 L421.6,236 L421.66,239 L421.72,242 L421.77,245 L421.82,248 L421.85,251 L421.88,254 L421.9,257 L421.9,260 L421.89,263 L421.87,266 L421.84,269 L421.8,272 L421.75,275 L421.7,278 L421.64,281 L421.58,284 L421.52,287 L421.47,290 L421.42,293 L421.37,296 L421.34,299 L421.31,302 L421.3,305 L421.3,308 L421.31,311 L421.33,314 L421.3,317 L421.24,320 L421.19,323 L421.15,326 L421.11,329 L421.07,332 L421.03,335 L420.98,338 L420.93,341 L420.87,344 L420.8,347 L420.72,350 L420.63,353 L420.53,356 L420.42,359 L420.29,362 L420.15,365 L420.01,368 L419.86,371 L419.7,374 L419.54,377 L419.38,380 L419.22,383 L419.07,386 L418.92,389 L418.78,392 L433.58,392 L433.72,389 L433.87,386 L434.02,383 L434.18,380 L434.34,377 L434.5,374 L434.66,371 L434.81,368 L434.95,365 L435.09,362 L435.22,359 L435.33,356 L435.43,353 L435.52,350 L435.6,347 L435.67,344 L435.73,341 L435.78,338 L435.83,335 L435.87,332 L435.91,329 L435.95,326 L435.99,323 L436.04,320 L436.1,317 L436.13,314 L436.11,311 L436.1,308 L436.1,305 L436.11,302 L436.14,299 L436.17,296 L436.22,293 L436.27,290 L436.32,287 L436.38,284 L436.44,281 L436.5,278 L436.55,275 L436.6,272 L436.64,269 L436.67,266 L436.69,263 L436.7,260 L436.7,257 L436.68,254 L436.65,251 L436.62,248 L436.57,245 L436.52,242 L436.46,239 L436.4,236 L436.34,233 L436.28,230 Z" fill="#ffffff" opacity="0.95" filter="url(#bl1)"/>
<path d="M424.28,230 L424.34,233 L424.4,236 L424.46,239 L424.52,242 L424.57,245 L424.62,248 L424.65,251 L424.68,254 L424.7,257 L424.7,260 L424.69,263 L424.67,266 L424.64,269 L424.6,272 L424.55,275 L424.5,278 L424.44,281 L424.38,284 L424.32,287 L424.27,290 L424.22,293 L424.17,296 L424.14,299 L424.11,302 L424.1,305 L424.1,308 L424.11,311 L424.13,314 L424.1,317 L424.04,320 L423.99,323 L423.95,326 L423.91,329 L423.87,332 L423.83,335 L423.78,338 L423.73,341 L423.67,344 L423.6,347 L423.52,350 L423.43,353 L423.33,356 L423.22,359 L423.09,362 L422.95,365 L422.81,368 L422.66,371 L422.5,374 L422.34,377 L422.18,380 L422.02,383 L421.87,386 L421.72,389 L421.58,392 L429.98,392 L430.12,389 L430.27,386 L430.42,383 L430.58,380 L430.74,377 L430.9,374 L431.06,371 L431.21,368 L431.35,365 L431.49,362 L431.62,359 L431.73,356 L431.83,353 L431.92,350 L432,347 L432.07,344 L432.13,341 L432.18,338 L432.23,335 L432.27,332 L432.31,329 L432.35,326 L432.39,323 L432.44,320 L432.5,317 L432.53,314 L432.51,311 L432.5,308 L432.5,305 L432.51,302 L432.54,299 L432.57,296 L432.62,293 L432.67,290 L432.72,287 L432.78,284 L432.84,281 L432.9,278 L432.95,275 L433,272 L433.04,269 L433.07,266 L433.09,263 L433.1,260 L433.1,257 L433.08,254 L433.05,251 L433.02,248 L432.97,245 L432.92,242 L432.86,239 L432.8,236 L432.74,233 L432.68,230 Z" fill="#ef3434" opacity="1" filter="url(#bl05)"/>
</g>
<rect x="388.5" y="235.5" width="80.0" height="152.0" fill="none" stroke="#5a5a6a" stroke-width="1"/>
<line x1="415.17" y1="387.5" x2="415.17" y2="389.9" stroke="#555" stroke-width="0.8"/>
<text x="415.17" y="400.2" font-size="9.2" text-anchor="middle" font-weight="normal" fill="#222" >44</text>
<line x1="441.83" y1="387.5" x2="441.83" y2="389" stroke="#555" stroke-width="0.8"/>
<line x1="468.5" y1="387.5" x2="468.5" y2="389.9" stroke="#555" stroke-width="0.8"/>
<text x="468.5" y="400.2" font-size="9.2" text-anchor="middle" font-weight="normal" fill="#222" >46</text>
<text x="425.8" y="387" font-size="8.2" text-anchor="middle" font-weight="normal" fill="#222" >104</text>
<rect x="472" y="236" width="11.6" height="152.7" fill="url(#gCB)"/>
<text transform="translate(485.6,245.6) rotate(90)" font-size="8.3" text-anchor="middle" fill="#222">7000</text>
<text transform="translate(485.8,313.5) rotate(90)" font-size="8.3" text-anchor="middle" fill="#222">Intensity</text>
<text transform="translate(486.2,385.3) rotate(90)" font-size="8.3" text-anchor="middle" fill="#222">0</text>
<text x="305.5" y="411" font-size="10.5" text-anchor="middle" font-weight="normal" fill="#222" >2θ (degree)</text>
<rect x="497.4" y="10.9" width="187" height="396.3" fill="none" stroke="#5e6a8c" stroke-width="1.1" stroke-dasharray="4.7 6.3"/>
<rect x="497.4" y="10.9" width="187" height="396.3" fill="none" stroke="#a4acc4" stroke-width="1" stroke-dasharray="1.1 1.4 1 7.5" stroke-dashoffset="-6.2"/>
<defs>
<radialGradient id="ballG" cx="0.5" cy="0.5" r="0.5" fx="0.45" fy="0.42"><stop offset="0" stop-color="#ffffff"/><stop offset="0.35" stop-color="#e4e4e4"/><stop offset="0.72" stop-color="#a4a4a4"/><stop offset="1" stop-color="#747474"/></radialGradient>
<radialGradient id="ballL" cx="0.5" cy="0.5" r="0.5" fx="0.45" fy="0.42"><stop offset="0" stop-color="#f0fff0"/><stop offset="0.35" stop-color="#a8ec98"/><stop offset="0.75" stop-color="#6cc85c"/><stop offset="1" stop-color="#4a9e3e"/></radialGradient>
</defs>
<line x1="516.5" y1="50.5" x2="514.3" y2="53.1" stroke="#b4b4b4" stroke-width="1.25"/>
<line x1="514.3" y1="53.1" x2="512.2" y2="55.7" stroke="#e84a4a" stroke-width="1.25"/>
<line x1="516.5" y1="50.5" x2="520.5" y2="53.1" stroke="#b4b4b4" stroke-width="1.25"/>
<line x1="520.5" y1="53.1" x2="524.6" y2="55.7" stroke="#e84a4a" stroke-width="1.25"/>
<line x1="528.9" y1="50.5" x2="526.7" y2="53.1" stroke="#b4b4b4" stroke-width="1.25"/>
<line x1="526.7" y1="53.1" x2="524.6" y2="55.7" stroke="#e84a4a" stroke-width="1.25"/>
<line x1="528.9" y1="50.5" x2="532.9" y2="53.1" stroke="#b4b4b4" stroke-width="1.25"/>
<line x1="532.9" y1="53.1" x2="537" y2="55.7" stroke="#e84a4a" stroke-width="1.25"/>
<line x1="541.3" y1="50.5" x2="539.1" y2="53.1" stroke="#b4b4b4" stroke-width="1.25"/>
<line x1="539.1" y1="53.1" x2="537" y2="55.7" stroke="#e84a4a" stroke-width="1.25"/>
<line x1="541.3" y1="50.5" x2="545.3" y2="53.1" stroke="#b4b4b4" stroke-width="1.25"/>
<line x1="545.3" y1="53.1" x2="549.4" y2="55.7" stroke="#e84a4a" stroke-width="1.25"/>
<line x1="553.7" y1="50.5" x2="551.5" y2="53.1" stroke="#b4b4b4" stroke-width="1.25"/>
<line x1="551.5" y1="53.1" x2="549.4" y2="55.7" stroke="#e84a4a" stroke-width="1.25"/>
<line x1="553.7" y1="50.5" x2="557.7" y2="53.1" stroke="#b4b4b4" stroke-width="1.25"/>
<line x1="557.7" y1="53.1" x2="561.8" y2="55.7" stroke="#e84a4a" stroke-width="1.25"/>
<line x1="566.1" y1="50.5" x2="563.9" y2="53.1" stroke="#b4b4b4" stroke-width="1.25"/>
<line x1="563.9" y1="53.1" x2="561.8" y2="55.7" stroke="#e84a4a" stroke-width="1.25"/>
<line x1="566.1" y1="50.5" x2="570.1" y2="53.1" stroke="#b4b4b4" stroke-width="1.25"/>
<line x1="570.1" y1="53.1" x2="574.2" y2="55.7" stroke="#e84a4a" stroke-width="1.25"/>
<line x1="578.5" y1="50.5" x2="576.3" y2="53.1" stroke="#b4b4b4" stroke-width="1.25"/>
<line x1="576.3" y1="53.1" x2="574.2" y2="55.7" stroke="#e84a4a" stroke-width="1.25"/>
<line x1="578.5" y1="50.5" x2="582.5" y2="53.1" stroke="#b4b4b4" stroke-width="1.25"/>
<line x1="582.5" y1="53.1" x2="586.6" y2="55.7" stroke="#e84a4a" stroke-width="1.25"/>
<line x1="590.9" y1="50.5" x2="588.7" y2="53.1" stroke="#b4b4b4" stroke-width="1.25"/>
<line x1="588.7" y1="53.1" x2="586.6" y2="55.7" stroke="#e84a4a" stroke-width="1.25"/>
<line x1="590.9" y1="50.5" x2="594.9" y2="53.1" stroke="#b4b4b4" stroke-width="1.25"/>
<line x1="594.9" y1="53.1" x2="599" y2="55.7" stroke="#e84a4a" stroke-width="1.25"/>
<line x1="603.3" y1="50.5" x2="601.1" y2="53.1" stroke="#b4b4b4" stroke-width="1.25"/>
<line x1="601.1" y1="53.1" x2="599" y2="55.7" stroke="#e84a4a" stroke-width="1.25"/>
<line x1="603.3" y1="50.5" x2="607.3" y2="53.1" stroke="#b4b4b4" stroke-width="1.25"/>
<line x1="607.3" y1="53.1" x2="611.4" y2="55.7" stroke="#e84a4a" stroke-width="1.25"/>
<line x1="615.7" y1="50.5" x2="613.5" y2="53.1" stroke="#b4b4b4" stroke-width="1.25"/>
<line x1="613.5" y1="53.1" x2="611.4" y2="55.7" stroke="#e84a4a" stroke-width="1.25"/>
<line x1="615.7" y1="50.5" x2="619.7" y2="53.1" stroke="#b4b4b4" stroke-width="1.25"/>
<line x1="619.7" y1="53.1" x2="623.8" y2="55.7" stroke="#e84a4a" stroke-width="1.25"/>
<line x1="628.1" y1="50.5" x2="625.9" y2="53.1" stroke="#b4b4b4" stroke-width="1.25"/>
<line x1="625.9" y1="53.1" x2="623.8" y2="55.7" stroke="#e84a4a" stroke-width="1.25"/>
<line x1="628.1" y1="50.5" x2="632.1" y2="53.1" stroke="#b4b4b4" stroke-width="1.25"/>
<line x1="632.1" y1="53.1" x2="636.2" y2="55.7" stroke="#e84a4a" stroke-width="1.25"/>
<line x1="640.5" y1="50.5" x2="638.3" y2="53.1" stroke="#b4b4b4" stroke-width="1.25"/>
<line x1="638.3" y1="53.1" x2="636.2" y2="55.7" stroke="#e84a4a" stroke-width="1.25"/>
<line x1="640.5" y1="50.5" x2="644.5" y2="53.1" stroke="#b4b4b4" stroke-width="1.25"/>
<line x1="644.5" y1="53.1" x2="648.6" y2="55.7" stroke="#e84a4a" stroke-width="1.25"/>
<line x1="652.9" y1="50.5" x2="650.7" y2="53.1" stroke="#b4b4b4" stroke-width="1.25"/>
<line x1="650.7" y1="53.1" x2="648.6" y2="55.7" stroke="#e84a4a" stroke-width="1.25"/>
<line x1="652.9" y1="50.5" x2="656.9" y2="53.1" stroke="#b4b4b4" stroke-width="1.25"/>
<line x1="656.9" y1="53.1" x2="661" y2="55.7" stroke="#e84a4a" stroke-width="1.25"/>
<line x1="665.3" y1="50.5" x2="663.1" y2="53.1" stroke="#b4b4b4" stroke-width="1.25"/>
<line x1="663.1" y1="53.1" x2="661" y2="55.7" stroke="#e84a4a" stroke-width="1.25"/>
<line x1="665.3" y1="50.5" x2="669.3" y2="53.1" stroke="#b4b4b4" stroke-width="1.25"/>
<line x1="669.3" y1="53.1" x2="673.4" y2="55.7" stroke="#e84a4a" stroke-width="1.25"/>
<line x1="524.6" y1="55.7" x2="528.8" y2="59.2" stroke="#e84a4a" stroke-width="1.25"/>
<line x1="528.8" y1="59.2" x2="533" y2="62.6" stroke="#a8e29a" stroke-width="1.25"/>
<line x1="537" y1="55.7" x2="535" y2="59.2" stroke="#e84a4a" stroke-width="1.25"/>
<line x1="535" y1="59.2" x2="533" y2="62.6" stroke="#a8e29a" stroke-width="1.25"/>
<line x1="537" y1="55.7" x2="541.2" y2="59.2" stroke="#e84a4a" stroke-width="1.25"/>
<line x1="541.2" y1="59.2" x2="545.4" y2="62.6" stroke="#a8e29a" stroke-width="1.25"/>
<line x1="549.4" y1="55.7" x2="547.4" y2="59.2" stroke="#e84a4a" stroke-width="1.25"/>
<line x1="547.4" y1="59.2" x2="545.4" y2="62.6" stroke="#a8e29a" stroke-width="1.25"/>
<line x1="549.4" y1="55.7" x2="553.6" y2="59.2" stroke="#e84a4a" stroke-width="1.25"/>
<line x1="553.6" y1="59.2" x2="557.8" y2="62.6" stroke="#a8e29a" stroke-width="1.25"/>
<line x1="561.8" y1="55.7" x2="559.8" y2="59.2" stroke="#e84a4a" stroke-width="1.25"/>
<line x1="559.8" y1="59.2" x2="557.8" y2="62.6" stroke="#a8e29a" stroke-width="1.25"/>
<line x1="561.8" y1="55.7" x2="566" y2="59.2" stroke="#e84a4a" stroke-width="1.25"/>
<line x1="566" y1="59.2" x2="570.2" y2="62.6" stroke="#a8e29a" stroke-width="1.25"/>
<line x1="574.2" y1="55.7" x2="572.2" y2="59.2" stroke="#e84a4a" stroke-width="1.25"/>
<line x1="572.2" y1="59.2" x2="570.2" y2="62.6" stroke="#a8e29a" stroke-width="1.25"/>
<line x1="574.2" y1="55.7" x2="578.4" y2="59.2" stroke="#e84a4a" stroke-width="1.25"/>
<line x1="578.4" y1="59.2" x2="582.6" y2="62.6" stroke="#a8e29a" stroke-width="1.25"/>
<line x1="586.6" y1="55.7" x2="584.6" y2="59.2" stroke="#e84a4a" stroke-width="1.25"/>
<line x1="584.6" y1="59.2" x2="582.6" y2="62.6" stroke="#a8e29a" stroke-width="1.25"/>
<line x1="586.6" y1="55.7" x2="590.8" y2="59.2" stroke="#e84a4a" stroke-width="1.25"/>
<line x1="590.8" y1="59.2" x2="595" y2="62.6" stroke="#a8e29a" stroke-width="1.25"/>
<line x1="599" y1="55.7" x2="597" y2="59.2" stroke="#e84a4a" stroke-width="1.25"/>
<line x1="597" y1="59.2" x2="595" y2="62.6" stroke="#a8e29a" stroke-width="1.25"/>
<line x1="599" y1="55.7" x2="603.2" y2="59.2" stroke="#e84a4a" stroke-width="1.25"/>
<line x1="603.2" y1="59.2" x2="607.4" y2="62.6" stroke="#a8e29a" stroke-width="1.25"/>
<line x1="611.4" y1="55.7" x2="609.4" y2="59.2" stroke="#e84a4a" stroke-width="1.25"/>
<line x1="609.4" y1="59.2" x2="607.4" y2="62.6" stroke="#a8e29a" stroke-width="1.25"/>
<line x1="611.4" y1="55.7" x2="615.6" y2="59.2" stroke="#e84a4a" stroke-width="1.25"/>
<line x1="615.6" y1="59.2" x2="619.8" y2="62.6" stroke="#a8e29a" stroke-width="1.25"/>
<line x1="623.8" y1="55.7" x2="621.8" y2="59.2" stroke="#e84a4a" stroke-width="1.25"/>
<line x1="621.8" y1="59.2" x2="619.8" y2="62.6" stroke="#a8e29a" stroke-width="1.25"/>
<line x1="623.8" y1="55.7" x2="628" y2="59.2" stroke="#e84a4a" stroke-width="1.25"/>
<line x1="628" y1="59.2" x2="632.2" y2="62.6" stroke="#a8e29a" stroke-width="1.25"/>
<line x1="636.2" y1="55.7" x2="634.2" y2="59.2" stroke="#e84a4a" stroke-width="1.25"/>
<line x1="634.2" y1="59.2" x2="632.2" y2="62.6" stroke="#a8e29a" stroke-width="1.25"/>
<line x1="636.2" y1="55.7" x2="640.4" y2="59.2" stroke="#e84a4a" stroke-width="1.25"/>
<line x1="640.4" y1="59.2" x2="644.6" y2="62.6" stroke="#a8e29a" stroke-width="1.25"/>
<line x1="648.6" y1="55.7" x2="646.6" y2="59.2" stroke="#e84a4a" stroke-width="1.25"/>
<line x1="646.6" y1="59.2" x2="644.6" y2="62.6" stroke="#a8e29a" stroke-width="1.25"/>
<line x1="648.6" y1="55.7" x2="652.8" y2="59.2" stroke="#e84a4a" stroke-width="1.25"/>
<line x1="652.8" y1="59.2" x2="657" y2="62.6" stroke="#a8e29a" stroke-width="1.25"/>
<line x1="661" y1="55.7" x2="659" y2="59.2" stroke="#e84a4a" stroke-width="1.25"/>
<line x1="659" y1="59.2" x2="657" y2="62.6" stroke="#a8e29a" stroke-width="1.25"/>
<line x1="533" y1="62.6" x2="530.9" y2="65.8" stroke="#a8e29a" stroke-width="1.25"/>
<line x1="530.9" y1="65.8" x2="528.9" y2="69.1" stroke="#e84a4a" stroke-width="1.25"/>
<line x1="533" y1="62.6" x2="537.1" y2="65.8" stroke="#a8e29a" stroke-width="1.25"/>
<line x1="537.1" y1="65.8" x2="541.3" y2="69.1" stroke="#e84a4a" stroke-width="1.25"/>
<line x1="545.4" y1="62.6" x2="543.3" y2="65.8" stroke="#a8e29a" stroke-width="1.25"/>
<line x1="543.3" y1="65.8" x2="541.3" y2="69.1" stroke="#e84a4a" stroke-width="1.25"/>
<line x1="545.4" y1="62.6" x2="549.5" y2="65.8" stroke="#a8e29a" stroke-width="1.25"/>
<line x1="549.5" y1="65.8" x2="553.7" y2="69.1" stroke="#e84a4a" stroke-width="1.25"/>
<line x1="557.8" y1="62.6" x2="555.7" y2="65.8" stroke="#a8e29a" stroke-width="1.25"/>
<line x1="555.7" y1="65.8" x2="553.7" y2="69.1" stroke="#e84a4a" stroke-width="1.25"/>
<line x1="557.8" y1="62.6" x2="561.9" y2="65.8" stroke="#a8e29a" stroke-width="1.25"/>
<line x1="561.9" y1="65.8" x2="566.1" y2="69.1" stroke="#e84a4a" stroke-width="1.25"/>
<line x1="570.2" y1="62.6" x2="568.1" y2="65.8" stroke="#a8e29a" stroke-width="1.25"/>
<line x1="568.1" y1="65.8" x2="566.1" y2="69.1" stroke="#e84a4a" stroke-width="1.25"/>
<line x1="570.2" y1="62.6" x2="574.3" y2="65.8" stroke="#a8e29a" stroke-width="1.25"/>
<line x1="574.3" y1="65.8" x2="578.5" y2="69.1" stroke="#e84a4a" stroke-width="1.25"/>
<line x1="582.6" y1="62.6" x2="580.5" y2="65.8" stroke="#a8e29a" stroke-width="1.25"/>
<line x1="580.5" y1="65.8" x2="578.5" y2="69.1" stroke="#e84a4a" stroke-width="1.25"/>
<line x1="582.6" y1="62.6" x2="586.7" y2="65.8" stroke="#a8e29a" stroke-width="1.25"/>
<line x1="586.7" y1="65.8" x2="590.9" y2="69.1" stroke="#e84a4a" stroke-width="1.25"/>
<line x1="595" y1="62.6" x2="592.9" y2="65.8" stroke="#a8e29a" stroke-width="1.25"/>
<line x1="592.9" y1="65.8" x2="590.9" y2="69.1" stroke="#e84a4a" stroke-width="1.25"/>
<line x1="595" y1="62.6" x2="599.1" y2="65.8" stroke="#a8e29a" stroke-width="1.25"/>
<line x1="599.1" y1="65.8" x2="603.3" y2="69.1" stroke="#e84a4a" stroke-width="1.25"/>
<line x1="607.4" y1="62.6" x2="605.3" y2="65.8" stroke="#a8e29a" stroke-width="1.25"/>
<line x1="605.3" y1="65.8" x2="603.3" y2="69.1" stroke="#e84a4a" stroke-width="1.25"/>
<line x1="607.4" y1="62.6" x2="611.5" y2="65.8" stroke="#a8e29a" stroke-width="1.25"/>
<line x1="611.5" y1="65.8" x2="615.7" y2="69.1" stroke="#e84a4a" stroke-width="1.25"/>
<line x1="619.8" y1="62.6" x2="617.7" y2="65.8" stroke="#a8e29a" stroke-width="1.25"/>
<line x1="617.7" y1="65.8" x2="615.7" y2="69.1" stroke="#e84a4a" stroke-width="1.25"/>
<line x1="619.8" y1="62.6" x2="623.9" y2="65.8" stroke="#a8e29a" stroke-width="1.25"/>
<line x1="623.9" y1="65.8" x2="628.1" y2="69.1" stroke="#e84a4a" stroke-width="1.25"/>
<line x1="632.2" y1="62.6" x2="630.1" y2="65.8" stroke="#a8e29a" stroke-width="1.25"/>
<line x1="630.1" y1="65.8" x2="628.1" y2="69.1" stroke="#e84a4a" stroke-width="1.25"/>
<line x1="632.2" y1="62.6" x2="636.3" y2="65.8" stroke="#a8e29a" stroke-width="1.25"/>
<line x1="636.3" y1="65.8" x2="640.5" y2="69.1" stroke="#e84a4a" stroke-width="1.25"/>
<line x1="644.6" y1="62.6" x2="642.5" y2="65.8" stroke="#a8e29a" stroke-width="1.25"/>
<line x1="642.5" y1="65.8" x2="640.5" y2="69.1" stroke="#e84a4a" stroke-width="1.25"/>
<line x1="644.6" y1="62.6" x2="648.7" y2="65.8" stroke="#a8e29a" stroke-width="1.25"/>
<line x1="648.7" y1="65.8" x2="652.9" y2="69.1" stroke="#e84a4a" stroke-width="1.25"/>
<line x1="657" y1="62.6" x2="654.9" y2="65.8" stroke="#a8e29a" stroke-width="1.25"/>
<line x1="654.9" y1="65.8" x2="652.9" y2="69.1" stroke="#e84a4a" stroke-width="1.25"/>
<line x1="657" y1="62.6" x2="661.1" y2="65.8" stroke="#a8e29a" stroke-width="1.25"/>
<line x1="661.1" y1="65.8" x2="665.3" y2="69.1" stroke="#e84a4a" stroke-width="1.25"/>
<line x1="516.5" y1="69.1" x2="520.7" y2="71.7" stroke="#e84a4a" stroke-width="1.25"/>
<line x1="520.7" y1="71.7" x2="524.9" y2="74.3" stroke="#b4b4b4" stroke-width="1.25"/>
<line x1="528.9" y1="69.1" x2="526.9" y2="71.7" stroke="#e84a4a" stroke-width="1.25"/>
<line x1="526.9" y1="71.7" x2="524.9" y2="74.3" stroke="#b4b4b4" stroke-width="1.25"/>
<line x1="528.9" y1="69.1" x2="533.1" y2="71.7" stroke="#e84a4a" stroke-width="1.25"/>
<line x1="533.1" y1="71.7" x2="537.3" y2="74.3" stroke="#b4b4b4" stroke-width="1.25"/>
<line x1="541.3" y1="69.1" x2="539.3" y2="71.7" stroke="#e84a4a" stroke-width="1.25"/>
<line x1="539.3" y1="71.7" x2="537.3" y2="74.3" stroke="#b4b4b4" stroke-width="1.25"/>
<line x1="541.3" y1="69.1" x2="545.5" y2="71.7" stroke="#e84a4a" stroke-width="1.25"/>
<line x1="545.5" y1="71.7" x2="549.7" y2="74.3" stroke="#b4b4b4" stroke-width="1.25"/>
<line x1="553.7" y1="69.1" x2="551.7" y2="71.7" stroke="#e84a4a" stroke-width="1.25"/>
<line x1="551.7" y1="71.7" x2="549.7" y2="74.3" stroke="#b4b4b4" stroke-width="1.25"/>
<line x1="553.7" y1="69.1" x2="557.9" y2="71.7" stroke="#e84a4a" stroke-width="1.25"/>
<line x1="557.9" y1="71.7" x2="562.1" y2="74.3" stroke="#b4b4b4" stroke-width="1.25"/>
<line x1="566.1" y1="69.1" x2="564.1" y2="71.7" stroke="#e84a4a" stroke-width="1.25"/>
<line x1="564.1" y1="71.7" x2="562.1" y2="74.3" stroke="#b4b4b4" stroke-width="1.25"/>
<line x1="566.1" y1="69.1" x2="570.3" y2="71.7" stroke="#e84a4a" stroke-width="1.25"/>
<line x1="570.3" y1="71.7" x2="574.5" y2="74.3" stroke="#b4b4b4" stroke-width="1.25"/>
<line x1="578.5" y1="69.1" x2="576.5" y2="71.7" stroke="#e84a4a" stroke-width="1.25"/>
<line x1="576.5" y1="71.7" x2="574.5" y2="74.3" stroke="#b4b4b4" stroke-width="1.25"/>
<line x1="578.5" y1="69.1" x2="582.7" y2="71.7" stroke="#e84a4a" stroke-width="1.25"/>
<line x1="582.7" y1="71.7" x2="586.9" y2="74.3" stroke="#b4b4b4" stroke-width="1.25"/>
<line x1="590.9" y1="69.1" x2="588.9" y2="71.7" stroke="#e84a4a" stroke-width="1.25"/>
<line x1="588.9" y1="71.7" x2="586.9" y2="74.3" stroke="#b4b4b4" stroke-width="1.25"/>
<line x1="590.9" y1="69.1" x2="595.1" y2="71.7" stroke="#e84a4a" stroke-width="1.25"/>
<line x1="595.1" y1="71.7" x2="599.3" y2="74.3" stroke="#b4b4b4" stroke-width="1.25"/>
<line x1="603.3" y1="69.1" x2="601.3" y2="71.7" stroke="#e84a4a" stroke-width="1.25"/>
<line x1="601.3" y1="71.7" x2="599.3" y2="74.3" stroke="#b4b4b4" stroke-width="1.25"/>
<line x1="603.3" y1="69.1" x2="607.5" y2="71.7" stroke="#e84a4a" stroke-width="1.25"/>
<line x1="607.5" y1="71.7" x2="611.7" y2="74.3" stroke="#b4b4b4" stroke-width="1.25"/>
<line x1="615.7" y1="69.1" x2="613.7" y2="71.7" stroke="#e84a4a" stroke-width="1.25"/>
<line x1="613.7" y1="71.7" x2="611.7" y2="74.3" stroke="#b4b4b4" stroke-width="1.25"/>
<line x1="615.7" y1="69.1" x2="619.9" y2="71.7" stroke="#e84a4a" stroke-width="1.25"/>
<line x1="619.9" y1="71.7" x2="624.1" y2="74.3" stroke="#b4b4b4" stroke-width="1.25"/>
<line x1="628.1" y1="69.1" x2="626.1" y2="71.7" stroke="#e84a4a" stroke-width="1.25"/>
<line x1="626.1" y1="71.7" x2="624.1" y2="74.3" stroke="#b4b4b4" stroke-width="1.25"/>
<line x1="628.1" y1="69.1" x2="632.3" y2="71.7" stroke="#e84a4a" stroke-width="1.25"/>
<line x1="632.3" y1="71.7" x2="636.5" y2="74.3" stroke="#b4b4b4" stroke-width="1.25"/>
<line x1="640.5" y1="69.1" x2="638.5" y2="71.7" stroke="#e84a4a" stroke-width="1.25"/>
<line x1="638.5" y1="71.7" x2="636.5" y2="74.3" stroke="#b4b4b4" stroke-width="1.25"/>
<line x1="640.5" y1="69.1" x2="644.7" y2="71.7" stroke="#e84a4a" stroke-width="1.25"/>
<line x1="644.7" y1="71.7" x2="648.9" y2="74.3" stroke="#b4b4b4" stroke-width="1.25"/>
<line x1="652.9" y1="69.1" x2="650.9" y2="71.7" stroke="#e84a4a" stroke-width="1.25"/>
<line x1="650.9" y1="71.7" x2="648.9" y2="74.3" stroke="#b4b4b4" stroke-width="1.25"/>
<line x1="524.9" y1="74.3" x2="522.7" y2="76.9" stroke="#b4b4b4" stroke-width="1.25"/>
<line x1="522.7" y1="76.9" x2="520.5" y2="79.5" stroke="#e84a4a" stroke-width="1.25"/>
<line x1="524.9" y1="74.3" x2="528.9" y2="76.9" stroke="#b4b4b4" stroke-width="1.25"/>
<line x1="528.9" y1="76.9" x2="532.9" y2="79.5" stroke="#e84a4a" stroke-width="1.25"/>
<line x1="537.3" y1="74.3" x2="535.1" y2="76.9" stroke="#b4b4b4" stroke-width="1.25"/>
<line x1="535.1" y1="76.9" x2="532.9" y2="79.5" stroke="#e84a4a" stroke-width="1.25"/>
<line x1="537.3" y1="74.3" x2="541.3" y2="76.9" stroke="#b4b4b4" stroke-width="1.25"/>
<line x1="541.3" y1="76.9" x2="545.3" y2="79.5" stroke="#e84a4a" stroke-width="1.25"/>
<line x1="549.7" y1="74.3" x2="547.5" y2="76.9" stroke="#b4b4b4" stroke-width="1.25"/>
<line x1="547.5" y1="76.9" x2="545.3" y2="79.5" stroke="#e84a4a" stroke-width="1.25"/>
<line x1="549.7" y1="74.3" x2="553.7" y2="76.9" stroke="#b4b4b4" stroke-width="1.25"/>
<line x1="553.7" y1="76.9" x2="557.7" y2="79.5" stroke="#e84a4a" stroke-width="1.25"/>
<line x1="562.1" y1="74.3" x2="559.9" y2="76.9" stroke="#b4b4b4" stroke-width="1.25"/>
<line x1="559.9" y1="76.9" x2="557.7" y2="79.5" stroke="#e84a4a" stroke-width="1.25"/>
<line x1="562.1" y1="74.3" x2="566.1" y2="76.9" stroke="#b4b4b4" stroke-width="1.25"/>
<line x1="566.1" y1="76.9" x2="570.1" y2="79.5" stroke="#e84a4a" stroke-width="1.25"/>
<line x1="574.5" y1="74.3" x2="572.3" y2="76.9" stroke="#b4b4b4" stroke-width="1.25"/>
<line x1="572.3" y1="76.9" x2="570.1" y2="79.5" stroke="#e84a4a" stroke-width="1.25"/>
<line x1="574.5" y1="74.3" x2="578.5" y2="76.9" stroke="#b4b4b4" stroke-width="1.25"/>
<line x1="578.5" y1="76.9" x2="582.5" y2="79.5" stroke="#e84a4a" stroke-width="1.25"/>
<line x1="586.9" y1="74.3" x2="584.7" y2="76.9" stroke="#b4b4b4" stroke-width="1.25"/>
<line x1="584.7" y1="76.9" x2="582.5" y2="79.5" stroke="#e84a4a" stroke-width="1.25"/>
<line x1="586.9" y1="74.3" x2="590.9" y2="76.9" stroke="#b4b4b4" stroke-width="1.25"/>
<line x1="590.9" y1="76.9" x2="594.9" y2="79.5" stroke="#e84a4a" stroke-width="1.25"/>
<line x1="599.3" y1="74.3" x2="597.1" y2="76.9" stroke="#b4b4b4" stroke-width="1.25"/>
<line x1="597.1" y1="76.9" x2="594.9" y2="79.5" stroke="#e84a4a" stroke-width="1.25"/>
<line x1="599.3" y1="74.3" x2="603.3" y2="76.9" stroke="#b4b4b4" stroke-width="1.25"/>
<line x1="603.3" y1="76.9" x2="607.3" y2="79.5" stroke="#e84a4a" stroke-width="1.25"/>
<line x1="611.7" y1="74.3" x2="609.5" y2="76.9" stroke="#b4b4b4" stroke-width="1.25"/>
<line x1="609.5" y1="76.9" x2="607.3" y2="79.5" stroke="#e84a4a" stroke-width="1.25"/>
<line x1="611.7" y1="74.3" x2="615.7" y2="76.9" stroke="#b4b4b4" stroke-width="1.25"/>
<line x1="615.7" y1="76.9" x2="619.7" y2="79.5" stroke="#e84a4a" stroke-width="1.25"/>
<line x1="624.1" y1="74.3" x2="621.9" y2="76.9" stroke="#b4b4b4" stroke-width="1.25"/>
<line x1="621.9" y1="76.9" x2="619.7" y2="79.5" stroke="#e84a4a" stroke-width="1.25"/>
<line x1="624.1" y1="74.3" x2="628.1" y2="76.9" stroke="#b4b4b4" stroke-width="1.25"/>
<line x1="628.1" y1="76.9" x2="632.1" y2="79.5" stroke="#e84a4a" stroke-width="1.25"/>
<line x1="636.5" y1="74.3" x2="634.3" y2="76.9" stroke="#b4b4b4" stroke-width="1.25"/>
<line x1="634.3" y1="76.9" x2="632.1" y2="79.5" stroke="#e84a4a" stroke-width="1.25"/>
<line x1="636.5" y1="74.3" x2="640.5" y2="76.9" stroke="#b4b4b4" stroke-width="1.25"/>
<line x1="640.5" y1="76.9" x2="644.5" y2="79.5" stroke="#e84a4a" stroke-width="1.25"/>
<line x1="648.9" y1="74.3" x2="646.7" y2="76.9" stroke="#b4b4b4" stroke-width="1.25"/>
<line x1="646.7" y1="76.9" x2="644.5" y2="79.5" stroke="#e84a4a" stroke-width="1.25"/>
<line x1="648.9" y1="74.3" x2="652.9" y2="76.9" stroke="#b4b4b4" stroke-width="1.25"/>
<line x1="652.9" y1="76.9" x2="656.9" y2="79.5" stroke="#e84a4a" stroke-width="1.25"/>
<line x1="508.1" y1="79.5" x2="512.3" y2="83" stroke="#e84a4a" stroke-width="1.25"/>
<line x1="512.3" y1="83" x2="516.5" y2="86.4" stroke="#a8e29a" stroke-width="1.25"/>
<line x1="520.5" y1="79.5" x2="518.5" y2="83" stroke="#e84a4a" stroke-width="1.25"/>
<line x1="518.5" y1="83" x2="516.5" y2="86.4" stroke="#a8e29a" stroke-width="1.25"/>
<line x1="520.5" y1="79.5" x2="524.7" y2="83" stroke="#e84a4a" stroke-width="1.25"/>
<line x1="524.7" y1="83" x2="528.9" y2="86.4" stroke="#a8e29a" stroke-width="1.25"/>
<line x1="532.9" y1="79.5" x2="530.9" y2="83" stroke="#e84a4a" stroke-width="1.25"/>
<line x1="530.9" y1="83" x2="528.9" y2="86.4" stroke="#a8e29a" stroke-width="1.25"/>
<line x1="532.9" y1="79.5" x2="537.1" y2="83" stroke="#e84a4a" stroke-width="1.25"/>
<line x1="537.1" y1="83" x2="541.3" y2="86.4" stroke="#a8e29a" stroke-width="1.25"/>
<line x1="545.3" y1="79.5" x2="543.3" y2="83" stroke="#e84a4a" stroke-width="1.25"/>
<line x1="543.3" y1="83" x2="541.3" y2="86.4" stroke="#a8e29a" stroke-width="1.25"/>
<line x1="545.3" y1="79.5" x2="549.5" y2="83" stroke="#e84a4a" stroke-width="1.25"/>
<line x1="549.5" y1="83" x2="553.7" y2="86.4" stroke="#a8e29a" stroke-width="1.25"/>
<line x1="557.7" y1="79.5" x2="555.7" y2="83" stroke="#e84a4a" stroke-width="1.25"/>
<line x1="555.7" y1="83" x2="553.7" y2="86.4" stroke="#a8e29a" stroke-width="1.25"/>
<line x1="557.7" y1="79.5" x2="561.9" y2="83" stroke="#e84a4a" stroke-width="1.25"/>
<line x1="561.9" y1="83" x2="566.1" y2="86.4" stroke="#a8e29a" stroke-width="1.25"/>
<line x1="570.1" y1="79.5" x2="568.1" y2="83" stroke="#e84a4a" stroke-width="1.25"/>
<line x1="568.1" y1="83" x2="566.1" y2="86.4" stroke="#a8e29a" stroke-width="1.25"/>
<line x1="570.1" y1="79.5" x2="574.3" y2="83" stroke="#e84a4a" stroke-width="1.25"/>
<line x1="574.3" y1="83" x2="578.5" y2="86.4" stroke="#a8e29a" stroke-width="1.25"/>
<line x1="582.5" y1="79.5" x2="580.5" y2="83" stroke="#e84a4a" stroke-width="1.25"/>
<line x1="580.5" y1="83" x2="578.5" y2="86.4" stroke="#a8e29a" stroke-width="1.25"/>
<line x1="582.5" y1="79.5" x2="586.7" y2="83" stroke="#e84a4a" stroke-width="1.25"/>
<line x1="586.7" y1="83" x2="590.9" y2="86.4" stroke="#a8e29a" stroke-width="1.25"/>
<line x1="594.9" y1="79.5" x2="592.9" y2="83" stroke="#e84a4a" stroke-width="1.25"/>
<line x1="592.9" y1="83" x2="590.9" y2="86.4" stroke="#a8e29a" stroke-width="1.25"/>
<line x1="594.9" y1="79.5" x2="599.1" y2="83" stroke="#e84a4a" stroke-width="1.25"/>
<line x1="599.1" y1="83" x2="603.3" y2="86.4" stroke="#a8e29a" stroke-width="1.25"/>
<line x1="607.3" y1="79.5" x2="605.3" y2="83" stroke="#e84a4a" stroke-width="1.25"/>
<line x1="605.3" y1="83" x2="603.3" y2="86.4" stroke="#a8e29a" stroke-width="1.25"/>
<line x1="607.3" y1="79.5" x2="611.5" y2="83" stroke="#e84a4a" stroke-width="1.25"/>
<line x1="611.5" y1="83" x2="615.7" y2="86.4" stroke="#a8e29a" stroke-width="1.25"/>
<line x1="619.7" y1="79.5" x2="617.7" y2="83" stroke="#e84a4a" stroke-width="1.25"/>
<line x1="617.7" y1="83" x2="615.7" y2="86.4" stroke="#a8e29a" stroke-width="1.25"/>
<line x1="619.7" y1="79.5" x2="623.9" y2="83" stroke="#e84a4a" stroke-width="1.25"/>
<line x1="623.9" y1="83" x2="628.1" y2="86.4" stroke="#a8e29a" stroke-width="1.25"/>
<line x1="632.1" y1="79.5" x2="630.1" y2="83" stroke="#e84a4a" stroke-width="1.25"/>
<line x1="630.1" y1="83" x2="628.1" y2="86.4" stroke="#a8e29a" stroke-width="1.25"/>
<line x1="632.1" y1="79.5" x2="636.3" y2="83" stroke="#e84a4a" stroke-width="1.25"/>
<line x1="636.3" y1="83" x2="640.5" y2="86.4" stroke="#a8e29a" stroke-width="1.25"/>
<line x1="644.5" y1="79.5" x2="642.5" y2="83" stroke="#e84a4a" stroke-width="1.25"/>
<line x1="642.5" y1="83" x2="640.5" y2="86.4" stroke="#a8e29a" stroke-width="1.25"/>
<line x1="644.5" y1="79.5" x2="648.7" y2="83" stroke="#e84a4a" stroke-width="1.25"/>
<line x1="648.7" y1="83" x2="652.9" y2="86.4" stroke="#a8e29a" stroke-width="1.25"/>
<line x1="656.9" y1="79.5" x2="654.9" y2="83" stroke="#e84a4a" stroke-width="1.25"/>
<line x1="654.9" y1="83" x2="652.9" y2="86.4" stroke="#a8e29a" stroke-width="1.25"/>
<line x1="656.9" y1="79.5" x2="661.1" y2="83" stroke="#e84a4a" stroke-width="1.25"/>
<line x1="661.1" y1="83" x2="665.3" y2="86.4" stroke="#a8e29a" stroke-width="1.25"/>
<line x1="669.3" y1="79.5" x2="667.3" y2="83" stroke="#e84a4a" stroke-width="1.25"/>
<line x1="667.3" y1="83" x2="665.3" y2="86.4" stroke="#a8e29a" stroke-width="1.25"/>
<line x1="516.5" y1="86.4" x2="514.3" y2="89.3" stroke="#a8e29a" stroke-width="1.25"/>
<line x1="514.3" y1="89.3" x2="512.2" y2="92.3" stroke="#e84a4a" stroke-width="1.25"/>
<line x1="516.5" y1="86.4" x2="520.5" y2="89.3" stroke="#a8e29a" stroke-width="1.25"/>
<line x1="520.5" y1="89.3" x2="524.6" y2="92.3" stroke="#e84a4a" stroke-width="1.25"/>
<line x1="528.9" y1="86.4" x2="526.7" y2="89.3" stroke="#a8e29a" stroke-width="1.25"/>
<line x1="526.7" y1="89.3" x2="524.6" y2="92.3" stroke="#e84a4a" stroke-width="1.25"/>
<line x1="528.9" y1="86.4" x2="532.9" y2="89.3" stroke="#a8e29a" stroke-width="1.25"/>
<line x1="532.9" y1="89.3" x2="537" y2="92.3" stroke="#e84a4a" stroke-width="1.25"/>
<line x1="541.3" y1="86.4" x2="539.1" y2="89.3" stroke="#a8e29a" stroke-width="1.25"/>
<line x1="539.1" y1="89.3" x2="537" y2="92.3" stroke="#e84a4a" stroke-width="1.25"/>
<line x1="541.3" y1="86.4" x2="545.3" y2="89.3" stroke="#a8e29a" stroke-width="1.25"/>
<line x1="545.3" y1="89.3" x2="549.4" y2="92.3" stroke="#e84a4a" stroke-width="1.25"/>
<line x1="553.7" y1="86.4" x2="551.5" y2="89.3" stroke="#a8e29a" stroke-width="1.25"/>
<line x1="551.5" y1="89.3" x2="549.4" y2="92.3" stroke="#e84a4a" stroke-width="1.25"/>
<line x1="553.7" y1="86.4" x2="557.7" y2="89.3" stroke="#a8e29a" stroke-width="1.25"/>
<line x1="557.7" y1="89.3" x2="561.8" y2="92.3" stroke="#e84a4a" stroke-width="1.25"/>
<line x1="566.1" y1="86.4" x2="563.9" y2="89.3" stroke="#a8e29a" stroke-width="1.25"/>
<line x1="563.9" y1="89.3" x2="561.8" y2="92.3" stroke="#e84a4a" stroke-width="1.25"/>
<line x1="566.1" y1="86.4" x2="570.1" y2="89.3" stroke="#a8e29a" stroke-width="1.25"/>
<line x1="570.1" y1="89.3" x2="574.2" y2="92.3" stroke="#e84a4a" stroke-width="1.25"/>
<line x1="578.5" y1="86.4" x2="576.3" y2="89.3" stroke="#a8e29a" stroke-width="1.25"/>
<line x1="576.3" y1="89.3" x2="574.2" y2="92.3" stroke="#e84a4a" stroke-width="1.25"/>
<line x1="578.5" y1="86.4" x2="582.5" y2="89.3" stroke="#a8e29a" stroke-width="1.25"/>
<line x1="582.5" y1="89.3" x2="586.6" y2="92.3" stroke="#e84a4a" stroke-width="1.25"/>
<line x1="590.9" y1="86.4" x2="588.7" y2="89.3" stroke="#a8e29a" stroke-width="1.25"/>
<line x1="588.7" y1="89.3" x2="586.6" y2="92.3" stroke="#e84a4a" stroke-width="1.25"/>
<line x1="590.9" y1="86.4" x2="594.9" y2="89.3" stroke="#a8e29a" stroke-width="1.25"/>
<line x1="594.9" y1="89.3" x2="599" y2="92.3" stroke="#e84a4a" stroke-width="1.25"/>
<line x1="603.3" y1="86.4" x2="601.1" y2="89.3" stroke="#a8e29a" stroke-width="1.25"/>
<line x1="601.1" y1="89.3" x2="599" y2="92.3" stroke="#e84a4a" stroke-width="1.25"/>
<line x1="603.3" y1="86.4" x2="607.3" y2="89.3" stroke="#a8e29a" stroke-width="1.25"/>
<line x1="607.3" y1="89.3" x2="611.4" y2="92.3" stroke="#e84a4a" stroke-width="1.25"/>
<line x1="615.7" y1="86.4" x2="613.5" y2="89.3" stroke="#a8e29a" stroke-width="1.25"/>
<line x1="613.5" y1="89.3" x2="611.4" y2="92.3" stroke="#e84a4a" stroke-width="1.25"/>
<line x1="615.7" y1="86.4" x2="619.7" y2="89.3" stroke="#a8e29a" stroke-width="1.25"/>
<line x1="619.7" y1="89.3" x2="623.8" y2="92.3" stroke="#e84a4a" stroke-width="1.25"/>
<line x1="628.1" y1="86.4" x2="625.9" y2="89.3" stroke="#a8e29a" stroke-width="1.25"/>
<line x1="625.9" y1="89.3" x2="623.8" y2="92.3" stroke="#e84a4a" stroke-width="1.25"/>
<line x1="628.1" y1="86.4" x2="632.1" y2="89.3" stroke="#a8e29a" stroke-width="1.25"/>
<line x1="632.1" y1="89.3" x2="636.2" y2="92.3" stroke="#e84a4a" stroke-width="1.25"/>
<line x1="640.5" y1="86.4" x2="638.3" y2="89.3" stroke="#a8e29a" stroke-width="1.25"/>
<line x1="638.3" y1="89.3" x2="636.2" y2="92.3" stroke="#e84a4a" stroke-width="1.25"/>
<line x1="640.5" y1="86.4" x2="644.5" y2="89.3" stroke="#a8e29a" stroke-width="1.25"/>
<line x1="644.5" y1="89.3" x2="648.6" y2="92.3" stroke="#e84a4a" stroke-width="1.25"/>
<line x1="652.9" y1="86.4" x2="650.7" y2="89.3" stroke="#a8e29a" stroke-width="1.25"/>
<line x1="650.7" y1="89.3" x2="648.6" y2="92.3" stroke="#e84a4a" stroke-width="1.25"/>
<line x1="652.9" y1="86.4" x2="656.9" y2="89.3" stroke="#a8e29a" stroke-width="1.25"/>
<line x1="656.9" y1="89.3" x2="661" y2="92.3" stroke="#e84a4a" stroke-width="1.25"/>
<line x1="665.3" y1="86.4" x2="663.1" y2="89.3" stroke="#a8e29a" stroke-width="1.25"/>
<line x1="663.1" y1="89.3" x2="661" y2="92.3" stroke="#e84a4a" stroke-width="1.25"/>
<line x1="665.3" y1="86.4" x2="669.3" y2="89.3" stroke="#a8e29a" stroke-width="1.25"/>
<line x1="669.3" y1="89.3" x2="673.4" y2="92.3" stroke="#e84a4a" stroke-width="1.25"/>
<circle cx="516.5" cy="50.5" r="2.8" fill="url(#ballG)"/>
<circle cx="528.9" cy="50.5" r="2.8" fill="url(#ballG)"/>
<circle cx="541.3" cy="50.5" r="2.8" fill="url(#ballG)"/>
<circle cx="553.7" cy="50.5" r="2.8" fill="url(#ballG)"/>
<circle cx="566.1" cy="50.5" r="2.8" fill="url(#ballG)"/>
<circle cx="578.5" cy="50.5" r="2.8" fill="url(#ballG)"/>
<circle cx="590.9" cy="50.5" r="2.8" fill="url(#ballG)"/>
<circle cx="603.3" cy="50.5" r="2.8" fill="url(#ballG)"/>
<circle cx="615.7" cy="50.5" r="2.8" fill="url(#ballG)"/>
<circle cx="628.1" cy="50.5" r="2.8" fill="url(#ballG)"/>
<circle cx="640.5" cy="50.5" r="2.8" fill="url(#ballG)"/>
<circle cx="652.9" cy="50.5" r="2.8" fill="url(#ballG)"/>
<circle cx="665.3" cy="50.5" r="2.8" fill="url(#ballG)"/>
<circle cx="512.2" cy="55.7" r="1.5" fill="#e0201c"/>
<circle cx="524.6" cy="55.7" r="1.5" fill="#e0201c"/>
<circle cx="537" cy="55.7" r="1.5" fill="#e0201c"/>
<circle cx="549.4" cy="55.7" r="1.5" fill="#e0201c"/>
<circle cx="561.8" cy="55.7" r="1.5" fill="#e0201c"/>
<circle cx="574.2" cy="55.7" r="1.5" fill="#e0201c"/>
<circle cx="586.6" cy="55.7" r="1.5" fill="#e0201c"/>
<circle cx="599" cy="55.7" r="1.5" fill="#e0201c"/>
<circle cx="611.4" cy="55.7" r="1.5" fill="#e0201c"/>
<circle cx="623.8" cy="55.7" r="1.5" fill="#e0201c"/>
<circle cx="636.2" cy="55.7" r="1.5" fill="#e0201c"/>
<circle cx="648.6" cy="55.7" r="1.5" fill="#e0201c"/>
<circle cx="661" cy="55.7" r="1.5" fill="#e0201c"/>
<circle cx="673.4" cy="55.7" r="1.5" fill="#e0201c"/>
<circle cx="533" cy="62.6" r="3.1" fill="url(#ballL)"/>
<circle cx="545.4" cy="62.6" r="3.1" fill="url(#ballL)"/>
<circle cx="557.8" cy="62.6" r="3.1" fill="url(#ballL)"/>
<circle cx="570.2" cy="62.6" r="3.1" fill="url(#ballL)"/>
<circle cx="582.6" cy="62.6" r="3.1" fill="url(#ballL)"/>
<circle cx="595" cy="62.6" r="3.1" fill="url(#ballL)"/>
<circle cx="607.4" cy="62.6" r="3.1" fill="url(#ballL)"/>
<circle cx="619.8" cy="62.6" r="3.1" fill="url(#ballL)"/>
<circle cx="632.2" cy="62.6" r="3.1" fill="url(#ballL)"/>
<circle cx="644.6" cy="62.6" r="3.1" fill="url(#ballL)"/>
<circle cx="657" cy="62.6" r="3.1" fill="url(#ballL)"/>
<circle cx="516.5" cy="69.1" r="1.5" fill="#e0201c"/>
<circle cx="528.9" cy="69.1" r="1.5" fill="#e0201c"/>
<circle cx="541.3" cy="69.1" r="1.5" fill="#e0201c"/>
<circle cx="553.7" cy="69.1" r="1.5" fill="#e0201c"/>
<circle cx="566.1" cy="69.1" r="1.5" fill="#e0201c"/>
<circle cx="578.5" cy="69.1" r="1.5" fill="#e0201c"/>
<circle cx="590.9" cy="69.1" r="1.5" fill="#e0201c"/>
<circle cx="603.3" cy="69.1" r="1.5" fill="#e0201c"/>
<circle cx="615.7" cy="69.1" r="1.5" fill="#e0201c"/>
<circle cx="628.1" cy="69.1" r="1.5" fill="#e0201c"/>
<circle cx="640.5" cy="69.1" r="1.5" fill="#e0201c"/>
<circle cx="652.9" cy="69.1" r="1.5" fill="#e0201c"/>
<circle cx="665.3" cy="69.1" r="1.5" fill="#e0201c"/>
<circle cx="524.9" cy="74.3" r="2.8" fill="url(#ballG)"/>
<circle cx="537.3" cy="74.3" r="2.8" fill="url(#ballG)"/>
<circle cx="549.7" cy="74.3" r="2.8" fill="url(#ballG)"/>
<circle cx="562.1" cy="74.3" r="2.8" fill="url(#ballG)"/>
<circle cx="574.5" cy="74.3" r="2.8" fill="url(#ballG)"/>
<circle cx="586.9" cy="74.3" r="2.8" fill="url(#ballG)"/>
<circle cx="599.3" cy="74.3" r="2.8" fill="url(#ballG)"/>
<circle cx="611.7" cy="74.3" r="2.8" fill="url(#ballG)"/>
<circle cx="624.1" cy="74.3" r="2.8" fill="url(#ballG)"/>
<circle cx="636.5" cy="74.3" r="2.8" fill="url(#ballG)"/>
<circle cx="648.9" cy="74.3" r="2.8" fill="url(#ballG)"/>
<circle cx="508.1" cy="79.5" r="1.5" fill="#e0201c"/>
<circle cx="520.5" cy="79.5" r="1.5" fill="#e0201c"/>
<circle cx="532.9" cy="79.5" r="1.5" fill="#e0201c"/>
<circle cx="545.3" cy="79.5" r="1.5" fill="#e0201c"/>
<circle cx="557.7" cy="79.5" r="1.5" fill="#e0201c"/>
<circle cx="570.1" cy="79.5" r="1.5" fill="#e0201c"/>
<circle cx="582.5" cy="79.5" r="1.5" fill="#e0201c"/>
<circle cx="594.9" cy="79.5" r="1.5" fill="#e0201c"/>
<circle cx="607.3" cy="79.5" r="1.5" fill="#e0201c"/>
<circle cx="619.7" cy="79.5" r="1.5" fill="#e0201c"/>
<circle cx="632.1" cy="79.5" r="1.5" fill="#e0201c"/>
<circle cx="644.5" cy="79.5" r="1.5" fill="#e0201c"/>
<circle cx="656.9" cy="79.5" r="1.5" fill="#e0201c"/>
<circle cx="669.3" cy="79.5" r="1.5" fill="#e0201c"/>
<circle cx="516.5" cy="86.4" r="3.1" fill="url(#ballL)"/>
<circle cx="528.9" cy="86.4" r="3.1" fill="url(#ballL)"/>
<circle cx="541.3" cy="86.4" r="3.1" fill="url(#ballL)"/>
<circle cx="553.7" cy="86.4" r="3.1" fill="url(#ballL)"/>
<circle cx="566.1" cy="86.4" r="3.1" fill="url(#ballL)"/>
<circle cx="578.5" cy="86.4" r="3.1" fill="url(#ballL)"/>
<circle cx="590.9" cy="86.4" r="3.1" fill="url(#ballL)"/>
<circle cx="603.3" cy="86.4" r="3.1" fill="url(#ballL)"/>
<circle cx="615.7" cy="86.4" r="3.1" fill="url(#ballL)"/>
<circle cx="628.1" cy="86.4" r="3.1" fill="url(#ballL)"/>
<circle cx="640.5" cy="86.4" r="3.1" fill="url(#ballL)"/>
<circle cx="652.9" cy="86.4" r="3.1" fill="url(#ballL)"/>
<circle cx="665.3" cy="86.4" r="3.1" fill="url(#ballL)"/>
<circle cx="512.2" cy="92.3" r="1.5" fill="#e0201c"/>
<circle cx="524.6" cy="92.3" r="1.5" fill="#e0201c"/>
<circle cx="537" cy="92.3" r="1.5" fill="#e0201c"/>
<circle cx="549.4" cy="92.3" r="1.5" fill="#e0201c"/>
<circle cx="561.8" cy="92.3" r="1.5" fill="#e0201c"/>
<circle cx="574.2" cy="92.3" r="1.5" fill="#e0201c"/>
<circle cx="586.6" cy="92.3" r="1.5" fill="#e0201c"/>
<circle cx="599" cy="92.3" r="1.5" fill="#e0201c"/>
<circle cx="611.4" cy="92.3" r="1.5" fill="#e0201c"/>
<circle cx="623.8" cy="92.3" r="1.5" fill="#e0201c"/>
<circle cx="636.2" cy="92.3" r="1.5" fill="#e0201c"/>
<circle cx="648.6" cy="92.3" r="1.5" fill="#e0201c"/>
<circle cx="661" cy="92.3" r="1.5" fill="#e0201c"/>
<circle cx="673.4" cy="92.3" r="1.5" fill="#e0201c"/>
<line x1="510.8" y1="199.9" x2="508.5" y2="202.6" stroke="#b4b4b4" stroke-width="1.25"/>
<line x1="508.5" y1="202.6" x2="506.2" y2="205.4" stroke="#e84a4a" stroke-width="1.25"/>
<line x1="510.8" y1="199.9" x2="515" y2="202.6" stroke="#b4b4b4" stroke-width="1.25"/>
<line x1="515" y1="202.6" x2="519.2" y2="205.4" stroke="#e84a4a" stroke-width="1.25"/>
<line x1="523.8" y1="199.9" x2="521.5" y2="202.6" stroke="#b4b4b4" stroke-width="1.25"/>
<line x1="521.5" y1="202.6" x2="519.2" y2="205.4" stroke="#e84a4a" stroke-width="1.25"/>
<line x1="523.8" y1="199.9" x2="528" y2="202.6" stroke="#b4b4b4" stroke-width="1.25"/>
<line x1="528" y1="202.6" x2="532.2" y2="205.4" stroke="#e84a4a" stroke-width="1.25"/>
<line x1="536.8" y1="199.9" x2="534.5" y2="202.6" stroke="#b4b4b4" stroke-width="1.25"/>
<line x1="534.5" y1="202.6" x2="532.2" y2="205.4" stroke="#e84a4a" stroke-width="1.25"/>
<line x1="536.8" y1="199.9" x2="541" y2="202.6" stroke="#b4b4b4" stroke-width="1.25"/>
<line x1="541" y1="202.6" x2="545.2" y2="205.4" stroke="#e84a4a" stroke-width="1.25"/>
<line x1="549.8" y1="199.9" x2="547.5" y2="202.6" stroke="#b4b4b4" stroke-width="1.25"/>
<line x1="547.5" y1="202.6" x2="545.2" y2="205.4" stroke="#e84a4a" stroke-width="1.25"/>
<line x1="549.8" y1="199.9" x2="554" y2="202.6" stroke="#b4b4b4" stroke-width="1.25"/>
<line x1="554" y1="202.6" x2="558.2" y2="205.4" stroke="#e84a4a" stroke-width="1.25"/>
<line x1="562.8" y1="199.9" x2="560.5" y2="202.6" stroke="#b4b4b4" stroke-width="1.25"/>
<line x1="560.5" y1="202.6" x2="558.2" y2="205.4" stroke="#e84a4a" stroke-width="1.25"/>
<line x1="562.8" y1="199.9" x2="567" y2="202.6" stroke="#b4b4b4" stroke-width="1.25"/>
<line x1="567" y1="202.6" x2="571.2" y2="205.4" stroke="#e84a4a" stroke-width="1.25"/>
<line x1="575.8" y1="199.9" x2="573.5" y2="202.6" stroke="#b4b4b4" stroke-width="1.25"/>
<line x1="573.5" y1="202.6" x2="571.2" y2="205.4" stroke="#e84a4a" stroke-width="1.25"/>
<line x1="575.8" y1="199.9" x2="580" y2="202.6" stroke="#b4b4b4" stroke-width="1.25"/>
<line x1="580" y1="202.6" x2="584.2" y2="205.4" stroke="#e84a4a" stroke-width="1.25"/>
<line x1="588.8" y1="199.9" x2="586.5" y2="202.6" stroke="#b4b4b4" stroke-width="1.25"/>
<line x1="586.5" y1="202.6" x2="584.2" y2="205.4" stroke="#e84a4a" stroke-width="1.25"/>
<line x1="588.8" y1="199.9" x2="593" y2="202.6" stroke="#b4b4b4" stroke-width="1.25"/>
<line x1="593" y1="202.6" x2="597.2" y2="205.4" stroke="#e84a4a" stroke-width="1.25"/>
<line x1="601.8" y1="199.9" x2="599.5" y2="202.6" stroke="#b4b4b4" stroke-width="1.25"/>
<line x1="599.5" y1="202.6" x2="597.2" y2="205.4" stroke="#e84a4a" stroke-width="1.25"/>
<line x1="601.8" y1="199.9" x2="606" y2="202.6" stroke="#b4b4b4" stroke-width="1.25"/>
<line x1="606" y1="202.6" x2="610.2" y2="205.4" stroke="#e84a4a" stroke-width="1.25"/>
<line x1="614.8" y1="199.9" x2="612.5" y2="202.6" stroke="#b4b4b4" stroke-width="1.25"/>
<line x1="612.5" y1="202.6" x2="610.2" y2="205.4" stroke="#e84a4a" stroke-width="1.25"/>
<line x1="614.8" y1="199.9" x2="619" y2="202.6" stroke="#b4b4b4" stroke-width="1.25"/>
<line x1="619" y1="202.6" x2="623.2" y2="205.4" stroke="#e84a4a" stroke-width="1.25"/>
<line x1="627.8" y1="199.9" x2="625.5" y2="202.6" stroke="#b4b4b4" stroke-width="1.25"/>
<line x1="625.5" y1="202.6" x2="623.2" y2="205.4" stroke="#e84a4a" stroke-width="1.25"/>
<line x1="627.8" y1="199.9" x2="632" y2="202.6" stroke="#b4b4b4" stroke-width="1.25"/>
<line x1="632" y1="202.6" x2="636.2" y2="205.4" stroke="#e84a4a" stroke-width="1.25"/>
<line x1="640.8" y1="199.9" x2="638.5" y2="202.6" stroke="#b4b4b4" stroke-width="1.25"/>
<line x1="638.5" y1="202.6" x2="636.2" y2="205.4" stroke="#e84a4a" stroke-width="1.25"/>
<line x1="640.8" y1="199.9" x2="645" y2="202.6" stroke="#b4b4b4" stroke-width="1.25"/>
<line x1="645" y1="202.6" x2="649.2" y2="205.4" stroke="#e84a4a" stroke-width="1.25"/>
<line x1="653.8" y1="199.9" x2="651.5" y2="202.6" stroke="#b4b4b4" stroke-width="1.25"/>
<line x1="651.5" y1="202.6" x2="649.2" y2="205.4" stroke="#e84a4a" stroke-width="1.25"/>
<line x1="653.8" y1="199.9" x2="658" y2="202.6" stroke="#b4b4b4" stroke-width="1.25"/>
<line x1="658" y1="202.6" x2="662.2" y2="205.4" stroke="#e84a4a" stroke-width="1.25"/>
<line x1="666.8" y1="199.9" x2="664.5" y2="202.6" stroke="#b4b4b4" stroke-width="1.25"/>
<line x1="664.5" y1="202.6" x2="662.2" y2="205.4" stroke="#e84a4a" stroke-width="1.25"/>
<line x1="666.8" y1="199.9" x2="671" y2="202.6" stroke="#b4b4b4" stroke-width="1.25"/>
<line x1="671" y1="202.6" x2="675.2" y2="205.4" stroke="#e84a4a" stroke-width="1.25"/>
<line x1="519.2" y1="205.4" x2="523.7" y2="209" stroke="#e84a4a" stroke-width="1.25"/>
<line x1="523.7" y1="209" x2="528.1" y2="212.6" stroke="#a8e29a" stroke-width="1.25"/>
<line x1="532.2" y1="205.4" x2="530.2" y2="209" stroke="#e84a4a" stroke-width="1.25"/>
<line x1="530.2" y1="209" x2="528.1" y2="212.6" stroke="#a8e29a" stroke-width="1.25"/>
<line x1="532.2" y1="205.4" x2="536.7" y2="209" stroke="#e84a4a" stroke-width="1.25"/>
<line x1="536.7" y1="209" x2="541.1" y2="212.6" stroke="#a8e29a" stroke-width="1.25"/>
<line x1="545.2" y1="205.4" x2="543.2" y2="209" stroke="#e84a4a" stroke-width="1.25"/>
<line x1="543.2" y1="209" x2="541.1" y2="212.6" stroke="#a8e29a" stroke-width="1.25"/>
<line x1="545.2" y1="205.4" x2="549.7" y2="209" stroke="#e84a4a" stroke-width="1.25"/>
<line x1="549.7" y1="209" x2="554.1" y2="212.6" stroke="#a8e29a" stroke-width="1.25"/>
<line x1="558.2" y1="205.4" x2="556.2" y2="209" stroke="#e84a4a" stroke-width="1.25"/>
<line x1="556.2" y1="209" x2="554.1" y2="212.6" stroke="#a8e29a" stroke-width="1.25"/>
<line x1="558.2" y1="205.4" x2="562.7" y2="209" stroke="#e84a4a" stroke-width="1.25"/>
<line x1="562.7" y1="209" x2="567.1" y2="212.6" stroke="#a8e29a" stroke-width="1.25"/>
<line x1="571.2" y1="205.4" x2="569.2" y2="209" stroke="#e84a4a" stroke-width="1.25"/>
<line x1="569.2" y1="209" x2="567.1" y2="212.6" stroke="#a8e29a" stroke-width="1.25"/>
<line x1="571.2" y1="205.4" x2="575.7" y2="209" stroke="#e84a4a" stroke-width="1.25"/>
<line x1="575.7" y1="209" x2="580.1" y2="212.6" stroke="#a8e29a" stroke-width="1.25"/>
<line x1="584.2" y1="205.4" x2="582.2" y2="209" stroke="#e84a4a" stroke-width="1.25"/>
<line x1="582.2" y1="209" x2="580.1" y2="212.6" stroke="#a8e29a" stroke-width="1.25"/>
<line x1="584.2" y1="205.4" x2="588.7" y2="209" stroke="#e84a4a" stroke-width="1.25"/>
<line x1="588.7" y1="209" x2="593.1" y2="212.6" stroke="#a8e29a" stroke-width="1.25"/>
<line x1="597.2" y1="205.4" x2="595.2" y2="209" stroke="#e84a4a" stroke-width="1.25"/>
<line x1="595.2" y1="209" x2="593.1" y2="212.6" stroke="#a8e29a" stroke-width="1.25"/>
<line x1="597.2" y1="205.4" x2="601.7" y2="209" stroke="#e84a4a" stroke-width="1.25"/>
<line x1="601.7" y1="209" x2="606.1" y2="212.6" stroke="#a8e29a" stroke-width="1.25"/>
<line x1="610.2" y1="205.4" x2="608.2" y2="209" stroke="#e84a4a" stroke-width="1.25"/>
<line x1="608.2" y1="209" x2="606.1" y2="212.6" stroke="#a8e29a" stroke-width="1.25"/>
<line x1="610.2" y1="205.4" x2="614.7" y2="209" stroke="#e84a4a" stroke-width="1.25"/>
<line x1="614.7" y1="209" x2="619.1" y2="212.6" stroke="#a8e29a" stroke-width="1.25"/>
<line x1="623.2" y1="205.4" x2="621.2" y2="209" stroke="#e84a4a" stroke-width="1.25"/>
<line x1="621.2" y1="209" x2="619.1" y2="212.6" stroke="#a8e29a" stroke-width="1.25"/>
<line x1="623.2" y1="205.4" x2="627.7" y2="209" stroke="#e84a4a" stroke-width="1.25"/>
<line x1="627.7" y1="209" x2="632.1" y2="212.6" stroke="#a8e29a" stroke-width="1.25"/>
<line x1="636.2" y1="205.4" x2="634.2" y2="209" stroke="#e84a4a" stroke-width="1.25"/>
<line x1="634.2" y1="209" x2="632.1" y2="212.6" stroke="#a8e29a" stroke-width="1.25"/>
<line x1="636.2" y1="205.4" x2="640.7" y2="209" stroke="#e84a4a" stroke-width="1.25"/>
<line x1="640.7" y1="209" x2="645.1" y2="212.6" stroke="#a8e29a" stroke-width="1.25"/>
<line x1="649.2" y1="205.4" x2="647.2" y2="209" stroke="#e84a4a" stroke-width="1.25"/>
<line x1="647.2" y1="209" x2="645.1" y2="212.6" stroke="#a8e29a" stroke-width="1.25"/>
<line x1="649.2" y1="205.4" x2="653.7" y2="209" stroke="#e84a4a" stroke-width="1.25"/>
<line x1="653.7" y1="209" x2="658.1" y2="212.6" stroke="#a8e29a" stroke-width="1.25"/>
<line x1="662.2" y1="205.4" x2="660.2" y2="209" stroke="#e84a4a" stroke-width="1.25"/>
<line x1="660.2" y1="209" x2="658.1" y2="212.6" stroke="#a8e29a" stroke-width="1.25"/>
<line x1="528.1" y1="212.6" x2="525.9" y2="216" stroke="#a8e29a" stroke-width="1.25"/>
<line x1="525.9" y1="216" x2="523.8" y2="219.4" stroke="#e84a4a" stroke-width="1.25"/>
<line x1="528.1" y1="212.6" x2="532.4" y2="216" stroke="#a8e29a" stroke-width="1.25"/>
<line x1="532.4" y1="216" x2="536.8" y2="219.4" stroke="#e84a4a" stroke-width="1.25"/>
<line x1="541.1" y1="212.6" x2="538.9" y2="216" stroke="#a8e29a" stroke-width="1.25"/>
<line x1="538.9" y1="216" x2="536.8" y2="219.4" stroke="#e84a4a" stroke-width="1.25"/>
<line x1="541.1" y1="212.6" x2="545.4" y2="216" stroke="#a8e29a" stroke-width="1.25"/>
<line x1="545.4" y1="216" x2="549.8" y2="219.4" stroke="#e84a4a" stroke-width="1.25"/>
<line x1="554.1" y1="212.6" x2="551.9" y2="216" stroke="#a8e29a" stroke-width="1.25"/>
<line x1="551.9" y1="216" x2="549.8" y2="219.4" stroke="#e84a4a" stroke-width="1.25"/>
<line x1="554.1" y1="212.6" x2="558.4" y2="216" stroke="#a8e29a" stroke-width="1.25"/>
<line x1="558.4" y1="216" x2="562.8" y2="219.4" stroke="#e84a4a" stroke-width="1.25"/>
<line x1="567.1" y1="212.6" x2="564.9" y2="216" stroke="#a8e29a" stroke-width="1.25"/>
<line x1="564.9" y1="216" x2="562.8" y2="219.4" stroke="#e84a4a" stroke-width="1.25"/>
<line x1="567.1" y1="212.6" x2="571.4" y2="216" stroke="#a8e29a" stroke-width="1.25"/>
<line x1="571.4" y1="216" x2="575.8" y2="219.4" stroke="#e84a4a" stroke-width="1.25"/>
<line x1="580.1" y1="212.6" x2="577.9" y2="216" stroke="#a8e29a" stroke-width="1.25"/>
<line x1="577.9" y1="216" x2="575.8" y2="219.4" stroke="#e84a4a" stroke-width="1.25"/>
<line x1="580.1" y1="212.6" x2="584.4" y2="216" stroke="#a8e29a" stroke-width="1.25"/>
<line x1="584.4" y1="216" x2="588.8" y2="219.4" stroke="#e84a4a" stroke-width="1.25"/>
<line x1="593.1" y1="212.6" x2="590.9" y2="216" stroke="#a8e29a" stroke-width="1.25"/>
<line x1="590.9" y1="216" x2="588.8" y2="219.4" stroke="#e84a4a" stroke-width="1.25"/>
<line x1="593.1" y1="212.6" x2="597.4" y2="216" stroke="#a8e29a" stroke-width="1.25"/>
<line x1="597.4" y1="216" x2="601.8" y2="219.4" stroke="#e84a4a" stroke-width="1.25"/>
<line x1="606.1" y1="212.6" x2="603.9" y2="216" stroke="#a8e29a" stroke-width="1.25"/>
<line x1="603.9" y1="216" x2="601.8" y2="219.4" stroke="#e84a4a" stroke-width="1.25"/>
<line x1="606.1" y1="212.6" x2="610.4" y2="216" stroke="#a8e29a" stroke-width="1.25"/>
<line x1="610.4" y1="216" x2="614.8" y2="219.4" stroke="#e84a4a" stroke-width="1.25"/>
<line x1="619.1" y1="212.6" x2="616.9" y2="216" stroke="#a8e29a" stroke-width="1.25"/>
<line x1="616.9" y1="216" x2="614.8" y2="219.4" stroke="#e84a4a" stroke-width="1.25"/>
<line x1="619.1" y1="212.6" x2="623.4" y2="216" stroke="#a8e29a" stroke-width="1.25"/>
<line x1="623.4" y1="216" x2="627.8" y2="219.4" stroke="#e84a4a" stroke-width="1.25"/>
<line x1="632.1" y1="212.6" x2="629.9" y2="216" stroke="#a8e29a" stroke-width="1.25"/>
<line x1="629.9" y1="216" x2="627.8" y2="219.4" stroke="#e84a4a" stroke-width="1.25"/>
<line x1="632.1" y1="212.6" x2="636.4" y2="216" stroke="#a8e29a" stroke-width="1.25"/>
<line x1="636.4" y1="216" x2="640.8" y2="219.4" stroke="#e84a4a" stroke-width="1.25"/>
<line x1="645.1" y1="212.6" x2="642.9" y2="216" stroke="#a8e29a" stroke-width="1.25"/>
<line x1="642.9" y1="216" x2="640.8" y2="219.4" stroke="#e84a4a" stroke-width="1.25"/>
<line x1="645.1" y1="212.6" x2="649.4" y2="216" stroke="#a8e29a" stroke-width="1.25"/>
<line x1="649.4" y1="216" x2="653.8" y2="219.4" stroke="#e84a4a" stroke-width="1.25"/>
<line x1="658.1" y1="212.6" x2="655.9" y2="216" stroke="#a8e29a" stroke-width="1.25"/>
<line x1="655.9" y1="216" x2="653.8" y2="219.4" stroke="#e84a4a" stroke-width="1.25"/>
<line x1="658.1" y1="212.6" x2="662.4" y2="216" stroke="#a8e29a" stroke-width="1.25"/>
<line x1="662.4" y1="216" x2="666.8" y2="219.4" stroke="#e84a4a" stroke-width="1.25"/>
<line x1="510.8" y1="219.4" x2="515.2" y2="222.1" stroke="#e84a4a" stroke-width="1.25"/>
<line x1="515.2" y1="222.1" x2="519.6" y2="224.9" stroke="#b4b4b4" stroke-width="1.25"/>
<line x1="523.8" y1="219.4" x2="521.7" y2="222.1" stroke="#e84a4a" stroke-width="1.25"/>
<line x1="521.7" y1="222.1" x2="519.6" y2="224.9" stroke="#b4b4b4" stroke-width="1.25"/>
<line x1="523.8" y1="219.4" x2="528.2" y2="222.1" stroke="#e84a4a" stroke-width="1.25"/>
<line x1="528.2" y1="222.1" x2="532.6" y2="224.9" stroke="#b4b4b4" stroke-width="1.25"/>
<line x1="536.8" y1="219.4" x2="534.7" y2="222.1" stroke="#e84a4a" stroke-width="1.25"/>
<line x1="534.7" y1="222.1" x2="532.6" y2="224.9" stroke="#b4b4b4" stroke-width="1.25"/>
<line x1="536.8" y1="219.4" x2="541.2" y2="222.1" stroke="#e84a4a" stroke-width="1.25"/>
<line x1="541.2" y1="222.1" x2="545.6" y2="224.9" stroke="#b4b4b4" stroke-width="1.25"/>
<line x1="549.8" y1="219.4" x2="547.7" y2="222.1" stroke="#e84a4a" stroke-width="1.25"/>
<line x1="547.7" y1="222.1" x2="545.6" y2="224.9" stroke="#b4b4b4" stroke-width="1.25"/>
<line x1="549.8" y1="219.4" x2="554.2" y2="222.1" stroke="#e84a4a" stroke-width="1.25"/>
<line x1="554.2" y1="222.1" x2="558.6" y2="224.9" stroke="#b4b4b4" stroke-width="1.25"/>
<line x1="562.8" y1="219.4" x2="560.7" y2="222.1" stroke="#e84a4a" stroke-width="1.25"/>
<line x1="560.7" y1="222.1" x2="558.6" y2="224.9" stroke="#b4b4b4" stroke-width="1.25"/>
<line x1="562.8" y1="219.4" x2="567.2" y2="222.1" stroke="#e84a4a" stroke-width="1.25"/>
<line x1="567.2" y1="222.1" x2="571.6" y2="224.9" stroke="#b4b4b4" stroke-width="1.25"/>
<line x1="575.8" y1="219.4" x2="573.7" y2="222.1" stroke="#e84a4a" stroke-width="1.25"/>
<line x1="573.7" y1="222.1" x2="571.6" y2="224.9" stroke="#b4b4b4" stroke-width="1.25"/>
<line x1="575.8" y1="219.4" x2="580.2" y2="222.1" stroke="#e84a4a" stroke-width="1.25"/>
<line x1="580.2" y1="222.1" x2="584.6" y2="224.9" stroke="#b4b4b4" stroke-width="1.25"/>
<line x1="588.8" y1="219.4" x2="586.7" y2="222.1" stroke="#e84a4a" stroke-width="1.25"/>
<line x1="586.7" y1="222.1" x2="584.6" y2="224.9" stroke="#b4b4b4" stroke-width="1.25"/>
<line x1="588.8" y1="219.4" x2="593.2" y2="222.1" stroke="#e84a4a" stroke-width="1.25"/>
<line x1="593.2" y1="222.1" x2="597.6" y2="224.9" stroke="#b4b4b4" stroke-width="1.25"/>
<line x1="601.8" y1="219.4" x2="599.7" y2="222.1" stroke="#e84a4a" stroke-width="1.25"/>
<line x1="599.7" y1="222.1" x2="597.6" y2="224.9" stroke="#b4b4b4" stroke-width="1.25"/>
<line x1="601.8" y1="219.4" x2="606.2" y2="222.1" stroke="#e84a4a" stroke-width="1.25"/>
<line x1="606.2" y1="222.1" x2="610.6" y2="224.9" stroke="#b4b4b4" stroke-width="1.25"/>
<line x1="614.8" y1="219.4" x2="612.7" y2="222.1" stroke="#e84a4a" stroke-width="1.25"/>
<line x1="612.7" y1="222.1" x2="610.6" y2="224.9" stroke="#b4b4b4" stroke-width="1.25"/>
<line x1="614.8" y1="219.4" x2="619.2" y2="222.1" stroke="#e84a4a" stroke-width="1.25"/>
<line x1="619.2" y1="222.1" x2="623.6" y2="224.9" stroke="#b4b4b4" stroke-width="1.25"/>
<line x1="627.8" y1="219.4" x2="625.7" y2="222.1" stroke="#e84a4a" stroke-width="1.25"/>
<line x1="625.7" y1="222.1" x2="623.6" y2="224.9" stroke="#b4b4b4" stroke-width="1.25"/>
<line x1="627.8" y1="219.4" x2="632.2" y2="222.1" stroke="#e84a4a" stroke-width="1.25"/>
<line x1="632.2" y1="222.1" x2="636.6" y2="224.9" stroke="#b4b4b4" stroke-width="1.25"/>
<line x1="640.8" y1="219.4" x2="638.7" y2="222.1" stroke="#e84a4a" stroke-width="1.25"/>
<line x1="638.7" y1="222.1" x2="636.6" y2="224.9" stroke="#b4b4b4" stroke-width="1.25"/>
<line x1="640.8" y1="219.4" x2="645.2" y2="222.1" stroke="#e84a4a" stroke-width="1.25"/>
<line x1="645.2" y1="222.1" x2="649.6" y2="224.9" stroke="#b4b4b4" stroke-width="1.25"/>
<line x1="653.8" y1="219.4" x2="651.7" y2="222.1" stroke="#e84a4a" stroke-width="1.25"/>
<line x1="651.7" y1="222.1" x2="649.6" y2="224.9" stroke="#b4b4b4" stroke-width="1.25"/>
<line x1="519.6" y1="224.9" x2="517.3" y2="227.6" stroke="#b4b4b4" stroke-width="1.25"/>
<line x1="517.3" y1="227.6" x2="515" y2="230.3" stroke="#e84a4a" stroke-width="1.25"/>
<line x1="519.6" y1="224.9" x2="523.8" y2="227.6" stroke="#b4b4b4" stroke-width="1.25"/>
<line x1="523.8" y1="227.6" x2="528" y2="230.3" stroke="#e84a4a" stroke-width="1.25"/>
<line x1="532.6" y1="224.9" x2="530.3" y2="227.6" stroke="#b4b4b4" stroke-width="1.25"/>
<line x1="530.3" y1="227.6" x2="528" y2="230.3" stroke="#e84a4a" stroke-width="1.25"/>
<line x1="532.6" y1="224.9" x2="536.8" y2="227.6" stroke="#b4b4b4" stroke-width="1.25"/>
<line x1="536.8" y1="227.6" x2="541" y2="230.3" stroke="#e84a4a" stroke-width="1.25"/>
<line x1="545.6" y1="224.9" x2="543.3" y2="227.6" stroke="#b4b4b4" stroke-width="1.25"/>
<line x1="543.3" y1="227.6" x2="541" y2="230.3" stroke="#e84a4a" stroke-width="1.25"/>
<line x1="545.6" y1="224.9" x2="549.8" y2="227.6" stroke="#b4b4b4" stroke-width="1.25"/>
<line x1="549.8" y1="227.6" x2="554" y2="230.3" stroke="#e84a4a" stroke-width="1.25"/>
<line x1="558.6" y1="224.9" x2="556.3" y2="227.6" stroke="#b4b4b4" stroke-width="1.25"/>
<line x1="556.3" y1="227.6" x2="554" y2="230.3" stroke="#e84a4a" stroke-width="1.25"/>
<line x1="558.6" y1="224.9" x2="562.8" y2="227.6" stroke="#b4b4b4" stroke-width="1.25"/>
<line x1="562.8" y1="227.6" x2="567" y2="230.3" stroke="#e84a4a" stroke-width="1.25"/>
<line x1="571.6" y1="224.9" x2="569.3" y2="227.6" stroke="#b4b4b4" stroke-width="1.25"/>
<line x1="569.3" y1="227.6" x2="567" y2="230.3" stroke="#e84a4a" stroke-width="1.25"/>
<line x1="571.6" y1="224.9" x2="575.8" y2="227.6" stroke="#b4b4b4" stroke-width="1.25"/>
<line x1="575.8" y1="227.6" x2="580" y2="230.3" stroke="#e84a4a" stroke-width="1.25"/>
<line x1="584.6" y1="224.9" x2="582.3" y2="227.6" stroke="#b4b4b4" stroke-width="1.25"/>
<line x1="582.3" y1="227.6" x2="580" y2="230.3" stroke="#e84a4a" stroke-width="1.25"/>
<line x1="584.6" y1="224.9" x2="588.8" y2="227.6" stroke="#b4b4b4" stroke-width="1.25"/>
<line x1="588.8" y1="227.6" x2="593" y2="230.3" stroke="#e84a4a" stroke-width="1.25"/>
<line x1="597.6" y1="224.9" x2="595.3" y2="227.6" stroke="#b4b4b4" stroke-width="1.25"/>
<line x1="595.3" y1="227.6" x2="593" y2="230.3" stroke="#e84a4a" stroke-width="1.25"/>
<line x1="597.6" y1="224.9" x2="601.8" y2="227.6" stroke="#b4b4b4" stroke-width="1.25"/>
<line x1="601.8" y1="227.6" x2="606" y2="230.3" stroke="#e84a4a" stroke-width="1.25"/>
<line x1="610.6" y1="224.9" x2="608.3" y2="227.6" stroke="#b4b4b4" stroke-width="1.25"/>
<line x1="608.3" y1="227.6" x2="606" y2="230.3" stroke="#e84a4a" stroke-width="1.25"/>
<line x1="610.6" y1="224.9" x2="614.8" y2="227.6" stroke="#b4b4b4" stroke-width="1.25"/>
<line x1="614.8" y1="227.6" x2="619" y2="230.3" stroke="#e84a4a" stroke-width="1.25"/>
<line x1="623.6" y1="224.9" x2="621.3" y2="227.6" stroke="#b4b4b4" stroke-width="1.25"/>
<line x1="621.3" y1="227.6" x2="619" y2="230.3" stroke="#e84a4a" stroke-width="1.25"/>
<line x1="623.6" y1="224.9" x2="627.8" y2="227.6" stroke="#b4b4b4" stroke-width="1.25"/>
<line x1="627.8" y1="227.6" x2="632" y2="230.3" stroke="#e84a4a" stroke-width="1.25"/>
<line x1="636.6" y1="224.9" x2="634.3" y2="227.6" stroke="#b4b4b4" stroke-width="1.25"/>
<line x1="634.3" y1="227.6" x2="632" y2="230.3" stroke="#e84a4a" stroke-width="1.25"/>
<line x1="636.6" y1="224.9" x2="640.8" y2="227.6" stroke="#b4b4b4" stroke-width="1.25"/>
<line x1="640.8" y1="227.6" x2="645" y2="230.3" stroke="#e84a4a" stroke-width="1.25"/>
<line x1="649.6" y1="224.9" x2="647.3" y2="227.6" stroke="#b4b4b4" stroke-width="1.25"/>
<line x1="647.3" y1="227.6" x2="645" y2="230.3" stroke="#e84a4a" stroke-width="1.25"/>
<line x1="649.6" y1="224.9" x2="653.8" y2="227.6" stroke="#b4b4b4" stroke-width="1.25"/>
<line x1="653.8" y1="227.6" x2="658" y2="230.3" stroke="#e84a4a" stroke-width="1.25"/>
<line x1="502" y1="230.3" x2="506.4" y2="233.9" stroke="#e84a4a" stroke-width="1.25"/>
<line x1="506.4" y1="233.9" x2="510.8" y2="237.5" stroke="#a8e29a" stroke-width="1.25"/>
<line x1="515" y1="230.3" x2="512.9" y2="233.9" stroke="#e84a4a" stroke-width="1.25"/>
<line x1="512.9" y1="233.9" x2="510.8" y2="237.5" stroke="#a8e29a" stroke-width="1.25"/>
<line x1="515" y1="230.3" x2="519.4" y2="233.9" stroke="#e84a4a" stroke-width="1.25"/>
<line x1="519.4" y1="233.9" x2="523.8" y2="237.5" stroke="#a8e29a" stroke-width="1.25"/>
<line x1="528" y1="230.3" x2="525.9" y2="233.9" stroke="#e84a4a" stroke-width="1.25"/>
<line x1="525.9" y1="233.9" x2="523.8" y2="237.5" stroke="#a8e29a" stroke-width="1.25"/>
<line x1="528" y1="230.3" x2="532.4" y2="233.9" stroke="#e84a4a" stroke-width="1.25"/>
<line x1="532.4" y1="233.9" x2="536.8" y2="237.5" stroke="#a8e29a" stroke-width="1.25"/>
<line x1="541" y1="230.3" x2="538.9" y2="233.9" stroke="#e84a4a" stroke-width="1.25"/>
<line x1="538.9" y1="233.9" x2="536.8" y2="237.5" stroke="#a8e29a" stroke-width="1.25"/>
<line x1="541" y1="230.3" x2="545.4" y2="233.9" stroke="#e84a4a" stroke-width="1.25"/>
<line x1="545.4" y1="233.9" x2="549.8" y2="237.5" stroke="#a8e29a" stroke-width="1.25"/>
<line x1="554" y1="230.3" x2="551.9" y2="233.9" stroke="#e84a4a" stroke-width="1.25"/>
<line x1="551.9" y1="233.9" x2="549.8" y2="237.5" stroke="#a8e29a" stroke-width="1.25"/>
<line x1="554" y1="230.3" x2="558.4" y2="233.9" stroke="#e84a4a" stroke-width="1.25"/>
<line x1="558.4" y1="233.9" x2="562.8" y2="237.5" stroke="#a8e29a" stroke-width="1.25"/>
<line x1="567" y1="230.3" x2="564.9" y2="233.9" stroke="#e84a4a" stroke-width="1.25"/>
<line x1="564.9" y1="233.9" x2="562.8" y2="237.5" stroke="#a8e29a" stroke-width="1.25"/>
<line x1="567" y1="230.3" x2="571.4" y2="233.9" stroke="#e84a4a" stroke-width="1.25"/>
<line x1="571.4" y1="233.9" x2="575.8" y2="237.5" stroke="#a8e29a" stroke-width="1.25"/>
<line x1="580" y1="230.3" x2="577.9" y2="233.9" stroke="#e84a4a" stroke-width="1.25"/>
<line x1="577.9" y1="233.9" x2="575.8" y2="237.5" stroke="#a8e29a" stroke-width="1.25"/>
<line x1="580" y1="230.3" x2="584.4" y2="233.9" stroke="#e84a4a" stroke-width="1.25"/>
<line x1="584.4" y1="233.9" x2="588.8" y2="237.5" stroke="#a8e29a" stroke-width="1.25"/>
<line x1="593" y1="230.3" x2="590.9" y2="233.9" stroke="#e84a4a" stroke-width="1.25"/>
<line x1="590.9" y1="233.9" x2="588.8" y2="237.5" stroke="#a8e29a" stroke-width="1.25"/>
<line x1="593" y1="230.3" x2="597.4" y2="233.9" stroke="#e84a4a" stroke-width="1.25"/>
<line x1="597.4" y1="233.9" x2="601.8" y2="237.5" stroke="#a8e29a" stroke-width="1.25"/>
<line x1="606" y1="230.3" x2="603.9" y2="233.9" stroke="#e84a4a" stroke-width="1.25"/>
<line x1="603.9" y1="233.9" x2="601.8" y2="237.5" stroke="#a8e29a" stroke-width="1.25"/>
<line x1="606" y1="230.3" x2="610.4" y2="233.9" stroke="#e84a4a" stroke-width="1.25"/>
<line x1="610.4" y1="233.9" x2="614.8" y2="237.5" stroke="#a8e29a" stroke-width="1.25"/>
<line x1="619" y1="230.3" x2="616.9" y2="233.9" stroke="#e84a4a" stroke-width="1.25"/>
<line x1="616.9" y1="233.9" x2="614.8" y2="237.5" stroke="#a8e29a" stroke-width="1.25"/>
<line x1="619" y1="230.3" x2="623.4" y2="233.9" stroke="#e84a4a" stroke-width="1.25"/>
<line x1="623.4" y1="233.9" x2="627.8" y2="237.5" stroke="#a8e29a" stroke-width="1.25"/>
<line x1="632" y1="230.3" x2="629.9" y2="233.9" stroke="#e84a4a" stroke-width="1.25"/>
<line x1="629.9" y1="233.9" x2="627.8" y2="237.5" stroke="#a8e29a" stroke-width="1.25"/>
<line x1="632" y1="230.3" x2="636.4" y2="233.9" stroke="#e84a4a" stroke-width="1.25"/>
<line x1="636.4" y1="233.9" x2="640.8" y2="237.5" stroke="#a8e29a" stroke-width="1.25"/>
<line x1="645" y1="230.3" x2="642.9" y2="233.9" stroke="#e84a4a" stroke-width="1.25"/>
<line x1="642.9" y1="233.9" x2="640.8" y2="237.5" stroke="#a8e29a" stroke-width="1.25"/>
<line x1="645" y1="230.3" x2="649.4" y2="233.9" stroke="#e84a4a" stroke-width="1.25"/>
<line x1="649.4" y1="233.9" x2="653.8" y2="237.5" stroke="#a8e29a" stroke-width="1.25"/>
<line x1="658" y1="230.3" x2="655.9" y2="233.9" stroke="#e84a4a" stroke-width="1.25"/>
<line x1="655.9" y1="233.9" x2="653.8" y2="237.5" stroke="#a8e29a" stroke-width="1.25"/>
<line x1="658" y1="230.3" x2="662.4" y2="233.9" stroke="#e84a4a" stroke-width="1.25"/>
<line x1="662.4" y1="233.9" x2="666.8" y2="237.5" stroke="#a8e29a" stroke-width="1.25"/>
<line x1="671" y1="230.3" x2="668.9" y2="233.9" stroke="#e84a4a" stroke-width="1.25"/>
<line x1="668.9" y1="233.9" x2="666.8" y2="237.5" stroke="#a8e29a" stroke-width="1.25"/>
<line x1="510.8" y1="237.5" x2="508.5" y2="240.6" stroke="#a8e29a" stroke-width="1.25"/>
<line x1="508.5" y1="240.6" x2="506.2" y2="243.7" stroke="#e84a4a" stroke-width="1.25"/>
<line x1="510.8" y1="237.5" x2="515" y2="240.6" stroke="#a8e29a" stroke-width="1.25"/>
<line x1="515" y1="240.6" x2="519.2" y2="243.7" stroke="#e84a4a" stroke-width="1.25"/>
<line x1="523.8" y1="237.5" x2="521.5" y2="240.6" stroke="#a8e29a" stroke-width="1.25"/>
<line x1="521.5" y1="240.6" x2="519.2" y2="243.7" stroke="#e84a4a" stroke-width="1.25"/>
<line x1="523.8" y1="237.5" x2="528" y2="240.6" stroke="#a8e29a" stroke-width="1.25"/>
<line x1="528" y1="240.6" x2="532.2" y2="243.7" stroke="#e84a4a" stroke-width="1.25"/>
<line x1="536.8" y1="237.5" x2="534.5" y2="240.6" stroke="#a8e29a" stroke-width="1.25"/>
<line x1="534.5" y1="240.6" x2="532.2" y2="243.7" stroke="#e84a4a" stroke-width="1.25"/>
<line x1="536.8" y1="237.5" x2="541" y2="240.6" stroke="#a8e29a" stroke-width="1.25"/>
<line x1="541" y1="240.6" x2="545.2" y2="243.7" stroke="#e84a4a" stroke-width="1.25"/>
<line x1="549.8" y1="237.5" x2="547.5" y2="240.6" stroke="#a8e29a" stroke-width="1.25"/>
<line x1="547.5" y1="240.6" x2="545.2" y2="243.7" stroke="#e84a4a" stroke-width="1.25"/>
<line x1="549.8" y1="237.5" x2="554" y2="240.6" stroke="#a8e29a" stroke-width="1.25"/>
<line x1="554" y1="240.6" x2="558.2" y2="243.7" stroke="#e84a4a" stroke-width="1.25"/>
<line x1="562.8" y1="237.5" x2="560.5" y2="240.6" stroke="#a8e29a" stroke-width="1.25"/>
<line x1="560.5" y1="240.6" x2="558.2" y2="243.7" stroke="#e84a4a" stroke-width="1.25"/>
<line x1="562.8" y1="237.5" x2="567" y2="240.6" stroke="#a8e29a" stroke-width="1.25"/>
<line x1="567" y1="240.6" x2="571.2" y2="243.7" stroke="#e84a4a" stroke-width="1.25"/>
<line x1="575.8" y1="237.5" x2="573.5" y2="240.6" stroke="#a8e29a" stroke-width="1.25"/>
<line x1="573.5" y1="240.6" x2="571.2" y2="243.7" stroke="#e84a4a" stroke-width="1.25"/>
<line x1="575.8" y1="237.5" x2="580" y2="240.6" stroke="#a8e29a" stroke-width="1.25"/>
<line x1="580" y1="240.6" x2="584.2" y2="243.7" stroke="#e84a4a" stroke-width="1.25"/>
<line x1="588.8" y1="237.5" x2="586.5" y2="240.6" stroke="#a8e29a" stroke-width="1.25"/>
<line x1="586.5" y1="240.6" x2="584.2" y2="243.7" stroke="#e84a4a" stroke-width="1.25"/>
<line x1="588.8" y1="237.5" x2="593" y2="240.6" stroke="#a8e29a" stroke-width="1.25"/>
<line x1="593" y1="240.6" x2="597.2" y2="243.7" stroke="#e84a4a" stroke-width="1.25"/>
<line x1="601.8" y1="237.5" x2="599.5" y2="240.6" stroke="#a8e29a" stroke-width="1.25"/>
<line x1="599.5" y1="240.6" x2="597.2" y2="243.7" stroke="#e84a4a" stroke-width="1.25"/>
<line x1="601.8" y1="237.5" x2="606" y2="240.6" stroke="#a8e29a" stroke-width="1.25"/>
<line x1="606" y1="240.6" x2="610.2" y2="243.7" stroke="#e84a4a" stroke-width="1.25"/>
<line x1="614.8" y1="237.5" x2="612.5" y2="240.6" stroke="#a8e29a" stroke-width="1.25"/>
<line x1="612.5" y1="240.6" x2="610.2" y2="243.7" stroke="#e84a4a" stroke-width="1.25"/>
<line x1="614.8" y1="237.5" x2="619" y2="240.6" stroke="#a8e29a" stroke-width="1.25"/>
<line x1="619" y1="240.6" x2="623.2" y2="243.7" stroke="#e84a4a" stroke-width="1.25"/>
<line x1="627.8" y1="237.5" x2="625.5" y2="240.6" stroke="#a8e29a" stroke-width="1.25"/>
<line x1="625.5" y1="240.6" x2="623.2" y2="243.7" stroke="#e84a4a" stroke-width="1.25"/>
<line x1="627.8" y1="237.5" x2="632" y2="240.6" stroke="#a8e29a" stroke-width="1.25"/>
<line x1="632" y1="240.6" x2="636.2" y2="243.7" stroke="#e84a4a" stroke-width="1.25"/>
<line x1="640.8" y1="237.5" x2="638.5" y2="240.6" stroke="#a8e29a" stroke-width="1.25"/>
<line x1="638.5" y1="240.6" x2="636.2" y2="243.7" stroke="#e84a4a" stroke-width="1.25"/>
<line x1="640.8" y1="237.5" x2="645" y2="240.6" stroke="#a8e29a" stroke-width="1.25"/>
<line x1="645" y1="240.6" x2="649.2" y2="243.7" stroke="#e84a4a" stroke-width="1.25"/>
<line x1="653.8" y1="237.5" x2="651.5" y2="240.6" stroke="#a8e29a" stroke-width="1.25"/>
<line x1="651.5" y1="240.6" x2="649.2" y2="243.7" stroke="#e84a4a" stroke-width="1.25"/>
<line x1="653.8" y1="237.5" x2="658" y2="240.6" stroke="#a8e29a" stroke-width="1.25"/>
<line x1="658" y1="240.6" x2="662.2" y2="243.7" stroke="#e84a4a" stroke-width="1.25"/>
<line x1="666.8" y1="237.5" x2="664.5" y2="240.6" stroke="#a8e29a" stroke-width="1.25"/>
<line x1="664.5" y1="240.6" x2="662.2" y2="243.7" stroke="#e84a4a" stroke-width="1.25"/>
<line x1="666.8" y1="237.5" x2="671" y2="240.6" stroke="#a8e29a" stroke-width="1.25"/>
<line x1="671" y1="240.6" x2="675.2" y2="243.7" stroke="#e84a4a" stroke-width="1.25"/>
<circle cx="510.8" cy="199.9" r="2.9" fill="url(#ballG)"/>
<circle cx="523.8" cy="199.9" r="2.9" fill="url(#ballG)"/>
<circle cx="536.8" cy="199.9" r="2.9" fill="url(#ballG)"/>
<circle cx="549.8" cy="199.9" r="2.9" fill="url(#ballG)"/>
<circle cx="562.8" cy="199.9" r="2.9" fill="url(#ballG)"/>
<circle cx="575.8" cy="199.9" r="2.9" fill="url(#ballG)"/>
<circle cx="588.8" cy="199.9" r="2.9" fill="url(#ballG)"/>
<circle cx="601.8" cy="199.9" r="2.9" fill="url(#ballG)"/>
<circle cx="614.8" cy="199.9" r="2.9" fill="url(#ballG)"/>
<circle cx="627.8" cy="199.9" r="2.9" fill="url(#ballG)"/>
<circle cx="640.8" cy="199.9" r="2.9" fill="url(#ballG)"/>
<circle cx="653.8" cy="199.9" r="2.9" fill="url(#ballG)"/>
<circle cx="666.8" cy="199.9" r="2.9" fill="url(#ballG)"/>
<circle cx="506.2" cy="205.4" r="1.6" fill="#e0201c"/>
<circle cx="519.2" cy="205.4" r="1.6" fill="#e0201c"/>
<circle cx="532.2" cy="205.4" r="1.6" fill="#e0201c"/>
<circle cx="545.2" cy="205.4" r="1.6" fill="#e0201c"/>
<circle cx="558.2" cy="205.4" r="1.6" fill="#e0201c"/>
<circle cx="571.2" cy="205.4" r="1.6" fill="#e0201c"/>
<circle cx="584.2" cy="205.4" r="1.6" fill="#e0201c"/>
<circle cx="597.2" cy="205.4" r="1.6" fill="#e0201c"/>
<circle cx="610.2" cy="205.4" r="1.6" fill="#e0201c"/>
<circle cx="623.2" cy="205.4" r="1.6" fill="#e0201c"/>
<circle cx="636.2" cy="205.4" r="1.6" fill="#e0201c"/>
<circle cx="649.2" cy="205.4" r="1.6" fill="#e0201c"/>
<circle cx="662.2" cy="205.4" r="1.6" fill="#e0201c"/>
<circle cx="675.2" cy="205.4" r="1.6" fill="#e0201c"/>
<circle cx="528.1" cy="212.6" r="3.2" fill="url(#ballL)"/>
<circle cx="541.1" cy="212.6" r="3.2" fill="url(#ballL)"/>
<circle cx="554.1" cy="212.6" r="3.2" fill="url(#ballL)"/>
<circle cx="567.1" cy="212.6" r="3.2" fill="url(#ballL)"/>
<circle cx="580.1" cy="212.6" r="3.2" fill="url(#ballL)"/>
<circle cx="593.1" cy="212.6" r="3.2" fill="url(#ballL)"/>
<circle cx="606.1" cy="212.6" r="3.2" fill="url(#ballL)"/>
<circle cx="619.1" cy="212.6" r="3.2" fill="url(#ballL)"/>
<circle cx="632.1" cy="212.6" r="3.2" fill="url(#ballL)"/>
<circle cx="645.1" cy="212.6" r="3.2" fill="url(#ballL)"/>
<circle cx="658.1" cy="212.6" r="3.2" fill="url(#ballL)"/>
<circle cx="510.8" cy="219.4" r="1.6" fill="#e0201c"/>
<circle cx="523.8" cy="219.4" r="1.6" fill="#e0201c"/>
<circle cx="536.8" cy="219.4" r="1.6" fill="#e0201c"/>
<circle cx="549.8" cy="219.4" r="1.6" fill="#e0201c"/>
<circle cx="562.8" cy="219.4" r="1.6" fill="#e0201c"/>
<circle cx="575.8" cy="219.4" r="1.6" fill="#e0201c"/>
<circle cx="588.8" cy="219.4" r="1.6" fill="#e0201c"/>
<circle cx="601.8" cy="219.4" r="1.6" fill="#e0201c"/>
<circle cx="614.8" cy="219.4" r="1.6" fill="#e0201c"/>
<circle cx="627.8" cy="219.4" r="1.6" fill="#e0201c"/>
<circle cx="640.8" cy="219.4" r="1.6" fill="#e0201c"/>
<circle cx="653.8" cy="219.4" r="1.6" fill="#e0201c"/>
<circle cx="666.8" cy="219.4" r="1.6" fill="#e0201c"/>
<circle cx="519.6" cy="224.9" r="2.9" fill="url(#ballG)"/>
<circle cx="532.6" cy="224.9" r="2.9" fill="url(#ballG)"/>
<circle cx="545.6" cy="224.9" r="2.9" fill="url(#ballG)"/>
<circle cx="558.6" cy="224.9" r="2.9" fill="url(#ballG)"/>
<circle cx="571.6" cy="224.9" r="2.9" fill="url(#ballG)"/>
<circle cx="584.6" cy="224.9" r="2.9" fill="url(#ballG)"/>
<circle cx="597.6" cy="224.9" r="2.9" fill="url(#ballG)"/>
<circle cx="610.6" cy="224.9" r="2.9" fill="url(#ballG)"/>
<circle cx="623.6" cy="224.9" r="2.9" fill="url(#ballG)"/>
<circle cx="636.6" cy="224.9" r="2.9" fill="url(#ballG)"/>
<circle cx="649.6" cy="224.9" r="2.9" fill="url(#ballG)"/>
<circle cx="502" cy="230.3" r="1.6" fill="#e0201c"/>
<circle cx="515" cy="230.3" r="1.6" fill="#e0201c"/>
<circle cx="528" cy="230.3" r="1.6" fill="#e0201c"/>
<circle cx="541" cy="230.3" r="1.6" fill="#e0201c"/>
<circle cx="554" cy="230.3" r="1.6" fill="#e0201c"/>
<circle cx="567" cy="230.3" r="1.6" fill="#e0201c"/>
<circle cx="580" cy="230.3" r="1.6" fill="#e0201c"/>
<circle cx="593" cy="230.3" r="1.6" fill="#e0201c"/>
<circle cx="606" cy="230.3" r="1.6" fill="#e0201c"/>
<circle cx="619" cy="230.3" r="1.6" fill="#e0201c"/>
<circle cx="632" cy="230.3" r="1.6" fill="#e0201c"/>
<circle cx="645" cy="230.3" r="1.6" fill="#e0201c"/>
<circle cx="658" cy="230.3" r="1.6" fill="#e0201c"/>
<circle cx="671" cy="230.3" r="1.6" fill="#e0201c"/>
<circle cx="510.8" cy="237.5" r="3.2" fill="url(#ballL)"/>
<circle cx="523.8" cy="237.5" r="3.2" fill="url(#ballL)"/>
<circle cx="536.8" cy="237.5" r="3.2" fill="url(#ballL)"/>
<circle cx="549.8" cy="237.5" r="3.2" fill="url(#ballL)"/>
<circle cx="562.8" cy="237.5" r="3.2" fill="url(#ballL)"/>
<circle cx="575.8" cy="237.5" r="3.2" fill="url(#ballL)"/>
<circle cx="588.8" cy="237.5" r="3.2" fill="url(#ballL)"/>
<circle cx="601.8" cy="237.5" r="3.2" fill="url(#ballL)"/>
<circle cx="614.8" cy="237.5" r="3.2" fill="url(#ballL)"/>
<circle cx="627.8" cy="237.5" r="3.2" fill="url(#ballL)"/>
<circle cx="640.8" cy="237.5" r="3.2" fill="url(#ballL)"/>
<circle cx="653.8" cy="237.5" r="3.2" fill="url(#ballL)"/>
<circle cx="666.8" cy="237.5" r="3.2" fill="url(#ballL)"/>
<circle cx="506.2" cy="243.7" r="1.6" fill="#e0201c"/>
<circle cx="519.2" cy="243.7" r="1.6" fill="#e0201c"/>
<circle cx="532.2" cy="243.7" r="1.6" fill="#e0201c"/>
<circle cx="545.2" cy="243.7" r="1.6" fill="#e0201c"/>
<circle cx="558.2" cy="243.7" r="1.6" fill="#e0201c"/>
<circle cx="571.2" cy="243.7" r="1.6" fill="#e0201c"/>
<circle cx="584.2" cy="243.7" r="1.6" fill="#e0201c"/>
<circle cx="597.2" cy="243.7" r="1.6" fill="#e0201c"/>
<circle cx="610.2" cy="243.7" r="1.6" fill="#e0201c"/>
<circle cx="623.2" cy="243.7" r="1.6" fill="#e0201c"/>
<circle cx="636.2" cy="243.7" r="1.6" fill="#e0201c"/>
<circle cx="649.2" cy="243.7" r="1.6" fill="#e0201c"/>
<circle cx="662.2" cy="243.7" r="1.6" fill="#e0201c"/>
<circle cx="675.2" cy="243.7" r="1.6" fill="#e0201c"/>
<line x1="514.5" y1="320.5" x2="512.2" y2="323.2" stroke="#b4b4b4" stroke-width="1.25"/>
<line x1="512.2" y1="323.2" x2="509.9" y2="326" stroke="#e84a4a" stroke-width="1.25"/>
<line x1="514.5" y1="320.5" x2="518.7" y2="323.2" stroke="#b4b4b4" stroke-width="1.25"/>
<line x1="518.7" y1="323.2" x2="523" y2="326" stroke="#e84a4a" stroke-width="1.25"/>
<line x1="527.5" y1="320.5" x2="525.2" y2="323.2" stroke="#b4b4b4" stroke-width="1.25"/>
<line x1="525.2" y1="323.2" x2="523" y2="326" stroke="#e84a4a" stroke-width="1.25"/>
<line x1="527.5" y1="320.5" x2="531.7" y2="323.2" stroke="#b4b4b4" stroke-width="1.25"/>
<line x1="531.7" y1="323.2" x2="536" y2="326" stroke="#e84a4a" stroke-width="1.25"/>
<line x1="540.5" y1="320.5" x2="538.2" y2="323.2" stroke="#b4b4b4" stroke-width="1.25"/>
<line x1="538.2" y1="323.2" x2="536" y2="326" stroke="#e84a4a" stroke-width="1.25"/>
<line x1="540.5" y1="320.5" x2="544.7" y2="323.2" stroke="#b4b4b4" stroke-width="1.25"/>
<line x1="544.7" y1="323.2" x2="549" y2="326" stroke="#e84a4a" stroke-width="1.25"/>
<line x1="553.5" y1="320.5" x2="551.2" y2="323.2" stroke="#b4b4b4" stroke-width="1.25"/>
<line x1="551.2" y1="323.2" x2="549" y2="326" stroke="#e84a4a" stroke-width="1.25"/>
<line x1="553.5" y1="320.5" x2="557.7" y2="323.2" stroke="#b4b4b4" stroke-width="1.25"/>
<line x1="557.7" y1="323.2" x2="562" y2="326" stroke="#e84a4a" stroke-width="1.25"/>
<line x1="566.5" y1="320.5" x2="564.2" y2="323.2" stroke="#b4b4b4" stroke-width="1.25"/>
<line x1="564.2" y1="323.2" x2="562" y2="326" stroke="#e84a4a" stroke-width="1.25"/>
<line x1="566.5" y1="320.5" x2="570.7" y2="323.2" stroke="#b4b4b4" stroke-width="1.25"/>
<line x1="570.7" y1="323.2" x2="575" y2="326" stroke="#e84a4a" stroke-width="1.25"/>
<line x1="579.5" y1="320.5" x2="577.2" y2="323.2" stroke="#b4b4b4" stroke-width="1.25"/>
<line x1="577.2" y1="323.2" x2="575" y2="326" stroke="#e84a4a" stroke-width="1.25"/>
<line x1="579.5" y1="320.5" x2="583.7" y2="323.2" stroke="#b4b4b4" stroke-width="1.25"/>
<line x1="583.7" y1="323.2" x2="588" y2="326" stroke="#e84a4a" stroke-width="1.25"/>
<line x1="592.5" y1="320.5" x2="590.2" y2="323.2" stroke="#b4b4b4" stroke-width="1.25"/>
<line x1="590.2" y1="323.2" x2="588" y2="326" stroke="#e84a4a" stroke-width="1.25"/>
<line x1="592.5" y1="320.5" x2="596.7" y2="323.2" stroke="#b4b4b4" stroke-width="1.25"/>
<line x1="596.7" y1="323.2" x2="601" y2="326" stroke="#e84a4a" stroke-width="1.25"/>
<line x1="605.5" y1="320.5" x2="603.2" y2="323.2" stroke="#b4b4b4" stroke-width="1.25"/>
<line x1="603.2" y1="323.2" x2="601" y2="326" stroke="#e84a4a" stroke-width="1.25"/>
<line x1="605.5" y1="320.5" x2="609.7" y2="323.2" stroke="#b4b4b4" stroke-width="1.25"/>
<line x1="609.7" y1="323.2" x2="614" y2="326" stroke="#e84a4a" stroke-width="1.25"/>
<line x1="618.5" y1="320.5" x2="616.2" y2="323.2" stroke="#b4b4b4" stroke-width="1.25"/>
<line x1="616.2" y1="323.2" x2="614" y2="326" stroke="#e84a4a" stroke-width="1.25"/>
<line x1="618.5" y1="320.5" x2="622.7" y2="323.2" stroke="#b4b4b4" stroke-width="1.25"/>
<line x1="622.7" y1="323.2" x2="627" y2="326" stroke="#e84a4a" stroke-width="1.25"/>
<line x1="631.5" y1="320.5" x2="629.2" y2="323.2" stroke="#b4b4b4" stroke-width="1.25"/>
<line x1="629.2" y1="323.2" x2="627" y2="326" stroke="#e84a4a" stroke-width="1.25"/>
<line x1="631.5" y1="320.5" x2="635.7" y2="323.2" stroke="#b4b4b4" stroke-width="1.25"/>
<line x1="635.7" y1="323.2" x2="640" y2="326" stroke="#e84a4a" stroke-width="1.25"/>
<line x1="644.5" y1="320.5" x2="642.2" y2="323.2" stroke="#b4b4b4" stroke-width="1.25"/>
<line x1="642.2" y1="323.2" x2="640" y2="326" stroke="#e84a4a" stroke-width="1.25"/>
<line x1="644.5" y1="320.5" x2="648.7" y2="323.2" stroke="#b4b4b4" stroke-width="1.25"/>
<line x1="648.7" y1="323.2" x2="653" y2="326" stroke="#e84a4a" stroke-width="1.25"/>
<line x1="657.5" y1="320.5" x2="655.2" y2="323.2" stroke="#b4b4b4" stroke-width="1.25"/>
<line x1="655.2" y1="323.2" x2="653" y2="326" stroke="#e84a4a" stroke-width="1.25"/>
<line x1="657.5" y1="320.5" x2="661.7" y2="323.2" stroke="#b4b4b4" stroke-width="1.25"/>
<line x1="661.7" y1="323.2" x2="666" y2="326" stroke="#e84a4a" stroke-width="1.25"/>
<line x1="670.5" y1="320.5" x2="668.2" y2="323.2" stroke="#b4b4b4" stroke-width="1.25"/>
<line x1="668.2" y1="323.2" x2="666" y2="326" stroke="#e84a4a" stroke-width="1.25"/>
<line x1="670.5" y1="320.5" x2="674.7" y2="323.2" stroke="#b4b4b4" stroke-width="1.25"/>
<line x1="674.7" y1="323.2" x2="679" y2="326" stroke="#e84a4a" stroke-width="1.25"/>
<line x1="523" y1="326" x2="527.4" y2="329.6" stroke="#e84a4a" stroke-width="1.25"/>
<line x1="527.4" y1="329.6" x2="531.8" y2="333.2" stroke="#a8e29a" stroke-width="1.25"/>
<line x1="536" y1="326" x2="533.9" y2="329.6" stroke="#e84a4a" stroke-width="1.25"/>
<line x1="533.9" y1="329.6" x2="531.8" y2="333.2" stroke="#a8e29a" stroke-width="1.25"/>
<line x1="536" y1="326" x2="540.4" y2="329.6" stroke="#e84a4a" stroke-width="1.25"/>
<line x1="540.4" y1="329.6" x2="544.8" y2="333.2" stroke="#a8e29a" stroke-width="1.25"/>
<line x1="549" y1="326" x2="546.9" y2="329.6" stroke="#e84a4a" stroke-width="1.25"/>
<line x1="546.9" y1="329.6" x2="544.8" y2="333.2" stroke="#a8e29a" stroke-width="1.25"/>
<line x1="549" y1="326" x2="553.4" y2="329.6" stroke="#e84a4a" stroke-width="1.25"/>
<line x1="553.4" y1="329.6" x2="557.8" y2="333.2" stroke="#a8e29a" stroke-width="1.25"/>
<line x1="562" y1="326" x2="559.9" y2="329.6" stroke="#e84a4a" stroke-width="1.25"/>
<line x1="559.9" y1="329.6" x2="557.8" y2="333.2" stroke="#a8e29a" stroke-width="1.25"/>
<line x1="562" y1="326" x2="566.4" y2="329.6" stroke="#e84a4a" stroke-width="1.25"/>
<line x1="566.4" y1="329.6" x2="570.8" y2="333.2" stroke="#a8e29a" stroke-width="1.25"/>
<line x1="575" y1="326" x2="572.9" y2="329.6" stroke="#e84a4a" stroke-width="1.25"/>
<line x1="572.9" y1="329.6" x2="570.8" y2="333.2" stroke="#a8e29a" stroke-width="1.25"/>
<line x1="575" y1="326" x2="579.4" y2="329.6" stroke="#e84a4a" stroke-width="1.25"/>
<line x1="579.4" y1="329.6" x2="583.8" y2="333.2" stroke="#a8e29a" stroke-width="1.25"/>
<line x1="588" y1="326" x2="585.9" y2="329.6" stroke="#e84a4a" stroke-width="1.25"/>
<line x1="585.9" y1="329.6" x2="583.8" y2="333.2" stroke="#a8e29a" stroke-width="1.25"/>
<line x1="588" y1="326" x2="592.4" y2="329.6" stroke="#e84a4a" stroke-width="1.25"/>
<line x1="592.4" y1="329.6" x2="596.8" y2="333.2" stroke="#a8e29a" stroke-width="1.25"/>
<line x1="601" y1="326" x2="598.9" y2="329.6" stroke="#e84a4a" stroke-width="1.25"/>
<line x1="598.9" y1="329.6" x2="596.8" y2="333.2" stroke="#a8e29a" stroke-width="1.25"/>
<line x1="601" y1="326" x2="605.4" y2="329.6" stroke="#e84a4a" stroke-width="1.25"/>
<line x1="605.4" y1="329.6" x2="609.8" y2="333.2" stroke="#a8e29a" stroke-width="1.25"/>
<line x1="614" y1="326" x2="611.9" y2="329.6" stroke="#e84a4a" stroke-width="1.25"/>
<line x1="611.9" y1="329.6" x2="609.8" y2="333.2" stroke="#a8e29a" stroke-width="1.25"/>
<line x1="614" y1="326" x2="618.4" y2="329.6" stroke="#e84a4a" stroke-width="1.25"/>
<line x1="618.4" y1="329.6" x2="622.8" y2="333.2" stroke="#a8e29a" stroke-width="1.25"/>
<line x1="627" y1="326" x2="624.9" y2="329.6" stroke="#e84a4a" stroke-width="1.25"/>
<line x1="624.9" y1="329.6" x2="622.8" y2="333.2" stroke="#a8e29a" stroke-width="1.25"/>
<line x1="627" y1="326" x2="631.4" y2="329.6" stroke="#e84a4a" stroke-width="1.25"/>
<line x1="631.4" y1="329.6" x2="635.8" y2="333.2" stroke="#a8e29a" stroke-width="1.25"/>
<line x1="640" y1="326" x2="637.9" y2="329.6" stroke="#e84a4a" stroke-width="1.25"/>
<line x1="637.9" y1="329.6" x2="635.8" y2="333.2" stroke="#a8e29a" stroke-width="1.25"/>
<line x1="640" y1="326" x2="644.4" y2="329.6" stroke="#e84a4a" stroke-width="1.25"/>
<line x1="644.4" y1="329.6" x2="648.8" y2="333.2" stroke="#a8e29a" stroke-width="1.25"/>
<line x1="653" y1="326" x2="650.9" y2="329.6" stroke="#e84a4a" stroke-width="1.25"/>
<line x1="650.9" y1="329.6" x2="648.8" y2="333.2" stroke="#a8e29a" stroke-width="1.25"/>
<line x1="653" y1="326" x2="657.4" y2="329.6" stroke="#e84a4a" stroke-width="1.25"/>
<line x1="657.4" y1="329.6" x2="661.8" y2="333.2" stroke="#a8e29a" stroke-width="1.25"/>
<line x1="666" y1="326" x2="663.9" y2="329.6" stroke="#e84a4a" stroke-width="1.25"/>
<line x1="663.9" y1="329.6" x2="661.8" y2="333.2" stroke="#a8e29a" stroke-width="1.25"/>
<line x1="531.8" y1="333.2" x2="529.6" y2="336.6" stroke="#a8e29a" stroke-width="1.25"/>
<line x1="529.6" y1="336.6" x2="527.5" y2="340" stroke="#e84a4a" stroke-width="1.25"/>
<line x1="531.8" y1="333.2" x2="536.1" y2="336.6" stroke="#a8e29a" stroke-width="1.25"/>
<line x1="536.1" y1="336.6" x2="540.5" y2="340" stroke="#e84a4a" stroke-width="1.25"/>
<line x1="544.8" y1="333.2" x2="542.6" y2="336.6" stroke="#a8e29a" stroke-width="1.25"/>
<line x1="542.6" y1="336.6" x2="540.5" y2="340" stroke="#e84a4a" stroke-width="1.25"/>
<line x1="544.8" y1="333.2" x2="549.1" y2="336.6" stroke="#a8e29a" stroke-width="1.25"/>
<line x1="549.1" y1="336.6" x2="553.5" y2="340" stroke="#e84a4a" stroke-width="1.25"/>
<line x1="557.8" y1="333.2" x2="555.6" y2="336.6" stroke="#a8e29a" stroke-width="1.25"/>
<line x1="555.6" y1="336.6" x2="553.5" y2="340" stroke="#e84a4a" stroke-width="1.25"/>
<line x1="557.8" y1="333.2" x2="562.1" y2="336.6" stroke="#a8e29a" stroke-width="1.25"/>
<line x1="562.1" y1="336.6" x2="566.5" y2="340" stroke="#e84a4a" stroke-width="1.25"/>
<line x1="570.8" y1="333.2" x2="568.6" y2="336.6" stroke="#a8e29a" stroke-width="1.25"/>
<line x1="568.6" y1="336.6" x2="566.5" y2="340" stroke="#e84a4a" stroke-width="1.25"/>
<line x1="570.8" y1="333.2" x2="575.1" y2="336.6" stroke="#a8e29a" stroke-width="1.25"/>
<line x1="575.1" y1="336.6" x2="579.5" y2="340" stroke="#e84a4a" stroke-width="1.25"/>
<line x1="583.8" y1="333.2" x2="581.6" y2="336.6" stroke="#a8e29a" stroke-width="1.25"/>
<line x1="581.6" y1="336.6" x2="579.5" y2="340" stroke="#e84a4a" stroke-width="1.25"/>
<line x1="583.8" y1="333.2" x2="588.1" y2="336.6" stroke="#a8e29a" stroke-width="1.25"/>
<line x1="588.1" y1="336.6" x2="592.5" y2="340" stroke="#e84a4a" stroke-width="1.25"/>
<line x1="596.8" y1="333.2" x2="594.6" y2="336.6" stroke="#a8e29a" stroke-width="1.25"/>
<line x1="594.6" y1="336.6" x2="592.5" y2="340" stroke="#e84a4a" stroke-width="1.25"/>
<line x1="596.8" y1="333.2" x2="601.1" y2="336.6" stroke="#a8e29a" stroke-width="1.25"/>
<line x1="601.1" y1="336.6" x2="605.5" y2="340" stroke="#e84a4a" stroke-width="1.25"/>
<line x1="609.8" y1="333.2" x2="607.6" y2="336.6" stroke="#a8e29a" stroke-width="1.25"/>
<line x1="607.6" y1="336.6" x2="605.5" y2="340" stroke="#e84a4a" stroke-width="1.25"/>
<line x1="609.8" y1="333.2" x2="614.1" y2="336.6" stroke="#a8e29a" stroke-width="1.25"/>
<line x1="614.1" y1="336.6" x2="618.5" y2="340" stroke="#e84a4a" stroke-width="1.25"/>
<line x1="622.8" y1="333.2" x2="620.6" y2="336.6" stroke="#a8e29a" stroke-width="1.25"/>
<line x1="620.6" y1="336.6" x2="618.5" y2="340" stroke="#e84a4a" stroke-width="1.25"/>
<line x1="622.8" y1="333.2" x2="627.1" y2="336.6" stroke="#a8e29a" stroke-width="1.25"/>
<line x1="627.1" y1="336.6" x2="631.5" y2="340" stroke="#e84a4a" stroke-width="1.25"/>
<line x1="635.8" y1="333.2" x2="633.6" y2="336.6" stroke="#a8e29a" stroke-width="1.25"/>
<line x1="633.6" y1="336.6" x2="631.5" y2="340" stroke="#e84a4a" stroke-width="1.25"/>
<line x1="635.8" y1="333.2" x2="640.1" y2="336.6" stroke="#a8e29a" stroke-width="1.25"/>
<line x1="640.1" y1="336.6" x2="644.5" y2="340" stroke="#e84a4a" stroke-width="1.25"/>
<line x1="648.8" y1="333.2" x2="646.6" y2="336.6" stroke="#a8e29a" stroke-width="1.25"/>
<line x1="646.6" y1="336.6" x2="644.5" y2="340" stroke="#e84a4a" stroke-width="1.25"/>
<line x1="648.8" y1="333.2" x2="653.1" y2="336.6" stroke="#a8e29a" stroke-width="1.25"/>
<line x1="653.1" y1="336.6" x2="657.5" y2="340" stroke="#e84a4a" stroke-width="1.25"/>
<line x1="661.8" y1="333.2" x2="659.6" y2="336.6" stroke="#a8e29a" stroke-width="1.25"/>
<line x1="659.6" y1="336.6" x2="657.5" y2="340" stroke="#e84a4a" stroke-width="1.25"/>
<line x1="661.8" y1="333.2" x2="666.1" y2="336.6" stroke="#a8e29a" stroke-width="1.25"/>
<line x1="666.1" y1="336.6" x2="670.5" y2="340" stroke="#e84a4a" stroke-width="1.25"/>
<line x1="514.5" y1="340" x2="518.9" y2="342.7" stroke="#e84a4a" stroke-width="1.25"/>
<line x1="518.9" y1="342.7" x2="523.3" y2="345.5" stroke="#b4b4b4" stroke-width="1.25"/>
<line x1="527.5" y1="340" x2="525.4" y2="342.7" stroke="#e84a4a" stroke-width="1.25"/>
<line x1="525.4" y1="342.7" x2="523.3" y2="345.5" stroke="#b4b4b4" stroke-width="1.25"/>
<line x1="527.5" y1="340" x2="531.9" y2="342.7" stroke="#e84a4a" stroke-width="1.25"/>
<line x1="531.9" y1="342.7" x2="536.3" y2="345.5" stroke="#b4b4b4" stroke-width="1.25"/>
<line x1="540.5" y1="340" x2="538.4" y2="342.7" stroke="#e84a4a" stroke-width="1.25"/>
<line x1="538.4" y1="342.7" x2="536.3" y2="345.5" stroke="#b4b4b4" stroke-width="1.25"/>
<line x1="540.5" y1="340" x2="544.9" y2="342.7" stroke="#e84a4a" stroke-width="1.25"/>
<line x1="544.9" y1="342.7" x2="549.3" y2="345.5" stroke="#b4b4b4" stroke-width="1.25"/>
<line x1="553.5" y1="340" x2="551.4" y2="342.7" stroke="#e84a4a" stroke-width="1.25"/>
<line x1="551.4" y1="342.7" x2="549.3" y2="345.5" stroke="#b4b4b4" stroke-width="1.25"/>
<line x1="553.5" y1="340" x2="557.9" y2="342.7" stroke="#e84a4a" stroke-width="1.25"/>
<line x1="557.9" y1="342.7" x2="562.3" y2="345.5" stroke="#b4b4b4" stroke-width="1.25"/>
<line x1="566.5" y1="340" x2="564.4" y2="342.7" stroke="#e84a4a" stroke-width="1.25"/>
<line x1="564.4" y1="342.7" x2="562.3" y2="345.5" stroke="#b4b4b4" stroke-width="1.25"/>
<line x1="566.5" y1="340" x2="570.9" y2="342.7" stroke="#e84a4a" stroke-width="1.25"/>
<line x1="570.9" y1="342.7" x2="575.3" y2="345.5" stroke="#b4b4b4" stroke-width="1.25"/>
<line x1="579.5" y1="340" x2="577.4" y2="342.7" stroke="#e84a4a" stroke-width="1.25"/>
<line x1="577.4" y1="342.7" x2="575.3" y2="345.5" stroke="#b4b4b4" stroke-width="1.25"/>
<line x1="579.5" y1="340" x2="583.9" y2="342.7" stroke="#e84a4a" stroke-width="1.25"/>
<line x1="583.9" y1="342.7" x2="588.3" y2="345.5" stroke="#b4b4b4" stroke-width="1.25"/>
<line x1="592.5" y1="340" x2="590.4" y2="342.7" stroke="#e84a4a" stroke-width="1.25"/>
<line x1="590.4" y1="342.7" x2="588.3" y2="345.5" stroke="#b4b4b4" stroke-width="1.25"/>
<line x1="592.5" y1="340" x2="596.9" y2="342.7" stroke="#e84a4a" stroke-width="1.25"/>
<line x1="596.9" y1="342.7" x2="601.3" y2="345.5" stroke="#b4b4b4" stroke-width="1.25"/>
<line x1="605.5" y1="340" x2="603.4" y2="342.7" stroke="#e84a4a" stroke-width="1.25"/>
<line x1="603.4" y1="342.7" x2="601.3" y2="345.5" stroke="#b4b4b4" stroke-width="1.25"/>
<line x1="605.5" y1="340" x2="609.9" y2="342.7" stroke="#e84a4a" stroke-width="1.25"/>
<line x1="609.9" y1="342.7" x2="614.3" y2="345.5" stroke="#b4b4b4" stroke-width="1.25"/>
<line x1="618.5" y1="340" x2="616.4" y2="342.7" stroke="#e84a4a" stroke-width="1.25"/>
<line x1="616.4" y1="342.7" x2="614.3" y2="345.5" stroke="#b4b4b4" stroke-width="1.25"/>
<line x1="618.5" y1="340" x2="622.9" y2="342.7" stroke="#e84a4a" stroke-width="1.25"/>
<line x1="622.9" y1="342.7" x2="627.3" y2="345.5" stroke="#b4b4b4" stroke-width="1.25"/>
<line x1="631.5" y1="340" x2="629.4" y2="342.7" stroke="#e84a4a" stroke-width="1.25"/>
<line x1="629.4" y1="342.7" x2="627.3" y2="345.5" stroke="#b4b4b4" stroke-width="1.25"/>
<line x1="631.5" y1="340" x2="635.9" y2="342.7" stroke="#e84a4a" stroke-width="1.25"/>
<line x1="635.9" y1="342.7" x2="640.3" y2="345.5" stroke="#b4b4b4" stroke-width="1.25"/>
<line x1="644.5" y1="340" x2="642.4" y2="342.7" stroke="#e84a4a" stroke-width="1.25"/>
<line x1="642.4" y1="342.7" x2="640.3" y2="345.5" stroke="#b4b4b4" stroke-width="1.25"/>
<line x1="644.5" y1="340" x2="648.9" y2="342.7" stroke="#e84a4a" stroke-width="1.25"/>
<line x1="648.9" y1="342.7" x2="653.3" y2="345.5" stroke="#b4b4b4" stroke-width="1.25"/>
<line x1="657.5" y1="340" x2="655.4" y2="342.7" stroke="#e84a4a" stroke-width="1.25"/>
<line x1="655.4" y1="342.7" x2="653.3" y2="345.5" stroke="#b4b4b4" stroke-width="1.25"/>
<line x1="523.3" y1="345.5" x2="521" y2="348.2" stroke="#b4b4b4" stroke-width="1.25"/>
<line x1="521" y1="348.2" x2="518.7" y2="350.9" stroke="#e84a4a" stroke-width="1.25"/>
<line x1="523.3" y1="345.5" x2="527.5" y2="348.2" stroke="#b4b4b4" stroke-width="1.25"/>
<line x1="527.5" y1="348.2" x2="531.7" y2="350.9" stroke="#e84a4a" stroke-width="1.25"/>
<line x1="536.3" y1="345.5" x2="534" y2="348.2" stroke="#b4b4b4" stroke-width="1.25"/>
<line x1="534" y1="348.2" x2="531.7" y2="350.9" stroke="#e84a4a" stroke-width="1.25"/>
<line x1="536.3" y1="345.5" x2="540.5" y2="348.2" stroke="#b4b4b4" stroke-width="1.25"/>
<line x1="540.5" y1="348.2" x2="544.7" y2="350.9" stroke="#e84a4a" stroke-width="1.25"/>
<line x1="549.3" y1="345.5" x2="547" y2="348.2" stroke="#b4b4b4" stroke-width="1.25"/>
<line x1="547" y1="348.2" x2="544.7" y2="350.9" stroke="#e84a4a" stroke-width="1.25"/>
<line x1="549.3" y1="345.5" x2="553.5" y2="348.2" stroke="#b4b4b4" stroke-width="1.25"/>
<line x1="553.5" y1="348.2" x2="557.7" y2="350.9" stroke="#e84a4a" stroke-width="1.25"/>
<line x1="562.3" y1="345.5" x2="560" y2="348.2" stroke="#b4b4b4" stroke-width="1.25"/>
<line x1="560" y1="348.2" x2="557.7" y2="350.9" stroke="#e84a4a" stroke-width="1.25"/>
<line x1="562.3" y1="345.5" x2="566.5" y2="348.2" stroke="#b4b4b4" stroke-width="1.25"/>
<line x1="566.5" y1="348.2" x2="570.7" y2="350.9" stroke="#e84a4a" stroke-width="1.25"/>
<line x1="575.3" y1="345.5" x2="573" y2="348.2" stroke="#b4b4b4" stroke-width="1.25"/>
<line x1="573" y1="348.2" x2="570.7" y2="350.9" stroke="#e84a4a" stroke-width="1.25"/>
<line x1="575.3" y1="345.5" x2="579.5" y2="348.2" stroke="#b4b4b4" stroke-width="1.25"/>
<line x1="579.5" y1="348.2" x2="583.7" y2="350.9" stroke="#e84a4a" stroke-width="1.25"/>
<line x1="588.3" y1="345.5" x2="586" y2="348.2" stroke="#b4b4b4" stroke-width="1.25"/>
<line x1="586" y1="348.2" x2="583.7" y2="350.9" stroke="#e84a4a" stroke-width="1.25"/>
<line x1="588.3" y1="345.5" x2="592.5" y2="348.2" stroke="#b4b4b4" stroke-width="1.25"/>
<line x1="592.5" y1="348.2" x2="596.7" y2="350.9" stroke="#e84a4a" stroke-width="1.25"/>
<line x1="601.3" y1="345.5" x2="599" y2="348.2" stroke="#b4b4b4" stroke-width="1.25"/>
<line x1="599" y1="348.2" x2="596.7" y2="350.9" stroke="#e84a4a" stroke-width="1.25"/>
<line x1="601.3" y1="345.5" x2="605.5" y2="348.2" stroke="#b4b4b4" stroke-width="1.25"/>
<line x1="605.5" y1="348.2" x2="609.7" y2="350.9" stroke="#e84a4a" stroke-width="1.25"/>
<line x1="614.3" y1="345.5" x2="612" y2="348.2" stroke="#b4b4b4" stroke-width="1.25"/>
<line x1="612" y1="348.2" x2="609.7" y2="350.9" stroke="#e84a4a" stroke-width="1.25"/>
<line x1="614.3" y1="345.5" x2="618.5" y2="348.2" stroke="#b4b4b4" stroke-width="1.25"/>
<line x1="618.5" y1="348.2" x2="622.7" y2="350.9" stroke="#e84a4a" stroke-width="1.25"/>
<line x1="627.3" y1="345.5" x2="625" y2="348.2" stroke="#b4b4b4" stroke-width="1.25"/>
<line x1="625" y1="348.2" x2="622.7" y2="350.9" stroke="#e84a4a" stroke-width="1.25"/>
<line x1="627.3" y1="345.5" x2="631.5" y2="348.2" stroke="#b4b4b4" stroke-width="1.25"/>
<line x1="631.5" y1="348.2" x2="635.7" y2="350.9" stroke="#e84a4a" stroke-width="1.25"/>
<line x1="640.3" y1="345.5" x2="638" y2="348.2" stroke="#b4b4b4" stroke-width="1.25"/>
<line x1="638" y1="348.2" x2="635.7" y2="350.9" stroke="#e84a4a" stroke-width="1.25"/>
<line x1="640.3" y1="345.5" x2="644.5" y2="348.2" stroke="#b4b4b4" stroke-width="1.25"/>
<line x1="644.5" y1="348.2" x2="648.7" y2="350.9" stroke="#e84a4a" stroke-width="1.25"/>
<line x1="653.3" y1="345.5" x2="651" y2="348.2" stroke="#b4b4b4" stroke-width="1.25"/>
<line x1="651" y1="348.2" x2="648.7" y2="350.9" stroke="#e84a4a" stroke-width="1.25"/>
<line x1="653.3" y1="345.5" x2="657.5" y2="348.2" stroke="#b4b4b4" stroke-width="1.25"/>
<line x1="657.5" y1="348.2" x2="661.7" y2="350.9" stroke="#e84a4a" stroke-width="1.25"/>
<line x1="505.7" y1="350.9" x2="510.1" y2="354.5" stroke="#e84a4a" stroke-width="1.25"/>
<line x1="510.1" y1="354.5" x2="514.5" y2="358.1" stroke="#a8e29a" stroke-width="1.25"/>
<line x1="518.7" y1="350.9" x2="516.6" y2="354.5" stroke="#e84a4a" stroke-width="1.25"/>
<line x1="516.6" y1="354.5" x2="514.5" y2="358.1" stroke="#a8e29a" stroke-width="1.25"/>
<line x1="518.7" y1="350.9" x2="523.1" y2="354.5" stroke="#e84a4a" stroke-width="1.25"/>
<line x1="523.1" y1="354.5" x2="527.5" y2="358.1" stroke="#a8e29a" stroke-width="1.25"/>
<line x1="531.7" y1="350.9" x2="529.6" y2="354.5" stroke="#e84a4a" stroke-width="1.25"/>
<line x1="529.6" y1="354.5" x2="527.5" y2="358.1" stroke="#a8e29a" stroke-width="1.25"/>
<line x1="531.7" y1="350.9" x2="536.1" y2="354.5" stroke="#e84a4a" stroke-width="1.25"/>
<line x1="536.1" y1="354.5" x2="540.5" y2="358.1" stroke="#a8e29a" stroke-width="1.25"/>
<line x1="544.7" y1="350.9" x2="542.6" y2="354.5" stroke="#e84a4a" stroke-width="1.25"/>
<line x1="542.6" y1="354.5" x2="540.5" y2="358.1" stroke="#a8e29a" stroke-width="1.25"/>
<line x1="544.7" y1="350.9" x2="549.1" y2="354.5" stroke="#e84a4a" stroke-width="1.25"/>
<line x1="549.1" y1="354.5" x2="553.5" y2="358.1" stroke="#a8e29a" stroke-width="1.25"/>
<line x1="557.7" y1="350.9" x2="555.6" y2="354.5" stroke="#e84a4a" stroke-width="1.25"/>
<line x1="555.6" y1="354.5" x2="553.5" y2="358.1" stroke="#a8e29a" stroke-width="1.25"/>
<line x1="557.7" y1="350.9" x2="562.1" y2="354.5" stroke="#e84a4a" stroke-width="1.25"/>
<line x1="562.1" y1="354.5" x2="566.5" y2="358.1" stroke="#a8e29a" stroke-width="1.25"/>
<line x1="570.7" y1="350.9" x2="568.6" y2="354.5" stroke="#e84a4a" stroke-width="1.25"/>
<line x1="568.6" y1="354.5" x2="566.5" y2="358.1" stroke="#a8e29a" stroke-width="1.25"/>
<line x1="570.7" y1="350.9" x2="575.1" y2="354.5" stroke="#e84a4a" stroke-width="1.25"/>
<line x1="575.1" y1="354.5" x2="579.5" y2="358.1" stroke="#a8e29a" stroke-width="1.25"/>
<line x1="583.7" y1="350.9" x2="581.6" y2="354.5" stroke="#e84a4a" stroke-width="1.25"/>
<line x1="581.6" y1="354.5" x2="579.5" y2="358.1" stroke="#a8e29a" stroke-width="1.25"/>
<line x1="583.7" y1="350.9" x2="588.1" y2="354.5" stroke="#e84a4a" stroke-width="1.25"/>
<line x1="588.1" y1="354.5" x2="592.5" y2="358.1" stroke="#a8e29a" stroke-width="1.25"/>
<line x1="596.7" y1="350.9" x2="594.6" y2="354.5" stroke="#e84a4a" stroke-width="1.25"/>
<line x1="594.6" y1="354.5" x2="592.5" y2="358.1" stroke="#a8e29a" stroke-width="1.25"/>
<line x1="596.7" y1="350.9" x2="601.1" y2="354.5" stroke="#e84a4a" stroke-width="1.25"/>
<line x1="601.1" y1="354.5" x2="605.5" y2="358.1" stroke="#a8e29a" stroke-width="1.25"/>
<line x1="609.7" y1="350.9" x2="607.6" y2="354.5" stroke="#e84a4a" stroke-width="1.25"/>
<line x1="607.6" y1="354.5" x2="605.5" y2="358.1" stroke="#a8e29a" stroke-width="1.25"/>
<line x1="609.7" y1="350.9" x2="614.1" y2="354.5" stroke="#e84a4a" stroke-width="1.25"/>
<line x1="614.1" y1="354.5" x2="618.5" y2="358.1" stroke="#a8e29a" stroke-width="1.25"/>
<line x1="622.7" y1="350.9" x2="620.6" y2="354.5" stroke="#e84a4a" stroke-width="1.25"/>
<line x1="620.6" y1="354.5" x2="618.5" y2="358.1" stroke="#a8e29a" stroke-width="1.25"/>
<line x1="622.7" y1="350.9" x2="627.1" y2="354.5" stroke="#e84a4a" stroke-width="1.25"/>
<line x1="627.1" y1="354.5" x2="631.5" y2="358.1" stroke="#a8e29a" stroke-width="1.25"/>
<line x1="635.7" y1="350.9" x2="633.6" y2="354.5" stroke="#e84a4a" stroke-width="1.25"/>
<line x1="633.6" y1="354.5" x2="631.5" y2="358.1" stroke="#a8e29a" stroke-width="1.25"/>
<line x1="635.7" y1="350.9" x2="640.1" y2="354.5" stroke="#e84a4a" stroke-width="1.25"/>
<line x1="640.1" y1="354.5" x2="644.5" y2="358.1" stroke="#a8e29a" stroke-width="1.25"/>
<line x1="648.7" y1="350.9" x2="646.6" y2="354.5" stroke="#e84a4a" stroke-width="1.25"/>
<line x1="646.6" y1="354.5" x2="644.5" y2="358.1" stroke="#a8e29a" stroke-width="1.25"/>
<line x1="648.7" y1="350.9" x2="653.1" y2="354.5" stroke="#e84a4a" stroke-width="1.25"/>
<line x1="653.1" y1="354.5" x2="657.5" y2="358.1" stroke="#a8e29a" stroke-width="1.25"/>
<line x1="661.7" y1="350.9" x2="659.6" y2="354.5" stroke="#e84a4a" stroke-width="1.25"/>
<line x1="659.6" y1="354.5" x2="657.5" y2="358.1" stroke="#a8e29a" stroke-width="1.25"/>
<line x1="661.7" y1="350.9" x2="666.1" y2="354.5" stroke="#e84a4a" stroke-width="1.25"/>
<line x1="666.1" y1="354.5" x2="670.5" y2="358.1" stroke="#a8e29a" stroke-width="1.25"/>
<line x1="674.7" y1="350.9" x2="672.6" y2="354.5" stroke="#e84a4a" stroke-width="1.25"/>
<line x1="672.6" y1="354.5" x2="670.5" y2="358.1" stroke="#a8e29a" stroke-width="1.25"/>
<line x1="514.5" y1="358.1" x2="512.2" y2="361.2" stroke="#a8e29a" stroke-width="1.25"/>
<line x1="512.2" y1="361.2" x2="509.9" y2="364.3" stroke="#e84a4a" stroke-width="1.25"/>
<line x1="514.5" y1="358.1" x2="518.7" y2="361.2" stroke="#a8e29a" stroke-width="1.25"/>
<line x1="518.7" y1="361.2" x2="523" y2="364.3" stroke="#e84a4a" stroke-width="1.25"/>
<line x1="527.5" y1="358.1" x2="525.2" y2="361.2" stroke="#a8e29a" stroke-width="1.25"/>
<line x1="525.2" y1="361.2" x2="523" y2="364.3" stroke="#e84a4a" stroke-width="1.25"/>
<line x1="527.5" y1="358.1" x2="531.7" y2="361.2" stroke="#a8e29a" stroke-width="1.25"/>
<line x1="531.7" y1="361.2" x2="536" y2="364.3" stroke="#e84a4a" stroke-width="1.25"/>
<line x1="540.5" y1="358.1" x2="538.2" y2="361.2" stroke="#a8e29a" stroke-width="1.25"/>
<line x1="538.2" y1="361.2" x2="536" y2="364.3" stroke="#e84a4a" stroke-width="1.25"/>
<line x1="540.5" y1="358.1" x2="544.7" y2="361.2" stroke="#a8e29a" stroke-width="1.25"/>
<line x1="544.7" y1="361.2" x2="549" y2="364.3" stroke="#e84a4a" stroke-width="1.25"/>
<line x1="553.5" y1="358.1" x2="551.2" y2="361.2" stroke="#a8e29a" stroke-width="1.25"/>
<line x1="551.2" y1="361.2" x2="549" y2="364.3" stroke="#e84a4a" stroke-width="1.25"/>
<line x1="553.5" y1="358.1" x2="557.7" y2="361.2" stroke="#a8e29a" stroke-width="1.25"/>
<line x1="557.7" y1="361.2" x2="562" y2="364.3" stroke="#e84a4a" stroke-width="1.25"/>
<line x1="566.5" y1="358.1" x2="564.2" y2="361.2" stroke="#a8e29a" stroke-width="1.25"/>
<line x1="564.2" y1="361.2" x2="562" y2="364.3" stroke="#e84a4a" stroke-width="1.25"/>
<line x1="566.5" y1="358.1" x2="570.7" y2="361.2" stroke="#a8e29a" stroke-width="1.25"/>
<line x1="570.7" y1="361.2" x2="575" y2="364.3" stroke="#e84a4a" stroke-width="1.25"/>
<line x1="579.5" y1="358.1" x2="577.2" y2="361.2" stroke="#a8e29a" stroke-width="1.25"/>
<line x1="577.2" y1="361.2" x2="575" y2="364.3" stroke="#e84a4a" stroke-width="1.25"/>
<line x1="579.5" y1="358.1" x2="583.7" y2="361.2" stroke="#a8e29a" stroke-width="1.25"/>
<line x1="583.7" y1="361.2" x2="588" y2="364.3" stroke="#e84a4a" stroke-width="1.25"/>
<line x1="592.5" y1="358.1" x2="590.2" y2="361.2" stroke="#a8e29a" stroke-width="1.25"/>
<line x1="590.2" y1="361.2" x2="588" y2="364.3" stroke="#e84a4a" stroke-width="1.25"/>
<line x1="592.5" y1="358.1" x2="596.7" y2="361.2" stroke="#a8e29a" stroke-width="1.25"/>
<line x1="596.7" y1="361.2" x2="601" y2="364.3" stroke="#e84a4a" stroke-width="1.25"/>
<line x1="605.5" y1="358.1" x2="603.2" y2="361.2" stroke="#a8e29a" stroke-width="1.25"/>
<line x1="603.2" y1="361.2" x2="601" y2="364.3" stroke="#e84a4a" stroke-width="1.25"/>
<line x1="605.5" y1="358.1" x2="609.7" y2="361.2" stroke="#a8e29a" stroke-width="1.25"/>
<line x1="609.7" y1="361.2" x2="614" y2="364.3" stroke="#e84a4a" stroke-width="1.25"/>
<line x1="618.5" y1="358.1" x2="616.2" y2="361.2" stroke="#a8e29a" stroke-width="1.25"/>
<line x1="616.2" y1="361.2" x2="614" y2="364.3" stroke="#e84a4a" stroke-width="1.25"/>
<line x1="618.5" y1="358.1" x2="622.7" y2="361.2" stroke="#a8e29a" stroke-width="1.25"/>
<line x1="622.7" y1="361.2" x2="627" y2="364.3" stroke="#e84a4a" stroke-width="1.25"/>
<line x1="631.5" y1="358.1" x2="629.2" y2="361.2" stroke="#a8e29a" stroke-width="1.25"/>
<line x1="629.2" y1="361.2" x2="627" y2="364.3" stroke="#e84a4a" stroke-width="1.25"/>
<line x1="631.5" y1="358.1" x2="635.7" y2="361.2" stroke="#a8e29a" stroke-width="1.25"/>
<line x1="635.7" y1="361.2" x2="640" y2="364.3" stroke="#e84a4a" stroke-width="1.25"/>
<line x1="644.5" y1="358.1" x2="642.2" y2="361.2" stroke="#a8e29a" stroke-width="1.25"/>
<line x1="642.2" y1="361.2" x2="640" y2="364.3" stroke="#e84a4a" stroke-width="1.25"/>
<line x1="644.5" y1="358.1" x2="648.7" y2="361.2" stroke="#a8e29a" stroke-width="1.25"/>
<line x1="648.7" y1="361.2" x2="653" y2="364.3" stroke="#e84a4a" stroke-width="1.25"/>
<line x1="657.5" y1="358.1" x2="655.2" y2="361.2" stroke="#a8e29a" stroke-width="1.25"/>
<line x1="655.2" y1="361.2" x2="653" y2="364.3" stroke="#e84a4a" stroke-width="1.25"/>
<line x1="657.5" y1="358.1" x2="661.7" y2="361.2" stroke="#a8e29a" stroke-width="1.25"/>
<line x1="661.7" y1="361.2" x2="666" y2="364.3" stroke="#e84a4a" stroke-width="1.25"/>
<line x1="670.5" y1="358.1" x2="668.2" y2="361.2" stroke="#a8e29a" stroke-width="1.25"/>
<line x1="668.2" y1="361.2" x2="666" y2="364.3" stroke="#e84a4a" stroke-width="1.25"/>
<line x1="670.5" y1="358.1" x2="674.7" y2="361.2" stroke="#a8e29a" stroke-width="1.25"/>
<line x1="674.7" y1="361.2" x2="679" y2="364.3" stroke="#e84a4a" stroke-width="1.25"/>
<circle cx="514.5" cy="320.5" r="2.9" fill="url(#ballG)"/>
<circle cx="527.5" cy="320.5" r="2.9" fill="url(#ballG)"/>
<circle cx="540.5" cy="320.5" r="2.9" fill="url(#ballG)"/>
<circle cx="553.5" cy="320.5" r="2.9" fill="url(#ballG)"/>
<circle cx="566.5" cy="320.5" r="2.9" fill="url(#ballG)"/>
<circle cx="579.5" cy="320.5" r="2.9" fill="url(#ballG)"/>
<circle cx="592.5" cy="320.5" r="2.9" fill="url(#ballG)"/>
<circle cx="605.5" cy="320.5" r="2.9" fill="url(#ballG)"/>
<circle cx="618.5" cy="320.5" r="2.9" fill="url(#ballG)"/>
<circle cx="631.5" cy="320.5" r="2.9" fill="url(#ballG)"/>
<circle cx="644.5" cy="320.5" r="2.9" fill="url(#ballG)"/>
<circle cx="657.5" cy="320.5" r="2.9" fill="url(#ballG)"/>
<circle cx="670.5" cy="320.5" r="2.9" fill="url(#ballG)"/>
<circle cx="509.9" cy="326" r="1.6" fill="#e0201c"/>
<circle cx="523" cy="326" r="1.6" fill="#e0201c"/>
<circle cx="536" cy="326" r="1.6" fill="#e0201c"/>
<circle cx="549" cy="326" r="1.6" fill="#e0201c"/>
<circle cx="562" cy="326" r="1.6" fill="#e0201c"/>
<circle cx="575" cy="326" r="1.6" fill="#e0201c"/>
<circle cx="588" cy="326" r="1.6" fill="#e0201c"/>
<circle cx="601" cy="326" r="1.6" fill="#e0201c"/>
<circle cx="614" cy="326" r="1.6" fill="#e0201c"/>
<circle cx="627" cy="326" r="1.6" fill="#e0201c"/>
<circle cx="640" cy="326" r="1.6" fill="#e0201c"/>
<circle cx="653" cy="326" r="1.6" fill="#e0201c"/>
<circle cx="666" cy="326" r="1.6" fill="#e0201c"/>
<circle cx="679" cy="326" r="1.6" fill="#e0201c"/>
<circle cx="531.8" cy="333.2" r="3.2" fill="url(#ballL)"/>
<circle cx="544.8" cy="333.2" r="3.2" fill="url(#ballL)"/>
<circle cx="557.8" cy="333.2" r="3.2" fill="url(#ballL)"/>
<circle cx="570.8" cy="333.2" r="3.2" fill="url(#ballL)"/>
<circle cx="583.8" cy="333.2" r="3.2" fill="url(#ballL)"/>
<circle cx="596.8" cy="333.2" r="3.2" fill="url(#ballL)"/>
<circle cx="609.8" cy="333.2" r="3.2" fill="url(#ballL)"/>
<circle cx="622.8" cy="333.2" r="3.2" fill="url(#ballL)"/>
<circle cx="635.8" cy="333.2" r="3.2" fill="url(#ballL)"/>
<circle cx="648.8" cy="333.2" r="3.2" fill="url(#ballL)"/>
<circle cx="661.8" cy="333.2" r="3.2" fill="url(#ballL)"/>
<circle cx="514.5" cy="340" r="1.6" fill="#e0201c"/>
<circle cx="527.5" cy="340" r="1.6" fill="#e0201c"/>
<circle cx="540.5" cy="340" r="1.6" fill="#e0201c"/>
<circle cx="553.5" cy="340" r="1.6" fill="#e0201c"/>
<circle cx="566.5" cy="340" r="1.6" fill="#e0201c"/>
<circle cx="579.5" cy="340" r="1.6" fill="#e0201c"/>
<circle cx="592.5" cy="340" r="1.6" fill="#e0201c"/>
<circle cx="605.5" cy="340" r="1.6" fill="#e0201c"/>
<circle cx="618.5" cy="340" r="1.6" fill="#e0201c"/>
<circle cx="631.5" cy="340" r="1.6" fill="#e0201c"/>
<circle cx="644.5" cy="340" r="1.6" fill="#e0201c"/>
<circle cx="657.5" cy="340" r="1.6" fill="#e0201c"/>
<circle cx="670.5" cy="340" r="1.6" fill="#e0201c"/>
<circle cx="523.3" cy="345.5" r="2.9" fill="url(#ballG)"/>
<circle cx="536.3" cy="345.5" r="2.9" fill="url(#ballG)"/>
<circle cx="549.3" cy="345.5" r="2.9" fill="url(#ballG)"/>
<circle cx="562.3" cy="345.5" r="2.9" fill="url(#ballG)"/>
<circle cx="575.3" cy="345.5" r="2.9" fill="url(#ballG)"/>
<circle cx="588.3" cy="345.5" r="2.9" fill="url(#ballG)"/>
<circle cx="601.3" cy="345.5" r="2.9" fill="url(#ballG)"/>
<circle cx="614.3" cy="345.5" r="2.9" fill="url(#ballG)"/>
<circle cx="627.3" cy="345.5" r="2.9" fill="url(#ballG)"/>
<circle cx="640.3" cy="345.5" r="2.9" fill="url(#ballG)"/>
<circle cx="653.3" cy="345.5" r="2.9" fill="url(#ballG)"/>
<circle cx="505.7" cy="350.9" r="1.6" fill="#e0201c"/>
<circle cx="518.7" cy="350.9" r="1.6" fill="#e0201c"/>
<circle cx="531.7" cy="350.9" r="1.6" fill="#e0201c"/>
<circle cx="544.7" cy="350.9" r="1.6" fill="#e0201c"/>
<circle cx="557.7" cy="350.9" r="1.6" fill="#e0201c"/>
<circle cx="570.7" cy="350.9" r="1.6" fill="#e0201c"/>
<circle cx="583.7" cy="350.9" r="1.6" fill="#e0201c"/>
<circle cx="596.7" cy="350.9" r="1.6" fill="#e0201c"/>
<circle cx="609.7" cy="350.9" r="1.6" fill="#e0201c"/>
<circle cx="622.7" cy="350.9" r="1.6" fill="#e0201c"/>
<circle cx="635.7" cy="350.9" r="1.6" fill="#e0201c"/>
<circle cx="648.7" cy="350.9" r="1.6" fill="#e0201c"/>
<circle cx="661.7" cy="350.9" r="1.6" fill="#e0201c"/>
<circle cx="674.7" cy="350.9" r="1.6" fill="#e0201c"/>
<circle cx="514.5" cy="358.1" r="3.2" fill="url(#ballL)"/>
<circle cx="527.5" cy="358.1" r="3.2" fill="url(#ballL)"/>
<circle cx="540.5" cy="358.1" r="3.2" fill="url(#ballL)"/>
<circle cx="553.5" cy="358.1" r="3.2" fill="url(#ballL)"/>
<circle cx="566.5" cy="358.1" r="3.2" fill="url(#ballL)"/>
<circle cx="579.5" cy="358.1" r="3.2" fill="url(#ballL)"/>
<circle cx="592.5" cy="358.1" r="3.2" fill="url(#ballL)"/>
<circle cx="605.5" cy="358.1" r="3.2" fill="url(#ballL)"/>
<circle cx="618.5" cy="358.1" r="3.2" fill="url(#ballL)"/>
<circle cx="631.5" cy="358.1" r="3.2" fill="url(#ballL)"/>
<circle cx="644.5" cy="358.1" r="3.2" fill="url(#ballL)"/>
<circle cx="657.5" cy="358.1" r="3.2" fill="url(#ballL)"/>
<circle cx="670.5" cy="358.1" r="3.2" fill="url(#ballL)"/>
<circle cx="509.9" cy="364.3" r="1.6" fill="#e0201c"/>
<circle cx="523" cy="364.3" r="1.6" fill="#e0201c"/>
<circle cx="536" cy="364.3" r="1.6" fill="#e0201c"/>
<circle cx="549" cy="364.3" r="1.6" fill="#e0201c"/>
<circle cx="562" cy="364.3" r="1.6" fill="#e0201c"/>
<circle cx="575" cy="364.3" r="1.6" fill="#e0201c"/>
<circle cx="588" cy="364.3" r="1.6" fill="#e0201c"/>
<circle cx="601" cy="364.3" r="1.6" fill="#e0201c"/>
<circle cx="614" cy="364.3" r="1.6" fill="#e0201c"/>
<circle cx="627" cy="364.3" r="1.6" fill="#e0201c"/>
<circle cx="640" cy="364.3" r="1.6" fill="#e0201c"/>
<circle cx="653" cy="364.3" r="1.6" fill="#e0201c"/>
<circle cx="666" cy="364.3" r="1.6" fill="#e0201c"/>
<circle cx="679" cy="364.3" r="1.6" fill="#e0201c"/>
<line x1="580.2" y1="170.7" x2="584" y2="170.6" stroke="#a07050" stroke-width="1.1"/>
<line x1="584" y1="170.6" x2="587.8" y2="170.5" stroke="#a07050" stroke-width="1.1"/>
<line x1="587.8" y1="170.5" x2="590.1" y2="169.1" stroke="#a07050" stroke-width="1.1"/>
<line x1="590.1" y1="169.1" x2="592.5" y2="167.7" stroke="#a07050" stroke-width="1.1"/>
<line x1="580.2" y1="170.7" x2="579.4" y2="174.4" stroke="#a07050" stroke-width="1.1"/>
<line x1="579.4" y1="174.4" x2="578.5" y2="178.1" stroke="#e86060" stroke-width="1.1"/>
<line x1="587.8" y1="170.5" x2="588.6" y2="174.1" stroke="#a07050" stroke-width="1.1"/>
<line x1="588.6" y1="174.1" x2="589.5" y2="177.6" stroke="#e86060" stroke-width="1.1"/>
<line x1="578.5" y1="178.1" x2="581.2" y2="179.7" stroke="#e86060" stroke-width="1.1"/>
<line x1="581.2" y1="179.7" x2="584" y2="181.3" stroke="#a07050" stroke-width="1.1"/>
<line x1="589.5" y1="177.6" x2="586.8" y2="179.4" stroke="#e86060" stroke-width="1.1"/>
<line x1="586.8" y1="179.4" x2="584" y2="181.3" stroke="#a07050" stroke-width="1.1"/>
<line x1="584" y1="181.3" x2="584.1" y2="184.7" stroke="#a07050" stroke-width="1.1"/>
<line x1="584.1" y1="184.7" x2="584.3" y2="188" stroke="#e86060" stroke-width="1.1"/>
<line x1="580.2" y1="170.7" x2="579.2" y2="169" stroke="#a07050" stroke-width="1.1"/>
<line x1="579.2" y1="169" x2="578.1" y2="167.3" stroke="#f0dada" stroke-width="1.1"/>
<line x1="580.2" y1="170.7" x2="578.3" y2="169.8" stroke="#a07050" stroke-width="1.1"/>
<line x1="578.3" y1="169.8" x2="576.4" y2="168.8" stroke="#f0dada" stroke-width="1.1"/>
<line x1="592.5" y1="167.7" x2="591.2" y2="165.6" stroke="#a07050" stroke-width="1.1"/>
<line x1="591.2" y1="165.6" x2="590" y2="163.5" stroke="#f0dada" stroke-width="1.1"/>
<line x1="592.5" y1="167.7" x2="595" y2="166.8" stroke="#a07050" stroke-width="1.1"/>
<line x1="595" y1="166.8" x2="597.6" y2="166" stroke="#f0dada" stroke-width="1.1"/>
<line x1="592.5" y1="167.7" x2="592.9" y2="169.8" stroke="#a07050" stroke-width="1.1"/>
<line x1="592.9" y1="169.8" x2="593.3" y2="172" stroke="#f0dada" stroke-width="1.1"/>
<line x1="587.8" y1="170.5" x2="588.2" y2="168.7" stroke="#a07050" stroke-width="1.1"/>
<line x1="588.2" y1="168.7" x2="588.7" y2="166.9" stroke="#f0dada" stroke-width="1.1"/>
<circle cx="580.2" cy="170.7" r="1.6" fill="#8b5e3c"/>
<circle cx="587.8" cy="170.5" r="1.6" fill="#8b5e3c"/>
<circle cx="592.5" cy="167.7" r="1.6" fill="#8b5e3c"/>
<circle cx="578.5" cy="178.1" r="1.5" fill="#e02020"/>
<circle cx="589.5" cy="177.6" r="1.5" fill="#e02020"/>
<circle cx="584" cy="181.3" r="1.6" fill="#8b5e3c"/>
<circle cx="584.3" cy="188" r="1.5" fill="#e02020"/>
<circle cx="578.1" cy="167.3" r="1.1" fill="#efcfcf"/>
<circle cx="576.4" cy="168.8" r="1.1" fill="#efcfcf"/>
<circle cx="590" cy="163.5" r="1.1" fill="#efcfcf"/>
<circle cx="597.6" cy="166" r="1.1" fill="#efcfcf"/>
<circle cx="593.3" cy="172" r="1.1" fill="#efcfcf"/>
<circle cx="588.7" cy="166.9" r="1.1" fill="#efcfcf"/>
<line x1="575.9" y1="302.3" x2="579.5" y2="304.4" stroke="#a07050" stroke-width="1.1"/>
<line x1="579.5" y1="304.4" x2="583" y2="306.5" stroke="#e86060" stroke-width="1.1"/>
<line x1="583" y1="306.5" x2="586.1" y2="303.9" stroke="#e86060" stroke-width="1.1"/>
<line x1="586.1" y1="303.9" x2="589.3" y2="301.4" stroke="#a07050" stroke-width="1.1"/>
<line x1="589.3" y1="301.4" x2="592.7" y2="303.6" stroke="#a07050" stroke-width="1.1"/>
<line x1="592.7" y1="303.6" x2="596.1" y2="305.8" stroke="#a07050" stroke-width="1.1"/>
<line x1="596.1" y1="305.8" x2="599.2" y2="303.6" stroke="#a07050" stroke-width="1.1"/>
<line x1="599.2" y1="303.6" x2="602.2" y2="301.4" stroke="#e86060" stroke-width="1.1"/>
<line x1="602.2" y1="301.4" x2="605.7" y2="303.4" stroke="#e86060" stroke-width="1.1"/>
<line x1="605.7" y1="303.4" x2="609.2" y2="305.3" stroke="#a07050" stroke-width="1.1"/>
<line x1="575.9" y1="302.3" x2="573.8" y2="304.2" stroke="#a07050" stroke-width="1.1"/>
<line x1="573.8" y1="304.2" x2="571.6" y2="306.2" stroke="#f0dada" stroke-width="1.1"/>
<line x1="575.9" y1="302.3" x2="575.9" y2="300.6" stroke="#a07050" stroke-width="1.1"/>
<line x1="575.9" y1="300.6" x2="575.9" y2="298.8" stroke="#f0dada" stroke-width="1.1"/>
<line x1="589.3" y1="301.4" x2="589.2" y2="299.8" stroke="#a07050" stroke-width="1.1"/>
<line x1="589.2" y1="299.8" x2="589.1" y2="298.1" stroke="#f0dada" stroke-width="1.1"/>
<line x1="596.1" y1="305.8" x2="596.1" y2="307.6" stroke="#a07050" stroke-width="1.1"/>
<line x1="596.1" y1="307.6" x2="596.1" y2="309.4" stroke="#f0dada" stroke-width="1.1"/>
<line x1="609.2" y1="305.3" x2="609.2" y2="307" stroke="#a07050" stroke-width="1.1"/>
<line x1="609.2" y1="307" x2="609.2" y2="308.6" stroke="#f0dada" stroke-width="1.1"/>
<line x1="609.2" y1="305.3" x2="611.6" y2="303.5" stroke="#a07050" stroke-width="1.1"/>
<line x1="611.6" y1="303.5" x2="614" y2="301.6" stroke="#f0dada" stroke-width="1.1"/>
<circle cx="575.9" cy="302.3" r="1.6" fill="#8b5e3c"/>
<circle cx="583" cy="306.5" r="1.5" fill="#e02020"/>
<circle cx="589.3" cy="301.4" r="1.6" fill="#8b5e3c"/>
<circle cx="596.1" cy="305.8" r="1.6" fill="#8b5e3c"/>
<circle cx="602.2" cy="301.4" r="1.5" fill="#e02020"/>
<circle cx="609.2" cy="305.3" r="1.6" fill="#8b5e3c"/>
<circle cx="571.6" cy="306.2" r="1.1" fill="#efcfcf"/>
<circle cx="575.9" cy="298.8" r="1.1" fill="#efcfcf"/>
<circle cx="589.1" cy="298.1" r="1.1" fill="#efcfcf"/>
<circle cx="596.1" cy="309.4" r="1.1" fill="#efcfcf"/>
<circle cx="609.2" cy="308.6" r="1.1" fill="#efcfcf"/>
<circle cx="614" cy="301.6" r="1.1" fill="#efcfcf"/>
<line x1="553.9" y1="23.1" x2="556.5" y2="23.9" stroke="#a07050" stroke-width="1.1"/>
<line x1="556.5" y1="23.9" x2="559" y2="24.6" stroke="#a07050" stroke-width="1.1"/>
<line x1="553.9" y1="23.1" x2="552.5" y2="26.4" stroke="#a07050" stroke-width="1.1"/>
<line x1="552.5" y1="26.4" x2="551" y2="29.7" stroke="#e86060" stroke-width="1.1"/>
<line x1="559" y1="24.6" x2="558.1" y2="28.1" stroke="#a07050" stroke-width="1.1"/>
<line x1="558.1" y1="28.1" x2="557.2" y2="31.6" stroke="#e86060" stroke-width="1.1"/>
<line x1="551" y1="29.7" x2="551.7" y2="31.5" stroke="#e86060" stroke-width="1.1"/>
<line x1="551.7" y1="31.5" x2="552.4" y2="33.4" stroke="#a07050" stroke-width="1.1"/>
<line x1="557.2" y1="31.6" x2="554.8" y2="32.5" stroke="#e86060" stroke-width="1.1"/>
<line x1="554.8" y1="32.5" x2="552.4" y2="33.4" stroke="#a07050" stroke-width="1.1"/>
<line x1="552.4" y1="33.4" x2="551.3" y2="36.6" stroke="#a07050" stroke-width="1.1"/>
<line x1="551.3" y1="36.6" x2="550.2" y2="39.9" stroke="#e86060" stroke-width="1.1"/>
<line x1="559" y1="24.6" x2="562.6" y2="25.5" stroke="#a07050" stroke-width="1.1"/>
<line x1="562.6" y1="25.5" x2="566.3" y2="26.4" stroke="#a07050" stroke-width="1.1"/>
<line x1="566.3" y1="26.4" x2="568.8" y2="27.3" stroke="#a07050" stroke-width="1.1"/>
<line x1="568.8" y1="27.3" x2="571.4" y2="28.2" stroke="#a07050" stroke-width="1.1"/>
<line x1="571.4" y1="28.2" x2="573.2" y2="30.8" stroke="#a07050" stroke-width="1.1"/>
<line x1="573.2" y1="30.8" x2="575" y2="33.4" stroke="#a07050" stroke-width="1.1"/>
<line x1="575" y1="33.4" x2="574.6" y2="36.6" stroke="#a07050" stroke-width="1.1"/>
<line x1="574.6" y1="36.6" x2="574.3" y2="39.9" stroke="#e86060" stroke-width="1.1"/>
<line x1="575" y1="33.4" x2="578.6" y2="33.1" stroke="#a07050" stroke-width="1.1"/>
<line x1="578.6" y1="33.1" x2="582.3" y2="32.9" stroke="#a0b0e0" stroke-width="1.1"/>
<line x1="582.3" y1="32.9" x2="584.5" y2="30.5" stroke="#a0b0e0" stroke-width="1.1"/>
<line x1="584.5" y1="30.5" x2="586.7" y2="28.2" stroke="#a07050" stroke-width="1.1"/>
<line x1="586.7" y1="28.2" x2="588.9" y2="28.4" stroke="#a07050" stroke-width="1.1"/>
<line x1="588.9" y1="28.4" x2="591.1" y2="28.5" stroke="#a0b0e0" stroke-width="1.1"/>
<line x1="591.1" y1="28.5" x2="593.3" y2="30.9" stroke="#a0b0e0" stroke-width="1.1"/>
<line x1="593.3" y1="30.9" x2="595.5" y2="33.4" stroke="#a07050" stroke-width="1.1"/>
<line x1="595.5" y1="33.4" x2="595.4" y2="36.6" stroke="#a07050" stroke-width="1.1"/>
<line x1="595.4" y1="36.6" x2="595.2" y2="39.9" stroke="#e86060" stroke-width="1.1"/>
<line x1="595.5" y1="33.4" x2="599.1" y2="31.2" stroke="#a07050" stroke-width="1.1"/>
<line x1="599.1" y1="31.2" x2="602.8" y2="29" stroke="#a07050" stroke-width="1.1"/>
<line x1="602.8" y1="29" x2="604.6" y2="28.1" stroke="#a07050" stroke-width="1.1"/>
<line x1="604.6" y1="28.1" x2="606.4" y2="27.2" stroke="#a07050" stroke-width="1.1"/>
<line x1="606.4" y1="27.2" x2="610.5" y2="25.9" stroke="#a07050" stroke-width="1.1"/>
<line x1="610.5" y1="25.9" x2="614.5" y2="24.6" stroke="#a07050" stroke-width="1.1"/>
<line x1="614.5" y1="24.6" x2="616.6" y2="23.9" stroke="#a07050" stroke-width="1.1"/>
<line x1="616.6" y1="23.9" x2="618.8" y2="23.1" stroke="#a07050" stroke-width="1.1"/>
<line x1="614.5" y1="24.6" x2="616" y2="28.2" stroke="#a07050" stroke-width="1.1"/>
<line x1="616" y1="28.2" x2="617.4" y2="31.9" stroke="#e86060" stroke-width="1.1"/>
<line x1="617.4" y1="31.9" x2="619.2" y2="32.6" stroke="#e86060" stroke-width="1.1"/>
<line x1="619.2" y1="32.6" x2="621" y2="33.4" stroke="#a07050" stroke-width="1.1"/>
<line x1="618.8" y1="23.1" x2="620.6" y2="26.6" stroke="#a07050" stroke-width="1.1"/>
<line x1="620.6" y1="26.6" x2="622.5" y2="30" stroke="#e86060" stroke-width="1.1"/>
<line x1="622.5" y1="30" x2="621.8" y2="31.7" stroke="#e86060" stroke-width="1.1"/>
<line x1="621.8" y1="31.7" x2="621" y2="33.4" stroke="#a07050" stroke-width="1.1"/>
<line x1="621" y1="33.4" x2="622.1" y2="36.6" stroke="#a07050" stroke-width="1.1"/>
<line x1="622.1" y1="36.6" x2="623.2" y2="39.9" stroke="#e86060" stroke-width="1.1"/>
<line x1="553.9" y1="23.1" x2="552.2" y2="21.8" stroke="#a07050" stroke-width="1.1"/>
<line x1="552.2" y1="21.8" x2="550.5" y2="20.5" stroke="#f0dada" stroke-width="1.1"/>
<line x1="553.9" y1="23.1" x2="554.7" y2="21.6" stroke="#a07050" stroke-width="1.1"/>
<line x1="554.7" y1="21.6" x2="555.5" y2="20" stroke="#f0dada" stroke-width="1.1"/>
<line x1="559" y1="24.6" x2="559.5" y2="22.7" stroke="#a07050" stroke-width="1.1"/>
<line x1="559.5" y1="22.7" x2="560" y2="20.8" stroke="#f0dada" stroke-width="1.1"/>
<line x1="566.3" y1="26.4" x2="566.1" y2="24.4" stroke="#a07050" stroke-width="1.1"/>
<line x1="566.1" y1="24.4" x2="566" y2="22.5" stroke="#f0dada" stroke-width="1.1"/>
<line x1="571.4" y1="28.2" x2="570.7" y2="26.4" stroke="#a07050" stroke-width="1.1"/>
<line x1="570.7" y1="26.4" x2="570" y2="24.5" stroke="#f0dada" stroke-width="1.1"/>
<line x1="571.4" y1="28.2" x2="572.5" y2="26.4" stroke="#a07050" stroke-width="1.1"/>
<line x1="572.5" y1="26.4" x2="573.5" y2="24.5" stroke="#f0dada" stroke-width="1.1"/>
<line x1="586.7" y1="28.2" x2="585.1" y2="27.1" stroke="#a07050" stroke-width="1.1"/>
<line x1="585.1" y1="27.1" x2="583.5" y2="26" stroke="#f0dada" stroke-width="1.1"/>
<line x1="591.1" y1="28.5" x2="591.8" y2="26.2" stroke="#a0b0e0" stroke-width="1.1"/>
<line x1="591.8" y1="26.2" x2="592.5" y2="24" stroke="#f0dada" stroke-width="1.1"/>
<line x1="602.8" y1="29" x2="601.9" y2="31.2" stroke="#a07050" stroke-width="1.1"/>
<line x1="601.9" y1="31.2" x2="601" y2="33.5" stroke="#f0dada" stroke-width="1.1"/>
<line x1="606.4" y1="27.2" x2="606" y2="29.6" stroke="#a07050" stroke-width="1.1"/>
<line x1="606" y1="29.6" x2="605.5" y2="32" stroke="#f0dada" stroke-width="1.1"/>
<line x1="614.5" y1="24.6" x2="613.2" y2="23.3" stroke="#a07050" stroke-width="1.1"/>
<line x1="613.2" y1="23.3" x2="612" y2="22" stroke="#f0dada" stroke-width="1.1"/>
<line x1="618.8" y1="23.1" x2="618.6" y2="21.7" stroke="#a07050" stroke-width="1.1"/>
<line x1="618.6" y1="21.7" x2="618.5" y2="20.3" stroke="#f0dada" stroke-width="1.1"/>
<line x1="618.8" y1="23.1" x2="620.6" y2="21.8" stroke="#a07050" stroke-width="1.1"/>
<line x1="620.6" y1="21.8" x2="622.5" y2="20.5" stroke="#f0dada" stroke-width="1.1"/>
<line x1="553.9" y1="23.1" x2="551.7" y2="25.3" stroke="#a07050" stroke-width="1.1"/>
<line x1="551.7" y1="25.3" x2="549.5" y2="27.5" stroke="#f0dada" stroke-width="1.1"/>
<line x1="618.8" y1="23.1" x2="621.6" y2="25.3" stroke="#a07050" stroke-width="1.1"/>
<line x1="621.6" y1="25.3" x2="624.5" y2="27.5" stroke="#f0dada" stroke-width="1.1"/>
<circle cx="553.9" cy="23.1" r="1.6" fill="#8b5e3c"/>
<circle cx="559" cy="24.6" r="1.6" fill="#8b5e3c"/>
<circle cx="551" cy="29.7" r="1.5" fill="#e02020"/>
<circle cx="557.2" cy="31.6" r="1.5" fill="#e02020"/>
<circle cx="552.4" cy="33.4" r="1.6" fill="#8b5e3c"/>
<circle cx="550.2" cy="39.9" r="1.5" fill="#e02020"/>
<circle cx="566.3" cy="26.4" r="1.6" fill="#8b5e3c"/>
<circle cx="571.4" cy="28.2" r="1.6" fill="#8b5e3c"/>
<circle cx="575" cy="33.4" r="1.6" fill="#8b5e3c"/>
<circle cx="574.3" cy="39.9" r="1.5" fill="#e02020"/>
<circle cx="582.3" cy="32.9" r="1.6" fill="#8a9ad0"/>
<circle cx="586.7" cy="28.2" r="1.6" fill="#8b5e3c"/>
<circle cx="591.1" cy="28.5" r="1.6" fill="#8a9ad0"/>
<circle cx="595.5" cy="33.4" r="1.6" fill="#8b5e3c"/>
<circle cx="595.2" cy="39.9" r="1.5" fill="#e02020"/>
<circle cx="602.8" cy="29" r="1.6" fill="#8b5e3c"/>
<circle cx="606.4" cy="27.2" r="1.6" fill="#8b5e3c"/>
<circle cx="614.5" cy="24.6" r="1.6" fill="#8b5e3c"/>
<circle cx="618.8" cy="23.1" r="1.6" fill="#8b5e3c"/>
<circle cx="617.4" cy="31.9" r="1.5" fill="#e02020"/>
<circle cx="621" cy="33.4" r="1.6" fill="#8b5e3c"/>
<circle cx="623.2" cy="39.9" r="1.5" fill="#e02020"/>
<circle cx="622.5" cy="30" r="1.5" fill="#e02020"/>
<circle cx="550.5" cy="20.5" r="1.1" fill="#efcfcf"/>
<circle cx="555.5" cy="20" r="1.1" fill="#efcfcf"/>
<circle cx="560" cy="20.8" r="1.1" fill="#efcfcf"/>
<circle cx="566" cy="22.5" r="1.1" fill="#efcfcf"/>
<circle cx="570" cy="24.5" r="1.1" fill="#efcfcf"/>
<circle cx="573.5" cy="24.5" r="1.1" fill="#efcfcf"/>
<circle cx="583.5" cy="26" r="1.1" fill="#efcfcf"/>
<circle cx="592.5" cy="24" r="1.1" fill="#efcfcf"/>
<circle cx="601" cy="33.5" r="1.1" fill="#efcfcf"/>
<circle cx="605.5" cy="32" r="1.1" fill="#efcfcf"/>
<circle cx="612" cy="22" r="1.1" fill="#efcfcf"/>
<circle cx="618.5" cy="20.3" r="1.1" fill="#efcfcf"/>
<circle cx="622.5" cy="20.5" r="1.1" fill="#efcfcf"/>
<circle cx="549.5" cy="27.5" r="1.1" fill="#efcfcf"/>
<circle cx="624.5" cy="27.5" r="1.1" fill="#efcfcf"/>
<circle cx="506.9" cy="103.9" r="2.3" fill="#8b5e3c" stroke="#5a3a22" stroke-width="0.7"/>
<circle cx="506.9" cy="120.6" r="1.6" fill="#ecd2d2" stroke="#d0b0b0" stroke-width="0.7"/>
<circle cx="506.9" cy="137.8" r="2.2" fill="#e02020" stroke="#b01010" stroke-width="0.7"/>
<circle cx="506.9" cy="154.6" r="2.0" fill="#e8ecf8" stroke="#7282c0" stroke-width="0.7"/>
<circle cx="507.4" cy="171" r="4.5" fill="url(#ballL)"/>
<circle cx="507.2" cy="188.3" r="4.5" fill="url(#ballG)"/>
<text x="515" y="107.9" font-size="9.3" text-anchor="start" font-weight="normal" fill="#000" >C</text>
<text x="515.2" y="124.4" font-size="9.3" text-anchor="start" font-weight="normal" fill="#000" >H</text>
<text transform="translate(515.9,141.2) scale(0.86,1)" font-size="9.2">O</text>
<text x="515.7" y="157.7" font-size="9.3" text-anchor="start" font-weight="normal" fill="#000" >N</text>
<text x="515.8" y="175.1" font-size="9.3" text-anchor="start" font-weight="normal" fill="#000" >Li</text>
<text x="515.3" y="192.1" font-size="9.3" text-anchor="start" font-weight="normal" fill="#000" >Ni</text>
<text x="591.2" y="110" font-size="10.8" text-anchor="middle" font-weight="bold" fill="#000" >PVM-NCM811</text>
<text x="589.3" y="126.1" font-size="10.9" text-anchor="middle" font-weight="normal" fill="#000" >-457.79 Kcal/mol</text>
<text x="591.5" y="258.6" font-size="10.8" text-anchor="middle" font-weight="bold" fill="#000" >PC-NCM811</text>
<text x="594.5" y="277.1" font-size="10.9" text-anchor="middle" font-weight="normal" fill="#000" >-111.97 Kcal/mol</text>
<text x="594.2" y="380.3" font-size="10.8" text-anchor="middle" font-weight="bold" fill="#000" >DME-NCM811</text>
<text x="594.2" y="399.1" font-size="10.9" text-anchor="middle" font-weight="normal" fill="#000" >-112.41 Kcal/mol</text>
</svg>
</body></html>
